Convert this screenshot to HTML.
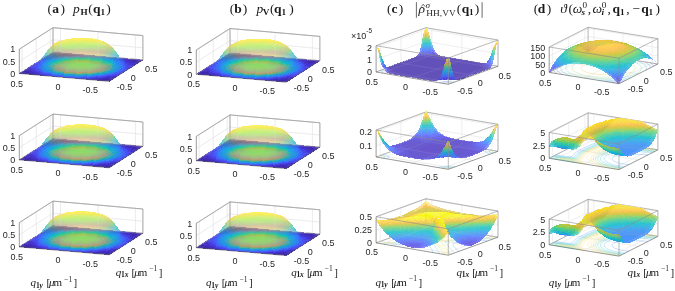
<!DOCTYPE html>
<html><head><meta charset="utf-8"><style>
html,body{margin:0;padding:0;background:#fff;width:675px;height:291px;overflow:hidden}
svg{display:block;position:absolute;left:0;top:0}
#tx{will-change:transform}
text{font-family:"Liberation Sans",sans-serif;font-size:9px;fill:#262626}
.t text{font-family:"Liberation Serif",serif;fill:#1a1a1a}
</style></head><body>
<svg width="675" height="291" viewBox="0 0 675 291">
<defs><filter id="bl" x="-5%" y="-5%" width="110%" height="110%"><feGaussianBlur stdDeviation=".6"/></filter><g id="abs"><g shape-rendering="crispEdges" filter="url(#bl)"><path fill="#ffffff" d="M125.2 59.8l1.8-1.4-2.7-.5-1.8 1.4zM127.2 60l1.8-1.5-2.6-.4-1.8 1.4zM129.3 60.2l1.8-1.5-2.7-.5-1.8 1.5z"/><path fill="#fcfcff" d="M40.1 60.9l1.6-1-2.9.3-1.5 1.2z"/><path fill="#ffffff" d="M91.2 38.3l1.6.9-2.9-.1-1.6-.9zM93.2 38.5l1.6 1-2.9-.2-1.5-.9z"/><path fill="#fcf9b1" d="M95.3 38.8l1.6 1.2-2.9-.4-1.6-.9z"/><path fill="#f9f363" d="M83.5 38.7l1.6-.7-2.8-.2-1.7.5z"/><path fill="#f9f366" d="M71.8 38.8l1.6-.5-3 .5-1.5.1z"/><path fill="#fcf6b4" d="M97.3 39.2l1.6 1.3-2.9-.5-1.5-1.1z"/><path fill="#f9f363" d="M85.5 38.8l1.7-.7-2.9-.3-1.6.6z"/><path fill="#f9f684" d="M73.8 39l1.6-.9-2.9.1-1.6.6z"/><path fill="#ffffff" d="M99.3 39.6l1.6 1.7-2.8-.7-1.6-1.3z"/><path fill="#fcf69c" d="M87.5 39l1.7-.7-2.8-.5-1.7.8z"/><path fill="#f9f684" d="M75.8 39.1l1.7-1-2.9-.2-1.6.9z"/><path fill="#fcf9fc" d="M38.6 61.8l1.5-1.3-2.8.5-1.6 1.4z"/><path fill="#ffffff" d="M64.1 39.6l1.6-.1-2.8 1.3-1.7-.2z"/><path fill="#f9f375" d="M89.6 39.2l1.7-.7-2.8-.5-1.7.7z"/><path fill="#f9f363" d="M77.8 39.2l1.7-1.1-2.8-.3-1.7 1z"/><path fill="#ffffff" d="M66.2 39.6l1.5-.6-2.9.8-1.5.2z"/><path fill="#f9f372" d="M91.6 39.4l1.7-.6-2.8-.6-1.7.7z"/><path fill="#f9f063" d="M79.8 39.4l1.7-1.2-2.7-.4-1.7 1.1z"/><path fill="#f9f066" d="M68.2 39.7l1.6-1-2.9.2-1.6.7z"/><path fill="#f9f063" d="M93.7 39.7l1.6-.6-2.7-.7-1.7.7z"/><path fill="#fcf063" d="M81.8 39.6l1.8-1.3-2.7-.4-1.8 1.2z"/><path fill="#f9f063" d="M70.1 39.8l1.7-1.2-2.8-.1-1.6 1z"/><path fill="#f9f066" d="M95.7 39.9l1.7-.4-2.8-.8-1.7.6z"/><path fill="#fcf063" d="M83.9 39.7l1.7-1.2-2.7-.5-1.7 1.2zM72.1 39.9l1.8-1.3-2.8-.3-1.7 1.2z"/><path fill="#f9f066" d="M97.8 40.2l1.6-.2-2.8-.9-1.6.5z"/><path fill="#ffffff" d="M60.5 40.7l1.6-.4-2.8 1.4-1.6.2z"/><path fill="#fcf063" d="M85.9 39.9l1.8-1.3-2.7-.5-1.8 1.3zM74.2 40l1.7-1.3-2.7-.4-1.7 1.3z"/><path fill="#fcf39f" d="M99.9 40.6l1.6 0-2.8-1-1.7.3z"/><path fill="#f9f9fc" d="M37 63l1.6-1.6-2.8.5-1.6 1.5z"/><path fill="#fcf39c" d="M62.6 40.6l1.6-.8-3 .7-1.5.6z"/><path fill="#fced63" d="M87.9 40.1l1.8-1.3-2.7-.5-1.7 1.3zM76.2 40.2l1.8-1.4-2.7-.4-1.8 1.3z"/><path fill="#fcf087" d="M101.9 41.1l1.6.4-2.8-1.2-1.7 0z"/><path fill="#f9f07b" d="M64.6 40.6l1.6-1.2-2.8.2-1.6 1z"/><path fill="#fced63" d="M90 40.3l1.8-1.3-2.7-.5-1.8 1.3zM78.2 40.3l1.8-1.4-2.7-.4-1.7 1.3z"/><path fill="#fff9e1" d="M104 41.7l1.5.8-2.8-1.4-1.6-.4z"/><path fill="#f9f066" d="M66.5 40.6l1.8-1.3-2.8-.1-1.7 1.2z"/><path fill="#fced63" d="M92 40.5l1.8-1.2-2.7-.6-1.8 1.2zM80.3 40.5l1.7-1.4-2.6-.5-1.8 1.4z"/><path fill="#ffffff" d="M106.1 42.5l1.4 1.3-2.8-1.7-1.5-.7z"/><path fill="#fced63" d="M68.6 40.7l1.7-1.4-2.7-.3-1.8 1.3zM94.1 40.7l1.7-1.1-2.7-.7-1.7 1.2z"/><path fill="#ffffff" d="M56.9 42.3l1.6-.7-2.8 1.7-1.6.6z"/><path fill="#fced63" d="M82.3 40.7l1.8-1.5-2.7-.4-1.8 1.4z"/><path fill="#ffffff" d="M108.1 43.6l1.4 1.7-2.7-2-1.6-1.1z"/><path fill="#fced63" d="M70.6 40.8l1.7-1.4-2.6-.4-1.8 1.4z"/><path fill="#fced66" d="M96.1 40.9l1.8-1-2.7-.7-1.8 1.1z"/><path fill="#ffffff" d="M119.1 56.3l.7 1.3-2-2.3-.7-1.5z"/><path fill="#fced9c" d="M59.1 41.9l1.5-1.1-2.9 1-1.5.9z"/><path fill="#f9ed60" d="M84.4 40.9l1.7-1.5-2.6-.5-1.8 1.5z"/><path fill="#fced63" d="M72.6 41l1.8-1.5-2.7-.4-1.8 1.4z"/><path fill="#ffffff" d="M120.4 58l.7 1.1-2-2.2-.6-1.3z"/><path fill="#f9ed66" d="M98.2 41.2l1.7-.8-2.7-.8-1.7 1z"/><path fill="#f9f9fc" d="M35.4 64.3l1.7-1.8-2.8.4-1.6 1.6z"/><path fill="#fced8a" d="M61 41.7l1.6-1.3-2.8.3-1.6 1.3z"/><path fill="#f9ed60" d="M86.4 41l1.8-1.4-2.7-.5-1.8 1.4z"/><path fill="#ffffff" d="M109.4 44.8l.7.7-2-1.6-.8-.5z"/><path fill="#f9ed60" d="M74.6 41.1l1.8-1.4-2.6-.5-1.8 1.4z"/><path fill="#f9ea69" d="M100.2 41.6l1.8-.7-2.7-.9-1.8.9zM63 41.6l1.7-1.4-2.8 0-1.7 1.3z"/><path fill="#ffffff" d="M110.8 45.9l.7.9-2.1-1.8-.7-.7z"/><path fill="#f6ed60" d="M88.4 41.2l1.8-1.4-2.6-.5-1.8 1.4zM76.7 41.3l1.8-1.5-2.7-.5-1.8 1.5z"/><path fill="#f9e769" d="M102.3 42.1l1.7-.5-2.7-1.1-1.8.7z"/><path fill="#fced66" d="M65 41.6l1.7-1.5-2.7-.2-1.7 1.4z"/><path fill="#f6ed60" d="M90.5 41.4l1.8-1.4-2.7-.5-1.8 1.4z"/><path fill="#ffffff" d="M119 56l.7 1.2-1.7-1.9-.6-1.3zM53.4 44.6l1.5-1.2-2.8 2.2-1.5 1.3z"/><path fill="#f3ed5d" d="M78.7 41.5l1.8-1.5-2.6-.5-1.8 1.5z"/><path fill="#ffffff" d="M119.9 57.5l.8 1-1.6-1.9-.7-1.2z"/><path fill="#f9e46c" d="M104.4 42.7l1.7-.1-2.8-1.4-1.7.4z"/><path fill="#f9ed66" d="M67 41.6l1.8-1.4-2.7-.4-1.8 1.5z"/><path fill="#f6ed60" d="M92.5 41.6l1.8-1.4-2.7-.5-1.7 1.4z"/><path fill="#fcd872" d="M55.5 43.7l1.5-1.4-2.9 1.4-1.5 1.5z"/><path fill="#f3ed5d" d="M80.8 41.7l1.8-1.5-2.7-.5-1.8 1.5z"/><path fill="#fcde6f" d="M106.4 43.6l1.7.2-2.7-1.7-1.7.1z"/><path fill="#fcfcff" d="M40.3 60.3l.7-1-2 2-.8.9z"/><path fill="#f6ed60" d="M69 41.8l1.8-1.5-2.7-.4-1.7 1.4zM94.6 41.8l1.8-1.3-2.7-.6-1.8 1.4z"/><path fill="#ffffff" d="M41.6 58.6l.7-1-1.9 2.3-.8 1z"/><path fill="#fce17b" d="M57.5 43.2l1.5-1.6-2.8.7-1.5 1.6z"/><path fill="#f0ed5d" d="M82.8 41.8l1.8-1.4-2.7-.5-1.8 1.4z"/><path fill="#fce196" d="M108.5 44.8l1.6.6-2.7-2.2-1.7-.2z"/><path fill="#ffffff" d="M133.9 66.1l1.8-1.4-2.7-.5-1.8 1.3zM118.1 55.1l.8 1-1.5-2.1-.8-1.1z"/><path fill="#f3ed5d" d="M71.1 41.9l1.8-1.5-2.7-.4-1.8 1.5z"/><path fill="#ffffff" d="M49.1 48.6l.8-1-2 2.3-.7 1z"/><path fill="#f6ea63" d="M96.6 42l1.8-1.2-2.7-.7-1.8 1.4z"/><path fill="#fcf9fc" d="M33.8 65.6l1.7-1.9-2.7.3-1.7 1.6z"/><path fill="#f9e46c" d="M59.4 42.8l1.7-1.6-2.7.3-1.7 1.6z"/><path fill="#f0ed5d" d="M84.9 42l1.7-1.5-2.6-.5-1.8 1.5z"/><path fill="#f6e7ae" d="M110.5 46.3l1.6 1-2.6-2.6-1.7-.5z"/><path fill="#ffffff" d="M50.5 47.2l.8-.9-2 2-.8.9z"/><path fill="#f0ed5d" d="M73.1 42.1l1.8-1.5-2.7-.5-1.8 1.5z"/><path fill="#f6ea63" d="M98.7 42.3l1.7-1.1-2.6-.8-1.8 1.3z"/><path fill="#f6e769" d="M61.4 42.6l1.7-1.5-2.7-.1-1.7 1.6z"/><path fill="#ffffff" d="M45.7 53.1l.7-1.2-1.6 2.1-.7 1.2z"/><path fill="#e1e49f" d="M111.2 47.5l2.2 1.3-1.4-2.2-2.1-.9z"/><path fill="#f0e4ab" d="M52.6 45.5l.7-.9-2.7 2.2-.7 1z"/><path fill="#eded60" d="M86.9 42.2l1.8-1.5-2.7-.5-1.8 1.5z"/><path fill="#eded5d" d="M75.2 42.3l1.7-1.5-2.6-.5-1.8 1.5z"/><path fill="#ffffff" d="M47 51.3l.7-1.1-1.9 2.4-.7 1.2z"/><path fill="#f6ea66" d="M100.7 42.7l1.8-1-2.7-.9-1.8 1.2z"/><path fill="#c9d2ff" d="M40.9 59.9l.6-1.3-2 2.2-.7 1.1z"/><path fill="#c9e7ae" d="M112.6 48.9l2.2 1.5-1.5-2.3-2-1.2z"/><path fill="#f6ea66" d="M63.4 42.6l1.8-1.6-2.7-.2-1.8 1.6z"/><path fill="#f6d572" d="M54.7 44.3l.7-.8-2.8 1.6-.7.9z"/><path fill="#eded5d" d="M88.9 42.4l1.8-1.5-2.6-.5-1.8 1.5z"/><path fill="#e1eaff" d="M42 58.7l.5-1.4-1.6 1.9-.7 1.3z"/><path fill="#ffffff" d="M48.4 49.7l.7-1.2-2 2.3-.7 1.2z"/><path fill="#c6edcf" d="M114 50.6l2.1 1.6-1.4-2.5-2.1-1.4z"/><path fill="#eaf060" d="M77.2 42.5l1.8-1.5-2.7-.5-1.8 1.5z"/><path fill="#f3e766" d="M102.8 43.2l1.7-.8-2.6-1.1-1.8 1z"/><path fill="#dbeaff" d="M43 57.4l.6-1.5-1.7 1.9-.6 1.4z"/><path fill="#dbedbd" d="M49.8 48.2l.7-1.1-2 2-.7 1.2z"/><path fill="#93e1c6" d="M114.9 51.5l2.2 2.1-.8-1.6-2.3-2z"/><path fill="#f3ed60" d="M65.5 42.6l1.7-1.5-2.6-.3-1.8 1.5z"/><path fill="#eded60" d="M91 42.6l1.8-1.5-2.7-.5-1.8 1.5z"/><path fill="#ffffff" d="M44 56l.6-1.5-1.7 1.9-.6 1.5z"/><path fill="#abe7ea" d="M115.9 53l2.3 2-.9-1.6-2.3-2.1z"/><path fill="#eaf060" d="M79.2 42.6l1.8-1.5-2.6-.4-1.8 1.4z"/><path fill="#f3e469" d="M104.8 43.9l1.8-.6-2.7-1.4-1.8.9z"/><path fill="#c9eaf6" d="M45 54.6l.6-1.5-1.7 1.9-.6 1.5z"/><path fill="#d2d572" d="M51.9 46.4l.7-1-2.8 2.3-.7 1.1z"/><path fill="#57cfd5" d="M116.9 54.5l2.3 2-.9-1.7-2.2-2z"/><path fill="#eded60" d="M67.5 42.8l1.8-1.5-2.7-.5-1.8 1.6z"/><path fill="#eaed60" d="M93 42.8l1.8-1.5-2.6-.5-1.8 1.4z"/><path fill="#f3de6c" d="M55.9 44.7l1.6-2-2.7.7-1.7 2.2z"/><path fill="#60c0ea" d="M117.9 56.1l2.3 1.8-.9-1.7-2.2-1.9z"/><path fill="#e7f063" d="M81.3 42.8l1.8-1.5-2.7-.5-1.8 1.5z"/><path fill="#f0e16c" d="M106.8 44.8l1.8-.3-2.6-1.7-1.8.6z"/><path fill="#ffffff" d="M132.3 67.1l1.9-1.4-2.7-.6-1.8 1.2z"/><path fill="#edd572" d="M53.9 45.2l.7-1-2.8 1.7-.7 1.1z"/><path fill="#69b4f3" d="M119 57.8l2.2 1.5-.8-1.7-2.3-1.8z"/><path fill="#7ea8fc" d="M41.2 60.4l.6-1.9-1.8 1.5-.5 1.7z"/><path fill="#eaed60" d="M69.5 42.9l1.8-1.5-2.6-.4-1.8 1.5z"/><path fill="#84dba8" d="M47.7 51l.6-1.4-2 2.3-.6 1.4z"/><path fill="#eded60" d="M95.1 43l1.8-1.4-2.7-.6-1.8 1.4z"/><path fill="#ffffff" d="M32.2 66.9l1.8-1.8-2.7 0-1.7 1.6z"/><path fill="#f0e469" d="M57.8 44.2l1.7-1.9-2.6.3-1.7 2z"/><path fill="#7baef9" d="M42.2 59.1l.6-2-1.7 1.7-.6 1.8z"/><path fill="#e4f063" d="M83.3 43l1.8-1.5-2.7-.5-1.7 1.5z"/><path fill="#eddb6f" d="M108.9 46.1l1.7 0-2.6-2.1-1.8.3z"/><path fill="#9cdb93" d="M49.1 49.5l.6-1.3-2.1 1.9-.6 1.5z"/><path fill="#6cb4f3" d="M43.2 57.8l.6-2-1.7 1.6-.6 1.9z"/><path fill="#e7f063" d="M71.6 43.1l1.8-1.5-2.7-.5-1.8 1.5z"/><path fill="#eded60" d="M97.1 43.2l1.8-1.3-2.7-.7-1.8 1.4z"/><path fill="#bdd87e" d="M50.5 48.3l.6-1.4-2.1 1.7-.6 1.5z"/><path fill="#ede766" d="M59.9 43.9l1.7-1.8-2.7 0-1.7 1.9z"/><path fill="#60c0ea" d="M44.2 56.4l.6-2-1.7 1.6-.5 2z"/><path fill="#e1d578" d="M109.9 47.3l2.1.1-1.7-1.9-2 0z"/><path fill="#e1f066" d="M85.4 43.2l1.8-1.5-2.7-.5-1.8 1.5z"/><path fill="#e4f066" d="M73.6 43.3l1.8-1.5-2.7-.5-1.7 1.5z"/><path fill="#d5d578" d="M51.8 47.3l.7-1.4-2.2 1.3-.6 1.5z"/><path fill="#57ccd8" d="M45.6 54.2l.6-1.6-2 2.4-.6 1.6z"/><path fill="#eaed63" d="M99.2 43.5l1.8-1.3-2.7-.7-1.8 1.4z"/><path fill="#c9d57b" d="M111.3 48.6l2 .3-1.6-2.1-2-.2z"/><path fill="#edea63" d="M61.9 43.7l1.7-1.7-2.6-.2-1.8 1.8z"/><path fill="#e1f066" d="M87.4 43.4l1.8-1.5-2.7-.5-1.8 1.5z"/><path fill="#e4d578" d="M53.2 46.4l.7-1.4-2.2 1-.6 1.6z"/><path fill="#66d2c6" d="M47 52.6l.6-1.7-2.1 2.2-.6 1.7z"/><path fill="#abd88a" d="M112.7 50.1l2 .5-1.7-2.4-2-.4z"/><path fill="#def069" d="M75.7 43.4l1.8-1.5-2.7-.4-1.8 1.4z"/><path fill="#eaed66" d="M101.2 43.9l1.8-1.1-2.7-.9-1.8 1.3z"/><path fill="#81d8ae" d="M48.3 51.1l.6-1.7-2 1.9-.6 1.8z"/><path fill="#90d89f" d="M113.5 51.2l2.2.8-1.1-2-2.2-.7z"/><path fill="#eaed63" d="M63.9 43.7l1.8-1.6-2.7-.3-1.7 1.7z"/><path fill="#7eb1f6" d="M42.1 59.5l.6-1.8-2 2.2-.6 1.7z"/><path fill="#eadb72" d="M55.2 45.2l.7-1.1-2.8 1.2-.7 1.3z"/><path fill="#e1f066" d="M89.5 43.5l1.7-1.4-2.6-.5-1.8 1.4z"/><path fill="#72d5b7" d="M114.5 52.6l2.2.8-1.1-2.1-2.2-.7z"/><path fill="#def069" d="M77.7 43.6l1.8-1.5-2.7-.5-1.8 1.5z"/><path fill="#a2d890" d="M49.7 49.7l.6-1.7-2.1 1.7-.6 1.8z"/><path fill="#e7ea69" d="M103.2 44.5l1.8-1-2.6-1.1-1.8 1.1z"/><path fill="#6cb7f0" d="M43.5 57.8l.6-1.9-2.1 2.3-.6 1.8z"/><path fill="#69cfcc" d="M115.5 54.1l2.2.8-1.1-2.2-2.1-.7z"/><path fill="#e4f066" d="M66 43.8l1.7-1.6-2.6-.4-1.8 1.6z"/><path fill="#e7e16c" d="M57.3 44.6l.7-1-2.9.7-.7 1.2z"/><path fill="#def069" d="M91.5 43.7l1.8-1.5-2.7-.5-1.8 1.5z"/><path fill="#c0d57e" d="M51.1 48.6l.6-1.7-2.1 1.4-.6 1.8z"/><path fill="#60c0e7" d="M44.9 56.1l.5-2-2 2.2-.6 2z"/><path fill="#5dc9db" d="M116.6 55.6l2.1.8-1.1-2.2-2.1-.8z"/><path fill="#d8f06c" d="M79.8 43.8l1.7-1.5-2.6-.5-1.8 1.5z"/><path fill="#e4e76c" d="M105.3 45.4l1.8-.9-2.6-1.4-1.9 1z"/><path fill="#d5d581" d="M52.4 47.6l.7-1.6-2.1 1.1-.7 1.8z"/><path fill="#60bdea" d="M117.6 57.2l2.1.8-1-2.2-2.2-.8z"/><path fill="#e1f066" d="M68 43.9l1.8-1.5-2.7-.5-1.8 1.6z"/><path fill="#63ccd5" d="M46.2 54.4l.6-2-2.1 2.1-.5 2z"/><path fill="#def069" d="M93.5 43.9l1.8-1.4-2.6-.6-1.8 1.5z"/><path fill="#6fbaf0" d="M118.7 58.8l2.1.7-1.1-2.2-2.2-.8z"/><path fill="#d8f06c" d="M81.8 44l1.8-1.5-2.7-.5-1.8 1.5z"/><path fill="#e1e175" d="M107.3 46.5l1.8-.7-2.6-1.8-1.8.9z"/><path fill="#72d2c0" d="M47.6 52.8l.5-2-2 1.9-.6 2.1z"/><path fill="#ded87b" d="M54.5 46.3l.7-1.3-2.9 1.3-.7 1.5z"/><path fill="#def069" d="M70 44.1l1.8-1.5-2.6-.5-1.8 1.5zM95.6 44.2l1.8-1.5-2.7-.6-1.8 1.5z"/><path fill="#8ad8a5" d="M48.9 51.4l.6-2-2 1.6-.6 2.2z"/><path fill="#7bb7f3" d="M42.7 59.7l.6-2.2-2.1 2.1-.5 2.1z"/><path fill="#e1e76f" d="M58.3 45.4l1.7-2.1-2.6.1-1.7 2.3z"/><path fill="#dbd87e" d="M108.5 47.5l2-.6-1.8-1.6-2 .7z"/><path fill="#d5f06f" d="M83.8 44.1l1.8-1.4-2.6-.5-1.8 1.5z"/><path fill="#e1e175" d="M56.5 45.6l.7-1.2-2.8.8-.7 1.4z"/><path fill="#d8f06c" d="M72.1 44.2l1.8-1.5-2.7-.4-1.8 1.5z"/><path fill="#a8d58d" d="M50.3 50.2l.6-2-2 1.3-.7 2.2z"/><path fill="#6cbaf0" d="M44.1 58.1l.5-2.4-2 2.2-.6 2.2z"/><path fill="#dbf06c" d="M97.6 44.5l1.8-1.5-2.6-.6-1.8 1.4z"/><path fill="#cfd587" d="M109.8 48.7l2-.4-1.7-1.9-2 .5z"/><path fill="#e1ea6c" d="M60.3 45.1l1.8-1.9-2.6-.1-1.8 2.1z"/><path fill="#d5f06f" d="M85.9 44.3l1.8-1.5-2.7-.5-1.8 1.5z"/><path fill="#bdd587" d="M51.6 49.1l.7-1.9-2 1.1-.7 2.1z"/><path fill="#60c0e4" d="M45.4 56.4l.6-2.4-2 2-.6 2.4z"/><path fill="#bad287" d="M111.2 50.1l2-.3-1.7-2.1-2 .4z"/><path fill="#d5f06f" d="M74.1 44.4l1.8-1.5-2.6-.5-1.8 1.5z"/><path fill="#dbf06f" d="M99.7 44.9l1.8-1.4-2.7-.8-1.8 1.4z"/><path fill="#6cccd2" d="M46.8 54.8l.6-2.4-2 1.8-.6 2.5z"/><path fill="#a5d593" d="M112.1 51.3l2.1-.2-1.3-1.9-2.1.3z"/><path fill="#deed6c" d="M62.4 45l1.8-1.8-2.7-.3-1.8 2z"/><path fill="#cfd587" d="M53.7 47.5l.7-1.5-2.9 1.5-.6 1.7z"/><path fill="#d2f072" d="M87.9 44.5l1.8-1.5-2.7-.5-1.7 1.5z"/><path fill="#8dd5a5" d="M113.1 52.6l2.1-.1-1.2-2-2.1.2z"/><path fill="#d2f072" d="M76.2 44.6l1.8-1.5-2.7-.5-1.8 1.5z"/><path fill="#7bd2ba" d="M48.1 53.3l.6-2.4-2 1.7-.6 2.4z"/><path fill="#dbed72" d="M101.7 45.4l1.8-1.3-2.6-1-1.9 1.4z"/><path fill="#7ed2ba" d="M114.1 54l2.1 0-1.2-2.2-2.1.2z"/><path fill="#dbf06f" d="M64.4 45l1.8-1.7-2.6-.4-1.8 1.8z"/><path fill="#d5db81" d="M55.8 46.6l.6-1.3-2.8.9-.7 1.6z"/><path fill="#d5f06f" d="M90 44.7l1.8-1.5-2.7-.5-1.8 1.5z"/><path fill="#8dd5a5" d="M49.5 52l.6-2.4-2 1.4-.6 2.5z"/><path fill="#6fcccf" d="M115.2 55.6l2-.1-1.2-2.2-2.1.1z"/><path fill="#cff075" d="M78.2 44.8l1.8-1.5-2.7-.5-1.7 1.5z"/><path fill="#6cbdea" d="M44.9 57.5l.3-1.6-2 2.3-.3 1.5z"/><path fill="#d8ea75" d="M103.7 46.2l1.9-1.3-2.7-1.2-1.8 1.3z"/><path fill="#a5d593" d="M50.8 50.8l.7-2.3-2 1.2-.7 2.4z"/><path fill="#66c3de" d="M116.2 57.2l2.1-.1-1.3-2.3-2.1.1z"/><path fill="#d8f06f" d="M66.5 45l1.8-1.6-2.7-.4-1.8 1.7z"/><path fill="#d5e47b" d="M57.8 46.1l.7-1.3-2.8.5-.8 1.5z"/><path fill="#d2f072" d="M92 44.9l1.8-1.5-2.7-.5-1.8 1.5z"/><path fill="#66c3db" d="M46.3 55.8l.3-1.5-2 2.1-.3 1.6z"/><path fill="#ffffff" d="M29.2 69.2l1.8-1.6-2.7-.4-1.8 1.5z"/><path fill="#6cc0e7" d="M117.2 58.8l2.1-.1-1.3-2.3-2 .1z"/><path fill="#cff075" d="M80.3 44.9l1.8-1.4-2.7-.5-1.8 1.5z"/><path fill="#d2e47e" d="M105.7 47.3l1.9-1.2-2.6-1.6-1.9 1.2z"/><path fill="#bdd28d" d="M52.9 49l.7-1.8-2.8 1.6-.7 2z"/><path fill="#72cccc" d="M47.7 54.3l.3-1.6-2.1 2-.3 1.7z"/><path fill="#d2f072" d="M68.5 45.1l1.8-1.6-2.7-.4-1.7 1.6z"/><path fill="#d5ea78" d="M59.8 45.7l.8-1.2-2.9.3-.8 1.3z"/><path fill="#d2f075" d="M94 45.2l1.8-1.5-2.6-.6-1.8 1.5z"/><path fill="#ccf078" d="M82.3 45.1l1.8-1.5-2.7-.5-1.8 1.5z"/><path fill="#84d2b7" d="M49 52.9l.3-1.5-2 1.8-.3 1.6z"/><path fill="#ccdb8a" d="M107.8 48.8l1.8-1.1-2.5-2.1-1.9 1.2z"/><path fill="#ccd58d" d="M55 47.9l.7-1.6-2.9 1.1-.6 1.9z"/><path fill="#cff075" d="M70.6 45.3l1.7-1.6-2.6-.5-1.8 1.6z"/><path fill="#66c0e1" d="M45.8 57.3l.3-1.7-2 2.1-.4 1.7z"/><path fill="#d2ed78" d="M61.8 45.5l.8-1.1-2.8.1-.8 1.2z"/><path fill="#cff075" d="M96.1 45.5l1.8-1.5-2.7-.7-1.8 1.5z"/><path fill="#99d2a2" d="M50.4 51.7l.3-1.6-2.1 1.6-.3 1.7z"/><path fill="#ccf078" d="M84.3 45.3l1.8-1.5-2.6-.5-1.8 1.5z"/><path fill="#c0d293" d="M109.8 50.8l1.9-1-2.6-2.6-1.9 1z"/><path fill="#6cc3d8" d="M47.2 55.8l.3-1.7-2.1 2-.3 1.7z"/><path fill="#ccde87" d="M57 47.2l.7-1.5-2.8.7-.7 1.7z"/><path fill="#ccf078" d="M72.6 45.4l1.8-1.5-2.7-.5-1.8 1.6z"/><path fill="#abd293" d="M52.4 50l.4-1.3-2.8 1.9-.4 1.5z"/><path fill="#d2ed78" d="M63.9 45.4l.8-1-2.9 0-.8 1z"/><path fill="#cff07b" d="M98.1 45.9l1.8-1.5-2.6-.8-1.8 1.5z"/><path fill="#78c9c9" d="M48.5 54.4l.3-1.8-2 1.9-.3 1.7z"/><path fill="#abd293" d="M110.6 52l2.1-1-1.3-1.8-2.1 1.1z"/><path fill="#c9f078" d="M86.4 45.5l1.8-1.5-2.7-.5-1.8 1.5z"/><path fill="#cce481" d="M59 46.7l.8-1.4-2.8.4-.8 1.6z"/><path fill="#9cd2a2" d="M111.6 53.3l2.1-1-1.3-1.9-2.1 1z"/><path fill="#ccf078" d="M74.6 45.6l1.8-1.5-2.6-.5-1.8 1.5z"/><path fill="#8acfb4" d="M49.9 53.1l.3-1.7-2.1 1.6-.3 1.8z"/><path fill="#c0d293" d="M54.5 48.8l.4-1.2-2.9 1.4-.3 1.4z"/><path fill="#cced7e" d="M100.1 46.5l1.9-1.6-2.6-.9-1.9 1.5z"/><path fill="#8dcfb4" d="M112.7 54.7l2-.9-1.3-2-2.1.9z"/><path fill="#ccf078" d="M88.4 45.7l1.8-1.5-2.6-.5-1.8 1.5z"/><path fill="#cce781" d="M61.1 46.4l.8-1.2-2.9.1-.8 1.4z"/><path fill="#a2cf9f" d="M51.9 51.2l.4-1.4-2.8 2-.4 1.6z"/><path fill="#7bc9c9" d="M113.7 56.2l2-.9-1.3-2.1-2.1.9z"/><path fill="#c9f07b" d="M76.7 45.8l1.8-1.5-2.7-.5-1.8 1.5z"/><path fill="#ccea81" d="M102.2 47.3l1.8-1.6-2.6-1.1-1.8 1.5z"/><path fill="#75c6cf" d="M48 55.9l.3-1.9-2 1.8-.3 2z"/><path fill="#7bc6d8" d="M114.7 57.8l2.1-.9-1.4-2.2-2 .9z"/><path fill="#cced7b" d="M64.9 46.4l1.8-1.9-2.6-.4-1.8 2.1z"/><path fill="#c6d590" d="M56.2 48.6l.7-1.8-2.8.9-.7 2z"/><path fill="#c9f07b" d="M90.5 46l1.8-1.6-2.7-.5-1.8 1.5z"/><path fill="#ffffff" d="M27.7 70.2l1.7-1.5-2.6-.5-1.8 1.5z"/><path fill="#cced7e" d="M63.1 46.2l.8-1.1-2.9 0-.8 1.3z"/><path fill="#7ec9c3" d="M49.4 54.6l.3-1.9-2.1 1.6-.3 2z"/><path fill="#b7cf96" d="M54 49.9l.4-1.4-2.9 1.6-.3 1.6z"/><path fill="#72c6e1" d="M115.7 59.4l2.1-.9-1.4-2.2-2 .9z"/><path fill="#c9ed7b" d="M78.7 46l1.8-1.6-2.6-.5-1.8 1.6z"/><path fill="#c9e187" d="M104.2 48.5l1.9-1.6-2.6-1.6-1.9 1.6z"/><path fill="#c9ed7e" d="M67 46.4l1.8-1.8-2.7-.4-1.8 1.9z"/><path fill="#c6de8d" d="M58.3 47.9l.7-1.6-2.8.5-.8 1.9z"/><path fill="#c9ed7e" d="M92.5 46.3l1.8-1.6-2.6-.6-1.8 1.5z"/><path fill="#96cfab" d="M51.4 52.6l.4-1.6-2.8 2.2-.4 1.7z"/><path fill="#c6ed7e" d="M80.8 46.2l1.8-1.6-2.7-.5-1.8 1.6z"/><path fill="#c3d893" d="M106.2 50l1.9-1.6-2.6-2-1.9 1.6z"/><path fill="#c9ed7e" d="M69 46.5l1.8-1.8-2.6-.4-1.8 1.8z"/><path fill="#c6e18a" d="M60.3 47.5l.8-1.5-2.9.3-.7 1.7z"/><path fill="#c6ed81" d="M94.5 46.6l1.9-1.6-2.7-.7-1.8 1.6z"/><path fill="#7bc6c9" d="M48.9 56.2l.3-2.1-2.1 1.7-.3 2.1z"/><path fill="#b1cc99" d="M53.5 51.2l.3-1.6-2.8 1.8-.3 1.6z"/><path fill="#c6ed7e" d="M82.8 46.4l1.8-1.6-2.7-.5-1.7 1.5z"/><path fill="#bdcc99" d="M108.2 52.1l1.9-1.7-2.5-2.5-1.9 1.6z"/><path fill="#bdcf99" d="M55.5 50.3l.6-2.2-2.7 1.1-.7 2.3z"/><path fill="#87c9ba" d="M50.2 54.9l.3-2-2 1.5-.3 2.1z"/><path fill="#c6ed7e" d="M71 46.6l1.9-1.7-2.7-.5-1.8 1.8z"/><path fill="#c6e787" d="M62.3 47.2l.8-1.3-2.8.1-.8 1.5z"/><path fill="#c6ed84" d="M96.6 47.1l1.8-1.7-2.6-.8-1.9 1.7z"/><path fill="#b1cc99" d="M109.1 53.3l2.1-1.8-1.4-1.6-2.1 1.7z"/><path fill="#c3ed81" d="M84.8 46.6l1.8-1.6-2.6-.5-1.8 1.5z"/><path fill="#99ccab" d="M51.6 53.8l.3-2-2 1.3-.4 2.1z"/><path fill="#c0d596" d="M57.5 49.4l.7-2-2.8.8-.7 2.2z"/><path fill="#a2c9a5" d="M110.1 54.6l2.1-1.8-1.4-1.7-2.1 1.7z"/><path fill="#c3ed81" d="M73.1 46.8l1.8-1.7-2.6-.5-1.8 1.7z"/><path fill="#c3ea87" d="M64.4 47.1l.8-1.3-2.9 0-.8 1.4zM98.6 47.8l1.8-1.8-2.6-.9-1.8 1.7z"/><path fill="#abcc9c" d="M52.9 52.8l.4-1.9-2 1.1-.4 2z"/><path fill="#93c9b7" d="M111.2 56l2-1.7-1.4-1.9-2 1.7z"/><path fill="#c3ed81" d="M86.9 46.8l1.8-1.6-2.7-.5-1.8 1.6z"/><path fill="#c0db90" d="M59.5 48.8l.8-1.8-2.8.5-.8 2z"/><path fill="#8accc9" d="M112.2 57.5l2-1.7-1.4-2-2 1.7z"/><path fill="#c3ed81" d="M75.1 46.9l1.8-1.6-2.6-.5-1.8 1.7z"/><path fill="#bac999" d="M55 51.4l.4-1.6-2.8 1.4-.4 1.7z"/><path fill="#c3ea87" d="M66.4 47.1l.8-1.2-2.8-.2-.8 1.3z"/><path fill="#c0e48d" d="M100.6 48.8l1.9-2-2.6-1.2-1.9 1.8z"/><path fill="#8acfd5" d="M113.2 59.1l2.1-1.7-1.4-2.1-2.1 1.8z"/><path fill="#c0ed84" d="M88.9 47.1l1.8-1.7-2.6-.5-1.8 1.6z"/><path fill="#c3d599" d="M104.8 50.2l1.1-1.1-2-1.5-1 1.1z"/><path fill="#c0e190" d="M61.6 48.4l.7-1.6-2.8.2-.7 1.8z"/><path fill="#c0ed84" d="M77.2 47.1l1.8-1.7-2.7-.5-1.8 1.7z"/><path fill="#c3cc9f" d="M57 50.4l.4-1.5-2.8 1.1-.4 1.6z"/><path fill="#c0ea87" d="M68.5 47.1l.8-1.1-2.9-.2-.8 1.1z"/><path fill="#c0db93" d="M102.6 50.1l1.9-2.1-2.5-1.5-1.9 1.9z"/><path fill="#c6cc9f" d="M106.2 51.5l1.1-1.2-2-1.7-1.1 1.1z"/><path fill="#c0ea87" d="M90.9 47.5l1.9-1.8-2.7-.6-1.8 1.7z"/><path fill="#bde48d" d="M63.6 48.2l.8-1.5-2.8 0-.8 1.7z"/><path fill="#b7c999" d="M54.5 52.8l.3-1.8-2.7 1.6-.4 1.9z"/><path fill="#bdc99c" d="M107.5 52.9l1.1-1.2-1.9-1.9-1.1 1.1z"/><path fill="#c0ed84" d="M79.2 47.3l1.8-1.7-2.6-.5-1.8 1.7z"/><path fill="#c6d29c" d="M59.1 49.7l.4-1.4-2.8.8-.5 1.5z"/><path fill="#c0ea87" d="M70.5 47.2l.8-1.1-2.8-.3-.9 1.2z"/><path fill="#b1c69f" d="M108.5 54.2l1.1-1.3-1.5-1.7-1.1 1.2z"/><path fill="#bdea8a" d="M93 48l1.8-1.9-2.6-.7-1.8 1.8z"/><path fill="#bde78d" d="M65.6 48.1l.9-1.4-2.9-.1-.8 1.5z"/><path fill="#bdc69c" d="M56.5 51.8l.4-1.7-2.8 1.1-.4 1.9z"/><path fill="#c0ea87" d="M81.3 47.6l1.8-1.8-2.7-.5-1.8 1.7z"/><path fill="#a2c6ab" d="M109.5 55.5l1.2-1.3-1.6-1.8-1.1 1.2z"/><path fill="#c3d896" d="M61.1 49.3l.5-1.3-2.9.4-.5 1.5z"/><path fill="#c6cf9c" d="M104 51.2l1.1-1.4-1.9-1.5-1.1 1.3z"/><path fill="#9cccba" d="M110.5 57l1.2-1.3-1.5-2-1.2 1.2z"/><path fill="#bde78d" d="M95 48.7l1.9-2.1-2.6-.8-1.9 1.9zM67.7 48.1l.8-1.4-2.8-.2-.9 1.5z"/><path fill="#c6c99f" d="M58.6 51l.4-1.6-2.8.8-.5 1.8zM105.4 52.5l1.1-1.4-1.9-1.7-1.1 1.3z"/><path fill="#bdea87" d="M83.3 47.9l1.8-1.9-2.6-.5-1.8 1.8z"/><path fill="#96d2c9" d="M111.5 58.5l1.2-1.3-1.5-2.1-1.2 1.3z"/><path fill="#c0de93" d="M100 49.6l1-1.2-2.8-1.4-.9 1.2z"/><path fill="#bdea8a" d="M71.5 48.4l1.8-2.2-2.5-.4-1.9 2.2z"/><path fill="#c3db96" d="M62.8 49.6l.8-1.9-2.7.2-.9 2z"/><path fill="#c0e193" d="M97 49.5l1.9-2.2-2.6-1-1.8 2z"/><path fill="#bac39c" d="M106.7 54l1.1-1.4-1.9-2-1.1 1.3z"/><path fill="#bde78d" d="M69.7 48.1l.9-1.3-2.9-.2-.8 1.3z"/><path fill="#c6cf9c" d="M60.6 50.4l.4-1.5-2.8.6-.5 1.6z"/><path fill="#c0ea8a" d="M85.3 48.2l1.9-1.9-2.7-.6-1.8 1.9z"/><path fill="#c6d599" d="M102 51l1-1.3-2.7-1.7-1 1.2z"/><path fill="#b1c6a5" d="M107.7 55.2l1.2-1.4-1.5-1.8-1.2 1.5z"/><path fill="#c0e78d" d="M73.6 48.5l1.8-2.1-2.6-.5-1.8 2.2z"/><path fill="#c0de93" d="M64.8 49.4l.9-1.8-2.8 0-.8 1.9z"/><path fill="#c0e790" d="M90.4 48.1l.9-1.1-2.9-.6-.9 1z"/><path fill="#c0c39f" d="M58 52.4l.5-1.9-2.8 1-.5 2z"/><path fill="#a8ccb1" d="M108.7 56.6l1.2-1.5-1.5-1.8-1.2 1.4z"/><path fill="#c0e78d" d="M87.4 48.6l1.8-2-2.6-.6-1.8 1.9z"/><path fill="#c9c9a2" d="M103.3 52.2l1.1-1.5-2-1.5-1.1 1.4z"/><path fill="#ffffff" d="M24.6 72.1l1.8-1.5-2.7-.4-1.8 1.4z"/><path fill="#a2d5c0" d="M109.8 58.1l1.1-1.5-1.5-2-1.2 1.5z"/><path fill="#c0e78d" d="M75.6 48.7l1.8-2.2-2.6-.4-1.8 2.2z"/><path fill="#c0de93" d="M66.9 49.3l.8-1.7-2.8-.1-.8 1.8z"/><path fill="#c0e490" d="M92.4 48.7l.9-1.2-2.8-.7-.9 1.1z"/><path fill="#c3c3a2" d="M104.6 53.6l1.1-1.5-1.9-1.8-1.1 1.5z"/><path fill="#c6c6a2" d="M60.1 51.7l.4-1.7-2.8.7-.4 1.8z"/><path fill="#9fdbc9" d="M110.8 59.6l1.1-1.5-1.5-2-1.1 1.4z"/><path fill="#c6d899" d="M99.2 50.7l1-1.5-2.7-1.4-1 1.3z"/><path fill="#c0e78d" d="M80.7 48.2l.8-1.1-2.8-.5-.9 1.1z"/><path fill="#c9cc9f" d="M62 51.3l.8-2.3-2.7.3-.8 2.5z"/><path fill="#bac39f" d="M106 55.2l1.1-1.6-1.9-2-1.1 1.5z"/><path fill="#c0e790" d="M77.6 49l1.9-2.2-2.6-.5-1.8 2.2z"/><path fill="#c0e193" d="M68.9 49.3l.9-1.6-2.8-.2-.9 1.6z"/><path fill="#c3e193" d="M94.4 49.5l.9-1.3-2.7-1-1 1.2z"/><path fill="#c9cc9f" d="M101.2 52.2l1-1.5-2.7-1.9-1 1.4z"/><path fill="#b4ccab" d="M106.9 56.5l1.2-1.7-1.5-1.7-1.2 1.6z"/><path fill="#c3e790" d="M82.7 48.5l.9-1.1-2.8-.5-.9 1.1z"/><path fill="#c9cf9c" d="M64 51l.9-2.2-2.7.2-.9 2.3z"/><path fill="#c3c0a2" d="M59.7 52.7l.3-1.5-2.8.9-.3 1.6z"/><path fill="#c3e493" d="M89.6 49l.9-1.2-2.8-.7-.9 1.1z"/><path fill="#aed5b7" d="M108 57.9l1.1-1.7-1.5-1.8-1.2 1.6z"/><path fill="#c3e193" d="M71 49.3l.8-1.5-2.8-.3-.8 1.6z"/><path fill="#c6db99" d="M96.4 50.6l1-1.5-2.8-1.3-.9 1.4z"/><path fill="#c9c3a5" d="M102.5 53.5l1.1-1.7-1.9-1.6-1.1 1.6z"/><path fill="#a8dbc0" d="M109 59.4l1.2-1.7-1.6-2-1.1 1.7z"/><path fill="#c3e493" d="M84.7 49l.9-1.3-2.8-.6-.9 1.2z"/><path fill="#c6d29c" d="M66.1 50.8l.8-2.1-2.7 0-.8 2.2z"/><path fill="#c3de96" d="M91.6 49.8l.9-1.4-2.7-.9-1 1.3z"/><path fill="#c3c39f" d="M103.8 55l1.2-1.8-1.9-1.8-1.2 1.6z"/><path fill="#c9c0a5" d="M61.6 52.6l.5-1.9-2.8.6-.5 2z"/><path fill="#c3e196" d="M73 49.5l.9-1.6-2.8-.3-.9 1.6z"/><path fill="#c9cf9f" d="M98.4 51.9l1-1.6-2.7-1.6-1 1.4z"/><path fill="#c3e493" d="M79.9 49.2l.9-1.4-2.8-.5-.9 1.3z"/><path fill="#c3e193" d="M86.8 49.5l.9-1.4-2.8-.6-.9 1.2z"/><path fill="#c0cca5" d="M105.2 56.6l1.1-1.8-1.9-2.1-1.1 1.8z"/><path fill="#c6d599" d="M68.1 50.7l.9-1.9-2.7-.2-.9 2.1z"/><path fill="#c6d899" d="M93.6 50.7l1-1.6-2.8-1.1-.9 1.4z"/><path fill="#ccc3a5" d="M63.6 52.2l.5-1.8-2.8.4-.5 1.8z"/><path fill="#c3de96" d="M75 49.7l.9-1.5-2.8-.4-.9 1.5z"/><path fill="#ccc3a5" d="M100.4 53.6l1.1-1.7-2.7-2-1 1.5z"/><path fill="#badbb1" d="M106.2 58l1.1-2-1.5-1.7-1.1 1.9z"/><path fill="#c3e193" d="M81.9 49.6l.9-1.4-2.8-.6-.9 1.4z"/><path fill="#c6de96" d="M88.8 50.1l.9-1.5-2.8-.8-.9 1.4z"/><path fill="#b4e1ba" d="M107.2 59.4l1.2-1.9-1.5-1.9-1.2 1.9z"/><path fill="#c6d599" d="M70.2 50.8l.8-2-2.7-.2-.9 2z"/><path fill="#c9cf9c" d="M95.6 51.9l1-1.8-2.7-1.3-1 1.5z"/><path fill="#ccc39f" d="M101.7 55l1.1-2-1.9-1.6-1.1 1.8z"/><path fill="#ccc6a2" d="M65.6 52l.6-1.7-2.8.1-.6 1.8z"/><path fill="#c6de96" d="M77.1 50l.9-1.6-2.8-.4-.9 1.5z"/><path fill="#ffffff" d="M23.1 73.1l1.7-1.5-2.6-.5-1.8 1.5z"/><path fill="#c6de96" d="M83.9 50.1l1-1.5-2.8-.7-.9 1.4z"/><path fill="#c6d899" d="M90.8 51l1-1.7-2.8-1-.9 1.5z"/><path fill="#c9cc9f" d="M103.1 56.5l1.1-2-1.9-1.9-1.1 2z"/><path fill="#c6d599" d="M72.2 50.9l.9-1.9-2.8-.3-.8 1.9z"/><path fill="#ccc0a5" d="M63.1 53.7l.5-2-2.8.4-.5 2.1z"/><path fill="#ccc6a5" d="M97.6 53.4l1.1-1.9-2.7-1.7-1 1.6z"/><path fill="#ccc9a2" d="M67.7 51.9l.5-1.7-2.8 0-.5 1.7z"/><path fill="#c6db99" d="M79.1 50.4l.9-1.7-2.8-.5-.9 1.6z"/><path fill="#c6d899" d="M86 50.7l.9-1.6-2.8-.8-.9 1.5z"/><path fill="#c3dbab" d="M104.4 58.3l1.2-2.1-1.9-2.1-1.2 2z"/><path fill="#c9cf9f" d="M92.8 52l1-1.8-2.7-1.2-1 1.6z"/><path fill="#c6d59c" d="M74.2 51.2l.9-2-2.7-.4-.9 2z"/><path fill="#cfc0a8" d="M65.1 53.4l.5-1.9-2.7.2-.6 2z"/><path fill="#d2c3a2" d="M99.6 55.2l1.1-2-2.7-2.1-1 1.8z"/><path fill="#bde1b4" d="M105.4 59.7l1.2-2.2-1.5-1.8-1.2 2.2z"/><path fill="#c9cc9f" d="M69.7 51.9l.6-1.6-2.8-.2-.6 1.7z"/><path fill="#c6d899" d="M81.1 50.9l.9-1.8-2.7-.6-.9 1.7z"/><path fill="#c9d29c" d="M88 51.5l.9-1.8-2.7-.9-.9 1.6z"/><path fill="#cfc6a2" d="M94.8 53.4l1.1-2-2.7-1.5-1.1 1.8z"/><path fill="#d2cf9f" d="M100.9 56.7l1.2-2.2-1.9-1.7-1.2 2.1z"/><path fill="#c9d29c" d="M76.3 51.5l.9-2-2.8-.5-.9 2z"/><path fill="#d5c3a8" d="M67.1 53.3l.6-1.9-2.8 0-.5 2z"/><path fill="#d5c3a5" d="M96.4 53.9l.8-1.5-2-1.4-.8 1.4z"/><path fill="#cccca2" d="M71.7 52l.6-1.6-2.8-.2-.6 1.6z"/><path fill="#c9d29c" d="M83.1 51.5l1-1.9-2.7-.7-1 1.7z"/><path fill="#cccc9f" d="M90 52.5l1-2-2.7-1.1-1 1.8z"/><path fill="#cfdba5" d="M102.3 58.3l1.1-2.2-1.9-2-1.1 2.2z"/><path fill="#d8c6a2" d="M97.8 55.1l.8-1.6-2-1.5-.8 1.5z"/><path fill="#c9cf9f" d="M78.3 51.9l.9-2-2.7-.6-.9 2z"/><path fill="#d5c3a5" d="M69.2 53.3l.6-1.9-2.8-.1-.6 1.9z"/><path fill="#ccc9a2" d="M73.8 52.3l.6-1.6-2.8-.4-.6 1.6z"/><path fill="#cccf9f" d="M85.2 52.2l.9-2-2.7-.9-.9 1.9z"/><path fill="#c9e7b1" d="M103.7 60.1l1.1-2.3-1.9-2.1-1.1 2.2z"/><path fill="#d8d29c" d="M99.1 56.5l.8-1.7-1.9-1.7-.8 1.5z"/><path fill="#d5c6a2" d="M92 53.7l1-2.1-2.6-1.4-1.1 1.9z"/><path fill="#cfcca2" d="M87.5 52.5l.7-1.4-2.8-1.1-.7 1.3z"/><path fill="#cfcc9f" d="M80.3 52.5l1-2.2-2.7-.6-1 2z"/><path fill="#dec6a2" d="M95.9 55.1l.8-1.6-2-1.5-.8 1.6z"/><path fill="#dbc6a5" d="M71.2 53.4l.6-1.9-2.8-.2-.6 1.9z"/><path fill="#d5dea2" d="M100.5 58l.8-1.7-1.9-1.9-.9 1.6z"/><path fill="#d2c9a2" d="M75.8 52.6l.6-1.6-2.8-.5-.6 1.6z"/><path fill="#dec6a5" d="M94 55.2l1.1-2.3-2.7-1.7-1 2.1z"/><path fill="#dbd29c" d="M97.3 56.4l.8-1.7-2-1.6-.8 1.6z"/><path fill="#d8c9a2" d="M89.5 53.6l.7-1.5-2.7-1.4-.7 1.5z"/><path fill="#dec6a5" d="M68.6 54.9l.6-2.2-2.7 0-.6 2.2z"/><path fill="#d5cca2" d="M82.3 53.2l1-2.3-2.7-.8-.9 2.2z"/><path fill="#dec6a5" d="M73.2 53.7l.7-1.9-2.8-.4-.6 1.9z"/><path fill="#d8c9a2" d="M77.8 53.1l.7-1.7-2.8-.6-.6 1.7z"/><path fill="#dee1a2" d="M98.6 57.8l.8-1.8-1.9-1.8-.8 1.7z"/><path fill="#dbc9a2" d="M87 53.7l.7-1.6-2.8-1.2-.7 1.5z"/><path fill="#e1c9a5" d="M91.5 55l.8-1.7-2.8-1.6-.7 1.5z"/><path fill="#e1d59c" d="M95.4 56.4l.8-1.8-2-1.5-.8 1.7z"/><path fill="#ffffff" d="M23.6 74.3l1.8-1.5-2.7-.5-1.8 1.5z"/><path fill="#e1c6a5" d="M70.7 55l.6-2.1-2.8-.2-.6 2.1z"/><path fill="#dec9a2" d="M84.4 54.1l1-2.4-2.7-1-1 2.2z"/><path fill="#e1c9a5" d="M75.3 54.1l.6-1.9-2.8-.6-.6 1.9z"/><path fill="#dec9a5" d="M79.9 53.8l.6-1.8-2.8-.8-.6 1.7z"/><path fill="#e1e19f" d="M96.7 57.8l.9-1.9-2-1.7-.8 1.8z"/><path fill="#e4c9a5" d="M89 54.9l.7-1.7-2.7-1.4-.7 1.6z"/><path fill="#e4d29f" d="M93.6 56.6l.7-1.8-2.7-1.9-.7 1.6z"/><path fill="#e4c9a5" d="M72.7 55.3l.6-2.2-2.7-.3-.6 2.1zM77.3 54.6l.7-2-2.8-.6-.7 1.9z"/><path fill="#e7cca5" d="M81.9 54.5l.7-1.8-2.8-.9-.7 1.7zM86.5 55.1l.7-1.8-2.8-1.3-.7 1.7z"/><path fill="#e7d29f" d="M91 56.4l.8-1.8-2.7-1.8-.8 1.7z"/><path fill="#e7e19f" d="M94.9 57.9l.8-1.9-2-1.6-.8 1.9z"/><path fill="#ffffff" d="M27.7 74.6l1.7-1.5-2.6-.5-1.8 1.5z"/><path fill="#e7c9a5" d="M74.7 55.7l.7-2.2-2.7-.5-.7 2.1z"/><path fill="#eacca5" d="M79.3 55.3l.7-2-2.7-.9-.7 2z"/><path fill="#eacfa5" d="M83.9 55.5l.7-1.9-2.7-1.2-.7 1.9z"/><path fill="#ead5a2" d="M88.5 56.4l.7-1.9-2.7-1.5-.7 1.8z"/><path fill="#eade9c" d="M93 58.2l.8-2-2.7-2-.7 1.8z"/><path fill="#edd5a2" d="M86.1 56.3l.6-1.6-2.8-1.4-.6 1.4z"/><path fill="#edcfa5" d="M81.3 56.1l.7-2-2.7-1.1-.7 2z"/><path fill="#ead89f" d="M90.5 58l.8-2-2.7-1.8-.8 1.8z"/><path fill="#ffffff" d="M31.7 75l1.8-1.5-2.6-.5-1.8 1.5z"/><path fill="#edd2a5" d="M83.4 57.2l.7-2.2-2.7-1.2-.7 2.1z"/><path fill="#ffffff" d="M35.8 75.3l1.8-1.5-2.6-.4-1.8 1.5zM39.9 75.7l1.8-1.6-2.7-.4-1.7 1.5zM84.8 79.6l1.8-1.8-2.6-.7-1.8 2.1zM110.9 80.8l1.8-1.5-2.7-.4-1.8 1.4zM103.3 81.3l1.7-1.5-2.6-.5-1.8 1.5zM107.3 81.6l1.8-1.5-2.6-.4-1.8 1.4zM109.4 81.8l1.8-1.5-2.7-.5-1.8 1.5z"/><path fill="#5745b4" d="M109.6 81.6l1.5-1.1-4.6-.5-1.5 1.1z"/><path fill="#4e39b1" d="M105.9 81.3l1.4-1.2-4.6-.5-1.4 1.2z"/><path fill="#513fb7" d="M102.1 81l1.5-1.2-4.6-.5-1.5 1.2z"/><path fill="#4e39b7" d="M98.4 80.6l1.4-1.1-4.6-.5-1.4 1.1z"/><path fill="#513cc0" d="M94.6 80.3l1.5-1.2-4.6-.5-1.5 1.2z"/><path fill="#5142c9" d="M90.9 80l1.4-1.2-4.6-.5-1.4 1.2z"/><path fill="#5145d2" d="M87.1 79.6l1.5-1.1-4.6-.5-1.5 1.1z"/><path fill="#5448de" d="M83.4 79.3l1.4-1.1-4.6-.5-1.4 1.1z"/><path fill="#5751e7" d="M79.6 79l1.5-1.2-4.6-.5-1.5 1.2z"/><path fill="#5151ea" d="M75.9 78.6l1.4-1.1-4.6-.5-1.4 1.2z"/><path fill="#545af0" d="M72.1 78.3l1.5-1.1-4.6-.5-1.5 1.1z"/><path fill="#5157f0" d="M68.4 78l1.4-1.2-4.5-.5-1.5 1.2zM64.6 77.7l1.5-1.2-4.6-.5-1.4 1.2zM60.9 77.3l1.5-1.1-4.6-.5-1.5 1.1z"/><path fill="#4b4bea" d="M57.2 77l1.4-1.2-4.6-.4-1.4 1.1z"/><path fill="#514be7" d="M53.4 76.7l1.5-1.2-4.6-.5-1.5 1.2z"/><path fill="#4e45de" d="M49.7 76.3l1.4-1.1-4.6-.5-1.4 1.2z"/><path fill="#483cd2" d="M45.9 76l1.5-1.1-4.6-.5-1.5 1.1z"/><path fill="#4836c6" d="M42.2 75.7l1.4-1.2-4.6-.5-1.4 1.2z"/><path fill="#4533bd" d="M38.4 75.4l1.5-1.2-4.6-.5-1.5 1.2z"/><path fill="#4530b4" d="M34.7 75l1.4-1.1-4.6-.5-1.4 1.1z"/><path fill="#452db1" d="M30.9 74.7l1.5-1.2-4.6-.4-1.5 1.1z"/><path fill="#422dae" d="M27.2 74.4l1.4-1.2-4.5-.5-1.5 1.2z"/><path fill="#4830ae" d="M23.4 74l1.5-1.1-4.6-.5-1.4 1.1z"/><path fill="#422dae" d="M111 80.7l1.5-1.1-4.6-.5-1.5 1.1z"/><path fill="#3f27ae" d="M107.3 80.4l1.4-1.2-4.6-.5-1.4 1.2z"/><path fill="#3f2ab4" d="M103.5 80.1l1.5-1.2-4.6-.5-1.5 1.2z"/><path fill="#422dbd" d="M99.8 79.7l1.4-1.1-4.6-.5-1.4 1.1z"/><path fill="#4533cc" d="M96 79.4l1.5-1.2-4.6-.4-1.5 1.1z"/><path fill="#453cdb" d="M92.3 79.1l1.4-1.2-4.6-.5-1.4 1.2z"/><path fill="#4845e7" d="M88.5 78.7l1.5-1.1-4.6-.5-1.5 1.1z"/><path fill="#4851f3" d="M84.8 78.4l1.4-1.1-4.6-.5-1.4 1.1z"/><path fill="#455df6" d="M81 78.1l1.5-1.2-4.6-.5-1.5 1.2z"/><path fill="#3f66f9" d="M77.3 77.8l1.4-1.2-4.5-.5-1.5 1.2z"/><path fill="#3c6cf9" d="M73.5 77.4l1.5-1.1-4.6-.5-1.4 1.1z"/><path fill="#396ff9" d="M69.8 77.1l1.5-1.2-4.6-.5-1.5 1.2zM66.1 76.8l1.4-1.2-4.6-.5-1.4 1.2z"/><path fill="#3f66f9" d="M62.3 76.4l1.5-1.1-4.6-.5-1.5 1.1z"/><path fill="#4260f9" d="M58.6 76.1l1.4-1.1-4.6-.5-1.4 1.1z"/><path fill="#455af6" d="M54.8 75.8l1.5-1.2-4.6-.5-1.5 1.2z"/><path fill="#484ef0" d="M51.1 75.4l1.4-1.1-4.6-.5-1.4 1.2z"/><path fill="#4845e7" d="M47.3 75.1l1.5-1.1-4.6-.5-1.5 1.1z"/><path fill="#4539db" d="M43.6 74.8l1.4-1.2-4.6-.5-1.4 1.2z"/><path fill="#4533cc" d="M39.8 74.5l1.5-1.2-4.6-.5-1.5 1.2z"/><path fill="#422dbd" d="M36.1 74.1l1.4-1.1-4.6-.5-1.4 1.1z"/><path fill="#3f2ab4" d="M32.3 73.8l1.5-1.2-4.6-.4-1.5 1.1z"/><path fill="#3f27ae" d="M28.6 73.5l1.4-1.2-4.5-.5-1.5 1.2z"/><path fill="#4530ae" d="M24.8 73.1l1.5-1.1-4.6-.5-1.4 1.2z"/><path fill="#4530b1" d="M112.4 79.8l1.5-1.1-4.6-.5-1.5 1.1z"/><path fill="#3f2ab4" d="M108.7 79.5l1.4-1.2-4.6-.5-1.4 1.2z"/><path fill="#422dbd" d="M104.9 79.2l1.5-1.2-4.6-.5-1.5 1.2z"/><path fill="#4533cf" d="M101.2 78.8l1.4-1.1-4.6-.5-1.4 1.1z"/><path fill="#453fe1" d="M97.4 78.5l1.5-1.2-4.6-.4-1.5 1.1z"/><path fill="#484ef0" d="M93.7 78.2l1.4-1.2-4.6-.5-1.4 1.2z"/><path fill="#455df6" d="M89.9 77.8l1.5-1.1-4.6-.5-1.5 1.2z"/><path fill="#3c6cf9" d="M86.2 77.5l1.4-1.1-4.6-.5-1.4 1.1z"/><path fill="#337bf6" d="M82.4 77.2l1.5-1.2-4.6-.5-1.5 1.2z"/><path fill="#2d87ed" d="M78.7 76.9l1.4-1.2-4.5-.5-1.5 1.2z"/><path fill="#2a8de7" d="M74.9 76.5l1.5-1.1-4.6-.5-1.4 1.1z"/><path fill="#2790e7" d="M71.2 76.2l1.5-1.2-4.6-.4-1.5 1.1zM67.5 75.9l1.4-1.2-4.6-.5-1.4 1.2z"/><path fill="#2d87ed" d="M63.7 75.5l1.5-1.1-4.6-.5-1.5 1.1z"/><path fill="#3081f0" d="M60 75.2l1.4-1.1-4.6-.5-1.4 1.1z"/><path fill="#3678f6" d="M56.2 74.9l1.5-1.2-4.6-.5-1.5 1.2z"/><path fill="#3c69f9" d="M52.5 74.6l1.4-1.2-4.6-.5-1.4 1.2z"/><path fill="#455af6" d="M48.7 74.2l1.5-1.1-4.6-.5-1.5 1.1z"/><path fill="#484bed" d="M45 73.9l1.4-1.2-4.6-.5-1.4 1.2z"/><path fill="#453fe1" d="M41.2 73.6l1.5-1.2-4.6-.5-1.5 1.2z"/><path fill="#4536cf" d="M37.5 73.2l1.4-1.1-4.5-.5-1.5 1.1z"/><path fill="#422dc0" d="M33.7 72.9l1.5-1.1-4.6-.5-1.4 1.1z"/><path fill="#3f2ab4" d="M30 72.6l1.5-1.2-4.6-.5-1.5 1.2z"/><path fill="#3f27ae" d="M26.3 72.2l1.4-1.1-4.6-.5-1.4 1.2z"/><path fill="#4e3cb7" d="M113.8 78.9l1.5-1.1-4.6-.5-1.5 1.1z"/><path fill="#422dbd" d="M110.1 78.6l1.4-1.2-4.6-.5-1.4 1.2z"/><path fill="#4533cc" d="M106.3 78.3l1.5-1.2-4.6-.5-1.5 1.2z"/><path fill="#453fe1" d="M102.6 77.9l1.4-1.1-4.6-.5-1.4 1.1z"/><path fill="#484ef0" d="M98.8 77.6l1.5-1.1-4.6-.5-1.5 1.1z"/><path fill="#4263f9" d="M95.1 77.3l1.4-1.2-4.6-.5-1.4 1.2z"/><path fill="#3678f6" d="M91.3 76.9l1.5-1.1-4.6-.5-1.5 1.2z"/><path fill="#2a8aea" d="M87.6 76.6l1.4-1.1-4.5-.5-1.5 1.1z"/><path fill="#2196e1" d="M83.8 76.3l1.5-1.2-4.6-.5-1.4 1.2z"/><path fill="#1b9fd5" d="M80.1 76l1.5-1.2-4.6-.5-1.5 1.2z"/><path fill="#1ba5cc" d="M76.4 75.6l1.4-1.1-4.6-.5-1.4 1.1z"/><path fill="#1ea5c6" d="M72.6 75.3l1.5-1.2-4.6-.4-1.5 1.1zM68.9 75l1.4-1.2-4.6-.5-1.4 1.2z"/><path fill="#1ea5cc" d="M65.1 74.6l1.5-1.1-4.6-.5-1.5 1.2z"/><path fill="#1b9fd5" d="M61.4 74.3l1.4-1.1-4.6-.5-1.4 1.1z"/><path fill="#2196de" d="M57.6 74l1.5-1.2-4.6-.5-1.5 1.2z"/><path fill="#2a8aea" d="M53.9 73.7l1.4-1.2-4.6-.5-1.4 1.2z"/><path fill="#3378f3" d="M50.1 73.3l1.5-1.1-4.6-.5-1.5 1.1z"/><path fill="#3f66f9" d="M46.4 73l1.4-1.2-4.6-.4-1.4 1.1z"/><path fill="#4851f0" d="M42.6 72.7l1.5-1.2-4.6-.5-1.5 1.2z"/><path fill="#4842e4" d="M38.9 72.3l1.4-1.1-4.5-.5-1.5 1.1z"/><path fill="#4536d2" d="M35.1 72l1.5-1.1-4.6-.5-1.4 1.1z"/><path fill="#422dc0" d="M31.4 71.7l1.5-1.2-4.6-.5-1.5 1.2z"/><path fill="#4833b7" d="M27.7 71.4l1.4-1.2-4.6-.5-1.4 1.2z"/><path fill="#4533bd" d="M115.2 78l1.5-1.1-4.6-.5-1.5 1.1z"/><path fill="#4533cc" d="M111.5 77.7l1.4-1.2-4.6-.4-1.4 1.1z"/><path fill="#453fe1" d="M107.7 77.4l1.5-1.2-4.6-.5-1.5 1.2z"/><path fill="#4851f3" d="M104 77l1.4-1.1-4.6-.5-1.4 1.1z"/><path fill="#3f69f9" d="M100.2 76.7l1.5-1.1-4.6-.5-1.5 1.1z"/><path fill="#3081f0" d="M96.5 76.4l1.4-1.2-4.6-.5-1.4 1.2z"/><path fill="#2196e1" d="M92.7 76.1l1.5-1.2-4.6-.5-1.5 1.2z"/><path fill="#1ba5cc" d="M89 75.7l1.4-1.1-4.5-.5-1.5 1.1z"/><path fill="#2aabb7" d="M85.2 75.4l1.5-1.2-4.6-.5-1.4 1.2z"/><path fill="#45aea2" d="M81.5 75.1l1.5-1.2-4.6-.5-1.5 1.2z"/><path fill="#57ae93" d="M77.8 74.7l1.4-1.1-4.6-.5-1.4 1.1z"/><path fill="#63ae8d" d="M74 74.4l1.5-1.1-4.6-.5-1.5 1.1zM70.3 74.1l1.4-1.2-4.6-.5-1.4 1.2z"/><path fill="#5aae96" d="M66.5 73.7l1.5-1.1-4.6-.5-1.5 1.2z"/><path fill="#45aba5" d="M62.8 73.4l1.4-1.1-4.6-.5-1.4 1.1z"/><path fill="#30a8ba" d="M59 73.1l1.5-1.2-4.6-.5-1.5 1.2z"/><path fill="#1ea2cf" d="M55.3 72.8l1.4-1.2-4.6-.5-1.4 1.2z"/><path fill="#2496e1" d="M51.5 72.4l1.5-1.1-4.6-.5-1.5 1.1z"/><path fill="#3081f0" d="M47.8 72.1l1.4-1.2-4.5-.4-1.5 1.1z"/><path fill="#3f66f9" d="M44 71.8l1.5-1.2-4.6-.5-1.4 1.2z"/><path fill="#4851f0" d="M40.3 71.4l1.5-1.1-4.6-.5-1.5 1.2z"/><path fill="#453fe1" d="M36.6 71.1l1.4-1.1-4.6-.5-1.4 1.1z"/><path fill="#4533cc" d="M32.8 70.8l1.5-1.2-4.6-.5-1.5 1.2z"/><path fill="#4e3cc0" d="M29.1 70.5l1.4-1.2-4.6-.5-1.4 1.2z"/><path fill="#4230c3" d="M116.6 77.1l1.5-1.1-4.6-.5-1.5 1.1z"/><path fill="#4539d8" d="M112.9 76.8l1.4-1.2-4.6-.4-1.4 1.1z"/><path fill="#484bed" d="M109.1 76.5l1.5-1.2-4.6-.5-1.5 1.2z"/><path fill="#4263f9" d="M105.4 76.1l1.4-1.1-4.6-.5-1.4 1.2z"/><path fill="#3081f0" d="M101.6 75.8l1.5-1.1-4.6-.5-1.5 1.1z"/><path fill="#2499e1" d="M97.9 75.5l1.4-1.2-4.5-.5-1.5 1.2z"/><path fill="#18a5c6" d="M94.1 75.2l1.5-1.2-4.6-.5-1.4 1.2z"/><path fill="#3caea8" d="M90.4 74.8l1.5-1.1-4.6-.5-1.5 1.1z"/><path fill="#66ae87" d="M86.7 74.5l1.4-1.2-4.6-.4-1.4 1.1z"/><path fill="#87ab72" d="M82.9 74.2l1.5-1.2-4.6-.5-1.5 1.2z"/><path fill="#9ca569" d="M79.2 73.8l1.4-1.1-4.6-.5-1.4 1.1z"/><path fill="#a5a269" d="M75.4 73.5l1.5-1.1-4.6-.5-1.5 1.1z"/><path fill="#a5a26c" d="M71.7 73.2l1.4-1.2-4.6-.5-1.4 1.2z"/><path fill="#99a56f" d="M67.9 72.9l1.5-1.2-4.6-.5-1.5 1.2z"/><path fill="#87a878" d="M64.2 72.5l1.4-1.1-4.6-.5-1.4 1.1z"/><path fill="#66ab90" d="M60.4 72.2l1.5-1.2-4.6-.5-1.5 1.2z"/><path fill="#42a8ab" d="M56.7 71.9l1.4-1.2-4.6-.5-1.4 1.2z"/><path fill="#24a2c9" d="M52.9 71.5l1.5-1.1-4.6-.5-1.5 1.1z"/><path fill="#2196e1" d="M49.2 71.2l1.4-1.1-4.5-.5-1.5 1.1z"/><path fill="#337ef3" d="M45.4 70.9l1.5-1.2-4.6-.5-1.4 1.2z"/><path fill="#3f63f9" d="M41.7 70.5l1.5-1.1-4.6-.5-1.5 1.2z"/><path fill="#484bed" d="M38 70.2l1.4-1.1-4.6-.5-1.4 1.1z"/><path fill="#453cdb" d="M34.2 69.9l1.5-1.2-4.6-.5-1.5 1.2z"/><path fill="#4230c3" d="M30.5 69.6l1.4-1.2-4.6-.5-1.4 1.2z"/><path fill="#5142d2" d="M118 76.2l1.5-1.1-4.6-.5-1.5 1.1z"/><path fill="#4842e4" d="M114.3 75.9l1.4-1.1-4.6-.5-1.4 1.1z"/><path fill="#455af6" d="M110.5 75.6l1.5-1.2-4.6-.5-1.5 1.2z"/><path fill="#3675f6" d="M106.8 75.2l1.4-1.1-4.6-.5-1.4 1.2z"/><path fill="#2793e4" d="M103 74.9l1.5-1.1-4.6-.5-1.5 1.1z"/><path fill="#1ba5c9" d="M99.3 74.6l1.4-1.2-4.5-.5-1.5 1.2z"/><path fill="#42aea5" d="M95.5 74.3l1.5-1.2-4.6-.5-1.4 1.2z"/><path fill="#75ab7e" d="M91.8 73.9l1.5-1.1-4.6-.5-1.5 1.1z"/><path fill="#9fa569" d="M88.1 73.6l1.4-1.2-4.6-.4-1.4 1.1z"/><path fill="#b49f6f" d="M84.3 73.3l1.5-1.2-4.6-.5-1.5 1.2z"/><path fill="#baa278" d="M80.6 72.9l1.4-1.1-4.6-.5-1.4 1.2z"/><path fill="#baa27b" d="M76.8 72.6l1.5-1.1-4.6-.5-1.5 1.1z"/><path fill="#b7a27e" d="M73.1 72.3l1.4-1.2-4.6-.5-1.4 1.2z"/><path fill="#b4a27e" d="M69.3 72l1.5-1.2-4.6-.5-1.5 1.2z"/><path fill="#ab9f7b" d="M65.6 71.6l1.4-1.1-4.6-.5-1.4 1.1z"/><path fill="#99a278" d="M61.8 71.3l1.5-1.2-4.6-.4-1.5 1.1z"/><path fill="#75a88a" d="M58.1 71l1.4-1.2-4.5-.5-1.5 1.2z"/><path fill="#48a8ab" d="M54.3 70.6l1.5-1.1-4.6-.5-1.4 1.1z"/><path fill="#249fcc" d="M50.6 70.3l1.5-1.1-4.6-.5-1.5 1.1z"/><path fill="#2790e4" d="M46.9 70l1.4-1.2-4.6-.5-1.4 1.2z"/><path fill="#3678f3" d="M43.1 69.7l1.5-1.2-4.6-.5-1.5 1.2z"/><path fill="#455df6" d="M39.4 69.3l1.4-1.1-4.6-.5-1.4 1.1z"/><path fill="#4845e7" d="M35.6 69l1.5-1.2-4.6-.5-1.5 1.2z"/><path fill="#4839d2" d="M31.9 68.7l1.4-1.2-4.6-.5-1.4 1.2z"/><path fill="#544bde" d="M119.4 75.3l1.5-1.1-4.6-.5-1.5 1.1z"/><path fill="#484ef0" d="M115.7 75l1.4-1.1-4.6-.5-1.4 1.1z"/><path fill="#3c6cf9" d="M111.9 74.7l1.5-1.2-4.6-.5-1.5 1.2z"/><path fill="#2d8aea" d="M108.2 74.4l1.4-1.2-4.5-.5-1.5 1.2z"/><path fill="#18a2cf" d="M104.4 74l1.5-1.1-4.6-.5-1.4 1.1z"/><path fill="#3faba8" d="M100.7 73.7l1.5-1.2-4.6-.5-1.5 1.2z"/><path fill="#7eab7b" d="M97 73.4l1.4-1.2-4.6-.5-1.4 1.2z"/><path fill="#aba26f" d="M93.2 73l1.5-1.1-4.6-.5-1.5 1.1z"/><path fill="#baa27b" d="M89.5 72.7l1.4-1.1-4.6-.5-1.4 1.1z"/><path fill="#b7ab7e" d="M85.7 72.4l1.5-1.2-4.6-.5-1.5 1.2z"/><path fill="#aeb17e" d="M82 72l1.4-1.1-4.6-.5-1.4 1.2z"/><path fill="#a8b481" d="M78.2 71.7l1.5-1.1-4.6-.5-1.5 1.1z"/><path fill="#a5b481" d="M74.5 71.4l1.4-1.2-4.6-.5-1.4 1.2z"/><path fill="#a5b184" d="M70.7 71.1l1.5-1.2-4.6-.5-1.5 1.2z"/><path fill="#a5ab87" d="M67 70.7l1.4-1.1-4.6-.5-1.4 1.1z"/><path fill="#a5a28a" d="M63.2 70.4l1.5-1.2-4.6-.4-1.5 1.1z"/><path fill="#969f84" d="M59.5 70.1l1.4-1.2-4.5-.5-1.5 1.2z"/><path fill="#72a590" d="M55.7 69.7l1.5-1.1-4.6-.5-1.4 1.2z"/><path fill="#42a5b7" d="M52 69.4l1.5-1.1-4.6-.5-1.5 1.1z"/><path fill="#219cd8" d="M48.3 69.1l1.4-1.2-4.6-.5-1.4 1.2z"/><path fill="#2d87ed" d="M44.5 68.8l1.5-1.2-4.6-.5-1.5 1.2z"/><path fill="#3c6cf9" d="M40.8 68.4l1.4-1.1-4.6-.5-1.4 1.1z"/><path fill="#484ef0" d="M37 68.1l1.5-1.2-4.6-.4-1.5 1.1z"/><path fill="#5448de" d="M33.3 67.8l1.4-1.2-4.6-.5-1.4 1.2z"/><path fill="#4e48e4" d="M120.8 74.4l1.5-1.1-4.6-.5-1.5 1.2z"/><path fill="#4557f6" d="M117.1 74.1l1.4-1.1-4.6-.5-1.4 1.1z"/><path fill="#3678f6" d="M113.3 73.8l1.5-1.2-4.6-.5-1.5 1.2z"/><path fill="#2496e1" d="M109.6 73.5l1.4-1.2-4.5-.5-1.5 1.2z"/><path fill="#27a8c0" d="M105.8 73.1l1.5-1.1-4.6-.5-1.4 1.1z"/><path fill="#63ab90" d="M102.1 72.8l1.5-1.2-4.6-.4-1.5 1.1z"/><path fill="#9fa26f" d="M98.4 72.5l1.4-1.2-4.6-.5-1.4 1.2z"/><path fill="#b79f7e" d="M94.6 72.1l1.5-1.1-4.6-.5-1.5 1.1z"/><path fill="#b1ab81" d="M90.9 71.8l1.4-1.1-4.6-.5-1.4 1.1z"/><path fill="#a5b481" d="M87.1 71.5l1.5-1.2-4.6-.5-1.5 1.2z"/><path fill="#9fba84" d="M83.4 71.2l1.4-1.2-4.6-.5-1.4 1.2z"/><path fill="#9cbd81" d="M79.6 70.8l1.5-1.1-4.6-.5-1.5 1.1z"/><path fill="#9cc081" d="M75.9 70.5l1.4-1.2-4.6-.5-1.4 1.2z"/><path fill="#9cbd84" d="M72.1 70.2l1.5-1.2-4.6-.5-1.5 1.2z"/><path fill="#9cba84" d="M68.4 69.8l1.4-1.1-4.5-.5-1.5 1.1z"/><path fill="#9fb18a" d="M64.6 69.5l1.5-1.1-4.6-.5-1.4 1.1z"/><path fill="#9fa58d" d="M60.9 69.2l1.5-1.2-4.6-.5-1.5 1.2z"/><path fill="#87a28a" d="M57.2 68.8l1.4-1.1-4.6-.5-1.4 1.2z"/><path fill="#5aa8a5" d="M53.4 68.5l1.5-1.1-4.6-.5-1.5 1.1z"/><path fill="#2da2cc" d="M49.7 68.2l1.4-1.2-4.6-.5-1.4 1.2z"/><path fill="#2793e7" d="M45.9 67.9l1.5-1.2-4.6-.5-1.5 1.2z"/><path fill="#3678f6" d="M42.2 67.5l1.4-1.1-4.6-.5-1.4 1.1z"/><path fill="#455af6" d="M38.4 67.2l1.5-1.2-4.6-.4-1.5 1.1z"/><path fill="#544ee4" d="M34.7 66.9l1.4-1.2-4.6-.5-1.4 1.2z"/><path fill="#5754ea" d="M122.2 73.5l1.5-1.1-4.6-.5-1.5 1.2z"/><path fill="#455df6" d="M118.5 73.2l1.4-1.1-4.5-.5-1.5 1.1z"/><path fill="#307ef0" d="M114.7 72.9l1.5-1.2-4.6-.5-1.4 1.2z"/><path fill="#1b9cd8" d="M111 72.6l1.5-1.2-4.6-.5-1.5 1.2z"/><path fill="#39a8b1" d="M107.3 72.2l1.4-1.1-4.6-.5-1.4 1.1z"/><path fill="#7ba881" d="M103.5 71.9l1.5-1.2-4.6-.4-1.5 1.1z"/><path fill="#ab9f7b" d="M99.8 71.6l1.4-1.2-4.6-.5-1.4 1.2z"/><path fill="#aea884" d="M96 71.2l1.5-1.1-4.6-.5-1.5 1.2z"/><path fill="#a2b484" d="M92.3 70.9l1.4-1.1-4.6-.5-1.4 1.1z"/><path fill="#9cbd81" d="M88.5 70.6l1.5-1.2-4.6-.5-1.5 1.2z"/><path fill="#9cc37e" d="M84.8 70.3l1.4-1.2-4.6-.5-1.4 1.2z"/><path fill="#9cc67b" d="M81 69.9l1.5-1.1-4.6-.5-1.5 1.1z"/><path fill="#9cc978" d="M77.3 69.6l1.4-1.2-4.6-.4-1.4 1.1z"/><path fill="#9cc97b" d="M73.5 69.3l1.5-1.2-4.6-.5-1.5 1.2z"/><path fill="#99c67e" d="M69.8 68.9l1.4-1.1-4.5-.5-1.5 1.1z"/><path fill="#9cbd81" d="M66 68.6l1.5-1.1-4.6-.5-1.4 1.1z"/><path fill="#9fb187" d="M62.3 68.3l1.5-1.2-4.6-.5-1.5 1.2z"/><path fill="#96a88a" d="M58.6 68l1.4-1.2-4.6-.5-1.4 1.2z"/><path fill="#6fab93" d="M54.8 67.6l1.5-1.1-4.6-.5-1.5 1.1z"/><path fill="#3ca8bd" d="M51.1 67.3l1.4-1.2-4.6-.5-1.4 1.2z"/><path fill="#2199e1" d="M47.3 67l1.5-1.2-4.6-.5-1.5 1.2z"/><path fill="#3381f3" d="M43.6 66.6l1.4-1.1-4.6-.5-1.4 1.1z"/><path fill="#4263f9" d="M39.8 66.3l1.5-1.1-4.6-.5-1.5 1.1z"/><path fill="#514eea" d="M36.1 66l1.4-1.2-4.6-.5-1.4 1.2z"/><path fill="#4b4eed" d="M123.6 72.7l1.5-1.2-4.6-.5-1.5 1.2z"/><path fill="#3f66f9" d="M119.9 72.3l1.4-1.1-4.5-.5-1.5 1.1z"/><path fill="#2d87ed" d="M116.1 72l1.5-1.2-4.6-.5-1.4 1.2z"/><path fill="#1e9fcf" d="M112.4 71.7l1.5-1.2-4.6-.5-1.5 1.2z"/><path fill="#51aba2" d="M108.7 71.3l1.4-1.1-4.6-.5-1.4 1.1z"/><path fill="#90a57b" d="M104.9 71l1.5-1.1-4.6-.5-1.5 1.1z"/><path fill="#aba287" d="M101.2 70.7l1.4-1.2-4.6-.5-1.4 1.2z"/><path fill="#a2b187" d="M97.4 70.3l1.5-1.1-4.6-.5-1.5 1.2z"/><path fill="#9cbd81" d="M93.7 70l1.4-1.1-4.6-.5-1.4 1.1z"/><path fill="#9cc67b" d="M89.9 69.7l1.5-1.2-4.6-.5-1.5 1.2z"/><path fill="#9ccc75" d="M86.2 69.4l1.4-1.2-4.6-.5-1.4 1.2z"/><path fill="#99cc72" d="M82.4 69l1.5-1.1-4.6-.5-1.5 1.1z"/><path fill="#99cf72" d="M78.7 68.7l1.4-1.2-4.5-.4-1.5 1.1zM74.9 68.4l1.5-1.2-4.6-.5-1.4 1.2z"/><path fill="#99cf75" d="M71.2 68l1.5-1.1-4.6-.5-1.5 1.2z"/><path fill="#96c97b" d="M67.5 67.7l1.4-1.1-4.6-.5-1.4 1.1z"/><path fill="#99bd81" d="M63.7 67.4l1.5-1.2-4.6-.5-1.5 1.2z"/><path fill="#99ae87" d="M60 67.1l1.4-1.2-4.6-.5-1.4 1.2z"/><path fill="#7bae87" d="M56.2 66.7l1.5-1.1-4.6-.5-1.5 1.1z"/><path fill="#45aeb1" d="M52.5 66.4l1.4-1.2-4.6-.4-1.4 1.1z"/><path fill="#21a2db" d="M48.7 66.1l1.5-1.2-4.6-.5-1.5 1.2z"/><path fill="#2d8af3" d="M45 65.7l1.4-1.1-4.6-.5-1.4 1.1z"/><path fill="#3f69fc" d="M41.2 65.4l1.5-1.1-4.6-.5-1.5 1.1z"/><path fill="#4b4eed" d="M37.5 65.1l1.4-1.2-4.6-.5-1.4 1.2z"/><path fill="#484ef0" d="M125 71.8l1.5-1.2-4.6-.5-1.4 1.2z"/><path fill="#3c6cf9" d="M121.3 71.4l1.5-1.1-4.6-.5-1.5 1.1z"/><path fill="#2a8aea" d="M117.6 71.1l1.4-1.2-4.6-.4-1.4 1.1z"/><path fill="#21a2cc" d="M113.8 70.8l1.5-1.2-4.6-.5-1.5 1.2z"/><path fill="#57a8a2" d="M110.1 70.4l1.4-1.1-4.6-.5-1.4 1.1z"/><path fill="#90a281" d="M106.3 70.1l1.5-1.1-4.6-.5-1.5 1.1z"/><path fill="#a2a28d" d="M102.6 69.8l1.4-1.2-4.6-.5-1.4 1.2z"/><path fill="#9cb787" d="M98.8 69.5l1.5-1.2-4.6-.5-1.5 1.2z"/><path fill="#9cc37e" d="M95.1 69.1l1.4-1.1-4.6-.5-1.4 1.1z"/><path fill="#99cc78" d="M91.3 68.8l1.5-1.2-4.6-.5-1.5 1.2z"/><path fill="#99cf72" d="M87.6 68.5l1.4-1.2-4.6-.5-1.4 1.2z"/><path fill="#99d26f" d="M83.8 68.1l1.5-1.1-4.6-.5-1.5 1.1zM80.1 67.8l1.4-1.1-4.5-.5-1.5 1.1z"/><path fill="#96d56f" d="M76.3 67.5l1.5-1.2-4.6-.5-1.4 1.2z"/><path fill="#96d272" d="M72.6 67.1l1.5-1.1-4.6-.5-1.5 1.2z"/><path fill="#93cf78" d="M68.9 66.8l1.4-1.1-4.6-.5-1.4 1.1z"/><path fill="#96c67b" d="M65.1 66.5l1.5-1.2-4.6-.5-1.5 1.2z"/><path fill="#99b784" d="M61.4 66.2l1.4-1.2-4.6-.5-1.4 1.2z"/><path fill="#81b181" d="M57.6 65.8l1.5-1.1-4.6-.5-1.5 1.1z"/><path fill="#4bb7a5" d="M53.9 65.5l1.4-1.2-4.6-.4-1.4 1.1z"/><path fill="#21abd2" d="M50.1 65.2l1.5-1.2-4.6-.5-1.5 1.2z"/><path fill="#2a93ed" d="M46.4 64.8l1.4-1.1-4.6-.5-1.4 1.2z"/><path fill="#3c72fc" d="M42.6 64.5l1.5-1.1-4.6-.5-1.5 1.1z"/><path fill="#4e54f0" d="M38.9 64.2l1.4-1.2-4.5-.5-1.5 1.2zM126.4 70.9l1.5-1.2-4.6-.5-1.4 1.2z"/><path fill="#3c69f9" d="M122.7 70.5l1.5-1.1-4.6-.5-1.5 1.1z"/><path fill="#2d8aea" d="M119 70.2l1.4-1.2-4.6-.4-1.4 1.1z"/><path fill="#219fcf" d="M115.2 69.9l1.5-1.2-4.6-.5-1.5 1.2z"/><path fill="#51a8a8" d="M111.5 69.5l1.4-1.1-4.6-.5-1.4 1.2z"/><path fill="#87a287" d="M107.7 69.2l1.5-1.1-4.6-.5-1.5 1.1z"/><path fill="#9fa88d" d="M104 68.9l1.4-1.2-4.6-.5-1.4 1.2z"/><path fill="#9cba84" d="M100.2 68.6l1.5-1.2-4.6-.5-1.5 1.2z"/><path fill="#99c67b" d="M96.5 68.2l1.4-1.1-4.6-.5-1.4 1.1z"/><path fill="#99cf75" d="M92.7 67.9l1.5-1.2-4.6-.4-1.5 1.1z"/><path fill="#96d26f" d="M89 67.6l1.4-1.2-4.5-.5-1.5 1.2z"/><path fill="#96d56c" d="M85.2 67.2l1.5-1.1-4.6-.5-1.4 1.1z"/><path fill="#96d86c" d="M81.5 66.9l1.5-1.1-4.6-.5-1.5 1.1z"/><path fill="#93d86c" d="M77.8 66.6l1.4-1.2-4.6-.5-1.4 1.2z"/><path fill="#90d86c" d="M74 66.3l1.5-1.2-4.6-.5-1.5 1.2z"/><path fill="#90d272" d="M70.3 65.9l1.4-1.1-4.6-.5-1.4 1.1z"/><path fill="#90c978" d="M66.5 65.6l1.5-1.2-4.6-.5-1.5 1.2z"/><path fill="#96ba81" d="M62.8 65.3l1.4-1.2-4.6-.5-1.4 1.2z"/><path fill="#7eb77e" d="M59 64.9l1.5-1.1-4.6-.5-1.5 1.1z"/><path fill="#48ba9f" d="M55.3 64.6l1.4-1.1-4.6-.5-1.4 1.1z"/><path fill="#1bb1cc" d="M51.5 64.3l1.5-1.2-4.6-.5-1.5 1.2z"/><path fill="#2499ea" d="M47.8 63.9l1.4-1.1-4.6-.5-1.4 1.2z"/><path fill="#367bf9" d="M44 63.6l1.5-1.1-4.6-.5-1.5 1.1z"/><path fill="#4b57f3" d="M40.3 63.3l1.4-1.2-4.5-.5-1.5 1.2z"/><path fill="#5154ed" d="M127.9 70l1.4-1.2-4.6-.5-1.4 1.2z"/><path fill="#3f66f9" d="M124.1 69.6l1.5-1.1-4.6-.5-1.5 1.1z"/><path fill="#3087ed" d="M120.4 69.3l1.4-1.1-4.6-.5-1.4 1.1z"/><path fill="#219cd5" d="M116.6 69l1.5-1.2-4.6-.5-1.5 1.2z"/><path fill="#48a8b1" d="M112.9 68.6l1.4-1.1-4.6-.5-1.4 1.2z"/><path fill="#7ba58d" d="M109.1 68.3l1.5-1.1-4.6-.5-1.5 1.1z"/><path fill="#9ca88a" d="M105.4 68l1.4-1.2-4.6-.5-1.4 1.2z"/><path fill="#9cba81" d="M101.6 67.7l1.5-1.2-4.6-.5-1.5 1.2z"/><path fill="#96c97b" d="M97.9 67.3l1.4-1.1-4.6-.5-1.4 1.1z"/><path fill="#96d275" d="M94.1 67l1.5-1.2-4.6-.4-1.5 1.1z"/><path fill="#93d56c" d="M90.4 66.7l1.4-1.2-4.5-.5-1.5 1.2z"/><path fill="#90d869" d="M86.6 66.3l1.5-1.1-4.6-.5-1.4 1.2z"/><path fill="#8ddb66" d="M82.9 66l1.5-1.1-4.6-.5-1.5 1.1z"/><path fill="#8adb66" d="M79.2 65.7l1.4-1.2-4.6-.5-1.4 1.2z"/><path fill="#8adb69" d="M75.4 65.4l1.5-1.2-4.6-.5-1.5 1.2z"/><path fill="#8ad56f" d="M71.7 65l1.4-1.1-4.6-.5-1.4 1.1z"/><path fill="#8ac972" d="M67.9 64.7l1.5-1.2-4.6-.4-1.5 1.1z"/><path fill="#8abd7b" d="M64.2 64.4l1.4-1.2-4.6-.5-1.4 1.2z"/><path fill="#6cbd78" d="M60.4 64l1.5-1.1-4.6-.5-1.5 1.1z"/><path fill="#36c0a2" d="M56.7 63.7l1.4-1.1-4.6-.5-1.4 1.1z"/><path fill="#15b4cf" d="M52.9 63.4l1.5-1.2-4.6-.5-1.5 1.2z"/><path fill="#249ce7" d="M49.2 63.1l1.4-1.2-4.5-.5-1.5 1.2z"/><path fill="#337ef6" d="M45.4 62.7l1.5-1.1-4.6-.5-1.4 1.1z"/><path fill="#4e66f3" d="M41.7 62.4l1.5-1.2-4.6-.5-1.5 1.2z"/><path fill="#4845e7" d="M129.3 69.1l1.4-1.2-4.6-.5-1.4 1.2z"/><path fill="#4260f9" d="M125.5 68.7l1.5-1.1-4.6-.5-1.5 1.1z"/><path fill="#337ef3" d="M121.8 68.4l1.4-1.1-4.6-.5-1.4 1.1z"/><path fill="#2499e1" d="M118 68.1l1.5-1.2-4.6-.5-1.5 1.2z"/><path fill="#39a5c0" d="M114.3 67.8l1.4-1.2-4.6-.5-1.4 1.2z"/><path fill="#69ab96" d="M110.5 67.4l1.5-1.1-4.6-.5-1.5 1.1z"/><path fill="#93ab87" d="M106.8 67.1l1.4-1.2-4.6-.5-1.4 1.2z"/><path fill="#99b784" d="M103 66.8l1.5-1.2-4.6-.5-1.5 1.2z"/><path fill="#96c97b" d="M99.3 66.4l1.4-1.1-4.5-.5-1.5 1.1z"/><path fill="#90d275" d="M95.5 66.1l1.5-1.1-4.6-.5-1.4 1.1z"/><path fill="#8dd86f" d="M91.8 65.8l1.5-1.2-4.6-.5-1.5 1.2z"/><path fill="#8adb69" d="M88.1 65.4l1.4-1.1-4.6-.5-1.4 1.2z"/><path fill="#8adb66" d="M84.3 65.1l1.5-1.1-4.6-.5-1.5 1.1zM80.6 64.8l1.4-1.2-4.6-.5-1.4 1.2z"/><path fill="#8ad866" d="M76.8 64.5l1.5-1.2-4.6-.5-1.5 1.2z"/><path fill="#8dd269" d="M73.1 64.1l1.4-1.1-4.6-.5-1.4 1.1z"/><path fill="#90c66f" d="M69.3 63.8l1.5-1.2-4.6-.4-1.5 1.1z"/><path fill="#8abd72" d="M65.6 63.5l1.4-1.2-4.6-.5-1.4 1.2z"/><path fill="#60c378" d="M61.8 63.1l1.5-1.1-4.6-.5-1.5 1.2z"/><path fill="#27c3a8" d="M58.1 62.8l1.4-1.1-4.6-.5-1.4 1.1z"/><path fill="#0cb4cf" d="M54.3 62.5l1.5-1.2-4.6-.5-1.5 1.2z"/><path fill="#219fe4" d="M50.6 62.2l1.4-1.2-4.5-.5-1.5 1.2z"/><path fill="#3384f0" d="M46.8 61.8l1.5-1.1-4.6-.5-1.4 1.1z"/><path fill="#4266f0" d="M43.1 61.5l1.5-1.2-4.6-.4-1.5 1.1z"/><path fill="#453fe1" d="M130.7 68.2l1.4-1.2-4.6-.5-1.4 1.2z"/><path fill="#4557f6" d="M126.9 67.8l1.5-1.1-4.6-.5-1.5 1.2z"/><path fill="#3975f6" d="M123.2 67.5l1.4-1.1-4.6-.5-1.4 1.1z"/><path fill="#2790ea" d="M119.4 67.2l1.5-1.2-4.6-.5-1.5 1.2z"/><path fill="#27a2cf" d="M115.7 66.9l1.4-1.2-4.6-.5-1.4 1.2z"/><path fill="#51b1a5" d="M111.9 66.5l1.5-1.1-4.6-.5-1.5 1.1z"/><path fill="#7eb184" d="M108.2 66.2l1.4-1.2-4.6-.4-1.4 1.1z"/><path fill="#96b484" d="M104.4 65.9l1.5-1.2-4.6-.5-1.5 1.2z"/><path fill="#93c37b" d="M100.7 65.5l1.4-1.1-4.5-.5-1.5 1.1z"/><path fill="#8dcf75" d="M96.9 65.2l1.5-1.1-4.6-.5-1.4 1.1z"/><path fill="#87d56f" d="M93.2 64.9l1.5-1.2-4.6-.5-1.5 1.2z"/><path fill="#8ad869" d="M89.5 64.6l1.4-1.2-4.6-.5-1.4 1.2z"/><path fill="#8ddb66" d="M85.7 64.2l1.5-1.1-4.6-.5-1.5 1.1z"/><path fill="#93d863" d="M82 63.9l1.4-1.2-4.6-.5-1.4 1.2z"/><path fill="#96d563" d="M78.2 63.6l1.5-1.2-4.6-.5-1.5 1.2z"/><path fill="#99cc66" d="M74.5 63.2l1.4-1.1-4.6-.5-1.4 1.1z"/><path fill="#9cc36c" d="M70.7 62.9l1.5-1.1-4.6-.5-1.5 1.1z"/><path fill="#84c066" d="M67 62.6l1.4-1.2-4.6-.5-1.4 1.2z"/><path fill="#54c681" d="M63.2 62.2l1.5-1.1-4.6-.5-1.5 1.2z"/><path fill="#21c3ab" d="M59.5 61.9l1.4-1.1-4.5-.5-1.5 1.1z"/><path fill="#12b4cc" d="M55.7 61.6l1.5-1.2-4.6-.5-1.4 1.2z"/><path fill="#1b9ce1" d="M52 61.3l1.5-1.2-4.6-.5-1.5 1.2z"/><path fill="#2d84ea" d="M48.3 60.9l1.4-1.1-4.6-.5-1.4 1.1z"/><path fill="#3969e7" d="M44.5 60.6l1.5-1.2-4.6-.4-1.5 1.1z"/><path fill="#5448de" d="M132.1 67.3l1.4-1.2-4.6-.5-1.4 1.2z"/><path fill="#484ef0" d="M128.3 66.9l1.5-1.1-4.6-.5-1.5 1.2z"/><path fill="#3f69f9" d="M124.6 66.6l1.4-1.1-4.6-.5-1.4 1.1z"/><path fill="#3084f3" d="M120.8 66.3l1.5-1.2-4.6-.5-1.5 1.2z"/><path fill="#219fe1" d="M117.1 66l1.4-1.2-4.6-.5-1.4 1.2z"/><path fill="#36b1bd" d="M113.3 65.6l1.5-1.1-4.6-.5-1.5 1.1z"/><path fill="#60b793" d="M109.6 65.3l1.4-1.2-4.5-.4-1.5 1.1z"/><path fill="#81b77e" d="M105.8 65l1.5-1.2-4.6-.5-1.4 1.2z"/><path fill="#8dba7e" d="M102.1 64.6l1.5-1.1-4.6-.5-1.5 1.2z"/><path fill="#8dc375" d="M98.4 64.3l1.4-1.1-4.6-.5-1.4 1.1z"/><path fill="#8dcc6c" d="M94.6 64l1.5-1.2-4.6-.5-1.5 1.2z"/><path fill="#96cf69" d="M90.9 63.7l1.4-1.2-4.6-.5-1.4 1.2z"/><path fill="#99d263" d="M87.1 63.3l1.5-1.1-4.6-.5-1.5 1.1z"/><path fill="#9ccf63" d="M83.4 63l1.4-1.2-4.6-.4-1.4 1.1z"/><path fill="#a2c963" d="M79.6 62.7l1.5-1.2-4.6-.5-1.5 1.2z"/><path fill="#9fc366" d="M75.9 62.3l1.4-1.1-4.6-.5-1.4 1.1z"/><path fill="#90c35d" d="M72.1 62l1.5-1.1-4.6-.5-1.5 1.1z"/><path fill="#69c96f" d="M68.4 61.7l1.4-1.2-4.6-.5-1.4 1.2z"/><path fill="#39c696" d="M64.6 61.4l1.5-1.2-4.6-.5-1.5 1.2z"/><path fill="#1ebdb7" d="M60.9 61l1.4-1.1-4.5-.5-1.5 1.1z"/><path fill="#27abcc" d="M57.1 60.7l1.5-1.2-4.6-.5-1.4 1.2z"/><path fill="#2d96db" d="M53.4 60.4l1.5-1.2-4.6-.5-1.5 1.2z"/><path fill="#2a81de" d="M49.7 60l1.4-1.1-4.6-.5-1.4 1.1z"/><path fill="#336fdb" d="M45.9 59.7l1.5-1.1-4.6-.5-1.5 1.1z"/><path fill="#4e3fd2" d="M133.5 66.4l1.4-1.2-4.6-.5-1.4 1.2z"/><path fill="#4842e7" d="M129.7 66.1l1.5-1.2-4.6-.5-1.5 1.2z"/><path fill="#455af6" d="M126 65.7l1.4-1.1-4.6-.5-1.4 1.1z"/><path fill="#3978f9" d="M122.2 65.4l1.5-1.2-4.6-.5-1.5 1.2z"/><path fill="#2793ed" d="M118.5 65.1l1.4-1.2-4.6-.5-1.4 1.2z"/><path fill="#1eabd2" d="M114.7 64.7l1.5-1.1-4.6-.5-1.5 1.1z"/><path fill="#33bab1" d="M111 64.4l1.4-1.1-4.5-.5-1.5 1.1z"/><path fill="#54bd8d" d="M107.2 64.1l1.5-1.2-4.6-.5-1.4 1.2z"/><path fill="#6cbd75" d="M103.5 63.7l1.5-1.1-4.6-.5-1.5 1.2z"/><path fill="#84bd6f" d="M99.8 63.4l1.4-1.1-4.6-.5-1.4 1.1z"/><path fill="#96c06c" d="M96 63.1l1.5-1.2-4.6-.5-1.5 1.2z"/><path fill="#9cc369" d="M92.3 62.8l1.4-1.2-4.6-.5-1.4 1.2z"/><path fill="#a2c363" d="M88.5 62.4l1.5-1.1-4.6-.5-1.5 1.1z"/><path fill="#a5c363" d="M84.8 62.1l1.4-1.2-4.6-.4-1.4 1.1z"/><path fill="#9fc360" d="M81 61.8l1.5-1.2-4.6-.5-1.5 1.2z"/><path fill="#93c357" d="M77.3 61.4l1.4-1.1-4.6-.5-1.4 1.2z"/><path fill="#75c963" d="M73.5 61.1l1.5-1.1-4.6-.5-1.5 1.1z"/><path fill="#4bcc84" d="M69.8 60.8l1.4-1.2-4.5-.5-1.5 1.2z"/><path fill="#2ac3a2" d="M66 60.5l1.5-1.2-4.6-.5-1.4 1.2z"/><path fill="#2db7ba" d="M62.3 60.1l1.5-1.1-4.6-.5-1.5 1.1z"/><path fill="#33a2cc" d="M58.6 59.8l1.4-1.2-4.6-.4-1.4 1.1z"/><path fill="#3c8dd2" d="M54.8 59.5l1.5-1.2-4.6-.5-1.5 1.2z"/><path fill="#367ecf" d="M51.1 59.1l1.4-1.1-4.6-.5-1.4 1.1z"/><path fill="#3078d2" d="M47.3 58.8l1.5-1.1-4.6-.5-1.5 1.1z"/><path fill="#4230c3" d="M134.9 65.5l1.4-1.2-4.6-.5-1.4 1.2z"/><path fill="#4539db" d="M131.1 65.2l1.5-1.2-4.6-.5-1.5 1.2z"/><path fill="#484bed" d="M127.4 64.8l1.4-1.1-4.6-.5-1.4 1.1z"/><path fill="#4269fc" d="M123.6 64.5l1.5-1.2-4.6-.4-1.5 1.1z"/><path fill="#2d87f6" d="M119.9 64.2l1.4-1.2-4.5-.5-1.5 1.2z"/><path fill="#21a2e4" d="M116.1 63.8l1.5-1.1-4.6-.5-1.4 1.1z"/><path fill="#18b4cc" d="M112.4 63.5l1.5-1.1-4.6-.5-1.5 1.1z"/><path fill="#27c0ae" d="M108.7 63.2l1.4-1.2-4.6-.5-1.4 1.2z"/><path fill="#3fc390" d="M104.9 62.9l1.5-1.2-4.6-.5-1.5 1.2z"/><path fill="#63c675" d="M101.2 62.5l1.4-1.1-4.6-.5-1.4 1.1z"/><path fill="#7bc366" d="M97.4 62.2l1.5-1.2-4.6-.5-1.5 1.2z"/><path fill="#87c35d" d="M93.7 61.9l1.4-1.2-4.6-.5-1.4 1.2z"/><path fill="#8dc657" d="M89.9 61.5l1.5-1.1-4.6-.5-1.5 1.1z"/><path fill="#90c657" d="M86.2 61.2l1.4-1.1-4.6-.5-1.4 1.1z"/><path fill="#87c957" d="M82.4 60.9l1.5-1.2-4.6-.5-1.5 1.2z"/><path fill="#72cc66" d="M78.7 60.5l1.4-1.1-4.6-.5-1.4 1.2z"/><path fill="#54cc7e" d="M74.9 60.2l1.5-1.1-4.6-.5-1.5 1.1z"/><path fill="#3cc696" d="M71.2 59.9l1.4-1.2-4.5-.5-1.5 1.2z"/><path fill="#36baab" d="M67.4 59.6l1.5-1.2-4.6-.5-1.4 1.2z"/><path fill="#3fabba" d="M63.7 59.2l1.5-1.1-4.6-.5-1.5 1.1z"/><path fill="#4599c3" d="M60 58.9l1.4-1.2-4.6-.4-1.4 1.1z"/><path fill="#4587c3" d="M56.2 58.6l1.5-1.2-4.6-.5-1.5 1.2z"/><path fill="#3f7bc0" d="M52.5 58.2l1.4-1.1-4.6-.5-1.4 1.2z"/><path fill="#3378c3" d="M48.7 57.9l1.5-1.1-4.6-.5-1.5 1.1z"/><path fill="#4b39bd" d="M136.3 64.6l1.4-1.2-4.6-.5-1.4 1.2z"/><path fill="#4233cc" d="M132.5 64.3l1.5-1.2-4.6-.5-1.5 1.2z"/><path fill="#453fe1" d="M128.8 63.9l1.4-1.1-4.6-.5-1.4 1.1z"/><path fill="#4554f3" d="M125 63.6l1.5-1.2-4.6-.4-1.5 1.1z"/><path fill="#3678f9" d="M121.3 63.3l1.4-1.2-4.5-.5-1.5 1.2z"/><path fill="#2a93ed" d="M117.5 62.9l1.5-1.1-4.6-.5-1.4 1.2z"/><path fill="#1ba8de" d="M113.8 62.6l1.5-1.1-4.6-.5-1.5 1.1z"/><path fill="#0cb7c9" d="M110.1 62.3l1.4-1.2-4.6-.5-1.4 1.2z"/><path fill="#1ec0b1" d="M106.3 62l1.5-1.2-4.6-.5-1.5 1.2z"/><path fill="#36c699" d="M102.6 61.6l1.4-1.1-4.6-.5-1.4 1.1z"/><path fill="#48c987" d="M98.8 61.3l1.5-1.2-4.6-.4-1.5 1.1z"/><path fill="#57c97b" d="M95.1 61l1.4-1.2-4.6-.5-1.4 1.2z"/><path fill="#5dcc75" d="M91.3 60.6l1.5-1.1-4.6-.5-1.5 1.1zM87.6 60.3l1.4-1.1-4.6-.5-1.4 1.1z"/><path fill="#57c97e" d="M83.8 60l1.5-1.2-4.6-.5-1.5 1.2z"/><path fill="#4bc687" d="M80.1 59.7l1.4-1.2-4.5-.5-1.5 1.2z"/><path fill="#42c096" d="M76.3 59.3l1.5-1.1-4.6-.5-1.4 1.1z"/><path fill="#4bb7a2" d="M72.6 59l1.5-1.2-4.6-.5-1.5 1.2z"/><path fill="#54a8ab" d="M68.9 58.7l1.4-1.2-4.6-.5-1.4 1.2z"/><path fill="#5a99b4" d="M65.1 58.3l1.5-1.1-4.6-.5-1.5 1.1z"/><path fill="#5a8ab4" d="M61.4 58l1.4-1.1-4.6-.5-1.4 1.1z"/><path fill="#547eae" d="M57.6 57.7l1.5-1.2-4.6-.5-1.5 1.2z"/><path fill="#4878ab" d="M53.9 57.3l1.4-1.1-4.6-.5-1.4 1.2z"/><path fill="#3f7eb7" d="M50.1 57l1.5-1.1-4.6-.5-1.5 1.1z"/><path fill="#4530b4" d="M137.7 63.7l1.4-1.2-4.6-.5-1.4 1.2z"/><path fill="#422dbd" d="M133.9 63.4l1.5-1.2-4.6-.5-1.5 1.2z"/><path fill="#4533cf" d="M130.2 63l1.4-1.1-4.5-.5-1.5 1.1z"/><path fill="#4542e4" d="M126.4 62.7l1.5-1.1-4.6-.5-1.4 1.1z"/><path fill="#3f63f6" d="M122.7 62.4l1.5-1.2-4.6-.5-1.5 1.2z"/><path fill="#3381f3" d="M119 62l1.4-1.1-4.6-.5-1.4 1.2z"/><path fill="#2496ea" d="M115.2 61.7l1.5-1.1-4.6-.5-1.5 1.1z"/><path fill="#18a5d8" d="M111.5 61.4l1.4-1.2-4.6-.5-1.4 1.2z"/><path fill="#1eb1c9" d="M107.7 61.1l1.5-1.2-4.6-.5-1.5 1.2z"/><path fill="#21baba" d="M104 60.7l1.4-1.1-4.6-.5-1.4 1.1z"/><path fill="#2ac0ab" d="M100.2 60.4l1.5-1.2-4.6-.4-1.5 1.1z"/><path fill="#33c39f" d="M96.5 60.1l1.4-1.2-4.6-.5-1.4 1.2z"/><path fill="#3cc399" d="M92.7 59.7l1.5-1.1-4.6-.5-1.5 1.2z"/><path fill="#45c096" d="M89 59.4l1.4-1.1-4.6-.5-1.4 1.1z"/><path fill="#4bbd96" d="M85.2 59.1l1.5-1.2-4.6-.5-1.5 1.2z"/><path fill="#54b79c" d="M81.5 58.8l1.4-1.2-4.5-.5-1.5 1.2z"/><path fill="#5dab9f" d="M77.7 58.4l1.5-1.1-4.6-.5-1.4 1.1z"/><path fill="#669fa5" d="M74 58.1l1.5-1.2-4.6-.4-1.5 1.1z"/><path fill="#6c96a8" d="M70.3 57.8l1.4-1.2-4.6-.5-1.4 1.2z"/><path fill="#6f8aa5" d="M66.5 57.4l1.5-1.1-4.6-.5-1.5 1.1z"/><path fill="#6c7e9f" d="M62.8 57.1l1.4-1.1-4.6-.5-1.4 1.1z"/><path fill="#637899" d="M59 56.8l1.5-1.2-4.6-.5-1.5 1.2z"/><path fill="#57789c" d="M55.3 56.5l1.4-1.2-4.6-.5-1.4 1.2z"/><path fill="#4b81ab" d="M51.5 56.1l1.5-1.1-4.6-.5-1.5 1.1z"/><path fill="#4b36b4" d="M139.1 62.8l1.4-1.2-4.6-.4-1.4 1.1z"/><path fill="#3f2ab4" d="M135.3 62.5l1.5-1.2-4.6-.5-1.5 1.2z"/><path fill="#422dc0" d="M131.6 62.1l1.4-1.1-4.5-.5-1.5 1.1z"/><path fill="#4533cf" d="M127.8 61.8l1.5-1.1-4.6-.5-1.4 1.1z"/><path fill="#424be4" d="M124.1 61.5l1.5-1.2-4.6-.5-1.5 1.2z"/><path fill="#396fed" d="M120.4 61.2l1.4-1.2-4.6-.5-1.4 1.2z"/><path fill="#2d84ea" d="M116.6 60.8l1.5-1.1-4.6-.5-1.5 1.1z"/><path fill="#2793e1" d="M112.9 60.5l1.4-1.2-4.6-.5-1.4 1.2z"/><path fill="#2d9fd5" d="M109.1 60.2l1.5-1.2-4.6-.5-1.5 1.2z"/><path fill="#33a8c6" d="M105.4 59.8l1.4-1.1-4.6-.5-1.4 1.1z"/><path fill="#3caeba" d="M101.6 59.5l1.5-1.1-4.6-.5-1.5 1.1z"/><path fill="#45b1ae" d="M97.9 59.2l1.4-1.2-4.6-.5-1.4 1.2z"/><path fill="#4eb1a5" d="M94.1 58.8l1.5-1.1-4.6-.5-1.5 1.2z"/><path fill="#5aaea2" d="M90.4 58.5l1.4-1.1-4.5-.5-1.5 1.1z"/><path fill="#60a89f" d="M86.6 58.2l1.5-1.2-4.6-.5-1.4 1.2z"/><path fill="#699fa2" d="M82.9 57.9l1.5-1.2-4.6-.5-1.5 1.2z"/><path fill="#7596a2" d="M79.2 57.5l1.4-1.1-4.6-.5-1.4 1.1z"/><path fill="#7b8d9f" d="M75.4 57.2l1.5-1.2-4.6-.4-1.5 1.1z"/><path fill="#7b849c" d="M71.7 56.9l1.4-1.2-4.6-.5-1.4 1.2z"/><path fill="#7b7e93" d="M67.9 56.5l1.5-1.1-4.6-.5-1.5 1.2z"/><path fill="#78788d" d="M64.2 56.2l1.4-1.1-4.6-.5-1.4 1.1z"/><path fill="#6f758a" d="M60.4 55.9l1.5-1.2-4.6-.5-1.5 1.2z"/><path fill="#667890" d="M56.7 55.6l1.4-1.2-4.6-.5-1.4 1.2z"/><path fill="#57819f" d="M52.9 55.2l1.5-1.1-4.6-.5-1.5 1.1z"/><path fill="#4e39b1" d="M140.5 61.9l1.4-1.2-4.5-.4-1.5 1.1z"/><path fill="#3f27ae" d="M136.7 61.6l1.5-1.2-4.6-.5-1.4 1.2z"/><path fill="#3f2ab4" d="M133 61.2l1.5-1.1-4.6-.5-1.5 1.2z"/><path fill="#422dbd" d="M129.3 60.9l1.4-1.1-4.6-.5-1.4 1.1z"/><path fill="#4233cc" d="M125.5 60.6l1.5-1.2-4.6-.5-1.5 1.2z"/><path fill="#3c5de1" d="M121.8 60.3l1.4-1.2-4.6-.5-1.4 1.2z"/><path fill="#3075e1" d="M118 59.9l1.5-1.1-4.6-.5-1.5 1.1z"/><path fill="#3084db" d="M114.3 59.6l1.4-1.2-4.6-.4-1.4 1.1z"/><path fill="#3c8dd2" d="M110.5 59.3l1.5-1.2-4.6-.5-1.5 1.2z"/><path fill="#4296c9" d="M106.8 58.9l1.4-1.1-4.6-.5-1.4 1.1z"/><path fill="#4e99bd" d="M103 58.6l1.5-1.1-4.6-.5-1.5 1.1z"/><path fill="#5a9cb1" d="M99.3 58.3l1.4-1.2-4.6-.5-1.4 1.2z"/><path fill="#6399ab" d="M95.5 58l1.5-1.2-4.6-.5-1.5 1.2z"/><path fill="#6f96a5" d="M91.8 57.6l1.4-1.1-4.5-.5-1.5 1.1z"/><path fill="#78939f" d="M88 57.3l1.5-1.2-4.6-.5-1.4 1.2z"/><path fill="#818a9c" d="M84.3 57l1.5-1.2-4.6-.5-1.5 1.2z"/><path fill="#848499" d="M80.6 56.6l1.4-1.1-4.6-.5-1.4 1.1z"/><path fill="#877e93" d="M76.8 56.3l1.5-1.1-4.6-.5-1.5 1.1z"/><path fill="#87758a" d="M73.1 56l1.4-1.2-4.6-.5-1.4 1.2z"/><path fill="#877284" d="M69.3 55.6l1.5-1.1-4.6-.5-1.5 1.2z"/><path fill="#84727e" d="M65.6 55.3l1.4-1.1-4.6-.5-1.4 1.1z"/><path fill="#7e7581" d="M61.8 55l1.5-1.2-4.6-.5-1.5 1.2z"/><path fill="#787b84" d="M58.1 54.7l1.4-1.2-4.6-.5-1.4 1.2z"/><path fill="#698790" d="M54.3 54.3l1.5-1.1-4.6-.5-1.5 1.1z"/><path fill="#5742b4" d="M141.9 61l1.4-1.1-4.5-.5-1.5 1.1z"/><path fill="#4e39b1" d="M138.1 60.7l1.5-1.2-4.6-.5-1.4 1.2z"/><path fill="#4e39b4" d="M134.4 60.3l1.5-1.1-4.6-.5-1.5 1.2z"/><path fill="#4e39ba" d="M130.7 60l1.4-1.1-4.6-.5-1.4 1.1z"/><path fill="#513cc0" d="M126.9 59.7l1.5-1.2-4.6-.5-1.5 1.2z"/><path fill="#4e4bcc" d="M123.2 59.4l1.4-1.2-4.6-.5-1.4 1.2z"/><path fill="#3978db" d="M119.4 59l1.5-1.1-4.6-.5-1.5 1.1z"/><path fill="#397ecc" d="M115.7 58.7l1.4-1.2-4.6-.4-1.4 1.1z"/><path fill="#4887c3" d="M111.9 58.4l1.5-1.2-4.6-.5-1.5 1.2z"/><path fill="#578dba" d="M108.2 58l1.4-1.1-4.6-.5-1.4 1.2z"/><path fill="#6690ae" d="M104.4 57.7l1.5-1.1-4.6-.5-1.5 1.1z"/><path fill="#7893a5" d="M100.7 57.4l1.4-1.2-4.5-.5-1.5 1.2z"/><path fill="#818d9c" d="M96.9 57.1l1.5-1.2-4.6-.5-1.4 1.2z"/><path fill="#8d8d99" d="M93.2 56.7l1.5-1.1-4.6-.5-1.5 1.1z"/><path fill="#938a96" d="M89.5 56.4l1.4-1.2-4.6-.4-1.4 1.1z"/><path fill="#968793" d="M85.7 56.1l1.5-1.2-4.6-.5-1.5 1.2z"/><path fill="#9c8190" d="M82 55.7l1.4-1.1-4.6-.5-1.4 1.1z"/><path fill="#9c7e8d" d="M78.2 55.4l1.5-1.1-4.6-.5-1.5 1.1z"/><path fill="#997b87" d="M74.5 55.1l1.4-1.2-4.6-.5-1.4 1.2z"/><path fill="#9c7e87" d="M70.7 54.8l1.5-1.2-4.6-.5-1.5 1.2z"/><path fill="#967b87" d="M67 54.4l1.4-1.1-4.6-.5-1.4 1.1z"/><path fill="#968187" d="M63.2 54.1l1.5-1.2-4.6-.5-1.5 1.2z"/><path fill="#8d8787" d="M59.5 53.8l1.4-1.2-4.6-.5-1.4 1.2z"/><path fill="#84938a" d="M55.7 53.4l1.5-1.1-4.6-.5-1.5 1.1z"/></g></g><g id="abw"><path d="M22.1 71.7L22.1 47.4M36.2 62.8L36.2 38.5M50.2 53.8L50.2 29.5M135.4 59.2L135.4 34.9M98 55.9L98 31.6M60.5 52.7L60.5 28.4M19.3 73.5L53 52M53 52L142.9 59.9M19.3 61.4L53 39.8M53 39.8L142.9 47.8M19.3 49.2L53 27.7M53 27.7L142.9 35.6" stroke="#e0e0e0" stroke-width=".5"/><path d="M19.3 49.2L53 27.7M53 27.7L142.9 35.6M142.9 35.6L142.9 59.9M53 27.7L53 52M53 52L19.3 73.5M53 52L142.9 59.9" stroke="#8c8c8c" stroke-width=".6"/></g><g id="uc0"><path d="M380.2 70.5L380.2 44.2M400.9 63L400.9 36.7M421.7 55.5L421.7 29.2M492 65.3L492 39M461.9 60.1L461.9 33.8M431.8 55L431.8 28.7M376.1 71.4L425.8 53.4M425.8 53.4L498 65.7M376.1 59.4L425.8 41.4M425.8 41.4L498 53.7M376.1 47.4L425.8 29.4M425.8 29.4L498 41.7M452.4 82.8L380.2 70.5M473.1 75.3L400.9 63M493.9 67.8L421.7 55.5M442.3 83.3L492 65.3M412.2 78.2L461.9 60.1M382.1 73L431.8 55" stroke="#e0e0e0" stroke-width=".5"/><path d="M376.1 45.7L425.8 27.7M425.8 27.7L498 40M498 40L498 66.3M425.8 27.7L425.8 54M425.8 54L376.1 72M425.8 54L498 66.3" stroke="#8c8c8c" stroke-width=".6"/><g fill="none" stroke-width="0.35" opacity="0.6"><path d="M439.5 82.8l3.3-.8 3.3-.3 4.1 0 4.2.4M382.2 69.8l3.1.8 1.4 1 0 .9-1.8 1M491.9 68.5l-3.1-.8-1.3-.8-.2-.4.1-.7 1.8-1M434.6 55.5l-3.3.8-3.3.3-4.1 0-4.2-.4" stroke="#4852f4"/><path d="M442.9 83.4l3.9-.7 5.2.2M379.8 70.6l1.7.4 1 .6.2.4-.2.4-1 .5M494.3 67.7l-1.7-.4-1-.6-.2-.4.2-.4 1-.5M431.2 54.9l-3.9.7-5.2-.2" stroke="#02bac3"/></g></g><g id="uc1"><path d="M380.2 155.5L380.2 128.5M400.9 148L400.9 121M421.7 140.5L421.7 113.5M492 150.3L492 123.3M461.9 145.2L461.9 118.2M431.8 140L431.8 113M376.1 145.9L425.8 127.9M425.8 127.9L498 140.2M376.1 131.4L425.8 113.4M425.8 113.4L498 125.7M452.4 167.8L380.2 155.5M473.1 160.3L400.9 148M493.9 152.8L421.7 140.5M442.3 168.3L492 150.3M412.2 163.2L461.9 145.2M382.1 158L431.8 140" stroke="#e0e0e0" stroke-width=".5"/><path d="M376.1 130L425.8 112M425.8 112L498 124.3M498 124.3L498 151.3M425.8 112L425.8 139M425.8 139L376.1 157M425.8 139L498 151.3" stroke="#8c8c8c" stroke-width=".6"/><g fill="none" stroke-width="0.35" opacity="0.6"><path d="M437.6 167.5l4.3-1 4.3-.3 5.3 0 4.1.4M383.4 154.3l3.8 1.1 1.6 1.1.1.7-.3.6-1.8 1M490.7 154l-3.2-.8-2.1-1.2-.2-.5.1-.7.6-.6 1.4-.7M436.5 140.8l-4.3 1-4.3.3-5.3 0-4.1-.4" stroke="#2d8df2"/><path d="M441.1 168.1l2.5-.6 3.9-.3 5.8.3M381.1 155.2l2.3.6 1.1.6.2.4-.1.6-1.3.8M493 153.1l-2.3-.6-1.1-.6-.2-.4.1-.6 1.3-.8M433 140.2l-2.5.6-3.9.3-5.8-.3" stroke="#07bcc0"/><path d="M443.6 168.5l3-.5 4.9.1M379.3 155.8l1.6.4.8.7-.1.4-.8.5M494.8 152.5l-1.6-.4-.8-.7.1-.4.8-.5M430.5 139.8l-1.7.4-2.7.2-3.5-.2" stroke="#81cc59"/><path d="M445.8 168.9l1.8-.3 2.4.1M377.8 156.4l1.3.5-.1.3-.4.2M496.3 151.9l-1.3-.5.1-.3.4-.2M428.3 139.4l-1.8.3-2.4-.1" stroke="#fec03a"/></g></g><g id="uc2"><path d="M380.2 241.4L380.2 215.2M400.9 233.9L400.9 207.7M421.7 226.4L421.7 200.2M492 236.2L492 210M461.9 231.1L461.9 204.9M431.8 225.9L431.8 199.7M376.1 242.9L425.8 224.9M425.8 224.9L498 237.2M376.1 230.1L425.8 212.1M425.8 212.1L498 224.4M376.1 217.2L425.8 199.2M425.8 199.2L498 211.5M452.4 253.7L380.2 241.4M473.1 246.2L400.9 233.9M493.9 238.7L421.7 226.4M442.3 254.2L492 236.2M412.2 249.1L461.9 231.1M382.1 243.9L431.8 225.9" stroke="#e0e0e0" stroke-width=".5"/><path d="M376.1 216.7L425.8 198.7M425.8 198.7L498 211M498 211L498 237.2M425.8 198.7L425.8 224.9M425.8 224.9L376.1 242.9M425.8 224.9L498 237.2" stroke="#8c8c8c" stroke-width=".6"/><g fill="none" stroke-width="0.35" opacity="0.6"><path d="M432.5 252.5l0-1.3-.3-1.1-.7-1.5-1.2-1.5-2.5-2-2.9-.9-7.2-.3-17.4.4-8.1.7-.8.2.5.4M487.1 241.1l-.1-.4-1.1-.1-8.4.1-16.9 1.2-6.3.9-1 .5-.4.6 0 1 .6 1.1 2.5 3 3.2 2.3" stroke="#2994ed"/><path d="M439.6 253.7l-1.7-3.3-5.3-7.5-.8-.7-.8-.2-40.5 1.3-5.3.5-.9.2.5.4M492 239.4l-.1-.5-1.1-.1-5.6.1-39.7 2.4-.5.3.2.7 5.9 7.5 3.2 3.2" stroke="#2dc4a5"/><path d="M444.8 254.6l-7.2-9.2-1.6-2.3-.6-1.3.2-.5 1.5-.7.7-.1 3 .9 1.6 1.4 1.9 2.3 6.4 9.2M399 234.6l5.4.4 2.4-.3-.2-.3-1.5-.6-.2-.4-.8-.1 1.9-.7-1.9.7-1.2-.1M414.1 230.6l15.1-1.1 15.7-.3-10.9-1.9-7.4-.3-2.2.3-1.2.5-1.6.1-7.5 2.7M495.6 238.1l-.4-.4-7.1.1-29.9 2-14 .6-5.1-.4-1.5-.4-1.7.1-.8.5-2.3.6-1.9.3-14 .6-30.7.9-6.8.5.2.4M459.1 230.6l-1 .1-2.8-.4 2.8.4-.6.3.3.3-.5.7.3.4 2.6 0 4.5-.9" stroke="#d0bf27"/><path d="M447.2 253.7l0 0M447 253.3l-.2 0 .2 0M446.8 252.9l-.4 0 .4 0M446.6 252.6l-.6-.1.6.1M446.4 252.2l-.7-.1.7.1M446.2 251.8l-.8.1-8.6-9.6-.4-.9 1.5-.4 1.8.3.4.3 6.1 10.2M407.1 241.5l-.7-.1 11.4-3.5 4.6.4 10.9 1.9-1.3.5-1.9.2-23 .6M442.9 240.2l-2.1-.3.5-.3 7.7-2.7 3-.5 15.5 2.1-5.4.6-19.2 1.1M436.5 239.1l-10.3-1.7-2.2-.4-1.1-.5 5.3-1.1 5-.5 5.4 0 6.5.5-.3.6-.8.4-7.5 2.7M427.3 225.2l-2.5.1" stroke="#f6f41d"/></g></g><g id="ud0"><path d="M552.4 70.8L552.4 45.4M568.7 62.5L568.7 37.1M584.9 54.3L584.9 28.9M652.1 63.1L652.1 37.7M623 58.4L623 33M593.9 53.6L593.9 28.2M549.2 72.4L588.1 52.7M588.1 52.7L657.9 64M549.2 64.3L588.1 44.6M588.1 44.6L657.9 55.9M549.2 56.2L588.1 36.5M588.1 36.5L657.9 47.8M549.2 48.1L588.1 28.4M588.1 28.4L657.9 39.7M622.2 82.1L552.4 70.8M638.5 73.8L568.7 62.5M654.7 65.6L584.9 54.3M613.2 82.8L652.1 63.1M584.1 78.1L623 58.4M555 73.3L593.9 53.6" stroke="#e0e0e0" stroke-width=".5"/><path d="M549.2 47L588.1 27.3M588.1 27.3L657.9 38.6M657.9 38.6L657.9 64M588.1 27.3L588.1 52.7M588.1 52.7L549.2 72.4M588.1 52.7L657.9 64" stroke="#8c8c8c" stroke-width=".6"/><g fill="none" stroke-width="0.4" opacity="0.6"><path d="M552.1 72.9l-1.3-1.3M620.6 82.9l-4.5.3M586.5 53.5l4.5-.3M655 63.5l1.3 1.3" stroke="#473fe2"/><path d="M556.7 73.6l-2-1.6-1.3-1.7M623.2 81.6l-11.7.9M583.9 54.8l11.7-.9M650.4 62.8l2 1.6 1.3 1.7" stroke="#4269fe"/><path d="M562.4 74.5l-2.3-1.3-2-1.7-1-1.3-.6-1.5M626.3 80l-9.3 1.1-11.2.5M580.8 56.4l10.4-1.2 10.1-.4M644.7 61.9l2.3 1.3 2 1.7 1 1.3.6 1.5" stroke="#2a93ed"/><path d="M570.6 75.9l-4.9-2.1-3.2-2.2-1-1.3-.6-1.3-.2-1.3.5-1.4M631 77.6l-7.9 1.5-8.4.9-8.3.4-8.8-.2M576.1 58.8l7.9-1.5 8.4-.9 8.3-.4 8.8.2M636.5 60.5l4.9 2.1 3.2 2.2 1 1.3.6 1.3.2 1.3-.5 1.4" stroke="#0ab4d1"/><path d="M592.8 78.5l-9-1.2-8.1-1.9-5.7-2.3-2-1.4-1.6-1.5-.6-1.5.1-1.5.8-1.5 1.5-1.4 2.1-1.3 2.7-1.2 7.2-2.1 8.6-1.4 9.6-.8 10.4.1 10 .8 8.6 1.5 3.8 1.1 3.5 1.2 2.9 1.4 1.9 1.4 1.2 1.2.6 1.5 0 1.2-.6 1.4-1.1 1.3-1.4 1.1-4.7 2.2-6.6 1.8-7.1 1.3-8.9.8-9.3.1-8.8-.4" stroke="#33c69e"/><path d="M594.4 76.8l-8.4-1.2-6.2-1.6-4.7-2-1.7-1.2-1-1.2-.4-1.1.1-1.3.7-1.2 1.3-1.1 2.1-1.3 2.3-.9 5.9-1.7 7.2-1.1 8.6-.6 8.5.1 8 .7 7.6 1.4 5.7 1.9 2 1 1.7 1.2 1 1.2.4 1.1-.1 1.2-.5 1-2.2 1.9-4.3 2-5.3 1.4-7 1.1-6.9.6-7.2 0-7.2-.3" stroke="#8acb52"/><path d="M598 74.4l-5.8-.7-4.9-1.1-3.8-1.6-2-1.6-.4-.8 0-.9.5-.9.8-.9 2.9-1.5 4.3-1.3 5-.8 5.7-.4 5.9 0 6 .4 5.3.9 4.3 1.3 2.9 1.6.8.7.5 1 0 .6-.3.9-1.4 1.4-3.1 1.5-3.7 1.1-5 .8-4.4.4-4.9.1-5.2-.2" stroke="#e7bb2d"/></g></g><g id="sd0"><g shape-rendering="crispEdges" filter="url(#bl)"><path fill="#ffffff" d="M613.4 40.5l1.8.6-4.1-.2-1.9-.7zM608.3 40l1.8.3-4.1 0-1.8-.3zM616.6 41l1.8.5-4.1-.5-1.8-.5zM595 40.3l1.8-.1-4.1.7-1.8 0z"/><path fill="#bac636" d="M624.9 42.9l1.8.9-4.2-1-1.7-.9z"/><path fill="#f3de99" d="M611.6 40.4l1.8.2-4.2-.3-1.8-.3z"/><path fill="#7ecc60" d="M633.1 46l1.1.7-4.1-1.5-1.1-.7z"/><path fill="#ffffff" d="M590 41.1l1.8-.3-4.1.9-1.8.2zM619.8 41.7l1.8.5-4.1-.8-1.8-.5zM628.1 44l1.8.8-4.1-1.2-1.8-.9zM606.5 40.2l1.8-.1-4.1-.1-1.8 0zM576.5 44.5l2-.4-2.6 1.4-2 .4zM585 42.1l1.8-.4-4.1 1.1-1.8.4z"/><path fill="#eac95d" d="M614.8 40.9l1.8.2-4.1-.6-1.8-.2z"/><path fill="#ffffff" d="M636.3 47.6l1.1.7-4.1-1.9-1-.7z"/><path fill="#f6f0cc" d="M593.2 40.7l1.8-.3-4.1.5-1.8.3z"/><path fill="#ffffff" d="M623.1 42.5l1.8.5-4.1-1-1.8-.5zM601.5 40.3l1.8-.3-4.1 0-1.8.2zM631.3 45.2l1.8.9-4.1-1.6-1.8-.8z"/><path fill="#b7de8a" d="M579.9 43.6l1.8-.6-4.1 1.4-1.8.6z"/><path fill="#edbd3c" d="M609.8 40.5l1.8-.1-4.1-.4-1.9.1z"/><path fill="#ffffff" d="M642.3 50.9l1 .9-2.4-1.3-1-1zM588.2 41.6l1.8-.5-4.1.7-1.8.5z"/><path fill="#f3e7b4" d="M618 41.5l1.8.2-4.1-.8-1.8-.2z"/><path fill="#ffffff" d="M572.9 46.2l1.8-.7-2.6 1.4-1.9.7z"/><path fill="#f0d88d" d="M596.5 40.6l1.8-.4-4.2.2-1.8.4z"/><path fill="#d8de8d" d="M626.3 43.5l1.8.5-4.1-1.3-1.8-.4z"/><path fill="#ffffff" d="M643.9 52l1 .9-2.4-1.5-1-.9z"/><path fill="#f0c04b" d="M604.7 40.5l1.8-.4-4.1-.2-1.8.3z"/><path fill="#e1f6e1" d="M634.5 46.7l1.8.9-4-1.9-1.8-.8z"/><path fill="#b4e7b7" d="M574.9 45.7l1.8-1-2.8 1-1.8 1z"/><path fill="#cfde8a" d="M583.2 42.8l1.8-.7-4.1 1.1-1.8.7z"/><path fill="#edbd3f" d="M613 41l1.8-.2-4.1-.6-1.8.2z"/><path fill="#ffffff" d="M645.5 53.1l1 .9-2.4-1.6-1-.9zM641.2 50.2l1 .8-2.4-1.4-1-.7z"/><path fill="#e1c64b" d="M591.4 41.3l1.8-.6-4.1.4-1.8.6z"/><path fill="#e1d26f" d="M621.2 42.3l1.9.2-4.1-1.1-1.9-.1z"/><path fill="#ffffff" d="M569.2 48.4l1.8-1.2-2.8 1.4-1.7 1.1z"/><path fill="#edbd39" d="M599.7 40.7l1.8-.5-4.1-.1-1.8.5z"/><path fill="#9fc948" d="M629.5 44.7l1.8.5-4.1-1.5-1.8-.5z"/><path fill="#ffffff" d="M642.8 51.3l1 .7-2.3-1.5-1.1-.7z"/><path fill="#b1de90" d="M578.1 44.5l1.8-.9-4.1 1.4-1.8.9z"/><path fill="#f0c042" d="M607.9 40.8l1.9-.4-4.1-.4-1.9.4z"/><path fill="#ffffff" d="M637.7 48.4l1.8.9-4-2.1-1.8-.9z"/><path fill="#d8d875" d="M586.4 42.3l1.8-.8-4.1.7-1.8.8z"/><path fill="#e7bd3c" d="M616.2 41.6l1.8-.1-4.1-.9-1.8.2z"/><path fill="#6cd5b4" d="M571.1 47.8l1.8-1.5-2.7.9-1.8 1.5z"/><path fill="#ffffff" d="M653.3 59.5l1.1 1-2.7-2.3-1-1z"/><path fill="#eabd3f" d="M594.7 41.3l1.8-.8-4.1.2-1.9.6z"/><path fill="#ccc333" d="M624.5 43.3l1.8.2-4.1-1.3-1.8-.1z"/><path fill="#f0c342" d="M602.9 41l1.8-.7-4.1-.3-1.8.6z"/><path fill="#c0e7ae" d="M632.7 46.2l1.8.5-4-1.8-1.8-.5z"/><path fill="#ffffff" d="M638.5 49.1l2.7 1.2-1.6-1.3-2.6-1zM653.6 59.7l1.7 1.7-1-.8-1.7-1.7zM650.3 56.9l1.1.9-2.4-1.9-1-.9zM646 53.6l1.1.7-2.4-1.7-1.1-.7z"/><path fill="#75d593" d="M572.9 47.1l2-1.6-2.6.6-2 1.6z"/><path fill="#b1c63c" d="M581.4 43.7l1.8-.9-4.2 1-1.7.9z"/><path fill="#edc042" d="M611.2 41.3l1.8-.4-4.1-.7-1.8.5z"/><path fill="#dbc039" d="M589.6 42.1l1.8-.9-4.1.4-1.8.8z"/><path fill="#e1bd3f" d="M619.4 42.4l1.9-.2-4.1-1-1.9.2z"/><path fill="#6fd8c9" d="M640.1 50.2l2.7 1.1-1.6-1.4-2.6-1z"/><path fill="#ffffff" d="M647.6 54.8l1.1.8-2.3-1.8-1.2-.8zM652.2 58.6l1.1.9-2.6-2.3-1.1-.9zM655.5 61.6l1.8 1.7-1-.9-1.7-1.7z"/><path fill="#66d5c3" d="M567.3 50l1.9-1.8-2.6.9-1.9 1.9z"/><path fill="#f0c042" d="M597.9 41.4l1.8-.8-4.1-.2-1.8.8z"/><path fill="#b4c63c" d="M627.7 44.5l1.8.2-4-1.6-1.9-.1z"/><path fill="#ffffff" d="M656.5 62.6l1.7 1.7-.9-1-1.8-1.7z"/><path fill="#81cc60" d="M576.3 45.5l1.8-1.1-4.1 1.3-1.7 1.2z"/><path fill="#edc642" d="M606.1 41.4l1.9-.7-4.1-.5-1.9.6z"/><path fill="#8adba5" d="M635.9 47.8l1.9.6-4-2.1-1.9-.5z"/><path fill="#15bac6" d="M641.8 51.3l2.6 1.1-1.6-1.5-2.6-1z"/><path fill="#ffffff" d="M649.2 56.1l1.1.8-2.3-1.9-1.1-.8z"/><path fill="#c9c036" d="M584.6 43.2l1.8-1-4.1.6-1.8 1z"/><path fill="#eac045" d="M614.4 42l1.8-.5-4-.9-1.9.5z"/><path fill="#57d2a5" d="M569.1 49.2l2-1.9-2.5.8-2 1.8z"/><path fill="#eac045" d="M592.8 42l1.9-.9-4.1 0-1.9.9z"/><path fill="#d5c03c" d="M622.6 43.4l1.9-.2-4.1-1.3-1.8.2z"/><path fill="#84dbe4" d="M643.4 52.5l2.6 1-1.6-1.6-2.6-1z"/><path fill="#ffffff" d="M651.1 57.8l1.1.8-2.6-2.3-1.1-.8z"/><path fill="#edc642" d="M601.1 41.6l1.8-.8-4-.4-1.9.8z"/><path fill="#9cc94b" d="M630.9 45.9l1.8.2-4-1.8-1.8-.2z"/><path fill="#57cfa2" d="M636.9 48.8l2.5.5-1.8-1.5-2.5-.4z"/><path fill="#60cf8d" d="M571 48.3l2.1-1.8-2.5.6-2.1 1.9z"/><path fill="#a8c645" d="M579.6 44.8l1.8-1.2-4.1.9-1.8 1.2z"/><path fill="#ffffff" d="M655.3 62l1.8 1.2-.8-1.3-1.9-1.2z"/><path fill="#eac642" d="M609.3 41.9l1.9-.8-4.1-.7-1.8.7z"/><path fill="#4ebae7" d="M645.1 53.8l2.5 1-1.7-1.8-2.5-1z"/><path fill="#dbbd42" d="M587.8 43l1.8-1.1-4.1.3-1.8 1z"/><path fill="#e7c048" d="M617.6 42.7l1.9-.4-4.1-1.1-1.9.5z"/><path fill="#36c6a2" d="M638.5 49.8l2.5.5-1.8-1.6-2.4-.4z"/><path fill="#ffffff" d="M653 59.6l1.1.8-2.5-2.5-1.2-.7z"/><path fill="#3cc9c0" d="M565.3 51.6l2.1-2.2-2.5.9-2 2.2z"/><path fill="#eac345" d="M596 42.1l1.9-1-4.1-.2-1.8 1z"/><path fill="#c9c03c" d="M625.8 44.5l1.9-.1-4-1.5-1.9.1z"/><path fill="#2da2e7" d="M646.7 55.1l2.5 1-1.7-1.9-2.4-1z"/><path fill="#81cf6c" d="M574.5 46.8l1.8-1.4-4.1 1.3-1.7 1.4z"/><path fill="#ffffff" d="M653.3 60.4l1.8.9-1-1.5-1.7-.9z"/><path fill="#e7c942" d="M604.3 42l1.9-.9-4.1-.5-1.9.8z"/><path fill="#7bcc63" d="M634.1 47.5l1.9.2-4-2.1-1.9-.1z"/><path fill="#2dc3b1" d="M640.2 50.8l2.4.6-1.8-1.7-2.4-.5z"/><path fill="#c6c03c" d="M582.8 44.3l1.8-1.3-4.1.6-1.8 1.3z"/><path fill="#e7c645" d="M612.5 42.5l1.9-.8-4-.8-1.9.7z"/><path fill="#d2d5fc" d="M654.3 61.4l1.8.9-1-1.6-1.7-.8z"/><path fill="#51cfae" d="M567.2 50.6l2.1-2.1-2.4.8-2.1 2.1z"/><path fill="#429ff0" d="M649.1 56.8l2 .9-2.4-2.3-2-.9z"/><path fill="#e4c04b" d="M591 42.9l1.9-1.1-4.1 0-1.8 1.1z"/><path fill="#e1bd48" d="M620.8 43.6l1.9-.4-4-1.3-1.9.5z"/><path fill="#1ebdc0" d="M641.8 51.9l2.4.6-1.8-1.7-2.4-.6z"/><path fill="#e7c945" d="M599.3 42.4l1.8-1-4-.5-1.9 1.1z"/><path fill="#b7c33f" d="M629.1 45.8l1.8-.1-4-1.7-1.9.1z"/><path fill="#63cc7b" d="M635.2 48.5l2.4.1-1.9-1.5-2.4-.1z"/><path fill="#63d299" d="M569.2 49.8l2-2.1-2.4.6-2.1 2.1z"/><path fill="#5d9ff9" d="M651 58.5l2.1 1-2.4-2.5-2.1-.9z"/><path fill="#9fc64b" d="M577.8 46l1.7-1.4-4 .9-1.8 1.4z"/><path fill="#e7c945" d="M607.5 42.5l1.9-.9-4-.7-1.9.9z"/><path fill="#21c0cf" d="M643.4 53.1l2.4.6-1.8-1.8-2.4-.6z"/><path fill="#d8bd48" d="M586 44l1.8-1.3-4 .3-1.9 1.2z"/><path fill="#e4c648" d="M615.8 43.2l1.9-.7-4.1-1.1-1.9.8z"/><path fill="#5dcf8a" d="M636.8 49.4l2.4.2-1.9-1.6-2.4-.1z"/><path fill="#5787fc" d="M651.5 58.8l2.5 1.6-.8-1.1-2.6-1.5z"/><path fill="#75d8db" d="M563.5 53.3l2-2.4-2.4.9-2 2.4z"/><path fill="#e4c648" d="M594.2 43l1.9-1.1-4.1-.3-1.8 1.2z"/><path fill="#d5bd45" d="M624 44.7l1.9-.4-4-1.5-1.9.5z"/><path fill="#30c0d8" d="M645.1 54.4l2.3.6-1.8-1.9-2.4-.6z"/><path fill="#a5b7ff" d="M652.4 59.8l2.6 1.6-.9-1.1-2.6-1.6z"/><path fill="#87d57b" d="M572.7 48.2l1.8-1.6-4.1 1.2-1.7 1.7z"/><path fill="#e4cc45" d="M602.5 42.8l1.9-1.1-4.1-.6-1.9 1.1z"/><path fill="#a5c951" d="M632.3 47.4l1.9-.1-4-2-1.9.1z"/><path fill="#5acf9c" d="M638.5 50.4l2.3.2-1.9-1.6-2.3-.2z"/><path fill="#bdc03f" d="M581 45.5l1.8-1.5-4.1.6-1.8 1.5z"/><path fill="#e4c945" d="M610.7 43.1l1.9-.9-4-.9-1.9 1z"/><path fill="#48ccb7" d="M565.4 52.3l2.1-2.4-2.4.8-2.1 2.4z"/><path fill="#3cb7e4" d="M647.3 56l2.1.6-2.4-2.3-2.1-.6z"/><path fill="#e1c04e" d="M589.2 43.9l1.9-1.3-4.1 0-1.8 1.3z"/><path fill="#e4c04e" d="M619 44.1l1.9-.7-4-1.2-1.9.7z"/><path fill="#54cfab" d="M640.1 51.5l2.3.2-1.9-1.7-2.3-.2z"/><path fill="#e4c948" d="M597.4 43.3l1.9-1.2-4-.5-1.9 1.2z"/><path fill="#d2c045" d="M627.2 46l2-.4-4-1.7-2 .4z"/><path fill="#9fd263" d="M633.4 48.3l2.4-.1-1.9-1.5-2.4.2z"/><path fill="#57d2a5" d="M567.3 51.4l2.1-2.3-2.4.6-2 2.4z"/><path fill="#45abea" d="M649.2 57.7l2.1.6-2.4-2.4-2.1-.6z"/><path fill="#abcc57" d="M576 47.4l1.7-1.7-4 .9-1.8 1.7z"/><path fill="#e1cc45" d="M605.7 43.3l1.9-1.1-4-.7-1.9 1.1z"/><path fill="#6fd8de" d="M562.9 53.7l.9-1.1-2.8 1.4-.8 1.1z"/><path fill="#45ccb7" d="M641.7 52.6l2.3.3-1.9-1.8-2.3-.2z"/><path fill="#d2bd48" d="M584.2 45.1l1.8-1.4-4 .2-1.9 1.5z"/><path fill="#e1c948" d="M613.9 43.8l2-.9-4-1-2 .9z"/><path fill="#96d26f" d="M635.1 49.2l2.3-.1-1.9-1.5-2.4.2z"/><path fill="#4ba2f3" d="M649.6 58.1l2.7 1.1-.9-1.1-2.7-1.1z"/><path fill="#e1c64b" d="M592.4 44l1.9-1.3-4-.3-1.9 1.3z"/><path fill="#f3c357" d="M622.2 45.1l1.9-.6-4-1.5-1.9.7z"/><path fill="#36c9c3" d="M643.3 53.8l2.3.3-1.9-1.8-2.3-.3z"/><path fill="#3cc9c0" d="M564.9 52.7l.8-1.1-2.8 1.2-.8 1.2z"/><path fill="#609ff9" d="M650.6 59l2.6 1.2-.9-1.2-2.6-1.1z"/><path fill="#7bd587" d="M570.9 49.9l1.8-2-4.1 1.3-1.7 2z"/><path fill="#e1cc48" d="M600.7 43.7l1.9-1.2-4.1-.6-1.9 1.2z"/><path fill="#d2c948" d="M630.4 47.5l2-.3-4-2-1.9.3z"/><path fill="#81d581" d="M636.7 50.2l2.3-.1-1.9-1.5-2.4.1z"/><path fill="#72d5e4" d="M562 54.7l.8-1.2-2.7 1.4-.8 1.2z"/><path fill="#b7c345" d="M579.2 46.8l1.8-1.7-4.1.6-1.8 1.7z"/><path fill="#e1cc48" d="M608.9 43.9l1.9-1.1-4-.9-1.9 1.2z"/><path fill="#2dc3d2" d="M645.4 55.4l2.2.3-2.4-2.2-2.2-.3z"/><path fill="#51cfae" d="M566.8 51.9l.8-1.2-2.7 1.1-.9 1.2z"/><path fill="#dbbd51" d="M587.4 45l1.9-1.4-4.1-.1-1.8 1.5z"/><path fill="#edc951" d="M617.2 44.7l1.9-.9-4-1.2-1.9.9z"/><path fill="#6cd293" d="M638.3 51.3l2.3-.1-1.9-1.6-2.3 0z"/><path fill="#dec94b" d="M595.6 44.3l1.9-1.3-4-.5-1.9 1.3z"/><path fill="#30c6c6" d="M564 53.7l.8-1.2-2.8 1.3-.8 1.2z"/><path fill="#f0c651" d="M625.4 46.3l2-.6-4-1.6-2 .6z"/><path fill="#3cb7e1" d="M647.4 57.1l2.1.3-2.4-2.3-2.1-.4z"/><path fill="#a5d266" d="M574.1 49l1.8-1.9-4 .9-1.8 2z"/><path fill="#decc48" d="M603.9 44.2l1.9-1.2-4-.8-1.9 1.3z"/><path fill="#57c6e4" d="M561.1 55.7l.8-1.2-2.7 1.4-.8 1.3z"/><path fill="#b7cf57" d="M633.7 49.2l1.9-.2-3.9-2.3-2 .3z"/><path fill="#5ad2a2" d="M639.9 52.4l2.3 0-1.9-1.8-2.3.1z"/><path fill="#ccbd48" d="M582.4 46.5l1.8-1.7-4 .2-1.9 1.8z"/><path fill="#e4cc4b" d="M612.1 44.6l2-1.1-4-1-2 1.1z"/><path fill="#66d296" d="M570 50.6l.9-1-4.1 1.4-.8 1.1z"/><path fill="#4bccb4" d="M565.9 52.9l.8-1.3-2.7 1.1-.9 1.3z"/><path fill="#42b1e7" d="M647.9 57.6l2.6.7-1-1.2-2.6-.7z"/><path fill="#dec351" d="M590.6 45.1l1.9-1.4-4-.3-1.9 1.5z"/><path fill="#ffc957" d="M620.4 45.7l1.9-.9-4-1.4-1.9.9z"/><path fill="#4bccb1" d="M641.5 53.6l2.4 0-2-1.8-2.3 0z"/><path fill="#2ac3cf" d="M563.1 54.8l.8-1.3-2.8 1.2-.8 1.3z"/><path fill="#7bc3f0" d="M648.8 58.5l2.7.7-1-1.3-2.6-.6z"/><path fill="#dec94b" d="M598.8 44.7l2-1.3-4-.7-2 1.3z"/><path fill="#e1c648" d="M628.6 47.8l2-.6-4-1.9-1.9.6z"/><path fill="#9cd26c" d="M634.9 50.3l2.3-.4-1.9-1.5-2.4.3z"/><path fill="#4ebde7" d="M560.2 56.9l.8-1.4-2.7 1.4-.8 1.4z"/><path fill="#c6cc4e" d="M577.3 48.4l1.9-1.9-4.1.5-1.8 2z"/><path fill="#decc4b" d="M607.1 44.8l1.9-1.2-4-.9-1.9 1.3z"/><path fill="#3cc9c0" d="M643.6 55.1l2.2.1-2.4-2.2-2.2-.1z"/><path fill="#60d29c" d="M569.1 51.5l.9-1.1-4.1 1.5-.8 1.1z"/><path fill="#3fc9bd" d="M565 53.9l.8-1.3-2.7 1.1-.8 1.3z"/><path fill="#dbba54" d="M585.6 46.3l1.9-1.6-4.1 0-1.8 1.7z"/><path fill="#fccf54" d="M615.4 45.4l1.9-1.1-4-1.1-1.9 1.1z"/><path fill="#87d57b" d="M636.5 51.3l2.3-.3-1.9-1.7-2.3.4z"/><path fill="#96d26f" d="M573.3 49.7l.8-1-4.1 1.1-.8 1z"/><path fill="#dec64e" d="M593.8 45.4l1.9-1.5-4-.5-1.9 1.5z"/><path fill="#2dc0d5" d="M562.2 55.9l.8-1.4-2.8 1.2-.8 1.5z"/><path fill="#f9c657" d="M623.6 46.9l2-.8-4-1.7-2 .9z"/><path fill="#2ac3d2" d="M645.6 56.7l2.1.1-2.4-2.3-2.1-.1z"/><path fill="#dec94b" d="M602.1 45.2l1.9-1.3-4-.8-1.9 1.3z"/><path fill="#54baea" d="M559.3 58.1l.8-1.5-2.7 1.4-.8 1.5z"/><path fill="#c6cc4e" d="M631.8 49.5l2-.5-3.9-2.2-2 .5z"/><path fill="#72d58d" d="M638.1 52.4l2.3-.3-1.9-1.7-2.3.3z"/><path fill="#d5c348" d="M580.5 48l1.9-1.9-4 .3-1.9 1.9z"/><path fill="#f6d24e" d="M610.3 45.5l2-1.3-4-.9-2 1.2z"/><path fill="#57cfa5" d="M568.2 52.5l.9-1.1-4.1 1.5-.8 1.2z"/><path fill="#33c6c6" d="M564.1 55l.8-1.4-2.7 1.1-.8 1.4z"/><path fill="#84d57e" d="M572.4 50.6l.8-1.1-4.1 1.2-.8 1.1z"/><path fill="#e1bd54" d="M588.8 46.4l1.9-1.7-4-.2-1.9 1.7z"/><path fill="#ffcc57" d="M618.6 46.4l1.9-1-3.9-1.4-2 1z"/><path fill="#5dd29c" d="M639.8 53.5l2.3-.2-2-1.8-2.3.3z"/><path fill="#5ac6e4" d="M647.5 58.5l2.1.1-2.3-2.4-2.2-.1z"/><path fill="#36bddb" d="M561.3 57.1l.8-1.5-2.8 1.2-.8 1.5z"/><path fill="#e1c64e" d="M597 45.7l2-1.4-4-.6-2 1.4z"/><path fill="#eac64e" d="M626.8 48.3l2-.8-4-1.9-1.9.8z"/><path fill="#b1cf5d" d="M633.1 50.5l2.3-.6-2-1.5-2.3.6z"/><path fill="#6cbaf0" d="M558.4 59.3l.8-1.5-2.7 1.4-.8 1.6z"/><path fill="#b4cf5a" d="M575.5 50.2l1.9-2.2-4 .6-1.9 2.2z"/><path fill="#e7cc4e" d="M605.3 45.8l1.9-1.4-4-.8-1.9 1.3z"/><path fill="#51cfae" d="M641.8 55l2.2-.2-2.4-2.1-2.2.2z"/><path fill="#4ecfb1" d="M567.3 53.6l.9-1.2-4.1 1.5-.8 1.3z"/><path fill="#2ac3cc" d="M563.2 56.2l.8-1.5-2.7 1.1-.8 1.5z"/><path fill="#d5b751" d="M583.8 47.8l1.8-1.9-3.9 0-1.9 2z"/><path fill="#ffd251" d="M613.5 46.3l2-1.2-4-1.2-1.9 1.2z"/><path fill="#9cd26c" d="M634.7 51.5l2.3-.6-1.9-1.5-2.4.6z"/><path fill="#7bd584" d="M571.5 51.6l.8-1.2-4.1 1.2-.8 1.2z"/><path fill="#e1c051" d="M592 46.6l1.9-1.6-4-.5-1.9 1.7z"/><path fill="#3fb7e4" d="M560.4 58.3l.8-1.6-2.8 1.3-.8 1.6z"/><path fill="#fcc65a" d="M621.8 47.6l2-1-4-1.6-2 1z"/><path fill="#39c9c0" d="M643.8 56.6l2.1-.1-2.4-2.3-2.1.2z"/><path fill="#e1c64e" d="M600.3 46.2l1.9-1.4-4-.7-1.9 1.4z"/><path fill="#4ba2f0" d="M557.5 60.7l.8-1.7-2.7 1.4-.8 1.7z"/><path fill="#d5c948" d="M630 50l2-.8-3.9-2.1-2 .7z"/><path fill="#84d57b" d="M636.4 52.6l2.3-.6-2-1.6-2.3.6z"/><path fill="#cfc94b" d="M578.7 49.7l1.9-2.1-4 .3-1.9 2.2z"/><path fill="#fcd251" d="M608.5 46.4l2-1.3-4-1-2 1.4z"/><path fill="#45ccb7" d="M566.4 54.7l.9-1.3-4.1 1.6-.8 1.3z"/><path fill="#2dc0d8" d="M562.3 57.4l.8-1.6-2.7 1.1-.8 1.6z"/><path fill="#6fd290" d="M570.6 52.6l.8-1.2-4.1 1.2-.8 1.2z"/><path fill="#deb757" d="M587 47.8l1.9-1.8-4-.3-1.9 1.9z"/><path fill="#ffcc54" d="M616.8 47.2l1.9-1.2-3.9-1.3-2 1.2z"/><path fill="#6fd58d" d="M638 53.7l2.3-.5-2-1.7-2.3.5z"/><path fill="#a2d266" d="M574.7 50.9l.9-1.2-4.1.9-.9 1.2z"/><path fill="#33c3d5" d="M645.7 58.4l2.2-.2-2.4-2.4-2.2.2z"/><path fill="#42b1e7" d="M559.5 59.6l.8-1.6-2.8 1.2-.8 1.7z"/><path fill="#e1c351" d="M595.2 46.9l2-1.5-4-.7-2 1.7z"/><path fill="#f0c654" d="M625 49l2-1-3.9-1.9-2 1z"/><path fill="#c0cf54" d="M631.3 50.9l2.3-.8-2-1.4-2.3.8z"/><path fill="#78b4f9" d="M556.6 62.1l.8-1.8-2.7 1.4-.8 1.8z"/><path fill="#f0cf51" d="M603.5 46.8l1.9-1.4-4-.9-1.9 1.4z"/><path fill="#5ad2a2" d="M640 55.2l2.2-.5-2.4-2.1-2.2.5z"/><path fill="#39c9c3" d="M565.5 55.9l.9-1.4-4.1 1.6-.8 1.4z"/><path fill="#39bade" d="M561.4 58.7l.8-1.7-2.7 1.1-.8 1.7z"/><path fill="#e1c64b" d="M581.9 49.5l1.9-2.1-3.9 0-1.9 2.2z"/><path fill="#ffd251" d="M611.7 47.2l2-1.3-4-1.1-1.9 1.3z"/><path fill="#abd260" d="M632.9 51.9l2.3-.8-2-1.5-2.3.8z"/><path fill="#60d29c" d="M569.7 53.7l.8-1.3-4.1 1.2-.8 1.4z"/><path fill="#93d272" d="M573.8 51.9l.9-1.2-4.1.8-.9 1.3z"/><path fill="#e4ba57" d="M590.2 48l1.9-1.8-3.9-.4-2 1.8z"/><path fill="#48a8ed" d="M558.6 61l.8-1.8-2.8 1.3-.8 1.8z"/><path fill="#fcc65a" d="M620 48.4l2-1.2-4-1.5-2 1.1z"/><path fill="#c0cf51" d="M577.9 50.4l.9-1.1-4.1.5-.9 1.2z"/><path fill="#48ccb7" d="M641.9 56.8l2.2-.4-2.4-2.3-2.1.5z"/><path fill="#e4c351" d="M598.4 47.4l2-1.6-4-.7-1.9 1.6z"/><path fill="#6999fc" d="M555.7 63.5l.8-1.8-2.7 1.4-.8 1.9z"/><path fill="#dec948" d="M628.2 50.6l2-.9-3.9-2.2-2 1z"/><path fill="#96d26f" d="M634.6 53l2.3-.8-2-1.6-2.3.8z"/><path fill="#ffd251" d="M606.7 47.5l2-1.4-4-1-2 1.4z"/><path fill="#2dc6cc" d="M564.6 57.2l.9-1.5-4.1 1.6-.8 1.5z"/><path fill="#3fb4e4" d="M560.5 60.1l.8-1.8-2.7 1.1-.8 1.8z"/><path fill="#54cfa8" d="M568.8 54.9l.8-1.4-4.1 1.2-.8 1.5z"/><path fill="#dbb751" d="M585.2 49.4l1.9-2-4-.2-1.9 2.1z"/><path fill="#ffcc54" d="M614.9 48.2l2-1.3-3.9-1.3-2 1.3z"/><path fill="#7ed581" d="M636.2 54.1l2.3-.7-2-1.7-2.3.8z"/><path fill="#81d57e" d="M572.9 53l.9-1.3-4.1.9-.9 1.3z"/><path fill="#3cc9cc" d="M643.9 58.5l2.2-.4-2.4-2.4-2.2.5z"/><path fill="#4b9cf3" d="M557.6 62.5l.9-1.9-2.7 1.3-.9 1.8z"/><path fill="#b1cf5a" d="M577 51.4l.9-1.2-4.1.5-.9 1.3z"/><path fill="#e4bd54" d="M593.4 48.3l2-1.8-4-.6-2 1.9z"/><path fill="#f3c354" d="M623.2 49.8l2-1.2-3.9-1.8-2 1.2z"/><path fill="#c9cc4e" d="M629.5 51.6l2.3-1.1-2-1.4-2.3 1.1z"/><path fill="#d5c948" d="M581.2 50.2l.9-1.2-4.1.3-.9 1.2z"/><path fill="#5d81ff" d="M554.8 65.1l.8-2-2.7 1.4-.8 2z"/><path fill="#f9cf51" d="M601.7 48l1.9-1.6-3.9-.8-2 1.5z"/><path fill="#66d296" d="M638.2 55.6l2.2-.7-2.4-2.1-2.2.8z"/><path fill="#30c0d5" d="M563.7 58.5l.9-1.6-4.1 1.7-.8 1.6z"/><path fill="#45abea" d="M559.6 61.5l.8-1.9-2.7 1.1-.8 1.9z"/><path fill="#ffcf54" d="M609.9 48.3l2-1.4-4-1.2-1.9 1.5z"/><path fill="#b7cf57" d="M631.2 52.6l2.3-1.1-2.1-1.4-2.3 1z"/><path fill="#4bccb4" d="M567.9 56.1l.8-1.5-4.1 1.3-.8 1.5z"/><path fill="#72d58d" d="M572 54.1l.9-1.4-4.1.9-.9 1.5z"/><path fill="#e1b457" d="M588.4 49.6l1.9-2.1-3.9-.3-2 2z"/><path fill="#5193fc" d="M556.7 64l.9-2-2.7 1.3-.8 2z"/><path fill="#fcc65a" d="M618.2 49.4l2-1.3-4-1.6-2 1.3z"/><path fill="#a5d263" d="M576.1 52.5l.9-1.3-4.1.5-.9 1.4z"/><path fill="#7284fc" d="M554.3 65.8l.4-1.1-2.7 1.6-.4 1.2z"/><path fill="#cccc4b" d="M580.3 51.2l.8-1.3-4 .3-.9 1.3z"/><path fill="#51cfab" d="M640.1 57.2l2.2-.7-2.4-2.2-2.2.7z"/><path fill="#eac054" d="M596.6 48.8l2-1.8-4-.7-1.9 1.8z"/><path fill="#e1c64b" d="M626.4 51.4l2-1.1-3.9-2.1-2 1.1z"/><path fill="#a2d266" d="M632.8 53.6l2.3-1-2-1.6-2.3 1.1z"/><path fill="#e4c64b" d="M584.4 50.1l.9-1.1-4.1 0-.9 1.2z"/><path fill="#ffcf54" d="M604.9 48.7l2-1.6-4-1-2 1.6z"/><path fill="#39bade" d="M562.8 59.9l.9-1.6-4.1 1.6-.8 1.7z"/><path fill="#4ba2f3" d="M558.7 63l.8-2-2.7 1.1-.8 2z"/><path fill="#818df9" d="M553.7 66.8l.5-1.2-2.7 1.7-.5 1.2z"/><path fill="#3cc9c0" d="M567 57.4l.8-1.5-4.1 1.2-.8 1.6z"/><path fill="#578aff" d="M556.2 64.7l.5-1.2-2.8 1.5-.4 1.2z"/><path fill="#ffcc57" d="M613.1 49.3l2-1.5-3.9-1.3-2 1.5z"/><path fill="#8ad578" d="M634.4 54.7l2.3-.9-2-1.7-2.3 1z"/><path fill="#60d29c" d="M571.1 55.3l.9-1.5-4.1 1-.9 1.5z"/><path fill="#54cfc6" d="M642.1 58.8l2.2-.6-2.4-2.3-2.2.7z"/><path fill="#90d575" d="M575.2 53.6l.9-1.4-4.1.6-.9 1.4z"/><path fill="#e4b45a" d="M591.6 49.9l2-2-4-.6-2 2z"/><path fill="#f3c354" d="M621.4 50.8l2-1.3-3.9-1.8-2 1.3z"/><path fill="#cfcc4b" d="M627.7 52.4l2.3-1.3-2-1.3-2.3 1.2z"/><path fill="#bdcf54" d="M579.3 52.2l.9-1.3-4 .3-.9 1.3z"/><path fill="#7275f3" d="M553.2 67.8l.4-1.2-2.7 1.6-.4 1.3z"/><path fill="#dbc948" d="M583.5 51.1l.9-1.2-4.1 0-.9 1.2z"/><path fill="#5d81ff" d="M555.7 65.7l.4-1.2-2.7 1.5-.4 1.2z"/><path fill="#ffcc54" d="M599.8 49.4l2-1.8-3.9-.9-2 1.8z"/><path fill="#4e99f9" d="M558.2 63.7l.4-1.2-2.7 1.4-.5 1.2z"/><path fill="#dbb151" d="M587.6 50.3l.9-1.1-4.1-.3-.9 1.2z"/><path fill="#6fd58d" d="M636.4 56.2l2.2-1-2.4-2-2.2 1z"/><path fill="#42b1e7" d="M561.9 61.4l.9-1.8-4.1 1.7-.8 1.8z"/><path fill="#ffcc54" d="M608.1 49.6l2-1.7-3.9-1.1-2 1.6z"/><path fill="#bdcf54" d="M629.4 53.4l2.3-1.3-2.1-1.4-2.3 1.2z"/><path fill="#2dc6cc" d="M566.1 58.8l.8-1.7-4.1 1.4-.8 1.6z"/><path fill="#54cfa8" d="M570.2 56.6l.9-1.6-4.1 1-.9 1.6z"/><path fill="#8181f0" d="M552.7 68.9l.4-1.3-2.7 1.7-.4 1.2z"/><path fill="#6078fc" d="M555.1 66.7l.5-1.3-2.7 1.5-.5 1.3z"/><path fill="#fcc65a" d="M616.3 50.5l2.1-1.5-4-1.5-2 1.5z"/><path fill="#7ed581" d="M574.3 54.8l.9-1.5-4.1.6-.9 1.5z"/><path fill="#5190fc" d="M557.6 64.7l.5-1.2-2.8 1.3-.4 1.2z"/><path fill="#aed260" d="M578.4 53.3l.9-1.4-4 .3-.9 1.4z"/><path fill="#57cfa5" d="M638.3 57.8l2.2-1-2.4-2.1-2.2.9z"/><path fill="#edba5a" d="M594.8 50.3l2-2-3.9-.7-2 2z"/><path fill="#e1c64b" d="M624.6 52.4l2-1.3-3.9-2.1-2 1.4z"/><path fill="#a8d263" d="M631 54.4l2.3-1.2-2.1-1.5-2.2 1.2z"/><path fill="#cfcc4b" d="M582.6 52.1l.9-1.3-4.1.1-.9 1.3z"/><path fill="#48a8ed" d="M561.4 62.2l.5-1.1-4.1 1.8-.5 1.1z"/><path fill="#e1c04b" d="M586.7 51.2l.9-1.2-4.1-.2-.9 1.2z"/><path fill="#847ee7" d="M552.1 69.9l.4-1.3-2.7 1.7-.4 1.3z"/><path fill="#ffcc57" d="M603.1 50.1l2-1.8-4-1-2 1.8z"/><path fill="#6372f9" d="M554.6 67.7l.4-1.3-2.7 1.5-.4 1.3z"/><path fill="#5787ff" d="M557.1 65.7l.4-1.3-2.7 1.4-.4 1.2z"/><path fill="#30c0d8" d="M565.2 60.2l.8-1.7-4.1 1.3-.8 1.8z"/><path fill="#ffc957" d="M611.3 50.6l2-1.6-3.9-1.4-2 1.6z"/><path fill="#90d575" d="M632.6 55.6l2.3-1.3-2-1.6-2.3 1.2z"/><path fill="#48ccb7" d="M569.3 57.9l.9-1.6-4.1 1-.9 1.6z"/><path fill="#54cfbd" d="M640.3 59.4l2.2-.9-2.4-2.2-2.2.9z"/><path fill="#48a5f0" d="M560.8 63.1l.5-1.1-4 1.8-.5 1.1z"/><path fill="#6cd290" d="M573.4 56l.9-1.5-4.1.6-.9 1.6z"/><path fill="#8478de" d="M551.6 71l.4-1.3-2.7 1.7-.4 1.3z"/><path fill="#dbae51" d="M589.8 51.7l1.9-2.3-3.9-.5-1.9 2.3z"/><path fill="#f0c654" d="M619.6 52l2-1.6-3.9-1.8-2 1.5z"/><path fill="#cfcc4b" d="M625.9 53.4l2.3-1.5-2-1.3-2.3 1.5z"/><path fill="#9cd26c" d="M577.5 54.4l.9-1.4-4 .3-.9 1.5z"/><path fill="#6369f3" d="M554.1 68.8l.4-1.3-2.7 1.5-.5 1.3z"/><path fill="#5d81ff" d="M556.5 66.7l.5-1.3-2.8 1.3-.4 1.3z"/><path fill="#c3cc51" d="M581.7 53.2l.9-1.4-4.1.1-.9 1.4z"/><path fill="#fcc95a" d="M598 51l2-2.1-3.9-.8-2 2z"/><path fill="#dbc948" d="M585.8 52.2l.9-1.3-4.1-.2-.9 1.3z"/><path fill="#75d58a" d="M634.6 57l2.2-1.2-2.4-2-2.2 1.2z"/><path fill="#39bade" d="M564.6 61l.5-1.1-4.1 1.5-.4 1.1z"/><path fill="#4b9cf6" d="M560.3 64.1l.5-1.2-4.1 1.9-.4 1.1z"/><path fill="#ffc957" d="M606.3 51l2-1.8-3.9-1.2-2 1.8z"/><path fill="#bdcf54" d="M627.6 54.4l2.3-1.5-2.1-1.4-2.3 1.5z"/><path fill="#817ef0" d="M553.5 69.9l.4-1.4-2.7 1.5-.4 1.4z"/><path fill="#6078fc" d="M556 67.7l.4-1.3-2.7 1.4-.4 1.3z"/><path fill="#36c9c3" d="M568.4 59.3l.8-1.7-4 1-.9 1.8z"/><path fill="#f9c65a" d="M614.5 51.9l2.1-1.7-4-1.6-2 1.7z"/><path fill="#5ad2a2" d="M572.5 57.3l.9-1.6-4.1.7-.9 1.6z"/><path fill="#3fb4e4" d="M564.1 61.9l.5-1.1-4.1 1.5-.5 1.1z"/><path fill="#87d57b" d="M576.6 55.7l.9-1.6-4 .4-.9 1.6z"/><path fill="#5193f9" d="M559.8 65.1l.4-1.2-4 1.9-.5 1.1z"/><path fill="#5dd29f" d="M636.5 58.6l2.3-1.2-2.5-2.1-2.2 1.2z"/><path fill="#edbd54" d="M593 52.1l2-2.2-3.9-.7-2 2.2z"/><path fill="#dec948" d="M622.8 53.6l2-1.5-3.9-2.1-2 1.5z"/><path fill="#abd260" d="M629.2 55.4l2.3-1.4-2.1-1.5-2.2 1.4z"/><path fill="#b4cf5a" d="M580.8 54.3l.9-1.4-4.1.1-.9 1.4z"/><path fill="#8790f9" d="M555.5 68.8l.4-1.4-2.7 1.4-.5 1.4z"/><path fill="#cfcc4b" d="M584.9 53.3l.9-1.4-4.1-.2-.9 1.4z"/><path fill="#fcc65a" d="M601.2 51.7l2.1-2-4-1.1-2 2.1z"/><path fill="#d5b748" d="M589 52.5l1-1.3-4.1-.4-1 1.3z"/><path fill="#2ac3cc" d="M567.9 60.1l.5-1-4.1 1.1-.5 1.1z"/><path fill="#42aee7" d="M563.5 62.9l.5-1.1-4 1.4-.5 1.2z"/><path fill="#548dfc" d="M559.2 66.1l.5-1.2-4 1.9-.5 1.2z"/><path fill="#fcc65a" d="M609.5 52.1l2-1.9-3.9-1.4-2 1.9z"/><path fill="#93d272" d="M630.8 56.6l2.3-1.5-2-1.6-2.3 1.5z"/><path fill="#51cfb7" d="M638.5 60.2l2.2-1.1-2.4-2.2-2.2 1.1z"/><path fill="#4ecfb1" d="M571.6 58.7l.9-1.7-4.1.7-.9 1.7z"/><path fill="#eac64e" d="M617.7 53.3l2.1-1.7-3.9-1.8-2 1.7z"/><path fill="#c9cc4b" d="M624.1 54.6l2.3-1.7-2-1.3-2.3 1.7z"/><path fill="#72d58d" d="M575.7 57l.9-1.7-4 .4-.9 1.7z"/><path fill="#2dc0d5" d="M567.3 61l.5-1.1-4.1 1.2-.5 1.1z"/><path fill="#9fd269" d="M579.9 55.5l.9-1.5-4.1.1-.9 1.5z"/><path fill="#48a8ed" d="M563 63.9l.5-1.2-4.1 1.5-.5 1.2z"/><path fill="#819fff" d="M558.7 67.1l.5-1.2-4.1 1.9-.5 1.3z"/><path fill="#f3c654" d="M596.2 52.7l2-2.2-3.9-.9-2 2.3z"/><path fill="#c0cc51" d="M584 54.4l.9-1.4-4.1-.2-.9 1.5z"/><path fill="#78d587" d="M632.8 58l2.2-1.4-2.4-1.9-2.2 1.4z"/><path fill="#d8c648" d="M588.1 53.6l1-1.4-4.1-.4-1 1.4z"/><path fill="#f9c65a" d="M604.5 52.6l2-2-3.9-1.2-2 2z"/><path fill="#bacf57" d="M625.8 55.6l2.3-1.7-2.1-1.4-2.3 1.7z"/><path fill="#e4c34b" d="M592.2 53l1-1.3-4.1-.6-.9 1.2z"/><path fill="#36bdde" d="M566.8 62l.5-1.2-4.1 1.2-.5 1.1z"/><path fill="#4ba2f3" d="M562.5 64.9l.4-1.2-4 1.5-.5 1.2z"/><path fill="#f3c654" d="M612.7 53.4l2.1-2-3.9-1.5-2.1 1.8z"/><path fill="#3cc9c0" d="M570.5 60.5l1.1-2.1-4 .6-1.1 2.3z"/><path fill="#5dd29f" d="M574.8 58.3l.9-1.7-4 .4-.9 1.8zM634.7 59.6l2.3-1.4-2.5-2.1-2.2 1.4z"/><path fill="#d8c948" d="M621 55l2-1.7-3.9-2.1-2 1.7z"/><path fill="#a5d263" d="M627.4 56.6l2.3-1.6-2.1-1.5-2.2 1.7z"/><path fill="#87d57b" d="M579 56.8l.9-1.6-4.1.1-.9 1.6z"/><path fill="#aecf5d" d="M583.1 55.6l.9-1.5-4-.2-1 1.6z"/><path fill="#3cb7e1" d="M566.2 62.9l.5-1.1-4 1.1-.5 1.2z"/><path fill="#549ff6" d="M561.9 65.9l.5-1.2-4.1 1.5-.4 1.3z"/><path fill="#f0c654" d="M599.4 53.5l2-2.3-3.8-1-2.1 2.2z"/><path fill="#c9cc4b" d="M587.2 54.7l1-1.5-4.1-.4-1 1.5z"/><path fill="#dbc648" d="M591.3 54l1-1.3-4.1-.7-.9 1.4z"/><path fill="#f0c654" d="M607.7 53.7l2-2.1-3.9-1.4-2 2.1z"/><path fill="#8dd578" d="M629 57.8l2.3-1.7-2-1.6-2.3 1.7z"/><path fill="#5dd2bd" d="M636.7 61.3l2.2-1.4-2.4-2.2-2.2 1.4z"/><path fill="#e7c64b" d="M595.4 53.6l1-1.3-4-.8-1 1.3z"/><path fill="#2ac6cc" d="M570 61.3l.5-1.1-4.1.8-.5 1.1z"/><path fill="#42b1e7" d="M565.7 63.9l.5-1.2-4.1 1.2-.5 1.2z"/><path fill="#e1c64b" d="M615.9 54.8l2.1-1.9-3.9-1.8-2 1.9z"/><path fill="#c3cc51" d="M622.3 56l2.3-1.9-2-1.3-2.3 1.8z"/><path fill="#f0c351" d="M603.7 53.4l1-1.1-4-1.2-1 1.1z"/><path fill="#4ecfae" d="M573.7 60.1l1.1-2.2-4 .4-1.1 2.2z"/><path fill="#6fd58d" d="M578.1 58.1l.9-1.6-4.1.1-.9 1.7z"/><path fill="#99d26c" d="M582.2 56.9l.9-1.6-4-.2-1 1.6z"/><path fill="#72d58d" d="M631 59.2l2.2-1.6-2.4-1.9-2.2 1.6z"/><path fill="#bacf57" d="M586.3 55.9l1-1.6-4.1-.3-1 1.5z"/><path fill="#2ac0d5" d="M569.5 62.2l.5-1.1-4.1.8-.5 1.2z"/><path fill="#60b7ed" d="M565.2 64.9l.4-1.2-4 1.2-.5 1.3z"/><path fill="#aed25d" d="M624 57l2.2-1.9-2-1.4-2.3 1.9z"/><path fill="#cfcc4b" d="M590.4 55.1l1-1.4-4.1-.6-.9 1.4z"/><path fill="#dbc948" d="M594.5 54.6l1-1.3-4-.8-1 1.3z"/><path fill="#e4c64b" d="M610.9 55.1l2.1-2.2-3.9-1.6-2.1 2.1zM598.7 54.4l1-1.3-4.1-1-1 1.3z"/><path fill="#42c9bd" d="M573.2 60.9l.6-1.2-4.1.6-.6 1.1z"/><path fill="#57d2a5" d="M632.9 60.8l2.3-1.6-2.5-2.1-2.2 1.7z"/><path fill="#e7c64b" d="M602.8 54.4l1-1.3-4-1.2-1 1.2z"/><path fill="#33bddb" d="M568.9 63.2l.5-1.2-4.1.9-.5 1.2z"/><path fill="#cccc4b" d="M619.1 56.6l2.1-2-3.8-2.1-2.1 1.9z"/><path fill="#99d26c" d="M625.6 58.1l2.3-1.9-2.1-1.5-2.2 1.9z"/><path fill="#e7c64b" d="M606.9 54.5l1-1.1-4-1.4-1 1.1z"/><path fill="#5ad2a2" d="M576.9 59.9l1.2-2.1-4.1.1-1.1 2.2z"/><path fill="#84d57e" d="M581.3 58.2l.9-1.7-4-.1-1 1.7z"/><path fill="#a5d263" d="M585.4 57.1l.9-1.6-4-.4-1 1.6z"/><path fill="#bdcf54" d="M589.5 56.3l1-1.5-4.1-.6-.9 1.5z"/><path fill="#30c6c6" d="M572.7 61.8l.5-1.2-4.1.6-.5 1.2z"/><path fill="#54c0e7" d="M568.4 64.2l.5-1.2-4.1.9-.5 1.2z"/><path fill="#81d581" d="M627.2 59.2l2.3-1.9-2.1-1.5-2.2 1.8z"/><path fill="#54cfbd" d="M634.9 62.5l2.2-1.6-2.4-2.2-2.2 1.6z"/><path fill="#cfcc4b" d="M593.6 55.8l1-1.5-4-.8-1 1.4z"/><path fill="#d8c948" d="M597.8 55.4l1-1.3-4.1-1-1 1.3z"/><path fill="#d5c94b" d="M614.1 56.6l2.1-2.2-3.9-1.9-2 2.2z"/><path fill="#b4cf5a" d="M620.5 57.6l2.3-2.2-2-1.3-2.3 2.1z"/><path fill="#dec948" d="M601.9 55.4l1-1.3-4-1.3-1 1.3z"/><path fill="#4ecfb1" d="M576.5 60.7l.5-1.2-4.1.3-.5 1.1z"/><path fill="#dec948" d="M606 55.5l1-1.2-4-1.5-1 1.3z"/><path fill="#27c3cf" d="M572.2 62.8l.5-1.2-4.1.5-.5 1.2z"/><path fill="#d8c948" d="M610.1 55.9l1.1-1.2-4.1-1.7-1 1.2z"/><path fill="#66d296" d="M629.2 60.7l2.2-1.9-2.4-1.9-2.2 1.9z"/><path fill="#69d293" d="M580.2 59.9l1.1-2.1-4-.1-1.2 2.1z"/><path fill="#8dd575" d="M584.5 58.4l.9-1.6-4-.4-1 1.7z"/><path fill="#9fd269" d="M622.2 58.6l2.2-2.1-2-1.4-2.3 2.1z"/><path fill="#abd260" d="M588.6 57.6l1-1.6-4.1-.6-.9 1.6z"/><path fill="#bdcf54" d="M592.7 56.9l1-1.5-4-.8-1 1.5z"/><path fill="#45ccba" d="M575.9 61.6l.6-1.2-4.1.3-.6 1.2z"/><path fill="#5acce1" d="M571.6 63.8l.5-1.3-4.1.6-.5 1.2z"/><path fill="#c9cc4b" d="M596.9 56.6l1-1.5-4.1-1-1 1.4z"/><path fill="#54cfab" d="M631.1 62.3l2.3-1.9-2.5-2.1-2.2 1.9z"/><path fill="#cfc94b" d="M601 56.4l1-1.3-4-1.3-1 1.4z"/><path fill="#b7cf57" d="M617.3 58.3l2.1-2.1-3.8-2.2-2.1 2.2z"/><path fill="#8ad578" d="M623.8 59.7l2.3-2.2-2.1-1.4-2.2 2.1z"/><path fill="#d2c948" d="M605.1 56.5l1-1.3-4-1.4-1 1.3z"/><path fill="#57d2a2" d="M579.7 60.7l.5-1.1-4.1-.1-.5 1.2z"/><path fill="#cfcc4b" d="M609.2 56.9l1.1-1.3-4-1.7-1.1 1.3z"/><path fill="#36c9c3" d="M575.4 62.5l.5-1.2-4.1.3-.5 1.2z"/><path fill="#c6cc4e" d="M613.3 57.4l1.1-1.2-4-1.9-1 1.2z"/><path fill="#a5d263" d="M619.8 58.4l1.2-1.3-2.2-1.4-1.2 1.3z"/><path fill="#72d58d" d="M583.4 60.2l1.1-2.2-4-.3-1.1 2.1z"/><path fill="#93d272" d="M587.7 58.9l1-1.7-4-.6-1 1.7z"/><path fill="#72d58d" d="M625.4 60.8l2.3-2.1-2.1-1.5-2.2 2.1z"/><path fill="#51cfc3" d="M633.1 64l2.2-1.9-2.4-2.2-2.2 1.9z"/><path fill="#abd260" d="M591.8 58.2l1-1.6-4-.8-1 1.6z"/><path fill="#bacf57" d="M595.9 57.8l1.1-1.6-4.1-1-1 1.5z"/><path fill="#51cfae" d="M579.1 61.6l.6-1.2-4.1 0-.6 1.2z"/><path fill="#6fd8db" d="M574.8 63.5l.6-1.2-4.1.3-.6 1.2z"/><path fill="#c3cc51" d="M600.1 57.6l1-1.5-4-1.2-1 1.4z"/><path fill="#90d575" d="M621.5 59.4l1.1-1.2-2.2-1.5-1.2 1.3z"/><path fill="#c3cc4e" d="M604.2 57.6l1-1.4-4-1.4-1 1.3z"/><path fill="#c0cc51" d="M608.3 57.9l1.1-1.3-4-1.7-1.1 1.3z"/><path fill="#5dd29f" d="M627.4 62.3l2.2-2.1-2.4-1.9-2.2 2.1z"/><path fill="#b1cf5d" d="M614.8 58.4l1.2-1.4-2.2-1.2-1.2 1.3z"/><path fill="#5dd29f" d="M582.9 60.9l.6-1.1-4.1-.3-.6 1.1z"/><path fill="#b7cf57" d="M612.4 58.5l1.1-1.3-4-2-1 1.3z"/><path fill="#99d26f" d="M618.9 59.3l1.2-1.3-2.2-1.4-1.2 1.3z"/><path fill="#45ccba" d="M578.6 62.6l.6-1.3-4.1 0-.6 1.2z"/><path fill="#78d587" d="M623.1 60.5l1.2-1.2-2.3-1.6-1.2 1.3zM586.6 60.6l1.2-2.1-4-.6-1.2 2.1z"/><path fill="#93d272" d="M590.9 59.5l1-1.7-4-.8-1 1.7z"/><path fill="#a5d266" d="M595 59l1.1-1.6-4.1-1-1 1.6z"/><path fill="#9cd269" d="M616.4 59.3l1.2-1.4-2.2-1.3-1.2 1.4z"/><path fill="#4bccb4" d="M629.3 63.9l2.3-2.1-2.4-2-2.3 2.1z"/><path fill="#b1cf5d" d="M599.2 58.8l1-1.5-4-1.3-1 1.5z"/><path fill="#54cfa8" d="M582.4 61.8l.5-1.1-4.1-.3-.5 1.1z"/><path fill="#84d57e" d="M620.6 60.4l1.1-1.4-2.2-1.4-1.2 1.3z"/><path fill="#72d8d5" d="M578.1 63.5l.5-1.2-4.1 0-.5 1.2z"/><path fill="#b4cf5a" d="M603.3 58.8l1-1.5-4-1.5-1 1.5z"/><path fill="#66d296" d="M624.7 61.7l1.2-1.3-2.2-1.6-1.2 1.3z"/><path fill="#b1cf5d" d="M607.4 59l1.1-1.4-4-1.7-1.1 1.4z"/><path fill="#9fd269" d="M613.9 59.4l1.2-1.4-2.2-1.3-1.2 1.5z"/><path fill="#a8d263" d="M611.5 59.5l1.1-1.3-4-2-1 1.3z"/><path fill="#8dd578" d="M618 60.3l1.2-1.4-2.2-1.4-1.2 1.4z"/><path fill="#6fd590" d="M622.2 61.5l1.2-1.4-2.3-1.5-1.2 1.3z"/><path fill="#4eccb1" d="M581.8 62.8l.6-1.2-4.1-.3-.6 1.2z"/><path fill="#42ccc9" d="M631.3 65.7l2.2-2.2-2.4-2.1-2.2 2.1z"/><path fill="#54cfab" d="M626.6 63.2l1.2-1.2-2.5-2-1.2 1.2z"/><path fill="#78d587" d="M589.8 61.2l1.2-2.1-4-.8-1.2 2.1z"/><path fill="#8dd578" d="M594.1 60.4l1.1-1.7-4.1-1.1-1 1.7z"/><path fill="#5dd29f" d="M585.5 62.4l1.2-2.2-4-.7-1.2 2.3z"/><path fill="#90d575" d="M615.5 60.4l1.2-1.5-2.2-1.3-1.2 1.4z"/><path fill="#99d26f" d="M598.3 60.1l1-1.6-4-1.3-1 1.6z"/><path fill="#78d587" d="M619.6 61.4l1.2-1.4-2.2-1.5-1.2 1.4z"/><path fill="#9fd269" d="M602.4 60l1-1.5-4-1.5-1 1.5z"/><path fill="#5dd29f" d="M623.8 62.7l1.2-1.4-2.2-1.6-1.2 1.3z"/><path fill="#72d8cc" d="M581.3 63.8l.5-1.3-4-.3-.6 1.3z"/><path fill="#9fd269" d="M606.5 60.2l1.1-1.5-4-1.7-1.1 1.4z"/><path fill="#90d575" d="M613 60.5l1.2-1.5-2.2-1.3-1.2 1.5z"/><path fill="#96d26f" d="M610.6 60.7l1.1-1.5-4-1.9-1 1.4z"/><path fill="#7ed584" d="M617.1 61.4l1.2-1.5-2.2-1.4-1.2 1.4z"/><path fill="#42c9bd" d="M628.6 64.8l1.1-1.2-2.5-2.1-1.2 1.2z"/><path fill="#63d299" d="M621.3 62.5l1.2-1.4-2.2-1.6-1.3 1.4z"/><path fill="#4ecfb1" d="M585 63.2l.6-1.2-4.1-.5-.5 1.2zM625.7 64.2l1.2-1.3-2.5-2-1.2 1.3z"/><path fill="#7bd584" d="M614.6 61.5l1.2-1.6-2.2-1.3-1.2 1.5z"/><path fill="#72d58d" d="M593 62.1l1.2-2.1-3.9-1.1-1.2 2.1z"/><path fill="#81d581" d="M597.4 61.4l1-1.7-4-1.3-1 1.7z"/><path fill="#5dd29f" d="M588.7 63l1.2-2.2-3.9-.8-1.3 2.2z"/><path fill="#69d293" d="M618.7 62.4l1.2-1.4-2.2-1.5-1.2 1.4z"/><path fill="#8ad57b" d="M601.5 61.3l1-1.6-4-1.6-1 1.7z"/><path fill="#54cfa8" d="M622.9 63.7l1.2-1.4-2.2-1.7-1.2 1.4z"/><path fill="#30c6cf" d="M630.5 66.6l1.2-1.3-2.6-2.2-1.1 1.2z"/><path fill="#87d57b" d="M605.6 61.5l1.1-1.6-4-1.8-1.1 1.6z"/><path fill="#7ed581" d="M612.1 61.6l1.2-1.6-2.2-1.2-1.2 1.6z"/><path fill="#54cfbd" d="M584.5 64.2l.6-1.2-4.1-.6-.6 1.2z"/><path fill="#84d57e" d="M609.7 61.9l1.1-1.5-4-2-1 1.4z"/><path fill="#6cd290" d="M616.2 62.5l1.2-1.6-2.2-1.4-1.2 1.5z"/><path fill="#36c9c3" d="M627.7 65.8l1.1-1.3-2.5-2.1-1.2 1.3z"/><path fill="#57d2a5" d="M620.4 63.6l1.2-1.5-2.2-1.6-1.3 1.5z"/><path fill="#45ccb7" d="M624.8 65.2l1.2-1.3-2.5-2.1-1.2 1.4z"/><path fill="#5dd29c" d="M592.6 62.9l.6-1.2-4.1-1-.6 1.1z"/><path fill="#6cd590" d="M613.7 62.6l1.2-1.6-2.2-1.3-1.2 1.6z"/><path fill="#4ecfb1" d="M588.3 63.9l.6-1.2-4.1-.8-.6 1.2z"/><path fill="#5ad29f" d="M617.8 63.6l1.2-1.6-2.2-1.5-1.2 1.5z"/><path fill="#69d296" d="M596.2 63.2l1.3-2.2-4-1.3-1.2 2.1z"/><path fill="#72d58d" d="M600.6 62.7l1-1.7-4-1.6-1 1.7z"/><path fill="#4bccb4" d="M622 64.8l1.2-1.5-2.2-1.7-1.2 1.5z"/><path fill="#48c9db" d="M629.6 67.6l1.2-1.3-2.6-2.3-1.1 1.3z"/><path fill="#72d58a" d="M604.7 62.8l1-1.7-3.9-1.8-1.1 1.7z"/><path fill="#6cd590" d="M611.2 62.9l1.2-1.7-2.2-1.3-1.2 1.7z"/><path fill="#6fd590" d="M608.8 63.1l1.1-1.5-4-2.1-1 1.6z"/><path fill="#5dd29f" d="M615.3 63.6l1.2-1.6-2.2-1.4-1.2 1.6z"/><path fill="#54cfa8" d="M592 63.8l.6-1.2-4-1-.6 1.1z"/><path fill="#2dc6cc" d="M626.8 66.9l1.1-1.4-2.5-2.1-1.2 1.3z"/><path fill="#54cfbd" d="M587.7 64.8l.6-1.2-4-.8-.6 1.2z"/><path fill="#51cfae" d="M619.4 64.7l1.3-1.6-2.2-1.5-1.3 1.5z"/><path fill="#39c9c0" d="M623.9 66.3l1.2-1.4-2.5-2-1.2 1.4z"/><path fill="#5dd29f" d="M612.8 63.8l1.2-1.7-2.2-1.3-1.2 1.7z"/><path fill="#57cfa5" d="M595.8 64l.6-1.2-4-1.3-.7 1.1z"/><path fill="#51cfab" d="M616.9 64.7l1.2-1.6-2.2-1.5-1.2 1.6z"/><path fill="#4eccb4" d="M591.5 64.7l.6-1.2-4.1-1-.6 1.2z"/><path fill="#42c9ba" d="M621.1 65.9l1.2-1.5-2.2-1.7-1.2 1.6z"/><path fill="#45c3de" d="M628.7 68.6l1.2-1.3-2.6-2.3-1.1 1.3z"/><path fill="#5ad2a2" d="M599.5 64.4l1.2-2.1-3.9-1.6-1.3 2.1z"/><path fill="#60d29c" d="M603.8 64.2l1-1.8-3.9-1.8-1.1 1.7z"/><path fill="#5ad29f" d="M610.3 64.1l1.2-1.7-2.2-1.3-1.2 1.7z"/><path fill="#5dd29f" d="M607.9 64.5l1.1-1.7-4-2-1 1.6z"/><path fill="#54cfab" d="M614.4 64.9l1.2-1.7-2.2-1.4-1.2 1.6z"/><path fill="#2ac3d2" d="M625.9 68l1.1-1.5-2.5-2.1-1.2 1.4z"/><path fill="#48ccb7" d="M618.5 65.9l1.3-1.6-2.2-1.6-1.3 1.6z"/><path fill="#51cfae" d="M595.2 64.9l.7-1.2-4.1-1.3-.6 1.1z"/><path fill="#60d2c6" d="M590.9 65.7l.7-1.2-4.1-1.1-.6 1.2z"/><path fill="#2dc6cc" d="M623 67.5l1.2-1.5-2.5-2.1-1.2 1.5z"/><path fill="#51cfae" d="M611.9 65.1l1.2-1.7-2.2-1.4-1.2 1.8z"/><path fill="#48ccb7" d="M616 66l1.2-1.7-2.2-1.5-1.2 1.7z"/><path fill="#4ecfae" d="M599 65.3l.6-1.2-4-1.6-.6 1.1z"/><path fill="#33c6c6" d="M620.2 67.1l1.2-1.6-2.2-1.7-1.2 1.7z"/><path fill="#42bae1" d="M627.8 69.8l1.2-1.5-2.5-2.3-1.2 1.5z"/><path fill="#48ccb7" d="M594.7 65.8l.6-1.2-4-1.3-.6 1.2z"/><path fill="#4ecfae" d="M609.4 65.5l1.2-1.9-2.2-1.2-1.2 1.8z"/><path fill="#51cfae" d="M602.7 65.9l1.2-2.1-3.9-1.8-1.3 2.1zM607 65.9l1.1-1.7-4-2.1-1 1.7z"/><path fill="#48ccb7" d="M613.5 66.2l1.2-1.8-2.2-1.4-1.2 1.7z"/><path fill="#33bddb" d="M625 69.2l1.1-1.6-2.5-2.1-1.2 1.5z"/><path fill="#36c9c3" d="M617.6 67.2l1.3-1.7-2.2-1.6-1.3 1.7z"/><path fill="#48ccb7" d="M598.5 66.2l.6-1.2-4-1.6-.7 1.2z"/><path fill="#5dd2cc" d="M594.2 66.8l.6-1.2-4.1-1.4-.6 1.3z"/><path fill="#2ac0d2" d="M622.1 68.7l1.2-1.6-2.5-2-1.2 1.6z"/><path fill="#45ccba" d="M611 66.5l1.2-1.9-2.2-1.3-1.2 1.8z"/><path fill="#3fb7e4" d="M625.8 70.1l1.3-1.7-1.4-1.3-1.3 1.7z"/><path fill="#39c9c3" d="M615.1 67.3l1.2-1.8-2.1-1.5-1.3 1.8z"/><path fill="#2ac3cf" d="M619.2 68.4l1.3-1.7-2.2-1.7-1.2 1.7z"/><path fill="#42c9ba" d="M602.2 66.8l.7-1.2-4-1.8-.7 1.1z"/><path fill="#42c9bd" d="M608.5 66.9l1.2-1.9-2.2-1.3-1.2 1.9z"/><path fill="#39c9c0" d="M597.9 67.2l.7-1.3-4.1-1.6-.6 1.2z"/><path fill="#4eb4ea" d="M626.8 71l1.3-1.7-1.4-1.3-1.4 1.7z"/><path fill="#36c9c3" d="M612.6 67.6l1.2-1.9-2.2-1.4-1.2 1.8z"/><path fill="#3cbae1" d="M624.1 70.4l1.1-1.6-2.5-2.2-1.2 1.6z"/><path fill="#3fc9bd" d="M605.9 67.7l1.3-2.2-3.9-2.1-1.3 2.2z"/><path fill="#2ac3cf" d="M616.7 68.5l1.3-1.8-2.2-1.6-1.3 1.8z"/><path fill="#33bddb" d="M621.2 70l1.2-1.7-2.5-2-1.2 1.6z"/><path fill="#33c6c6" d="M610.1 67.9l1.2-1.9-2.2-1.4-1.2 1.9z"/><path fill="#36c9c3" d="M601.7 67.7l.6-1.2-4-1.8-.6 1.1z"/><path fill="#42cccf" d="M597.4 68.1l.6-1.2-4-1.6-.7 1.2z"/><path fill="#42b1e7" d="M624.9 71.3l1.3-1.8-1.4-1.2-1.3 1.8z"/><path fill="#2ac3cf" d="M614.2 68.7l1.2-1.9-2.1-1.5-1.3 1.9z"/><path fill="#30c6c6" d="M608 67.7l.8-1.2-2.3-1.4-.8 1.3z"/><path fill="#30c0d8" d="M618.3 69.8l1.3-1.8-2.2-1.7-1.2 1.8z"/><path fill="#57b1ed" d="M625.9 72.2l1.3-1.8-1.4-1.2-1.4 1.7z"/><path fill="#30c6c9" d="M605.4 68.6l.7-1.2-4-2.2-.7 1.2z"/><path fill="#2ac3cf" d="M611.7 69l1.2-1.9-2.2-1.5-1.2 2z"/><path fill="#42b1e7" d="M623.2 71.7l1.2-1.7-2.6-2.1-1.2 1.6z"/><path fill="#2ac3cc" d="M601.1 68.7l.7-1.2-4-1.9-.7 1.2z"/><path fill="#30c0d8" d="M615.8 69.9l1.3-1.9-2.2-1.6-1.3 1.9z"/><path fill="#2ac3cf" d="M609.6 68.8l.8-1.3-2.3-1.4-.7 1.2zM607.5 68.7l.8-1.3-2.3-1.4-.8 1.3z"/><path fill="#3cb7e4" d="M620.3 71.4l1.2-1.8-2.5-2-1.2 1.7z"/><path fill="#48a8ed" d="M624 72.6l1.3-1.8-1.4-1.3-1.3 1.9z"/><path fill="#30bdd8" d="M613.3 70.2l1.2-2-2.1-1.5-1.3 1.9z"/><path fill="#2ac3d2" d="M604.9 69.5l.6-1.2-3.9-2.1-.7 1.1z"/><path fill="#5acfde" d="M600.6 69.7l.6-1.2-4-1.9-.6 1.2z"/><path fill="#3cb7e1" d="M617.4 71.2l1.3-1.9-2.2-1.7-1.2 1.9z"/><path fill="#30c0d8" d="M611.3 69.9l.7-1.3-2.3-1.5-.7 1.2z"/><path fill="#2dc0d8" d="M609.1 69.7l.8-1.3-2.3-1.4-.8 1.2z"/><path fill="#2ac0d5" d="M606.9 69.6l.8-1.3-2.3-1.4-.7 1.3z"/><path fill="#5aa8f3" d="M625 73.6l1.3-1.9-1.4-1.3-1.4 1.9z"/><path fill="#45abed" d="M622.2 73.1l1.3-1.8-2.6-2.1-1.2 1.7z"/><path fill="#3cb7e1" d="M614.9 71.4l1.3-2-2.2-1.6-1.3 2z"/><path fill="#33bddb" d="M604.3 70.5l.7-1.2-4-2.2-.6 1.2z"/><path fill="#45aeea" d="M619.4 72.8l1.2-1.8-2.5-2.1-1.2 1.8z"/><path fill="#3cbae1" d="M612.9 71l.7-1.2-2.2-1.6-.8 1.2z"/><path fill="#39bae1" d="M610.7 70.8l.8-1.3-2.3-1.5-.8 1.3z"/><path fill="#36bdde" d="M608.6 70.6l.7-1.3-2.2-1.4-.8 1.3zM606.4 70.6l.8-1.4-2.3-1.4-.8 1.4z"/><path fill="#4b9ff3" d="M623.1 74l1.3-1.9-1.4-1.3-1.3 2z"/><path fill="#42aee7" d="M616.5 72.7l1.3-2-2.2-1.7-1.2 2z"/><path fill="#66c9e7" d="M603.8 71.5l.7-1.2-4-2.2-.7 1.2z"/><path fill="#72aef9" d="M624.1 75l1.3-2-1.4-1.3-1.4 2z"/><path fill="#42b1e7" d="M614.5 72.3l.8-1.3-2.3-1.7-.8 1.3z"/><path fill="#3fb4e7" d="M612.3 72l.8-1.3-2.3-1.6-.8 1.3z"/><path fill="#3fb4e4" d="M610.2 71.8l.7-1.4-2.2-1.5-.8 1.3z"/><path fill="#3fb7e4" d="M608 71.6l.8-1.3-2.3-1.5-.8 1.4z"/><path fill="#4ba2f3" d="M621.3 74.5l1.3-1.8-2.6-2.2-1.2 1.8z"/><path fill="#3cb7e4" d="M605.9 71.6l.7-1.4-2.2-1.4-.8 1.4z"/><path fill="#48a5f0" d="M618.5 74.3l1.2-1.9-2.5-2.1-1.2 1.9z"/><path fill="#48a8ed" d="M616.1 73.6l.8-1.3-2.3-1.8-.8 1.3z"/><path fill="#45abea" d="M613.9 73.2l.8-1.3-2.2-1.7-.8 1.3z"/><path fill="#4e96f9" d="M622.2 75.5l1.3-2.1-1.4-1.2-1.3 2z"/><path fill="#45aeea" d="M611.8 72.9l.8-1.3-2.3-1.6-.8 1.3z"/><path fill="#42aee7" d="M609.6 72.7l.8-1.3-2.3-1.6-.7 1.4z"/><path fill="#42b1e7" d="M607.5 72.6l.8-1.4-2.3-1.4-.8 1.4z"/><path fill="#54b7ea" d="M605.3 72.6l.8-1.4-2.3-1.4-.8 1.4z"/><path fill="#6699fc" d="M623.2 76.4l1.3-2-1.4-1.3-1.4 2.1z"/><path fill="#4e96f9" d="M620.4 76.1l1.3-1.9-2.6-2.3-1.2 1.9z"/><path fill="#4ba2f3" d="M615.5 74.5l.8-1.3-2.2-1.7-.8 1.2z"/><path fill="#48a5f0" d="M613.4 74.2l.8-1.3-2.3-1.7-.8 1.3z"/><path fill="#4b9cf6" d="M618 75.2l.8-1.2-2.6-2.2-.7 1.2z"/><path fill="#48a5ed" d="M611.2 73.9l.8-1.3-2.2-1.6-.8 1.3z"/><path fill="#48a8ed" d="M609.1 73.8l.8-1.4-2.3-1.6-.8 1.4z"/><path fill="#57b1ed" d="M606.9 73.7l.8-1.5-2.3-1.4-.7 1.4z"/><path fill="#578aff" d="M621.3 77l1.3-2.1-1.4-1.2-1.3 2.1z"/><path fill="#4e99f6" d="M615 75.5l.8-1.3-2.3-1.8-.8 1.3z"/><path fill="#4b9cf6" d="M612.8 75.2l.8-1.4-2.2-1.7-.8 1.4z"/><path fill="#4e93f9" d="M617.5 76.2l.8-1.3-2.6-2.1-.8 1.2z"/><path fill="#4b9ff3" d="M610.7 75l.8-1.4-2.3-1.7-.8 1.4z"/><path fill="#63aef3" d="M608.5 74.8l.8-1.4-2.2-1.6-.8 1.4z"/><path fill="#548dfc" d="M620 77l.7-1.2-2.5-2.3-.8 1.2z"/><path fill="#7896ff" d="M622.3 78l1.3-2.2-1.4-1.2-1.4 2.1z"/><path fill="#5193fc" d="M614.5 76.5l.7-1.3-2.2-1.8-.8 1.3z"/><path fill="#4e96f9" d="M612.3 76.2l.8-1.4-2.3-1.7-.8 1.4z"/><path fill="#548dfc" d="M617 77.2l.7-1.3-2.6-2.2-.7 1.3z"/><path fill="#5d81ff" d="M620.8 78l.9-1.4-1.5-1.4-.9 1.4z"/><path fill="#6fabf9" d="M610.1 76l.8-1.4-2.2-1.7-.8 1.5z"/><path fill="#5a84ff" d="M619.4 78l.8-1.3-2.6-2.3-.7 1.2z"/><path fill="#758afc" d="M621.8 78.9l.9-1.4-1.5-1.4-.9 1.4z"/><path fill="#5d81ff" d="M617.8 78.1l.9-1.5-1.5-1.3-.9 1.5z"/><path fill="#578aff" d="M613.9 77.6l.8-1.4-2.2-1.8-.8 1.3z"/><path fill="#7ba8fc" d="M611.8 77.3l.8-1.4-2.3-1.8-.8 1.4z"/><path fill="#5a84ff" d="M616.4 78.2l.8-1.3-2.6-2.2-.8 1.3z"/><path fill="#6078fc" d="M620.3 78.9l.9-1.4-1.5-1.3-.9 1.4z"/><path fill="#607bfc" d="M618.8 79l.9-1.5-1.5-1.3-.9 1.5z"/><path fill="#8790f9" d="M621.3 79.9l.9-1.4-1.6-1.4-.9 1.4z"/><path fill="#6078fc" d="M617.3 79.1l.9-1.5-1.6-1.3-.8 1.5z"/><path fill="#698aff" d="M613.4 78.6l.8-1.4-2.3-1.8-.8 1.4z"/><path fill="#607bfc" d="M615.9 79.3l.7-1.4-2.5-2.2-.8 1.3z"/><path fill="#636ff9" d="M619.7 80l.9-1.5-1.5-1.4-.9 1.5zM618.2 80l.9-1.5-1.5-1.3-.9 1.5z"/><path fill="#7578f3" d="M620.7 80.9l.9-1.5-1.5-1.3-.9 1.4z"/><path fill="#636ff9" d="M616.7 80.2l.9-1.6-1.5-1.2-.9 1.5z"/><path fill="#7e8dfc" d="M615.3 80.3l.8-1.3-2.6-2.3-.8 1.4z"/><path fill="#6369f3" d="M619.2 81l.9-1.5-1.5-1.4-.9 1.5z"/><path fill="#6366f0" d="M617.7 81.1l.9-1.5-1.5-1.3-.9 1.5z"/><path fill="#7875ed" d="M620.2 82l.9-1.5-1.5-1.4-.9 1.5z"/><path fill="#8187f6" d="M616.2 81.3l.9-1.6-1.5-1.3-.9 1.6z"/><path fill="#6360ea" d="M618.7 82.1l.9-1.6-1.6-1.3-.8 1.5z"/><path fill="#817ef0" d="M617.2 82.2l.8-1.6-1.5-1.3-.9 1.6z"/><path fill="#7b72e4" d="M619.6 83l.9-1.5-1.5-1.4-.9 1.5z"/><path fill="#756ce1" d="M618.1 83.2l.9-1.6-1.5-1.4-.9 1.6z"/><path fill="#9387de" d="M619.1 84.1l.9-1.5-1.5-1.4-.9 1.5z"/></g></g><g id="ud1"><path d="M552.4 156.7L552.4 130.9M568.7 148.4L568.7 122.6M584.9 140.2L584.9 114.4M652.1 149L652.1 123.2M623 144.2L623 118.5M593.9 139.5L593.9 113.7M549.2 157.9L588.1 138.2M588.1 138.2L657.9 149.5M549.2 145.5L588.1 125.8M588.1 125.8L657.9 137.1M549.2 133.2L588.1 113.5M588.1 113.5L657.9 124.8M622.2 168L552.4 156.7M638.5 159.8L568.7 148.4M654.7 151.5L584.9 140.2M613.2 168.7L652.1 149M584.1 164L623 144.2M555 159.2L593.9 139.5" stroke="#e0e0e0" stroke-width=".5"/><path d="M549.2 132.5L588.1 112.8M588.1 112.8L657.9 124.1M657.9 124.1L657.9 149.9M588.1 112.8L588.1 138.6M588.1 138.6L549.2 158.3M588.1 138.6L657.9 149.9" stroke="#8c8c8c" stroke-width=".6"/><g fill="none" stroke-width="0.4" opacity="0.6"><path d="M555.6 155l10 1.5 3 .3 2.6-.2 1-.5 2.9-3.1 4.1-2.7 10.7-5.2 11.6-4.3M648.1 154.8l-10-.5-13.6.1-6.2.6-4.1 1.3-1.6 1.2-.5.8 0 .6.7 1.4 1.4 1.1 3.2 1.3 3.1.8 3.5.6 5 .5" stroke="#2e87f7"/><path d="M554.4 155.7l15 1.8 2.1.1 2.2-.3.8-.5 1.3-1.8 1.7-1.7 4.1-2.6 11.8-5.6 5-1.9 6.3-1.9M652.4 152.7l-12.1-1-8.5-.1-8.9.2-5.4.5-4 .6-3.1.8-2.9 1.2-2.3 1.6-.7.9-.4.9.1 1 .3.7 1.8 1.8 3.1 1.6 4.1 1.4 5.8 1.1 5.6.7" stroke="#21a3e3"/><path d="M574.6 162.4l-18.2-3-6.3-1.5M553.4 156.2l17.2 1.9 3.8 0 1.6-.7 1.6-2.4 1.7-1.7 2.4-1.6 2.3-1.3 6.2-2.9 5.7-2.4 5.2-1.8 6-1.6M654.3 151.7l-7.8-.7-6.5-.4-17.6.1-5.5.5-5 .8-4 1-3.5 1.4-2.7 1.9-.7.8-.4 1.2 0 1.1.3.7 1.9 1.9 3.5 1.9 4.6 1.5 5.7 1.3 6.6.8" stroke="#01b8c8"/><path d="M578.2 163l-4.4-1.2-17.6-2.9-3.7-1-.7-.5 0-.3 2.1-.3 2.7.1 15.3 1.7 3.6 0 1.6-.7 1.8-2.7 1.7-1.7 2.3-1.6 2.9-1.5 5.8-2.7 5.9-2.3 5.4-1.8 6.2-1.6M655.7 151l-8.9-.8-7.4-.4-10.6 0-8.5.3-5.2.4-5.1.9-4.5 1.2-3.5 1.4-2.7 1.9-.9 1.1-.4 1-.1 1 .3 1.1.7 1 1.4 1.2 3.6 2 4.9 1.6 5.7 1.3 7.3 1" stroke="#31c6a0"/><path d="M580.4 163.3l-5.1-1.7-15.2-2.3-3.2-.8-1.4-.5-.2-.4.8-.2 3.8.2 13.2 1.6 2.3 0 1.8-.3 1.2-.8 1.4-2.4 1.6-1.7 2.2-1.7 3.3-1.7 5.3-2.4 6.1-2.3 6.3-2 6.5-1.6M657 150.3l-9-.7-7.4-.4-11.5 0-8.8.2-6.6.6-5 .8-4.7 1.2-4 1.7-3.1 2.1-.9 1.2-.4.9-.1 1.1.5 1.3.9 1.1 1.2 1.1 3.9 2.1 4.9 1.7 6.4 1.4 7.4 1.1" stroke="#6bcd69"/><path d="M582.3 163.7l-3.5-1.5-4.4-1.3-10.1-1.4-2.7-.5-1.5-.6 1.1-.1 2.8.2 10.1 1.4 2.2-.2 1.8-.3 1-.5.6-.6 1.3-2.5 1.5-1.7 2.1-1.6 3.3-1.7 5.6-2.4 6.4-2.3 6.5-1.9 6.7-1.5M655.1 149.4l-9.1-.6-7.7-.2-12.7 0-8.1.3-6.2.7-5.7 1.1-4.3 1.2-3.8 1.7-2.9 2.2-.9 1.1-.4 1.3.1 1.3.4 1 2.5 2.3 3.9 2.2 4.8 1.7 6.4 1.5 8.1 1.1" stroke="#bac430"/><path d="M584.3 164l-6.1-2.6-.7-.5-.1-.3 2.7-1.2.7-.6 1.7-3.2 1.2-1.3 1.7-1.3 4.8-2.5 6.6-2.6 8.5-2.6 10-2.3M648 148.3l-19.1-.3-13.6.5-9.4 1.2-4.1 1-3.9 1.3-3.5 1.8-2.3 1.9-1.2 1.8-.1.9.1 1.1 1.4 1.8 3.6 2.9 2.3 1.2 4 1.5" stroke="#f6ba3b"/><path d="M587 164.4l-6.2-2.6-1-.8 2.2-1.3 1.2-1.2 0-.3.5-.6-.2-.2.4-.4 0-.3.5-.6 0-.3.9-1 2-1.6 4.7-2.5 5-1.8 10.9-3.2 10-2.3M643 147.5l-17.5-.1-12.5.4-9.5 1.2-4.2 1-3.5 1-3.2 1.5-2.6 1.5-2.3 2.3-.6 1.6.1 1 .6.7 3.4 2.9 2.2 2.4 1.2.7" stroke="#f9d82c"/></g></g><g id="sd1"><g shape-rendering="crispEdges" filter="url(#bl)"><path fill="#f9db30" d="M615.3 117.8l1.9.7-1.6 1.6-1.9-.8z"/><path fill="#fce769" d="M616.4 118.7l2-1.2-1.6 1.6-1.9-.9z"/><path fill="#f9e14b" d="M619.4 119.1l1.6-1.1-3.3-.6-1.5 1z"/><path fill="#edba3c" d="M579.7 139l1.6-1.2-3.2-1.1-1.6 1.2z"/><path fill="#f9db30" d="M615.7 119.2l1.4-1-3.4 1.2-1.4-.5z"/><path fill="#f9e14b" d="M621.9 119.5l1.5-1.1-3.2-.7-1.5 1.1z"/><path fill="#f9db30" d="M611.1 119l2.1-.3-1.6 1.6-1.9-.5z"/><path fill="#f9de42" d="M618 119.8l1.6-1.1-3.3-.7-1.5 1.1z"/><path fill="#edd275" d="M578.4 139.8l1.5-1.2-3.2-1.1-1.6 1.2z"/><path fill="#f9e45d" d="M624.4 119.9l1.5-1.1-3.2-.7-1.5 1.1z"/><path fill="#f9db30" d="M614.2 120.1l1.5-1.1-3.3-.3-1.5.7z"/><path fill="#f9e14b" d="M620.5 120.2l1.6-1.1-3.3-.7-1.5 1.1z"/><path fill="#f9e45d" d="M626.9 120.3l1.5-1.1-3.2-.7-1.5 1.1z"/><path fill="#f9db30" d="M610.4 120l1.4-.8-3.3 1.9-1.5-.4z"/><path fill="#f9de3f" d="M616.7 120.5l1.5-1.1-3.3-.7-1.5 1.1z"/><path fill="#eae196" d="M577 140.5l1.5-1.1-3.2-1.1-1.5 1.1z"/><path fill="#f9e14b" d="M623 120.6l1.6-1.1-3.3-.7-1.5 1.1z"/><path fill="#f9e466" d="M629.4 120.7l1.5-1.1-3.2-.7-1.6 1.1z"/><path fill="#f9d830" d="M612.8 120.8l1.5-1.1-3.3-.7-1.5 1.1z"/><path fill="#f9e14b" d="M619.1 120.9l1.6-1.1-3.3-.7-1.5 1.1zM625.5 121l1.5-1.1-3.2-.7-1.5 1.1z"/><path fill="#f9db30" d="M609 121l1.4-1-3.4.6-1.4 0z"/><path fill="#f9e45a" d="M631.9 121.1l1.5-1.1-3.2-.7-1.6 1.1z"/><path fill="#f9db39" d="M615.3 121.2l1.5-1.1-3.3-.7-1.5 1.1z"/><path fill="#f9e14b" d="M621.6 121.3l1.6-1.1-3.3-.7-1.5 1.1zM628 121.4l1.5-1.1-3.2-.7-1.5 1.1z"/><path fill="#f9db30" d="M604.5 120.7l2-.3-1.6 1.6-1.9-.4z"/><path fill="#f9d830" d="M611.4 121.5l1.5-1.1-3.3-.7-1.5 1.1z"/><path fill="#f9e14b" d="M634.4 121.5l1.5-1.1-3.2-.7-1.6 1.1zM617.8 121.6l1.5-1.1-3.3-.7-1.5 1.1zM624.1 121.7l1.6-1.1-3.3-.7-1.5 1.1z"/><path fill="#f9db30" d="M607.5 121.8l1.5-1.1-3.3-.4-1.5.8z"/><path fill="#f9e14b" d="M630.5 121.8l1.5-1.1-3.2-.7-1.5 1.1z"/><path fill="#f6d833" d="M613.9 121.9l1.5-1.1-3.3-.7-1.5 1.1z"/><path fill="#f9e45d" d="M636.9 121.9l1.5-1.1-3.3-.7-1.5 1.1z"/><path fill="#f9e14b" d="M620.3 122l1.5-1.1-3.3-.7-1.5 1.1zM633.8 121.7l.7-.5-3.3-.6-.8.5z"/><path fill="#f9e769" d="M638.8 121.7l.9-.7-2.1-.4-.8.7z"/><path fill="#f9db30" d="M603.7 121.6l1.4-.7-3.2 2.1-1.5-.3z"/><path fill="#f9e14b" d="M626.5 122.7l1.6-1.7-3.2-.7-1.5 1.1zM622.2 121.8l.8-.7-2-.5-.8.8z"/><path fill="#f9d830" d="M610 122.2l1.5-1.1-3.2-.7-1.6 1.1z"/><path fill="#f9e14b" d="M628.6 121.9l.8-.7-2-.5-.8.8z"/><path fill="#fcea7e" d="M640 122l.9-.8-2-.5-.8.8z"/><path fill="#f9e14b" d="M635.3 121.8l.5-.4-2.1-.4-.5.4zM616.3 122.8l1.6-1.6-3.2-.7-1.6 1.1zM623.4 122.4l.9-1.1-2-.5-.9.7z"/><path fill="#f9e460" d="M641.5 122.4l.6-1-2-.4-.6.5z"/><path fill="#f9e14b" d="M633 123.3l.8-1.8-3.3-.6-.7.5zM638 122.9l.9-1.6-1.9-.5-.9.7zM618.2 122.4l.9-1-1.9-.5-.9.7zM629.6 123.1l1-1.8-1.9-.4-.9.7zM624.8 122.8l.7-1.3-2-.4-.6.4zM636.3 123.1l.7-1.6-2-.5-.6.5zM621.3 123l1-1.6-1.9-.5-.9.7z"/><path fill="#f9d830" d="M606.1 122.5l1.5-1.1-3.2-.7-1.5 1.1z"/><path fill="#f9e14b" d="M634.6 123.2l.7-1.7-2-.4-.6.6z"/><path fill="#f9de4b" d="M631.1 123.6l.8-1.8-1.9-.7-.7.9z"/><path fill="#fce15a" d="M642.7 123.4l.7-1.7-1.9-.6-.7 1z"/><path fill="#f9de4b" d="M627.7 123.9l.9-2.5-1.7-.4-1 1.4z"/><path fill="#fcde4b" d="M639.2 123.9l.9-2.4-1.7-.5-1 1.6z"/><path fill="#f3d830" d="M612.4 123.3l1.6-1.8-3.2-.7-1.6 1.1z"/><path fill="#f9de4b" d="M640.9 123.7l.8-1.7-1.9-.9-.7 1.2zM619.4 123.5l1-2-1.9-.4-1 .9z"/><path fill="#fcde4b" d="M626 124l.8-1.7-1.9-1.1-.7 1.2z"/><path fill="#fcdb4e" d="M637.5 124.1l.8-1.7-1.9-1.2-.7 1.5zM622.5 124.1l1-2.3-1.8-.7-1 1.5zM624.3 124.1l.7-1.7-1.8-1.2-.8 1.3zM635.8 124.3l.8-1.7-1.9-1.4-.8 1.7z"/><path fill="#f9de48" d="M614.3 123.1l.9-1.4-1.9-.5-.9.7z"/><path fill="#fcd84e" d="M634.1 124.5l.7-1.7-1.8-1.5-.8 1.7zM632.4 124.7l.7-1.8-1.8-1.4-.8 1.7z"/><path fill="#fcde4b" d="M617.4 124l1-2.1-1.8-.7-1 1.2z"/><path fill="#fcde6f" d="M643.9 124.3l.7-1.6-1.8-1.3-.8 1.7z"/><path fill="#fcd84e" d="M628.9 125l1-2.5-1.7-1.3-1.1 2.4z"/><path fill="#f9db30" d="M602.4 122.5l1.3-.9-3.3 1.1-1.4 0z"/><path fill="#fcd551" d="M630.7 124.8l.7-1.7-1.8-1.5-.8 1.7zM642.2 124.6l.7-1.7-1.8-1.3-.8 1.7z"/><path fill="#fcd84e" d="M620.6 124.7l1-2.3-1.8-1.2-1 2z"/><path fill="#fcd551" d="M640.5 124.9l.7-1.7-1.8-1.4-.8 1.7z"/><path fill="#ffcf54" d="M627.2 125.1l.8-1.7-1.8-1.5-.8 1.7z"/><path fill="#fccf54" d="M638.7 125.2l.8-1.8-1.8-1.4-.8 1.8z"/><path fill="#f6d830" d="M608.5 123.3l1.6-1.5-3.2-.7-1.6 1.1z"/><path fill="#ffd254" d="M625.5 125.2l.8-1.7-1.8-1.5-.8 1.7z"/><path fill="#fccf54" d="M637 125.4l.8-1.8-1.8-1.4-.8 1.7z"/><path fill="#fcdb4e" d="M615.5 124.2l1-1.9-1.8-1-1 1.4z"/><path fill="#ffd254" d="M623.8 125.3l.8-1.7-1.9-1.5-.7 1.6z"/><path fill="#ffcc54" d="M635.3 125.6l.8-1.8-1.8-1.4-.8 1.7z"/><path fill="#fccc57" d="M633.6 125.8l.8-1.8-1.9-1.4-.7 1.7z"/><path fill="#fcd551" d="M618.6 125.1l1.1-2.1-1.8-1.4-1 2z"/><path fill="#ffde8a" d="M645.1 125.2l.8-1.7-1.9-1.2-.7 1.7z"/><path fill="#fcc957" d="M631.9 126l.8-1.8-1.9-1.5-.7 1.8z"/><path fill="#ffcc54" d="M643.4 125.5l.8-1.7-1.9-1.2-.7 1.7z"/><path fill="#f3d830" d="M610.4 123.4l1-1.4-2-.5-.9.7z"/><path fill="#fccf54" d="M621.8 125.9l1.1-2.4-1.8-1.4-1 2.3z"/><path fill="#fcc957" d="M630.2 126.1l.8-1.7-1.9-1.5-.7 1.7z"/><path fill="#ffc957" d="M641.7 125.9l.8-1.8-1.9-1.3-.7 1.8z"/><path fill="#fcc95a" d="M628.5 126.3l.8-1.8-1.9-1.5-.8 1.7z"/><path fill="#f9db48" d="M613.5 124.4l1.1-1.8-1.9-1.1-1 1.4z"/><path fill="#fcc95a" d="M640 126.2l.8-1.8-1.9-1.3-.7 1.7z"/><path fill="#fcc957" d="M626.8 126.4l.7-1.7-1.8-1.6-.8 1.7z"/><path fill="#f9c65a" d="M638.3 126.5l.7-1.8-1.8-1.4-.8 1.7z"/><path fill="#fcd251" d="M616.7 125.5l1-2.1-1.7-1.4-1.1 1.9z"/><path fill="#fcc957" d="M625.1 126.4l.7-1.6-1.8-1.6-.8 1.6z"/><path fill="#f9c657" d="M636.6 126.7l.7-1.8-1.8-1.4-.8 1.7zM623.4 126.5l.7-1.7-1.8-1.5-.8 1.5z"/><path fill="#f6c657" d="M634.9 126.9l.7-1.8-1.8-1.4-.8 1.7z"/><path fill="#fccc57" d="M619.9 126.3l1-2.2-1.7-1.4-1.1 2.1z"/><path fill="#f9d830" d="M604.7 123.2l1.5-1.1-3.2-.7-1.5 1.1z"/><path fill="#f3c654" d="M633.1 127.1l.8-1.8-1.8-1.5-.8 1.8z"/><path fill="#fcc65a" d="M644.7 126.4l.7-1.7-1.8-1.2-.8 1.7z"/><path fill="#f0d539" d="M611.6 124.5l1-1.7-1.8-1.2-1 1.3z"/><path fill="#f3c654" d="M631.4 127.3l.8-1.8-1.8-1.5-.8 1.7z"/><path fill="#f6c657" d="M643 126.8l.7-1.8-1.8-1.2-.8 1.7z"/><path fill="#f3c654" d="M629.7 127.4l.8-1.7-1.8-1.6-.8 1.8z"/><path fill="#ffd254" d="M614.8 125.6l1-1.8-1.8-1.5-1 1.7z"/><path fill="#f3c654" d="M641.2 127.2l.8-1.8-1.8-1.3-.8 1.7z"/><path fill="#f9d278" d="M647.7 126.7l.7-1.5-3.2-2-.7 1.5z"/><path fill="#f0c651" d="M628 127.5l.8-1.7-1.8-1.5-.8 1.7zM639.5 127.5l.8-1.8-1.8-1.4-.8 1.8z"/><path fill="#f6d830" d="M606.6 123.3l.9-1-2-.5-.8.7z"/><path fill="#fcc957" d="M617.9 126.7l1.1-2.1-1.8-1.5-1 2z"/><path fill="#f0c654" d="M626.3 127.6l.8-1.7-1.9-1.6-.7 1.7z"/><path fill="#edc651" d="M637.8 127.8l.8-1.8-1.9-1.5-.7 1.8zM624.6 127.7l.8-1.7-1.9-1.6-.7 1.6z"/><path fill="#f3d533" d="M609.7 124.4l1-1.5-1.9-1.1-1 1.1z"/><path fill="#eac64e" d="M636.1 128l.8-1.8-1.9-1.4-.7 1.7z"/><path fill="#f6c657" d="M621.1 127.6l1.1-2.3-1.8-1.5-1 2.2z"/><path fill="#f0c651" d="M622.9 127.6l.8-1.6-1.9-1.6-.7 1.6z"/><path fill="#e4c64b" d="M634.4 128.2l.8-1.8-1.9-1.5-.7 1.8z"/><path fill="#fcd251" d="M612.8 125.7l1.1-1.7-1.8-1.6-1.1 1.6z"/><path fill="#e4c64b" d="M632.7 128.4l.8-1.8-1.9-1.5-.8 1.8z"/><path fill="#edc651" d="M644.2 127.7l.7-1.8-1.8-1.2-.7 1.8z"/><path fill="#e1c64b" d="M631 128.6l.7-1.8-1.8-1.5-.8 1.7z"/><path fill="#fcc957" d="M616 126.9l1.1-1.9-1.8-1.6-1.1 1.8z"/><path fill="#e4c64b" d="M642.5 128.1l.7-1.8-1.8-1.3-.8 1.8z"/><path fill="#f9db30" d="M600.9 123.4l1.5-1-3.4.1-1.4.4z"/><path fill="#e1c64b" d="M629.3 128.7l.7-1.7-1.8-1.6-.8 1.7z"/><path fill="#dec94b" d="M640.8 128.5l.7-1.8-1.8-1.4-.8 1.8z"/><path fill="#edc651" d="M647.3 127.9l.6-1.5-3.2-2-.6 1.5z"/><path fill="#f3d530" d="M607.7 124.3l1-1.4-1.8-.9-1 .8z"/><path fill="#f0c651" d="M619.2 128l1-2.2-1.7-1.6-1.1 2.1z"/><path fill="#dec94b" d="M627.6 128.8l.7-1.7-1.8-1.6-.8 1.7z"/><path fill="#d8c94b" d="M639.1 128.8l.7-1.8-1.8-1.4-.8 1.8z"/><path fill="#d8c948" d="M625.8 128.8l.8-1.6-1.8-1.6-.8 1.6z"/><path fill="#f0cf3f" d="M610.9 125.6l1-1.6-1.8-1.5-1 1.5z"/><path fill="#dbc948" d="M637.4 129l.7-1.7-1.8-1.5-.8 1.8zM624.1 128.9l.8-1.7-1.8-1.6-.8 1.6z"/><path fill="#d5c948" d="M635.6 129.3l.8-1.8-1.8-1.4-.8 1.7z"/><path fill="#fcc957" d="M614.1 127l1-1.8-1.8-1.7-1 1.8z"/><path fill="#dec94b" d="M622.4 128.8l.8-1.6-1.8-1.6-.8 1.5z"/><path fill="#cfc94b" d="M633.9 129.5l.8-1.8-1.8-1.5-.8 1.8z"/><path fill="#f6d830" d="M605.8 124.1l1-1.3-1.9-.7-.9.7z"/><path fill="#cfcc4b" d="M632.2 129.7l.8-1.8-1.8-1.5-.8 1.8z"/><path fill="#edc651" d="M617.2 128.3l1.1-2.1-1.8-1.6-1 1.9z"/><path fill="#d5c94b" d="M643.7 129l.8-1.8-1.9-1.2-.7 1.8z"/><path fill="#edcf69" d="M650.2 128.1l.7-1.6-3.2-1.7-.7 1.5z"/><path fill="#cccc4e" d="M630.5 129.8l.8-1.7-1.9-1.5-.7 1.7z"/><path fill="#cfcc4b" d="M642 129.4l.8-1.8-1.9-1.3-.7 1.8z"/><path fill="#f0cf39" d="M609 125.5l1-1.5-1.8-1.5-1.1 1.3z"/><path fill="#dbc948" d="M620.4 129.3l1.1-2.2-1.8-1.6-1 2.1z"/><path fill="#c3cc51" d="M628.8 129.9l.8-1.7-1.9-1.5-.7 1.7z"/><path fill="#c6cc4e" d="M640.3 129.7l.8-1.7-1.9-1.4-.7 1.8z"/><path fill="#dbc94b" d="M646.8 129.2l.6-1.6-3.2-2-.6 1.6z"/><path fill="#c3cc51" d="M627.1 130l.8-1.7-1.9-1.5-.7 1.6z"/><path fill="#fcc957" d="M612.1 127l1.1-1.7-1.8-1.7-1.1 1.6z"/><path fill="#c3cc51" d="M638.6 130.1l.8-1.8-1.9-1.4-.7 1.8z"/><path fill="#c6cc4e" d="M625.4 130.1l.8-1.7-1.9-1.6-.8 1.6z"/><path fill="#bdcf54" d="M636.9 130.3l.8-1.7-1.9-1.5-.7 1.8z"/><path fill="#edc651" d="M615.3 128.4l1.1-1.9-1.8-1.7-1.1 1.8z"/><path fill="#c9cc4e" d="M623.7 130l.7-1.6-1.8-1.6-.8 1.6z"/><path fill="#b7cf5a" d="M635.2 130.5l.7-1.7-1.8-1.4-.8 1.7z"/><path fill="#f3d236" d="M607 125.2l1-1.3-1.8-1.4-1 1.1z"/><path fill="#b4cf5a" d="M633.5 130.7l.7-1.7-1.8-1.5-.8 1.8z"/><path fill="#d8c948" d="M618.5 129.6l1-2.1-1.7-1.7-1.1 2.1z"/><path fill="#f6d830" d="M603.2 124.6l1.7-1.8-3.3-.7-1.5 1.1z"/><path fill="#aed260" d="M631.8 130.9l.7-1.7-1.8-1.5-.8 1.7z"/><path fill="#bdcf54" d="M643.3 130.2l.7-1.8-1.8-1.2-.8 1.9z"/><path fill="#d8c948" d="M649.8 129.3l.6-1.6-3.2-1.7-.6 1.6z"/><path fill="#f0c64b" d="M610.2 126.8l1-1.6-1.8-1.6-1 1.4z"/><path fill="#c3cc51" d="M621.7 130.6l1-2.3-1.7-1.6-1.1 2.2z"/><path fill="#abd260" d="M630 131l.8-1.6-1.8-1.6-.8 1.7z"/><path fill="#b7cf57" d="M641.6 130.7l.7-1.8-1.8-1.3-.8 1.8z"/><path fill="#f0c651" d="M613.4 128.4l1-1.8-1.8-1.8-1 1.7z"/><path fill="#aecf5d" d="M639.9 131l.7-1.8-1.8-1.3-.8 1.8z"/><path fill="#c0cc51" d="M646.3 130.5l.7-1.6-3.2-2-.7 1.6z"/><path fill="#abd260" d="M626.6 131.2l.8-1.6-1.8-1.6-.8 1.6z"/><path fill="#a8d263" d="M638.1 131.3l.8-1.7-1.8-1.4-.8 1.8z"/><path fill="#f3d530" d="M605.1 124.9l1-1.2-1.8-1.3-1 1z"/><path fill="#d5c94b" d="M616.5 129.8l1.1-2-1.8-1.7-1 1.9z"/><path fill="#a5d263" d="M628 131.8l1.1-2.4-1.8-1.5-1 2.4z"/><path fill="#abd260" d="M624.9 131.2l.8-1.6-1.8-1.6-.8 1.6z"/><path fill="#9fd269" d="M636.4 131.6l.8-1.8-1.8-1.4-.8 1.8z"/><path fill="#eac942" d="M608.3 126.5l1-1.4-1.8-1.7-1 1.3z"/><path fill="#99d26f" d="M634.7 131.8l.8-1.7-1.9-1.5-.7 1.8z"/><path fill="#bdcf54" d="M619.7 130.9l1.1-2.1-1.8-1.7-1 2.1z"/><path fill="#ded56c" d="M652.7 129.3l.7-1.5-3.3-1.6-.6 1.5z"/><path fill="#96d26f" d="M633 132l.8-1.7-1.9-1.5-.7 1.7z"/><path fill="#f3c654" d="M611.4 128.2l1.1-1.6-1.8-1.8-1.1 1.5z"/><path fill="#a8d263" d="M622.9 131.8l1.1-2.3-1.8-1.5-1 2.2z"/><path fill="#93d272" d="M631.3 132.1l.8-1.7-1.9-1.4-.7 1.7z"/><path fill="#a2d266" d="M642.8 131.5l.8-1.8-1.9-1.2-.7 1.8z"/><path fill="#c0cf51" d="M649.3 130.6l.6-1.6-3.2-1.8-.6 1.6z"/><path fill="#d8c94b" d="M614.6 129.8l1.1-1.8-1.8-1.8-1.1 1.7z"/><path fill="#f9db30" d="M599.5 124.2l1.5-1.1-3.3-.5-1.5.9z"/><path fill="#93d272" d="M639.4 132.2l.7-1.7-1.8-1.3-.8 1.8z"/><path fill="#a5d266" d="M645.9 131.7l.6-1.5-3.2-2-.6 1.6z"/><path fill="#f0cc3c" d="M606.3 126.1l1-1.3-1.8-1.5-1 1.1z"/><path fill="#b7cf57" d="M617.8 131.2l1.1-2.1-1.8-1.7-1.1 2z"/><path fill="#8dd575" d="M629.3 132.8l1-2.3-1.7-1.4-1.1 2.4z"/><path fill="#90d272" d="M626.2 132.4l.7-1.6-1.8-1.6-.8 1.6z"/><path fill="#8dd578" d="M637.7 132.5l.7-1.7-1.8-1.3-.8 1.7z"/><path fill="#edc351" d="M609.5 127.9l1-1.5-1.8-1.8-1 1.4z"/><path fill="#84d57b" d="M636 132.8l.7-1.7-1.8-1.4-.8 1.7z"/><path fill="#9fd269" d="M621 132.2l1-2.2-1.7-1.6-1.1 2.2z"/><path fill="#93d272" d="M642.4 132.7l.7-1.5-3.2-2.3-.6 1.6z"/><path fill="#84d57e" d="M634.3 133l.7-1.7-1.8-1.4-.8 1.7z"/><path fill="#c0cc51" d="M652.3 130.5l.6-1.5-3.2-1.6-.7 1.6z"/><path fill="#dbc94b" d="M612.7 129.7l1-1.7-1.8-1.9-1 1.6z"/><path fill="#8dd575" d="M624.2 132.9l1-2.2-1.8-1.5-1 2.2z"/><path fill="#7bd584" d="M632.6 133.1l.7-1.6-1.8-1.4-.8 1.6z"/><path fill="#f3d233" d="M604.4 125.7l1-1.1-1.8-1.5-1 1z"/><path fill="#bacf57" d="M615.9 131.2l1-1.9-1.8-1.8-1 1.9z"/><path fill="#7ed584" d="M627.4 133.5l1-2.3-1.8-1.5-1 2.4z"/><path fill="#a2d266" d="M648.8 131.8l.7-1.6-3.2-1.7-.7 1.6z"/><path fill="#e4c048" d="M607.6 127.5l1-1.3-1.8-1.8-1 1.2z"/><path fill="#99d26c" d="M619 132.5l1.1-2.1-1.8-1.7-1 2.1z"/><path fill="#75d58a" d="M630.5 133.8l1.1-2.3-1.8-1.3-1 2.3zM638.9 133.4l.8-1.7-1.9-1.2-.7 1.7z"/><path fill="#87d57b" d="M645.4 133l.7-1.6-3.2-1.9-.7 1.5z"/><path fill="#e4c64b" d="M610.7 129.4l1.1-1.5-1.8-2-1.1 1.5z"/><path fill="#81d57e" d="M622.2 133.4l1.1-2.2-1.8-1.5-1 2.1z"/><path fill="#d2db81" d="M655.2 130.4l.7-1.5-3.3-1.5-.6 1.6z"/><path fill="#69d293" d="M635.5 133.9l.8-1.6-1.9-1.4-.7 1.7z"/><path fill="#75d58a" d="M642 133.9l.6-1.5-3.2-2.2-.6 1.5z"/><path fill="#bdcf54" d="M613.9 131.2l1.1-1.8-1.8-1.9-1.1 1.7z"/><path fill="#72d58a" d="M625.4 134l1.1-2.2-1.8-1.4-1 2.2z"/><path fill="#69d293" d="M636.9 134.3l1-2.4-1.7-1.2-1 2.4z"/><path fill="#66d296" d="M633.8 134.1l.8-1.6-1.9-1.4-.7 1.7z"/><path fill="#a8d263" d="M651.8 131.7l.6-1.5-3.2-1.6-.6 1.6z"/><path fill="#edc642" d="M605.6 127l1-1.2-1.8-1.7-1 1.1z"/><path fill="#96d26f" d="M617.1 132.6l1.1-1.9-1.8-1.8-1.1 1.9z"/><path fill="#66d296" d="M628.6 134.5l1-2.3-1.7-1.3-1.1 2.3z"/><path fill="#f9db30" d="M595 124.6l2.1-1.3-1.4 1.1-2.1.1z"/><path fill="#f6d533" d="M601.8 126l1.7-1.8-3.2-1.4-1.6 1z"/><path fill="#84d57e" d="M648.4 133l.6-1.5-3.2-1.7-.6 1.6z"/><path fill="#e1c34b" d="M608.8 129l1-1.4-1.8-2-1 1.4z"/><path fill="#7bd584" d="M620.3 133.7l1-2-1.7-1.7-1.1 2.1z"/><path fill="#5dd29c" d="M631.8 134.8l1-2.2-1.7-1.4-1.1 2.4z"/><path fill="#c6cc4e" d="M612 131l1-1.7-1.8-1.9-1 1.5z"/><path fill="#6cd293" d="M623.5 134.5l1-2.1-1.8-1.5-1 2.1z"/><path fill="#aed25d" d="M654.8 131.6l.6-1.5-3.2-1.5-.7 1.6z"/><path fill="#9cd26c" d="M615.2 132.6l1-1.8-1.8-1.9-1 1.8z"/><path fill="#60d29c" d="M626.7 135.1l1-2.2-1.8-1.4-1 2.2z"/><path fill="#5ad2a2" d="M638.2 135.1l1-2.3-1.8-1.1-1 2.3z"/><path fill="#69d296" d="M644.7 134.8l.9-2.2-3.2-1.9-.9 2.3z"/><path fill="#5ad2a2" d="M635.1 135l.7-1.6-1.8-1.3-.8 1.6z"/><path fill="#60d29c" d="M641.5 135l.7-1.4-3.2-2.2-.7 1.5z"/><path fill="#dbbd48" d="M606.9 128.5l1-1.3-1.8-1.9-1 1.2z"/><path fill="#78d587" d="M618.3 133.9l1.1-1.9-1.8-1.7-1 1.9z"/><path fill="#57cfa5" d="M629.9 135.4l1-2.1-1.8-1.4-1 2.3z"/><path fill="#8dd578" d="M651.4 132.9l.6-1.5-3.3-1.5-.6 1.6z"/><path fill="#d2c94b" d="M610 130.6l1.1-1.5-1.8-2-1 1.4z"/><path fill="#63d299" d="M621.5 134.9l1.1-2-1.8-1.6-1 2.1z"/><path fill="#54cfab" d="M633 135.7l1.1-2.2-1.8-1.2-1 2.2z"/><path fill="#6cd290" d="M647.9 134.2l.7-1.5-3.3-1.7-.6 1.6z"/><path fill="#a5d263" d="M613.2 132.5l1.1-1.7-1.8-2-1.1 1.7z"/><path fill="#57d2a5" d="M624.7 135.6l1.1-2.1-1.8-1.5-1 2.2z"/><path fill="#54cfab" d="M636.2 135.9l1.1-2.2-1.8-1.2-1 2.3z"/><path fill="#f9d830" d="M598 125.1l1.6-1.3-3.3-.7-1.5 1.1z"/><path fill="#f0cc3c" d="M602.9 127.3l1.8-2.1-1.7-1.5-1.8 1.9z"/><path fill="#7bd584" d="M616.4 134l1.1-1.8-1.8-1.8-1.1 1.8z"/><path fill="#51cfae" d="M627.9 136l1.1-2.1-1.8-1.3-1.1 2.2z"/><path fill="#bad87e" d="M657.5 132.1l.8-2.1-3.1-1.4-.9 2.2z"/><path fill="#93d272" d="M654.3 132.8l.6-1.6-3.2-1.4-.6 1.6z"/><path fill="#d5c348" d="M608.1 130.1l1-1.4-1.7-2-1.1 1.3z"/><path fill="#60d29c" d="M619.6 135.1l1-1.9-1.7-1.6-1.1 1.9z"/><path fill="#4bccb4" d="M631.1 136.3l1-2.1-1.7-1.2-1.1 2.2z"/><path fill="#6fd58d" d="M650.9 134.1l.6-1.5-3.2-1.5-.6 1.6z"/><path fill="#b1cf5d" d="M611.3 132.1l1-1.5-1.8-2-1 1.5z"/><path fill="#54cfa8" d="M622.8 136l1-2-1.8-1.5-1 2z"/><path fill="#4bccb4" d="M634.3 136.6l1-2.2-1.8-1.2-1 2.2z"/><path fill="#4ecfb1" d="M640.8 136.6l.9-2-3.1-2-1 2.1z"/><path fill="#81d581" d="M614.5 133.9l1-1.7-1.8-1.9-1 1.7z"/><path fill="#4eccb1" d="M626 136.5l1-2-1.8-1.4-1 2.1z"/><path fill="#48ccb7" d="M637.5 136.7l1-2.2-1.8-1.1-1 2.2z"/><path fill="#51cfae" d="M644 136.4l.9-2.1-3.2-1.8-.9 2.2z"/><path fill="#e4c048" d="M604.1 128.8l1.9-2.2-1.7-1.8-1.9 2.1z"/><path fill="#cfbd45" d="M606.2 129.4l1-1.2-1.8-2-1 1.1z"/><path fill="#60d29c" d="M617.7 135.3l1-1.8-1.8-1.8-1 1.9z"/><path fill="#45ccba" d="M629.2 136.9l1-2-1.8-1.3-1 2.1z"/><path fill="#57cfa5" d="M647.2 136l.9-2.2-3.2-1.6-.9 2.2z"/><path fill="#c3cc51" d="M609.3 131.7l1.1-1.4-1.8-2.1-1 1.3z"/><path fill="#51cfab" d="M620.8 136.3l1.1-1.9-1.8-1.6-1 2z"/><path fill="#42c9ba" d="M632.4 137.2l1-2.1-1.8-1.2-1 2.2z"/><path fill="#f6d530" d="M599 126.1l1.8-1.7-1.6-1-1.9 1.3z"/><path fill="#8dd578" d="M612.5 133.7l1.1-1.6-1.8-2-1.1 1.5z"/><path fill="#48ccb7" d="M624 137l1.1-2-1.8-1.4-1 2z"/><path fill="#72d58d" d="M653.6 134.6l.9-2.3-3.2-1.3-.9 2.3z"/><path fill="#5dd29f" d="M650.4 135.3l.6-1.5-3.2-1.5-.6 1.6z"/><path fill="#66d299" d="M615.7 135.3l1.1-1.7-1.8-1.9-1.1 1.7z"/><path fill="#3fc9bd" d="M627.2 137.4l1.1-1.9-1.8-1.3-1.1 2z"/><path fill="#90d88a" d="M656.8 133.8l.8-2.2-3.1-1.3-.9 2.2z"/><path fill="#ccc94b" d="M607.4 131.1l1-1.3-1.7-2.2-1.1 1.3z"/><path fill="#51cfae" d="M618.9 136.5l1.1-1.8-1.8-1.7-1.1 1.9z"/><path fill="#39c9c3" d="M630.4 137.7l1-1.9-1.7-1.2-1.1 2z"/><path fill="#39c9c0" d="M636.9 138l.9-1.7-3.1-2.1-1 1.9z"/><path fill="#9cd26c" d="M610.6 133.2l1-1.4-1.7-2.1-1.1 1.4z"/><path fill="#42ccba" d="M622.1 137.3l1-1.8-1.8-1.5-1 1.9z"/><path fill="#36c9c3" d="M633.6 138l1-2-1.8-1.2-1 2.1zM640.1 138.1l.9-1.9-3.1-1.9-1 2z"/><path fill="#f3cf36" d="M600.2 127.3l1.9-1.8-1.7-1.5-1.9 1.6z"/><path fill="#6cd293" d="M613.8 135.1l1-1.6-1.8-1.9-1 1.6z"/><path fill="#36c9c3" d="M625.3 137.9l1-1.9-1.8-1.3-1 1.9z"/><path fill="#3cc9c0" d="M643.3 137.9l.9-1.9-3.2-1.8-.9 2.1z"/><path fill="#c3bd42" d="M605.5 130.3l1-1.1-1.8-2.2-1 1.1z"/><path fill="#51cfab" d="M617 136.5l1-1.7-1.8-1.7-1 1.7z"/><path fill="#30c6c6" d="M628.5 138.3l1-1.9-1.8-1.3-1 2z"/><path fill="#42c9ba" d="M646.5 137.5l.9-2-3.2-1.5-.9 2.1z"/><path fill="#b1cf5d" d="M608.6 132.7l1.1-1.3-1.8-2.2-1 1.3z"/><path fill="#3fc9bd" d="M620.2 137.5l1-1.7-1.8-1.5-1 1.8z"/><path fill="#4eccb1" d="M649.7 137l.9-2.1-3.2-1.4-.9 2.2z"/><path fill="#78d587" d="M611.8 134.8l1.1-1.5-1.8-2-1 1.4z"/><path fill="#33c6c6" d="M623.4 138.2l1-1.7-1.8-1.4-1 1.9z"/><path fill="#f9d830" d="M596.6 126l1.6-1.3-3.2-.9-1.6 1.1z"/><path fill="#57cfa5" d="M652.9 136.2l.9-2.1-3.2-1.3-.9 2.3z"/><path fill="#eac345" d="M601.5 128.7l1.8-1.9-1.6-1.7-1.9 1.7z"/><path fill="#54cfa8" d="M615 136.4l1.1-1.5-1.8-1.9-1.1 1.6z"/><path fill="#2ac6cc" d="M626.5 138.7l1.1-1.8-1.8-1.2-1 1.8z"/><path fill="#2ac3cf" d="M633.1 139.2l.9-1.6-3.2-2.1-.9 1.8z"/><path fill="#6fd5a2" d="M656.1 135.4l.8-2.1-3.1-1.2-.9 2.2z"/><path fill="#c0cc51" d="M606.7 132l1-1.2-1.7-2.2-1.1 1.1z"/><path fill="#42c9ba" d="M618.2 137.7l1.1-1.7-1.8-1.6-1.1 1.7z"/><path fill="#2ac3cf" d="M629.7 139l1.1-1.8-1.8-1.2-1.1 1.9zM636.2 139.3l.9-1.6-3.1-2-.9 1.8z"/><path fill="#8ad57b" d="M609.9 134.3l1-1.4-1.7-2.1-1.1 1.3z"/><path fill="#30c6c9" d="M621.4 138.5l1-1.7-1.8-1.4-1 1.8z"/><path fill="#2ac3cf" d="M639.4 139.3l.9-1.6-3.2-1.8-.9 1.8z"/><path fill="#5ad2a2" d="M613.1 136.2l1-1.5-1.8-1.9-1 1.4z"/><path fill="#2ac3cf" d="M624.6 139.1l1-1.7-1.8-1.3-1 1.8zM642.6 139.2l.9-1.7-3.2-1.7-.9 1.9z"/><path fill="#d5bd48" d="M602.7 130.3l1.9-2-1.7-1.9-1.9 1.8z"/><path fill="#45ccb7" d="M616.3 137.7l1-1.6-1.8-1.7-1 1.6z"/><path fill="#2ac6cc" d="M645.8 139l.9-1.9-3.2-1.5-.9 2z"/><path fill="#9fd269" d="M608 133.6l1-1.2-1.8-2.2-1 1.2z"/><path fill="#30c6c9" d="M619.5 138.7l1-1.6-1.8-1.5-1 1.7z"/><path fill="#f9db30" d="M592.9 125.4l1.4-.7-3.3 1.7-1.4.4z"/><path fill="#36c9c3" d="M649 138.5l.9-2-3.2-1.3-.9 2z"/><path fill="#f6d233" d="M597.6 127.1l1.8-1.5-1.6-1.3-1.9 1.3z"/><path fill="#66d299" d="M611.1 135.8l1.1-1.4-1.8-2-1 1.3z"/><path fill="#2ac3d2" d="M622.7 139.4l1-1.6-1.8-1.4-1 1.8z"/><path fill="#2dc0d8" d="M629.2 140.1l.9-1.5-3.2-2-.9 1.6z"/><path fill="#45ccba" d="M652.2 137.8l.9-2-3.2-1.2-.9 2.1z"/><path fill="#4bccb4" d="M614.3 137.5l1.1-1.4-1.8-1.9-1.1 1.5z"/><path fill="#2dc0d8" d="M625.9 139.9l1-1.7-1.8-1.2-1 1.8z"/><path fill="#30c0d8" d="M632.4 140.3l.9-1.5-3.2-1.9-.9 1.7z"/><path fill="#63d5ba" d="M655.4 137l.9-2-3.2-1.2-.9 2.2z"/><path fill="#b7c045" d="M604 131.9l1.8-2-1.7-2-1.8 1.9z"/><path fill="#30c6c6" d="M617.5 138.8l1.1-1.6-1.8-1.6-1.1 1.6z"/><path fill="#33bddb" d="M635.6 140.4l.8-1.4-3.2-1.8-.8 1.6z"/><path fill="#f0d830" d="M586.7 129.8l1.9-.6-.9 2.5-1.9.6z"/><path fill="#78d587" d="M609.2 135.2l1-1.2-1.7-2.2-1.1 1.2z"/><path fill="#2ac3d2" d="M620.7 139.6l1.1-1.5-1.9-1.4-1 1.6z"/><path fill="#33bddb" d="M638.8 140.5l.8-1.5-3.2-1.7-.9 1.6z"/><path fill="#f0c93c" d="M598.8 128.4l1.9-1.6-1.7-1.6-1.8 1.5z"/><path fill="#51cfae" d="M612.4 137.2l1-1.4-1.8-1.9-1 1.4z"/><path fill="#33bddb" d="M641.9 140.4l.9-1.5-3.2-1.6-.9 1.7z"/><path fill="#39c9c3" d="M615.6 138.7l1-1.4-1.8-1.7-1 1.4z"/><path fill="#30c0d8" d="M645.1 140.2l.9-1.7-3.2-1.3-.9 1.7z"/><path fill="#b1cf5d" d="M605.2 133.6l1.9-2.1-1.7-2.1-1.9 2.1z"/><path fill="#2ac3d2" d="M618.8 139.8l1-1.5-1.8-1.5-1 1.6z"/><path fill="#36bddb" d="M625.3 140.8l.9-1.3-3.2-2.1-.9 1.5z"/><path fill="#2ac3d2" d="M648.3 139.8l.9-1.8-3.2-1.2-.9 1.9z"/><path fill="#5ad2a2" d="M610.5 136.7l1-1.2-1.8-2.1-1 1.3z"/><path fill="#33bddb" d="M622 140.5l1-1.6-1.8-1.2-1 1.6z"/><path fill="#39bae1" d="M628.5 141.1l.9-1.3-3.2-1.9-.9 1.5z"/><path fill="#f9d830" d="M595.2 126.9l1.6-1.2-3.2-1.2-1.6 1.1z"/><path fill="#2ac6cc" d="M651.5 139.3l.9-1.9-3.2-1.2-.9 2z"/><path fill="#e1c048" d="M600.1 129.9l1.8-1.6-1.6-1.9-1.9 1.5z"/><path fill="#3cc9c0" d="M613.6 138.5l1.1-1.4-1.8-1.8-1.1 1.4z"/><path fill="#3cbae1" d="M631.7 141.3l.9-1.3-3.2-1.8-.9 1.5z"/><path fill="#45ccc6" d="M654.7 138.6l.9-2-3.2-1.1-.9 2.1z"/><path fill="#2ac3cf" d="M616.8 139.8l1.1-1.4-1.8-1.6-1.1 1.5z"/><path fill="#3cb7e4" d="M634.9 141.4l.9-1.3-3.3-1.7-.8 1.5z"/><path fill="#8ad57b" d="M606.5 135.3l1.8-2.1-1.7-2.1-1.8 2.1z"/><path fill="#3cb7e4" d="M638.1 141.5l.8-1.3-3.2-1.6-.8 1.5z"/><path fill="#48ccb7" d="M611.7 138.1l1-1.2-1.8-2-1 1.3z"/><path fill="#3cb7e4" d="M641.3 141.5l.8-1.4-3.2-1.5-.9 1.6z"/><path fill="#c3bd42" d="M601.3 131.6l1.9-1.7-1.7-2.1-1.8 1.6z"/><path fill="#2ac3cc" d="M614.9 139.7l1-1.4-1.8-1.7-1 1.4z"/><path fill="#36bade" d="M621.4 141.3l.9-1.2-3.2-2.2-.9 1.3z"/><path fill="#3cb7e1" d="M644.5 141.3l.8-1.5-3.2-1.3-.9 1.6z"/><path fill="#33bddb" d="M618.1 140.7l1-1.4-1.8-1.4-1 1.4z"/><path fill="#3cb7e4" d="M624.6 141.8l.9-1.3-3.2-1.9-.9 1.4z"/><path fill="#f9db30" d="M591.5 126.1l1.4-.7-3.3 1.4-1.4.7z"/><path fill="#39bade" d="M647.7 141l.8-1.6-3.2-1.2-.9 1.7z"/><path fill="#f3cf33" d="M596.2 128.1l1.9-1.4-1.7-1.5-1.9 1.3z"/><path fill="#63d299" d="M607.7 136.9l1.9-2.1-1.7-2.1-1.9 2.2z"/><path fill="#3fb4e7" d="M627.8 142l.9-1.2-3.2-1.7-.9 1.3z"/><path fill="#30c0d8" d="M650.8 140.6l.9-1.8-3.2-1-.9 1.8z"/><path fill="#30c6c6" d="M613 139.4l1-1.3-1.8-1.8-1 1.3z"/><path fill="#42b1e7" d="M631 142.2l.9-1.2-3.3-1.6-.8 1.3z"/><path fill="#39c9d5" d="M654 139.9l.9-1.8-3.3-1-.8 1.9z"/><path fill="#abc34e" d="M602.6 133.3l1.8-1.8-1.6-2.1-1.9 1.7z"/><path fill="#2dc0d8" d="M616.2 140.7l1-1.3-1.8-1.6-1.1 1.4z"/><path fill="#42b1e7" d="M634.2 142.3l.9-1.2-3.3-1.5-.8 1.3zM637.4 142.4l.8-1.2-3.2-1.5-.8 1.4z"/><path fill="#edc642" d="M597.4 129.4l1.9-1.4-1.7-1.8-1.8 1.3z"/><path fill="#4ecfb1" d="M608.9 138.4l1.9-2.1-1.7-2-1.8 2.2z"/><path fill="#42b1e7" d="M640.6 142.4l.8-1.2-3.2-1.4-.9 1.4z"/><path fill="#2ac0d5" d="M614.2 140.5l1-1.2-1.8-1.7-1 1.3z"/><path fill="#3cb7e4" d="M620.7 142.2l.9-1.1-3.2-2.1-.9 1.2z"/><path fill="#42b1e7" d="M643.8 142.3l.8-1.3-3.2-1.2-.9 1.4z"/><path fill="#99d26c" d="M603.8 135l1.9-1.8-1.7-2.2-1.9 1.8z"/><path fill="#39bae1" d="M617.4 141.6l1-1.3-1.8-1.4-1 1.3z"/><path fill="#3fb4e7" d="M647 142.1l.8-1.4-3.2-1.2-.9 1.6z"/><path fill="#45aeea" d="M627.1 142.8l.9-1.1-3.2-1.6-.9 1.3z"/><path fill="#f9d830" d="M593.8 127.7l1.6-1.2-3.2-1.3-1.6 1.1z"/><path fill="#3cb7e1" d="M650.2 141.7l.8-1.5-3.3-1.1-.8 1.7z"/><path fill="#d8bd48" d="M598.7 131l1.8-1.4-1.6-2.1-1.9 1.4z"/><path fill="#39c9c0" d="M610.2 139.7l1.8-2.1-1.6-1.8-1.9 2.2z"/><path fill="#45c3de" d="M653.3 141.2l.9-1.7-3.3-.9-.8 1.7z"/><path fill="#36bade" d="M615.5 141.5l1-1.2-1.8-1.5-1.1 1.2z"/><path fill="#45abea" d="M633.5 143.1l.9-1.1-3.3-1.4-.8 1.3z"/><path fill="#72d58d" d="M605.1 136.7l1.8-1.8-1.7-2.2-1.8 1.8z"/><path fill="#42aeea" d="M623.1 143.4l1.7-2-3.1-1.8-1.7 2.3z"/><path fill="#45abea" d="M639.9 143.2l.8-1.1-3.2-1.2-.8 1.2z"/><path fill="#b7c045" d="M599.9 132.6l1.9-1.4-1.7-2.2-1.8 1.4z"/><path fill="#2ac3d2" d="M611.4 140.9l1.9-2-1.7-1.7-1.8 2.1z"/><path fill="#45abea" d="M629.5 143.8l1.7-2-3.1-1.5-1.7 2.3z"/><path fill="#3fb7e4" d="M616.7 142.3l1-1.1-1.8-1.4-1 1.2z"/><path fill="#f9d830" d="M590.1 126.8l1.4-.7-3.3 1.3-1.4.9z"/><path fill="#45aeea" d="M646.3 143l.8-1.2-3.3-1.1-.8 1.3z"/><path fill="#f3cf36" d="M594.8 128.8l1.9-1.1-1.7-1.6-1.9 1.1z"/><path fill="#54cfa8" d="M606.3 138.3l1.9-1.8-1.7-2.1-1.9 1.8z"/><path fill="#48a8ed" d="M635.9 144l1.6-2-3.1-1.3-1.6 2.2z"/><path fill="#42b1e7" d="M649.5 142.8l.8-1.4-3.3-1-.8 1.4z"/><path fill="#54bde7" d="M652.7 142.3l.8-1.5-3.3-.9-.8 1.6z"/><path fill="#a5c957" d="M601.2 134.4l1.8-1.5-1.6-2.2-1.9 1.4z"/><path fill="#33bddb" d="M612.7 142l1.8-2-1.6-1.5-1.9 2.1z"/><path fill="#42b1e7" d="M619.2 143.7l1.7-1.9-3.1-1.9-1.7 2z"/><path fill="#45a8ed" d="M642.3 144.1l1.6-2.2-3.1-1.2-1.6 2.3z"/><path fill="#eac345" d="M596 130.2l1.9-1.1-1.7-1.9-1.8 1.1z"/><path fill="#42c9bd" d="M607.6 139.7l1.8-1.7-1.7-2-1.8 1.8z"/><path fill="#48a8ed" d="M625.6 144.3l1.7-1.8-3.1-1.5-1.7 2.1z"/><path fill="#8ad578" d="M602.4 136.1l1.9-1.4-1.7-2.3-1.8 1.4z"/><path fill="#3fb7e4" d="M613.9 142.9l1.9-1.9-1.7-1.4-1.8 2z"/><path fill="#48a5f0" d="M632 144.6l1.7-1.9-3.2-1.2-1.6 2z"/><path fill="#f6d830" d="M592.4 128.3l1.6-1-3.2-1.4-1.6 1.1z"/><path fill="#45abea" d="M648.8 143.7l.8-1.3-3.3-.9-.8 1.3z"/><path fill="#d2bd48" d="M597.3 131.8l1.8-1.2-1.6-2.1-1.9 1.2z"/><path fill="#2dc6cc" d="M608.8 141l1.9-1.7-1.7-1.8-1.9 1.8z"/><path fill="#48a5f0" d="M638.4 144.7l1.6-1.8-3.1-1.2-1.6 2z"/><path fill="#57b7ea" d="M652 143.3l.8-1.3-3.3-.9-.8 1.4z"/><path fill="#63d299" d="M603.7 137.8l1.8-1.5-1.6-2.2-1.9 1.5z"/><path fill="#42b1e7" d="M615.2 143.7l1.8-1.9-1.6-1.2-1.9 2z"/><path fill="#48a8ed" d="M621.8 144.7l1.6-1.7-3.1-1.6-1.7 1.9z"/><path fill="#48a5ed" d="M644.8 144.7l1.6-2.1-3.1-1-1.7 2.2z"/><path fill="#b4c045" d="M598.5 133.5l1.9-1.2-1.7-2.2-1.8 1.1z"/><path fill="#30bdd8" d="M610 142.2l1.9-1.7-1.7-1.7-1.8 1.8z"/><path fill="#4ba2f0" d="M628.2 145.1l1.6-1.7-3.2-1.3-1.6 1.9z"/><path fill="#f9d830" d="M588.7 127.5l1.4-.7-3.3 1.4-1.4 1.2z"/><path fill="#f0cf39" d="M593.4 129.5l1.9-1-1.7-1.7-1.9 1.1z"/><path fill="#4ecfb1" d="M604.9 139.4l1.9-1.5-1.7-2.1-1.9 1.5z"/><path fill="#4ba2f0" d="M634.5 145.3l1.7-1.7-3.2-1.2-1.6 1.9z"/><path fill="#48a8ed" d="M651.3 144.2l.8-1.2-3.3-.8-.8 1.2z"/><path fill="#a2cc5d" d="M599.8 135.2l1.8-1.1-1.6-2.4-1.9 1.2z"/><path fill="#3cb7e4" d="M611.3 143.2l1.9-1.7-1.7-1.5-1.9 1.8z"/><path fill="#45a8ed" d="M617.9 144.9l1.6-1.6-3.1-1.8-1.7 1.8z"/><path fill="#4ba2f0" d="M640.9 145.4l1.6-1.8-3.1-1.1-1.6 1.9z"/><path fill="#e7c348" d="M594.6 130.8l1.9-.9-1.6-2-1.9 1z"/><path fill="#36c9c3" d="M606.2 140.8l1.8-1.5-1.6-1.9-1.9 1.5z"/><path fill="#4ba2f3" d="M624.3 145.5l1.6-1.6-3.1-1.3-1.7 1.8z"/><path fill="#48a5f0" d="M647.3 145.3l1.6-2-3.1-1-1.7 2.1z"/><path fill="#81d581" d="M601 137l1.9-1.2-1.7-2.3-1.8 1.1z"/><path fill="#4b9ff3" d="M630.7 145.7l1.6-1.6-3.2-1.1-1.6 1.7z"/><path fill="#f6d830" d="M591.1 128.9l1.5-.9-3.2-1.4-1.5 1.1z"/><path fill="#cfbd48" d="M595.9 132.4l1.8-.9-1.6-2.2-1.8.9z"/><path fill="#2ac3d2" d="M607.4 142.1l1.9-1.5-1.7-1.8-1.9 1.5z"/><path fill="#45aeea" d="M614 144.8l1.6-1.5-3.1-2.2-1.6 1.6z"/><path fill="#4b9ff3" d="M637 145.9l1.7-1.6-3.2-1.1-1.6 1.7z"/><path fill="#5ad29f" d="M602.3 138.6l1.8-1.1-1.6-2.3-1.9 1.2z"/><path fill="#4ba2f0" d="M620.4 145.8l1.6-1.5-3.1-1.4-1.7 1.6z"/><path fill="#4b9ff3" d="M643.4 145.9l1.6-1.7-3.1-.9-1.6 1.7z"/><path fill="#b1c048" d="M597.1 134.1l1.9-.9-1.7-2.3-1.8.9z"/><path fill="#39bade" d="M608.6 143.2l1.9-1.4-1.6-1.7-1.9 1.5z"/><path fill="#4b9cf6" d="M626.8 146.1l1.6-1.5-3.2-1.1-1.6 1.6z"/><path fill="#54a8f3" d="M649.8 145.8l1.6-2-3.2-.8-1.6 2z"/><path fill="#f0cf39" d="M592 130l1.9-.9-1.7-1.6-1.8.9z"/><path fill="#48ccb7" d="M603.5 140.2l1.9-1.2-1.7-2.1-1.8 1.2z"/><path fill="#4e9cf6" d="M633.2 146.3l1.6-1.5-3.2-1-1.6 1.6z"/><path fill="#f9db30" d="M586.8 128.8l1.9-1.3-1.6-.2-1.8 1.7z"/><path fill="#a2cf63" d="M598.4 135.8l1.8-.8-1.6-2.4-1.8.9z"/><path fill="#3fb4e7" d="M609.9 144.2l1.9-1.4-1.7-1.5-1.9 1.5z"/><path fill="#48a5f0" d="M616.5 145.9l1.6-1.4-3.1-1.7-1.6 1.6z"/><path fill="#4e9cf6" d="M639.6 146.4l1.5-1.5-3.1-.9-1.6 1.5z"/><path fill="#e7c348" d="M593.3 131.3l1.8-.8-1.6-1.9-1.9.8z"/><path fill="#30c6c6" d="M604.8 141.7l1.8-1.2-1.6-2-1.9 1.2z"/><path fill="#4b9cf6" d="M622.9 146.5l1.6-1.4-3.2-1.2-1.6 1.5zM645.9 146.4l1.6-1.6-3.2-.9-1.6 1.7z"/><path fill="#7ed584" d="M599.6 137.6l1.9-.9-1.7-2.4-1.8.9z"/><path fill="#4e9cf6" d="M629.3 146.7l1.6-1.4-3.2-1-1.6 1.5z"/><path fill="#f6d830" d="M589.7 129.3l1.5-.8-3.2-1.2-1.5 1.1z"/><path fill="#d5bd48" d="M594.5 132.8l1.8-.7-1.6-2.1-1.8.7z"/><path fill="#2dc0d8" d="M606 142.9l1.9-1.2-1.7-1.8-1.8 1.2z"/><path fill="#45abea" d="M612.6 145.7l1.7-1.3-3.2-2-1.6 1.3z"/><path fill="#4e99f6" d="M635.7 146.8l1.6-1.4-3.2-.9-1.6 1.5z"/><path fill="#5dd29f" d="M600.9 139.3l1.8-.9-1.6-2.3-1.8.9z"/><path fill="#4b9cf6" d="M619 146.7l1.6-1.3-3.1-1.3-1.6 1.4z"/><path fill="#4e99f6" d="M642.1 146.9l1.5-1.4-3.2-.9-1.5 1.5z"/><path fill="#b7bd45" d="M595.8 134.5l1.8-.7-1.6-2.3-1.9.7z"/><path fill="#3cbae1" d="M607.3 144.1l1.8-1.3-1.6-1.6-1.9 1.2z"/><path fill="#4e99f6" d="M625.4 147l1.6-1.3-3.2-1-1.6 1.4z"/><path fill="#57a2f6" d="M648.4 146.9l1.6-1.6-3.2-.8-1.6 1.6z"/><path fill="#f0d236" d="M590.6 130.4l1.9-.8-1.7-1.5-1.8.8z"/><path fill="#48ccb7" d="M602.1 140.8l1.9-.9-1.7-2.1-1.8.8z"/><path fill="#4e99f9" d="M631.8 147.2l1.6-1.3-3.2-.9-1.6 1.3z"/><path fill="#fce775" d="M585.1 129l2.2-.8-1.5.2-1.9 2z"/><path fill="#a5cc5d" d="M597 136.2l1.8-.6-1.6-2.4-1.8.6z"/><path fill="#42b1e7" d="M608.5 145l1.9-1.2-1.7-1.5-1.9 1.3z"/><path fill="#4ba2f3" d="M615.1 146.8l1.6-1.3-3.1-1.5-1.6 1.3z"/><path fill="#4e99f9" d="M638.2 147.3l1.6-1.3-3.3-.9-1.5 1.4z"/><path fill="#eac942" d="M591.9 131.6l1.8-.6-1.6-1.9-1.9.7z"/><path fill="#2dc6c9" d="M603.4 142.3l1.8-1-1.6-2-1.9.9z"/><path fill="#4e99f9" d="M621.5 147.3l1.6-1.2-3.2-1.1-1.6 1.4zM644.6 147.4l1.5-1.4-3.2-.8-1.5 1.4z"/><path fill="#9fbaff" d="M559.1 147.9l1.4.3-3.4-1.1-1.4-.1z"/><path fill="#81d581" d="M598.2 137.9l1.9-.6-1.6-2.4-1.9.6z"/><path fill="#4e99f9" d="M627.9 147.5l1.6-1.2-3.2-.9-1.6 1.3z"/><path fill="#f6d830" d="M588.4 129.8l1.5-.8-3.3-.9-1.5 1z"/><path fill="#dbbd4b" d="M593.1 133l1.8-.4-1.6-2.2-1.8.6z"/><path fill="#2dc0d8" d="M604.6 143.6l1.9-1-1.7-1.8-1.8.9z"/><path fill="#48a8ed" d="M611.2 146.5l1.7-1.1-3.2-2-1.6 1.1z"/><path fill="#4e99f9" d="M634.3 147.6l1.6-1.2-3.2-.9-1.6 1.4z"/><path fill="#60d29c" d="M599.5 139.6l1.8-.6-1.6-2.3-1.8.6z"/><path fill="#4e9cf6" d="M617.7 147.5l1.5-1.2-3.1-1.2-1.6 1.3z"/><path fill="#4e96f9" d="M640.7 147.8l1.5-1.3-3.2-.8-1.5 1.3z"/><path fill="#bdba45" d="M594.4 134.6l1.8-.4-1.6-2.3-1.8.5z"/><path fill="#3cbae1" d="M605.9 144.7l1.8-1-1.6-1.7-1.9 1z"/><path fill="#4e96f9" d="M624.1 147.9l1.5-1.3-3.2-.9-1.6 1.3z"/><path fill="#60a2f9" d="M647.1 147.8l1.5-1.3-3.2-.8-1.6 1.4z"/><path fill="#6393ff" d="M561.6 148.3l1.4.6-3.4-.9-1.4-.4z"/><path fill="#f0d533" d="M589.2 130.7l1.9-.7-1.6-1.4-1.9.8z"/><path fill="#4bccb4" d="M600.7 141.2l1.9-.6-1.7-2.2-1.8.6z"/><path fill="#4e96f9" d="M630.4 148l1.6-1.2-3.2-.9-1.6 1.3z"/><path fill="#aec954" d="M595.6 136.3l1.8-.3-1.6-2.4-1.8.4z"/><path fill="#42b1e7" d="M607.1 145.7l1.9-1.1-1.7-1.4-1.8 1z"/><path fill="#579cf9" d="M558.4 146.9l.7 1-3.4-.7-.7-.8z"/><path fill="#4b9ff3" d="M613.8 147.6l1.6-1.2-3.2-1.5-1.6 1.2z"/><path fill="#4e96f9" d="M636.8 148.1l1.6-1.2-3.3-.8-1.5 1.2z"/><path fill="#eacc3f" d="M590.5 131.8l1.8-.5-1.6-1.8-1.9.6z"/><path fill="#30c6c6" d="M602 142.7l1.8-.7-1.6-2.1-1.8.7z"/><path fill="#4e99f9" d="M620.2 148.1l1.5-1.1-3.2-1-1.5 1.2z"/><path fill="#4e96f9" d="M643.2 148.2l1.5-1.2-3.2-.8-1.5 1.3z"/><path fill="#93d272" d="M596.9 138l1.8-.3-1.6-2.4-1.8.3z"/><path fill="#ffffff" d="M584.4 130l.7-.7-1.5 1.2-.6 1.1z"/><path fill="#4e96f9" d="M626.6 148.3l1.5-1.2-3.2-.8-1.6 1.2z"/><path fill="#4e81ff" d="M564.1 148.6l1.4.6-3.4-.4-1.4-.6z"/><path fill="#f6d830" d="M587 130.5l1.5-1.1-3.3-.7-1.5 1.8z"/><path fill="#dec04e" d="M591.7 133.1l1.9-.3-1.7-2.1-1.8.5z"/><path fill="#2dc0d5" d="M603.2 144l1.9-.7-1.7-1.9-1.8.7z"/><path fill="#48a8ed" d="M609.8 147.2l1.7-1-3.2-2-1.6.9z"/><path fill="#4e96f9" d="M632.9 148.4l1.6-1.1-3.2-.8-1.6 1.2z"/><path fill="#ffffff" d="M570.4 148.8l1.4-1.1-3.3.7-1.4.8z"/><path fill="#6cd290" d="M598.1 139.7l1.8-.3-1.6-2.4-1.8.4z"/><path fill="#3f8af9" d="M560.9 147.2l.6 1.3-3.3-.7-.7-1z"/><path fill="#4e99f6" d="M616.3 148.3l1.6-1.1-3.2-1.2-1.6 1.2z"/><path fill="#4e96f9" d="M639.3 148.5l1.6-1.1-3.3-.8-1.5 1.2z"/><path fill="#c6ba48" d="M593 134.6l1.8-.2-1.6-2.3-1.8.4z"/><path fill="#39bae1" d="M604.5 145.2l1.8-.8-1.6-1.7-1.9.7z"/><path fill="#4e96f9" d="M622.7 148.6l1.5-1.1-3.2-.9-1.6 1.2z"/><path fill="#5d9ff9" d="M645.7 148.6l1.5-1.2-3.2-.7-1.5 1.2z"/><path fill="#ffffff" d="M583.7 130.8l.7-.8-1.5 1.5-.6 1.1z"/><path fill="#f0d830" d="M587.8 131l1.9-.7-1.6-1.2-1.9 1.1z"/><path fill="#51cfab" d="M599.3 141.3l1.9-.3-1.6-2.3-1.9.3z"/><path fill="#4e96f9" d="M629.1 148.8l1.5-1.2-3.2-.8-1.6 1.2z"/><path fill="#81a8ff" d="M566.5 148.5l1.5.6-3.4.2-1.4-.7z"/><path fill="#b7c04b" d="M594.2 136.2l1.8-.1-1.6-2.4-1.8.2z"/><path fill="#42b1e7" d="M605.7 146.2l1.9-.9-1.7-1.5-1.8.8z"/><path fill="#4b9ff3" d="M612.4 148.2l1.6-1-3.2-1.5-1.6 1z"/><path fill="#4e96f9" d="M635.4 148.9l1.6-1.2-3.3-.7-1.5 1.1z"/><path fill="#4b9cf6" d="M560.1 145.5l.7 2-3.2-.3-.8-1.8z"/><path fill="#edd239" d="M589.1 131.9l1.8-.4-1.6-1.7-1.9.7z"/><path fill="#39c9c3" d="M600.6 142.8l1.8-.4-1.6-2.1-1.8.4z"/><path fill="#3684f9" d="M563.3 147.4l.7 1.4-3.3-.4-.7-1.2z"/><path fill="#4e96f9" d="M618.8 148.9l1.5-1.1-3.2-1-1.5 1.2zM641.8 149l1.6-1.2-3.3-.7-1.5 1.1z"/><path fill="#a5d263" d="M595.5 137.9l1.8-.1-1.6-2.4-1.8.1z"/><path fill="#fff0cf" d="M583 131.7l.7-.9-1.5 1.7-.5 1.2z"/><path fill="#4e96f9" d="M625.2 149.1l1.5-1.2-3.2-.7-1.6 1.1z"/><path fill="#f6d830" d="M585.7 130.9l1.4-.8-3.3-.1-1.4 2.3z"/><path fill="#e4c348" d="M590.3 133.1l1.9-.2-1.6-2-1.9.4z"/><path fill="#2ac3d2" d="M601.8 144.2l1.9-.5-1.6-1.9-1.9.4z"/><path fill="#45abea" d="M608.5 147.7l1.6-.8-3.2-2.1-1.6.8z"/><path fill="#4e96f9" d="M631.6 149.2l1.5-1.1-3.2-.8-1.6 1.2z"/><path fill="#518dfc" d="M569 148.2l1.4.5-3.3.6-1.4-.7z"/><path fill="#7bd584" d="M596.7 139.6l1.8-.1-1.6-2.4-1.8.1z"/><path fill="#4e99f6" d="M614.9 149l1.6-1.1-3.2-1.1-1.6 1.1z"/><path fill="#4e96f9" d="M637.9 149.3l1.6-1.1-3.3-.8-1.5 1.2z"/><path fill="#338af3" d="M562.6 145.5l.7 2.3-3.2-.2-.8-2.1z"/><path fill="#d2ba4e" d="M591.6 134.5l1.8-.1-1.6-2.2-1.8.2z"/><path fill="#36bddb" d="M603.1 145.4l1.8-.5-1.6-1.8-1.8.5z"/><path fill="#3681f9" d="M565.8 147.3l.7 1.5-3.3 0-.7-1.4z"/><path fill="#4e96f9" d="M621.3 149.4l1.5-1.1-3.2-.9-1.5 1.2z"/><path fill="#5a9cfc" d="M644.3 149.4l1.5-1.2-3.2-.7-1.5 1.2z"/><path fill="#ffffff" d="M582.3 132.8l.7-1.1-1.4 1.9-.6 1.4z"/><path fill="#5ad2a2" d="M598 141.2l1.8-.1-1.6-2.3-1.8.1z"/><path fill="#4e96f9" d="M627.7 149.5l1.5-1.1-3.2-.8-1.6 1.2z"/><path fill="#f0d833" d="M588 132l1.6-.4-3.2-1.8-1.6 1.1z"/><path fill="#c0ba48" d="M592.8 136l1.8 0-1.5-2.3-1.9.1z"/><path fill="#4e96f9" d="M634.1 149.6l1.5-1.1-3.3-.7-1.5 1.1z"/><path fill="#48ccb7" d="M599.2 142.8l1.8-.2-1.6-2.2-1.8.1z"/><path fill="#4e96f9" d="M640.4 149.7l1.6-1.1-3.3-.7-1.5 1.1z"/><path fill="#bacf57" d="M594.1 137.6l1.8.1-1.6-2.4-1.8 0z"/><path fill="#3681fc" d="M568.3 147.1l.7 1.4-3.2.4-.8-1.5z"/><path fill="#4e96f9" d="M623.8 149.8l1.5-1.1-3.2-.8-1.5 1.2z"/><path fill="#f9d533" d="M585 131.4l.7-.6-2-.3-.8 1.4z"/><path fill="#e4cc3f" d="M588.9 133l1.9-.2-1.6-1.8-1.9.5z"/><path fill="#30c6c9" d="M600.4 144.2l1.9-.2-1.6-2.1-1.9.2z"/><path fill="#4e93fc" d="M630.2 149.9l1.5-1.1-3.2-.7-1.6 1.1z"/><path fill="#90d575" d="M595.3 139.2l1.8.2-1.6-2.4-1.7-.1z"/><path fill="#4e93fc" d="M636.6 150l1.5-1.1-3.3-.7-1.5 1.1z"/><path fill="#dec04e" d="M590.2 134.2l1.8 0-1.6-2-1.8.2z"/><path fill="#4e96f9" d="M619.9 150.1l1.5-1.1-3.2-.8-1.5 1.1z"/><path fill="#609ffc" d="M642.9 150.1l1.6-1.1-3.3-.7-1.5 1.1z"/><path fill="#f9cc36" d="M584.2 131.4l.7-.4-2 .5-.6 1.4z"/><path fill="#69d293" d="M596.6 140.8l1.8.2-1.6-2.3-1.8-.2z"/><path fill="#4e93fc" d="M626.3 150.2l1.5-1.1-3.2-.7-1.6 1.1z"/><path fill="#f0d833" d="M586.7 132.3l1.5-.6-3.3-1.1-1.5 1z"/><path fill="#ccb74b" d="M591.4 135.6l1.8.2-1.5-2.2-1.9-.1z"/><path fill="#b7ead8" d="M554.2 140.3l.7-.6-3.3 1.8-.7.6z"/><path fill="#4e93fc" d="M632.7 150.3l1.5-1.1-3.3-.7-1.5 1.1z"/><path fill="#54cfa8" d="M597.8 142.4l1.8.2-1.6-2.3-1.8-.2z"/><path fill="#4e93fc" d="M639 150.4l1.6-1.1-3.3-.7-1.5 1.1z"/><path fill="#c9c34b" d="M592.7 137.1l1.8.3-1.6-2.3-1.8-.2z"/><path fill="#4e93fc" d="M622.4 150.5l1.5-1.1-3.2-.7-1.5 1.1z"/><path fill="#f9cc36" d="M583.6 132.5l.6-1.2-1.4.5-.8 1.7z"/><path fill="#e4d239" d="M587.5 133.1l1.9-.4-1.6-1.5-1.9.7z"/><path fill="#4e93fc" d="M628.8 150.6l1.5-1.1-3.2-.7-1.6 1.1z"/><path fill="#57cfae" d="M553.5 142.2l.6-2-3.3 1.6-.6 1.7z"/><path fill="#aecf5d" d="M593.9 138.6l1.8.5-1.5-2.4-1.8-.4z"/><path fill="#9fe1ae" d="M556.7 139.2l.7-.7-3.4 1.6-.6.6z"/><path fill="#4e93fc" d="M635.2 150.7l1.5-1-3.3-.7-1.5 1z"/><path fill="#e1cc45" d="M588.8 134l1.8 0-1.6-1.8-1.8.2z"/><path fill="#609ffc" d="M641.5 150.8l1.6-1-3.3-.7-1.5 1z"/><path fill="#8ad57b" d="M595.2 140.2l1.7.5-1.5-2.4-1.8-.4z"/><path fill="#fce19f" d="M582.9 133.2l.5-1.2-1.3.8-.7 1.9z"/><path fill="#4e93fc" d="M624.9 150.9l1.5-1-3.2-.8-1.5 1.1z"/><path fill="#57cfc3" d="M553.1 143.7l.3-1.9-3.3 1.4-.3 1.6z"/><path fill="#f0d833" d="M585.3 132.9l1.5-1-3.2-.7-1.5 2.3z"/><path fill="#d8ba51" d="M590 135.1l1.9.3-1.6-2.1-1.9 0z"/><path fill="#4e93fc" d="M631.3 151l1.5-1-3.2-.7-1.6 1z"/><path fill="#54cc84" d="M556 141.3l.6-2.3-3.3 1.3-.6 2.1z"/><path fill="#6fd590" d="M596.4 141.8l1.8.4-1.5-2.3-1.8-.4z"/><path fill="#9cc948" d="M559.2 138.5l.7-.8-3.4 1.1-.6.7z"/><path fill="#4e93fc" d="M637.7 151.1l1.5-1-3.3-.7-1.5 1z"/><path fill="#42c9cf" d="M552.6 145.4l.4-2.1-3.3 1.1-.4 1.7z"/><path fill="#cfb74e" d="M591.3 136.5l1.8.4-1.6-2.2-1.8-.3z"/><path fill="#4e93fc" d="M621 151.2l1.6-1-3.3-.8-1.5 1.1zM627.4 151.3l1.5-1-3.2-.7-1.6 1z"/><path fill="#3cc99f" d="M555.7 142.5l.2-1.6-3.3 1.1-.2 1.4z"/><path fill="#e1d539" d="M587.8 133.7l1.5 0-3.2-2.1-1.6 1.1z"/><path fill="#d2c94b" d="M592.5 137.9l1.8.6-1.5-2.3-1.8-.5z"/><path fill="#69cfe4" d="M552.1 147l.4-2.1-3.3.8-.4 1.7z"/><path fill="#4e93fc" d="M633.8 151.4l1.5-1-3.3-.7-1.5 1.1z"/><path fill="#f3d233" d="M583.3 132.7l.8-.5-2.1 1.1-.5 1.3z"/><path fill="#78cc66" d="M558.4 140.8l.7-2.6-3.2.9-.7 2.3z"/><path fill="#39c6b4" d="M555.3 143.9l.3-1.8-3.3 1-.3 1.5z"/><path fill="#b7c636" d="M561.7 138.1l.7-.9-3.4.6-.7.9z"/><path fill="#609ffc" d="M640.2 151.5l1.5-1-3.3-.7-1.5 1.1z"/><path fill="#b1cf5d" d="M593.7 139.4l1.8.7-1.5-2.3-1.8-.6z"/><path fill="#4e93fc" d="M623.5 151.6l1.5-1-3.2-.7-1.5 1z"/><path fill="#eddb33" d="M584.6 133.4l.8-.7-2-.5-.8.8z"/><path fill="#30c6c6" d="M554.9 145.4l.4-1.9-3.3.7-.3 1.6z"/><path fill="#dec948" d="M588.6 134.7l1.9.2-1.6-1.8-1.9.1z"/><path fill="#4e93fc" d="M629.9 151.7l1.5-1-3.2-.7-1.6 1.1z"/><path fill="#51cc87" d="M558.1 142.1l.3-1.8-3.3.7-.3 1.6z"/><path fill="#90d575" d="M595 140.9l1.8.8-1.5-2.4-1.8-.6z"/><path fill="#4e93fc" d="M636.3 151.8l1.5-1-3.3-.7-1.5 1.1z"/><path fill="#57cfdb" d="M554.6 146.8l.3-1.8-3.3.4-.3 1.6z"/><path fill="#96c94e" d="M560.9 140.7l.7-2.9-3.2.4-.7 2.6z"/><path fill="#36c69f" d="M557.8 143.7l.3-2-3.3.5-.3 1.8z"/><path fill="#dbba54" d="M589.8 135.8l1.9.5-1.5-2-1.9-.3z"/><path fill="#ccc32d" d="M564.2 138.2l.7-1.1-3.4.1-.7 1z"/><path fill="#edd833" d="M584 133.6l.7-.6-2-.4-.8 1.2z"/><path fill="#4e93fc" d="M626 152l1.5-1-3.2-.7-1.5 1z"/><path fill="#27c0b7" d="M557.4 145.3l.4-2.1-3.3.4-.4 1.8z"/><path fill="#e4d839" d="M586.4 134.1l1.5-.7-3.2-1-1.6 1z"/><path fill="#e1bd51" d="M591.1 137.1l1.8.7-1.5-2.2-1.8-.5z"/><path fill="#4e93fc" d="M632.4 152.2l1.5-1.1-3.2-.7-1.6 1.1z"/><path fill="#69cc72" d="M560.6 142.1l.3-2-3.2.2-.4 1.9z"/><path fill="#609ffc" d="M638.8 152.3l1.5-1.1-3.3-.7-1.5 1.1z"/><path fill="#36bdd2" d="M557.1 146.8l.3-2-3.3.2-.3 1.8z"/><path fill="#a8c942" d="M563.3 140.8l.8-3-3.1-.1-.8 2.9z"/><path fill="#45c990" d="M560.2 143.8l.4-2.2-3.3.1-.3 2z"/><path fill="#cfcc4b" d="M592.3 138.4l1.9.9-1.5-2.3-1.9-.7z"/><path fill="#d5c336" d="M566.6 138.7l.8-1.3-3.3-.4-.8 1.1z"/><path fill="#4e93fc" d="M622.1 152.3l1.6-1-3.3-.7-1.5 1z"/><path fill="#dbd53f" d="M587.1 134.4l2 0-1.6-1.5-1.9.9z"/><path fill="#4e93fc" d="M628.5 152.4l1.5-1-3.2-.7-1.5 1.1z"/><path fill="#30c3ab" d="M559.9 145.5l.4-2.2-3.3-.1-.4 2.1z"/><path fill="#f3d533" d="M582 134.5l2-1.3-1.6 0-1.9 1.8z"/><path fill="#abd260" d="M593.5 139.9l1.9.9-1.5-2.3-1.8-.8z"/><path fill="#4e93fc" d="M634.9 152.6l1.5-1.1-3.3-.7-1.5 1.1z"/><path fill="#72cc69" d="M563.1 142.3l.4-2.1-3.3-.2-.4 2z"/><path fill="#dbcc45" d="M588.2 134.9l2.1.7-1.5-1.8-1.9.1z"/><path fill="#24b4cc" d="M559.5 147.1l.4-2.1-3.2-.2-.4 2z"/><path fill="#abc63f" d="M565.8 141.3l.8-3.1-3.1-.5-.8 3z"/><path fill="#48cc8d" d="M562.7 144.1l.4-2.3-3.2-.3-.4 2.2z"/><path fill="#cfc02d" d="M569.1 139.5l.8-1.4-3.3-.9-.8 1.3z"/><path fill="#4e93fc" d="M624.6 152.7l1.5-1-3.2-.7-1.5 1z"/><path fill="#e4d839" d="M585 134.8l1.5-1-3.2-.7-1.6 1.1z"/><path fill="#dbbd54" d="M589.5 136.1l2 .8-1.4-1.9-1.9-.6z"/><path fill="#4e93fc" d="M631 152.9l1.5-1.1-3.2-.7-1.6 1.1z"/><path fill="#30c3ab" d="M562.3 145.9l.5-2.3-3.3-.4-.4 2.2z"/><path fill="#5d9cfc" d="M637.4 153l1.5-1.1-3.3-.7-1.5 1.1z"/><path fill="#78cc66" d="M565.5 142.8l.5-2.1-3.3-.6-.4 2.1z"/><path fill="#eac054" d="M590.8 137.2l2 1.1-1.4-2.1-1.9-.8z"/><path fill="#21b4c9" d="M562 147.6l.4-2.2-3.2-.5-.4 2.1z"/><path fill="#a8c942" d="M568.3 142l.8-3-3.1-1-.9 3.1z"/><path fill="#4bcc8a" d="M565.2 144.6l.4-2.3-3.2-.6-.5 2.3z"/><path fill="#c6c330" d="M571.5 140.4l.9-1.5-3.3-1-.8 1.3z"/><path fill="#4e93fc" d="M627.1 153.1l1.5-1-3.2-.7-1.5 1.1z"/><path fill="#f9db2d" d="M580.4 135l2.2-1.1-1.3.6-2.2 1.2z"/><path fill="#dbd53f" d="M587.5 135.2l1.5-.5-3.2-1.2-1.6 1z"/><path fill="#4e93fc" d="M633.5 153.3l1.5-1.1-3.2-.7-1.6 1.1z"/><path fill="#30c3ab" d="M564.8 146.4l.5-2.3-3.3-.7-.4 2.3z"/><path fill="#75cc69" d="M568 143.5l.5-2-3.3-1-.4 2.1z"/><path fill="#4e93fc" d="M623.2 153.4l1.6-1-3.3-.7-1.5 1z"/><path fill="#1bb1c9" d="M564.5 148.1l.4-2.2-3.2-.7-.4 2.2z"/><path fill="#c3c330" d="M574.3 140.3l.6-1.2-3.4-.4-.5.9z"/><path fill="#9fc948" d="M570.7 142.9l.9-3-3.1-1.1-.9 3z"/><path fill="#dbbd30" d="M576.8 138.8l1.8-2.3-1.1 1.7-2.2 1z"/><path fill="#e7d836" d="M583.6 135.6l1.5-1.1-3.2-.7-1.6 1.1z"/><path fill="#dbd53f" d="M588 135.3l2.2.6-1.6-1.7-1.9.7z"/><path fill="#48c98d" d="M567.6 145.2l.5-2.2-3.2-.8-.5 2.2z"/><path fill="#4e93fc" d="M629.6 153.6l1.5-1.1-3.2-.7-1.5 1.1z"/><path fill="#69a2fc" d="M636 153.7l1.5-1.1-3.3-.7-1.5 1.1z"/><path fill="#2dc0ab" d="M567.3 147l.5-2.3-3.2-.8-.5 2.3z"/><path fill="#abc63f" d="M573.8 141.7l.6-1.8-3.3-.7-.5 1.7z"/><path fill="#f9c03f" d="M578.1 138l1.7-2.9-1.4 1.3-1.8 2.3z"/><path fill="#d5d545" d="M589.5 135.1l1.9 2.1-1.4-1.9-2-.4z"/><path fill="#66c972" d="M570.5 144.4l.5-2-3.3-1.1-.4 2z"/><path fill="#ffffff" d="M595.6 142.2l2.1 1.9-1.1-1.7-2.1-1.8z"/><path fill="#4e93fc" d="M625.7 153.8l1.6-1-3.3-.7-1.5 1z"/><path fill="#1eabcf" d="M567 148.7l.4-2.2-3.2-.8-.5 2.3z"/><path fill="#ccc030" d="M576.9 139.7l.4-1.5-3.3.9-.5 1.1z"/><path fill="#fccf36" d="M579.3 137l1.8-2.5-1.5.5-1.7 2.9z"/><path fill="#dbd53f" d="M586.1 136l1.5-1.1-3.2-.7-1.6 1.1z"/><path fill="#3fc693" d="M570.1 146l.5-2.1-3.2-1-.5 2.2z"/><path fill="#4e93fc" d="M632.1 154l1.5-1.1-3.2-.7-1.6 1.1z"/><path fill="#81c95d" d="M573.3 143.5l.6-2.3-3.2-.8-.6 2.3z"/><path fill="#2ac0ae" d="M569.8 147.6l.5-2.1-3.3-.9-.4 2.2z"/><path fill="#aec33c" d="M576.4 141.4l.4-2-3.2.4-.5 1.8z"/><path fill="#4e93fc" d="M621.9 154.1l1.5-1-3.3-.7-1.5.9z"/><path fill="#57c97e" d="M573 145l.5-2-3.3-.8-.4 2z"/><path fill="#edd833" d="M582.3 136.1l1.4-1-3.2-.6-1.5 2.3z"/><path fill="#4e93fc" d="M628.2 154.2l1.5-1-3.2-.7-1.5 1z"/><path fill="#1babcf" d="M569.5 149.2l.4-2-3.2-.9-.5 2.2z"/><path fill="#eabd39" d="M579.4 138l.3-1.7-3.2 2.2-.4 1.4z"/><path fill="#d8d545" d="M588.6 136.3l1.5-.7-3.2-1-1.6 1.1z"/><path fill="#39c69c" d="M572.6 146.5l.5-2-3.2-.8-.5 2.1z"/><path fill="#639ffc" d="M634.6 154.3l1.5-1-3.2-.7-1.6 1.1z"/><path fill="#84c95a" d="M575.9 143.4l.5-2.5-3.3.2-.5 2.3z"/><path fill="#27bdb4" d="M572.3 148.1l.5-2-3.3-.8-.4 2.2z"/><path fill="#cfbd36" d="M578.9 140l.3-2.3-3.2 1.9-.3 1.9z"/><path fill="#4e93fc" d="M624.3 154.5l1.6-1-3.3-.7-1.5 1z"/><path fill="#5dc978" d="M575.5 144.9l.4-2-3.2 0-.4 2z"/><path fill="#f6c636" d="M580.6 137.2l.3-1.8-1.9.9-.3 2.1z"/><path fill="#dbd53f" d="M584.7 136.7l1.5-1.1-3.2-.7-1.6 1.1z"/><path fill="#d8d248" d="M589.2 136.6l2.1.3-1.6-1.8-1.9.9z"/><path fill="#6fd8cc" d="M600.6 147.1l2.1 1.7-1.3-1-2-1.9z"/><path fill="#4e93fc" d="M630.7 154.6l1.5-1-3.2-.7-1.5 1.1z"/><path fill="#21bacc" d="M572 149.6l.4-2-3.2-.6-.5 2.1z"/><path fill="#3cc699" d="M575.2 146.5l.4-2.1-3.3 0-.4 2z"/><path fill="#a2c345" d="M578.4 142.1l.4-2.6-3.2 1.6-.4 2.3z"/><path fill="#e7d536" d="M581.9 136.1l.4-.3-1.9-.4-.5 2z"/><path fill="#e4bd42" d="M580 139.2l.4-2.5-1.8 1.1-.4 2.5z"/><path fill="#dbd248" d="M590.7 136l1.8 2.3-1.4-2-2-.2z"/><path fill="#33c3b4" d="M574.8 148l.4-2-3.2 0-.4 2z"/><path fill="#6ccf6f" d="M597 142.8l1.8 2.5-1.4-1.2-1.8-2.5z"/><path fill="#4e93fc" d="M626.8 154.9l1.6-1-3.3-.7-1.5 1z"/><path fill="#78c969" d="M578.1 143.6l.2-2-3.2 1.4-.3 1.9z"/><path fill="#ded83c" d="M583.1 136.6l.5-.5-2.1-.4-.5.5z"/><path fill="#e1c945" d="M581.3 138l.4-2.2-1.8.9-.4 2.6z"/><path fill="#d8d545" d="M587.2 137.1l1.5-1.1-3.2-.7-1.6 1.1z"/><path fill="#ffffff" d="M603.1 149.1l2.2 1.4-1.4-.7-2-1.7z"/><path fill="#5d9cfc" d="M633.2 155l1.5-1-3.2-.7-1.5 1z"/><path fill="#bdbd42" d="M579.5 141.3l.4-2.8-1.7 1-.4 2.8z"/><path fill="#42cccf" d="M574.5 149.5l.4-2-3.3.1-.4 1.9z"/><path fill="#51cc87" d="M598.2 144.1l1.9 2.4-1.4-1.1-1.9-2.5z"/><path fill="#66d28d" d="M577.7 145.3l.3-2.1-3.3 1.3-.2 2z"/><path fill="#d8d542" d="M584.3 136.8l.5-.5-2.1-.4-.5.5z"/><path fill="#ded23f" d="M582.7 136.6l.4-.4-1.9-.4-.5 2.3z"/><path fill="#4e93f9" d="M623 155.1l1.5-1-3.3-.7-1.5.9z"/><path fill="#d2ba4e" d="M580.8 140.2l.4-2.8-1.8 1.1-.4 2.8z"/><path fill="#a2c354" d="M579.3 142.9l.2-2.3-1.9 1.1-.2 2.2z"/><path fill="#54cfab" d="M577.4 146.9l.2-2-3.2 1.2-.3 2z"/><path fill="#30c6a8" d="M599.5 145.3l1.8 2.3-1.4-1-1.8-2.4z"/><path fill="#ffffff" d="M606.4 151.2l1.4.7-3.3-1.8-1.4-1z"/><path fill="#4e93fc" d="M629.3 155.3l1.5-1-3.2-.7-1.5 1z"/><path fill="#d8d53f" d="M583.9 137l.5-.4-2.1-.5-.5.6z"/><path fill="#dbd248" d="M589.7 137.5l1.5-1.1-3.2-.7-1.6 1.1z"/><path fill="#90d272" d="M578.9 144.6l.2-2.4-1.8 1.1-.2 2.3z"/><path fill="#a2c945" d="M596.8 142.5l.6 1.1-1.9-1.9-.6-1z"/><path fill="#dbc34b" d="M582.1 138.9l.3-2.6-1.7 1.1-.4 2.8z"/><path fill="#b7ba48" d="M580.5 141.7l.2-2.3-1.8 1.3-.2 2.3z"/><path fill="#66d5cc" d="M577.1 148.5l.2-2-3.3 1.2-.2 1.8z"/><path fill="#ccc330" d="M594.9 140.4l.6 1-1.9-1.9-.6-1z"/><path fill="#6cd293" d="M578.6 146.2l.2-2.3-1.8 1-.3 2.3z"/><path fill="#b4cf5a" d="M580.2 143.4l.2-2.3-1.9 1.3-.2 2.3z"/><path fill="#4e96f9" d="M625.5 155.5l1.5-.9-3.3-.7-1.5.9z"/><path fill="#84cc5d" d="M598.1 143.8l.6 1-2-1.8-.6-1z"/><path fill="#d8d242" d="M583.4 137.6l.4-1.1-1.8-.2-.5 2.7z"/><path fill="#cfb74e" d="M581.8 140.4l.2-2.2-1.9 1.4-.2 2.2z"/><path fill="#d8d545" d="M585.8 137.7l1.5-1-3.2-.7-1.5 1.6z"/><path fill="#f3d848" d="M590.5 137.8l1.9 0-1.6-1.8-1.9 1.1z"/><path fill="#6fd8d5" d="M602 147.4l1.8 2.2-1.4-.8-1.8-2.3z"/><path fill="#a5def0" d="M608.9 152.5l1.4.5-3.3-1.5-1.4-.8z"/><path fill="#63a2fc" d="M631.8 155.6l1.5-.9-3.2-.7-1.5 1z"/><path fill="#63d2b4" d="M578.2 147.8l.3-2.3-1.9 1-.2 2.2z"/><path fill="#bac636" d="M596.1 141.6l.6 1-1.9-1.8-.6-1z"/><path fill="#8dd578" d="M579.8 145l.2-2.3-1.8 1.3-.2 2.3z"/><path fill="#c6c34b" d="M581.5 142l.1-2.2-1.9 1.5-.1 2.2z"/><path fill="#6fcc6f" d="M599.3 144.9l.6 1.1-1.9-1.7-.6-1.1z"/><path fill="#dbc04e" d="M583.1 139.1l.1-2-1.9 1.3-.1 2.2z"/><path fill="#dbc948" d="M591.7 137.2l1.9 1.9-1.5-1.9-1.9 0z"/><path fill="#12bdc3" d="M603.2 148.4l1.9 2.1-1.5-.8-1.8-2.2z"/><path fill="#7bd8a8" d="M579.5 146.7l.2-2.3-1.9 1.3-.2 2.2z"/><path fill="#aecf60" d="M581.1 143.7l.2-2.2-1.9 1.5-.2 2.2z"/><path fill="#d8ba51" d="M582.7 140.7l.2-2.1-1.9 1.4-.2 2.2z"/><path fill="#4e96f9" d="M628 155.8l1.5-.9-3.3-.6-1.5.9z"/><path fill="#3fc996" d="M600.6 146l.6 1.1-2-1.6-.6-1.1z"/><path fill="#d8cc48" d="M584.3 137.9l.3-.9-1.9.2-.3 2.1z"/><path fill="#dbd248" d="M588.3 138.2l1.5-1.1-3.2-.7-1.6 1.1z"/><path fill="#15b1d8" d="M604.5 149.3l1.9 1.9-1.5-.6-1.9-2.1z"/><path fill="#6fc0f0" d="M611.4 153.5l1.4.3-3.3-1.2-1.4-.5z"/><path fill="#b4e4a8" d="M580.8 145.3l.1-2.2-1.9 1.5-.1 2.2z"/><path fill="#d2c94b" d="M582.4 142.3l.1-2.2-1.9 1.6-.1 2.2z"/><path fill="#dec051" d="M584 139.4l.1-1.9-1.9 1.3-.1 2.1z"/><path fill="#36c69f" d="M601.9 147.1l.5 1.1-2-1.5-.5-1.1z"/><path fill="#d8d545" d="M585.6 137.7l.3-.3-2-.4-.4 1.1z"/><path fill="#d8c036" d="M594.2 139.3l1.9 2.4-1.4-1.2-1.9-2.2z"/><path fill="#4e96f9" d="M624.1 155.9l1.5-.7-3.3-.7-1.5.7z"/><path fill="#c0c336" d="M596.7 141.8l.6 1.1-1.9-1.8-.7-.9z"/><path fill="#c6de8d" d="M582 143.9l.2-2.2-1.9 1.7-.1 2.2z"/><path fill="#63cc78" d="M599.9 145l.6 1.2-2-1.6-.6-1.2z"/><path fill="#e7c051" d="M583.6 140.9l.2-2-1.9 1.5-.2 2.1z"/><path fill="#15b1d8" d="M607.5 151.3l1.4 1.2-3.3-1.6-1.4-1.5z"/><path fill="#dbcf48" d="M585.2 138.3l.3-1-2 .3-.2 2.1z"/><path fill="#609ffc" d="M630.5 156.2l1.5-.9-3.3-.6-1.5.9z"/><path fill="#30c3ab" d="M603.1 148l.6 1.1-2-1.3-.6-1.2z"/><path fill="#f9e14b" d="M590.8 138.6l1.5-1-3.2-.8-1.6 1.1z"/><path fill="#ffffff" d="M613.9 154.4l1.4.1-3.3-1-1.4-.3z"/><path fill="#d8d248" d="M586.4 138.2l.8-.6-2-.5-.8 1.4z"/><path fill="#a5c645" d="M598 143l.5 1.1-1.9-1.7-.6-1.1z"/><path fill="#e1d881" d="M583.3 142.4l.1-2-1.9 1.6-.1 2.2z"/><path fill="#51cc84" d="M601.2 146.1l.5 1.2-2-1.5-.5-1.2z"/><path fill="#e7c354" d="M584.9 139.7l.1-1.8-1.9 1.2-.1 2.1z"/><path fill="#1ebdba" d="M604.4 148.9l.6 1.1-2.1-1.2-.6-1.2z"/><path fill="#4e96f9" d="M626.6 156.3l1.5-.8-3.3-.6-1.5.8z"/><path fill="#dbcf48" d="M587.6 138.5l.8-.7-2-.5-.8.7z"/><path fill="#8dc957" d="M599.2 144l.6 1.2-2-1.5-.6-1.2z"/><path fill="#f6d887" d="M584.5 141.1l.2-1.9-1.9 1.5-.2 2z"/><path fill="#3fc996" d="M602.4 147l.6 1.3-2-1.4-.6-1.2z"/><path fill="#f6db42" d="M591.6 138.9l1.9-.1-1.6-1.6-1.9 1.1z"/><path fill="#4bbde4" d="M610 152.5l1.4 1-3.4-1.3-1.3-1.2z"/><path fill="#f0d878" d="M585.5 140.3l.8-2.7-1.6.3-.8 3.5z"/><path fill="#c6c039" d="M597.3 142l.6 1.1-2-1.6-.6-1z"/><path fill="#7bc966" d="M600.5 145l.5 1.3-2-1.4-.5-1.3z"/><path fill="#36c6a5" d="M603.7 147.9l.5 1.3-2-1.2-.5-1.3z"/><path fill="#e1d54b" d="M592.7 138.5l2 1.5-1.5-1.8-1.9.1z"/><path fill="#f0db63" d="M586.9 139.3l.8-1.3-1.8-.4-.9 2.6z"/><path fill="#b4c33f" d="M598.5 143l.6 1.2-2-1.5-.6-1.1z"/><path fill="#1ebdbd" d="M606.2 149.6l1.3 1.9-3.3-1.8-1.3-2.1z"/><path fill="#4e96f9" d="M629.1 156.6l1.5-.7-3.3-.6-1.5.7z"/><path fill="#60cc7b" d="M601.7 146l.6 1.3-2-1.3-.6-1.4z"/><path fill="#f9e77b" d="M589.4 139.2l1.5-1-3.2-.7-1.5 1.6z"/><path fill="#f9d230" d="M594 139.3l2 1.8-1.2-1.5-2.2-1z"/><path fill="#51b4ea" d="M612.5 153.5l1.4.8-3.4-1-1.3-1.1z"/><path fill="#a2c648" d="M599.8 144l.5 1.3-2-1.4-.5-1.3z"/><path fill="#4bc98d" d="M603 146.9l.5 1.3-2-1.1-.5-1.4z"/><path fill="#bac954" d="M595.3 140l1.9 2.2-1.4-1-1.9-1.8z"/><path fill="#87c95a" d="M601 144.9l.6 1.4-2-1.3-.6-1.4z"/><path fill="#15b7cc" d="M608.7 150.9l1.3 1.8-3.3-1.4-1.3-2z"/><path fill="#f9e151" d="M591.9 139.7l1.5-.9-3.2-.9-1.6 1.1z"/><path fill="#d5bd42" d="M596.6 140.9l1.8 2.4-1.4-1-1.9-2.1z"/><path fill="#66baed" d="M615 154.2l1.4.8-3.4-.8-1.3-1z"/><path fill="#3cc69f" d="M605.4 148.8l.7 1.1-3.3-2.1-.6-1.2z"/><path fill="#6fc96f" d="M602.3 145.8l.5 1.4-2-1.1-.5-1.5z"/><path fill="#cfc03f" d="M597.9 141.7l1.8 2.6-1.5-.9-1.8-2.4z"/><path fill="#4e99f9" d="M627.8 156.7l1.4-.4-3.4-.5-1.4.4z"/><path fill="#abc345" d="M600.3 143.9l.6 1.4-2-1.3-.6-1.3z"/><path fill="#18b1d8" d="M611.1 151.9l1.4 1.7-3.3-1-1.4-1.9z"/><path fill="#57c987" d="M604.8 147.7l.6 1.2-3.3-2.1-.6-1.2z"/><path fill="#f9e475" d="M594.5 140l1.4.7-3.2-2.2-1.6.8z"/><path fill="#72bdf0" d="M617.5 154.8l1.4.7-3.4-.6-1.3-.9z"/><path fill="#93c654" d="M601.6 144.7l.6 1.5-2.1-1.2-.5-1.4z"/><path fill="#2dc0b4" d="M608 150.1l.6 1.1-3.3-1.7-.6-1.2z"/><path fill="#c3c03f" d="M599.6 143l.6 1.2-2-1.2-.6-1.1z"/><path fill="#1baedb" d="M613.6 152.7l1.4 1.7-3.3-.8-1.4-1.8z"/><path fill="#78c96c" d="M604.1 146.6l.6 1.2-3.3-2.1-.6-1.2z"/><path fill="#b7c042" d="M600.9 143.7l.6 1.4-2.1-1.1-.5-1.3z"/><path fill="#3fc39f" d="M607.3 149.1l.6 1.2-3.3-1.8-.6-1.2z"/><path fill="#dec64b" d="M597 141l1.3 1.4-3.2-2.2-1.4-.6z"/><path fill="#66b7f0" d="M620 155.1l1.4.8-3.4-.5-1.4-.7z"/><path fill="#1bbac3" d="M610.5 151.2l.6 1.1-3.3-1.4-.7-1.1z"/><path fill="#ffffff" d="M626.4 156.3l1.4.2-3.4-.3-1.4-.1z"/><path fill="#9cc651" d="M603.4 145.5l.6 1.2-3.3-2-.6-1.2z"/><path fill="#1eabde" d="M616.1 153.3l1.4 1.7-3.3-.6-1.4-1.7z"/><path fill="#5dc984" d="M606.6 147.9l.6 1.3-3.3-1.7-.6-1.3z"/><path fill="#33c0ae" d="M609.8 150.2l.6 1.2-3.3-1.4-.6-1.3z"/><path fill="#c3c35a" d="M599.5 142.1l1.3 2-3.3-2-1.3-1.4z"/><path fill="#4babed" d="M622.5 155.3l1.4.9-3.4-.3-1.4-.8z"/><path fill="#0fb7c9" d="M613 152.1l.6 1-3.3-1-.7-1.2z"/><path fill="#bdc045" d="M602.7 144.4l.6 1.2-3.3-1.9-.6-1z"/><path fill="#81c666" d="M605.9 146.8l.6 1.3-3.3-1.7-.6-1.3z"/><path fill="#1eabde" d="M618.6 153.7l1.4 1.7-3.3-.4-1.4-1.6z"/><path fill="#48c696" d="M609.1 149l.6 1.4-3.3-1.4-.6-1.4z"/><path fill="#27bdba" d="M612.3 151l.6 1.3-3.3-1.1-.7-1.3z"/><path fill="#3ca2ed" d="M625 155.4l1.4 1-3.4-.1-1.4-.9z"/><path fill="#0cb4cf" d="M615.4 152.7l.7 1.1-3.4-.8-.6-1.1z"/><path fill="#b7c069" d="M602 143.5l.6 1.1-3.3-1.8-.6-.9z"/><path fill="#a8c34b" d="M605.2 145.7l.6 1.3-3.3-1.7-.6-1.2z"/><path fill="#69c67b" d="M608.4 147.9l.6 1.4-3.3-1.5-.6-1.3z"/><path fill="#1eabde" d="M621 153.9l1.5 1.7-3.3-.1-1.4-1.7z"/><path fill="#3cc0a5" d="M611.6 149.9l.6 1.4-3.3-1.1-.7-1.4z"/><path fill="#1ebac0" d="M614.7 151.7l.7 1.2-3.3-.8-.7-1.3z"/><path fill="#0fb4cf" d="M617.9 153.1l.7 1.1-3.3-.5-.7-1.1z"/><path fill="#aebd63" d="M604.5 144.6l.6 1.3-3.3-1.6-.6-1.1z"/><path fill="#96c35a" d="M607.7 146.7l.6 1.4-3.3-1.4-.6-1.4z"/><path fill="#5dc687" d="M610.9 148.7l.6 1.5-3.3-1.1-.7-1.5z"/><path fill="#24a8e1" d="M623.5 153.9l1.5 1.8-3.2.1-1.6-1.7z"/><path fill="#39c0a8" d="M614 150.5l.7 1.5-3.3-.8-.7-1.5z"/><path fill="#1eb7c3" d="M617.2 152.1l.7 1.2-3.3-.5-.7-1.2z"/><path fill="#0fb4cf" d="M620.4 153.2l.7 1.2-3.3-.3-.7-1.1z"/><path fill="#9cba6c" d="M607 145.6l.6 1.4-3.3-1.4-.6-1.3z"/><path fill="#87c366" d="M610.2 147.5l.6 1.5-3.3-1.1-.6-1.4z"/><path fill="#54c38d" d="M613.3 149.3l.7 1.6-3.3-.8-.7-1.5z"/><path fill="#36bdae" d="M616.5 150.9l.7 1.5-3.3-.5-.7-1.5z"/><path fill="#1ebac0" d="M619.7 152.2l.7 1.3-3.3-.2-.7-1.3z"/><path fill="#15aed5" d="M622.9 153.2l.7 1.2-3.3 0-.8-1.1z"/><path fill="#96ba6c" d="M609.5 146.4l.6 1.4-3.3-1-.6-1.4z"/><path fill="#7ec36c" d="M612.6 148.1l.7 1.6-3.3-.8-.7-1.5z"/><path fill="#51c393" d="M615.8 149.7l.7 1.6-3.3-.5-.7-1.5z"/><path fill="#36bdae" d="M619 151.1l.7 1.5-3.3-.2-.7-1.5z"/><path fill="#1eb7c3" d="M622.2 152.1l.7 1.4-3.3.1-.7-1.3z"/><path fill="#96ba6c" d="M612 147l.6 1.5-3.3-.8-.7-1.5z"/><path fill="#78c372" d="M615.1 148.5l.7 1.6-3.3-.5-.7-1.5z"/><path fill="#4ec393" d="M618.3 149.9l.7 1.6-3.3-.2-.7-1.6z"/><path fill="#39bab1" d="M621.5 151l.7 1.5-3.3.1-.7-1.5z"/><path fill="#96ba66" d="M614.4 147.4l.7 1.5-3.3-.5-.7-1.5z"/><path fill="#78c372" d="M617.6 148.7l.7 1.6-3.3-.2-.7-1.6z"/><path fill="#54bd99" d="M620.8 149.8l.7 1.6-3.3.1-.7-1.5z"/><path fill="#96ba69" d="M616.9 147.6l.7 1.5-3.3-.2-.7-1.5z"/><path fill="#78c07b" d="M620.1 148.7l.7 1.5-3.3.2-.7-1.6z"/><path fill="#84b18d" d="M619.4 147.6l.7 1.5-3.3.1-.7-1.6z"/></g></g></defs>
<use href="#abw" x="0" y="0"/><use href="#abs" x="0" y="0"/><use href="#abw" x="0" y="0" opacity="0.55"/><path d="M19.3 49.2L19.3 73.5L109.2 81.4L142.9 59.9" stroke="#555555" stroke-width=".6" fill="none"/><use href="#abw" x="177" y="0.8"/><use href="#abs" x="177" y="0.8"/><use href="#abw" x="177" y="0.8" opacity="0.55"/><path d="M196.3 50L196.3 74.3L286.2 82.2L319.9 60.7" stroke="#555555" stroke-width=".6" fill="none"/><use href="#abw" x="0" y="86.4"/><use href="#abs" x="0" y="86.4"/><use href="#abw" x="0" y="86.4" opacity="0.55"/><path d="M19.3 135.6L19.3 159.9L109.2 167.8L142.9 146.3" stroke="#555555" stroke-width=".6" fill="none"/><use href="#abw" x="177" y="87.2"/><use href="#abs" x="177" y="87.2"/><use href="#abw" x="177" y="87.2" opacity="0.55"/><path d="M196.3 136.4L196.3 160.7L286.2 168.6L319.9 147.1" stroke="#555555" stroke-width=".6" fill="none"/><use href="#abw" x="0" y="173.4"/><use href="#abs" x="0" y="173.4"/><use href="#abw" x="0" y="173.4" opacity="0.55"/><path d="M19.3 222.6L19.3 246.9L109.2 254.8L142.9 233.3" stroke="#555555" stroke-width=".6" fill="none"/><use href="#abw" x="177" y="174.2"/><use href="#abs" x="177" y="174.2"/><use href="#abw" x="177" y="174.2" opacity="0.55"/><path d="M196.3 223.4L196.3 247.7L286.2 255.6L319.9 234.1" stroke="#555555" stroke-width=".6" fill="none"/><use href="#uc0"/><g shape-rendering="crispEdges" filter="url(#bl)"><path fill="#f9f35d" d="M426.3 31.8l1.4-2.1-2-2-1.4 2.2z"/><path fill="#f9e766" d="M426.7 32.8l1.5-2.1-.8-1.4-1.6 2.3z"/><path fill="#fce772" d="M426.1 32.9l.6-1.4-2.1-2-.6 1.4z"/><path fill="#fcde78" d="M427.2 34.1l1.5-2.1-.9-1.6-1.5 2.1z"/><path fill="#f9cc69" d="M427.6 35.5l1.6-1.9-.9-1.9-1.5 2z"/><path fill="#fcdb69" d="M425.8 34.1l.6-1.6-2.1-1.9-.6 1.7z"/><path fill="#fcd85a" d="M426.4 33.9l.8-1.5-1-1.5-.7 1.6z"/><path fill="#e7d578" d="M428.1 37l1.6-1.7-.9-2.1-1.5 1.8z"/><path fill="#fcd57b" d="M425.4 35.6l.6-1.9-2.1-1.8-.6 2z"/><path fill="#fccc63" d="M426.9 35.1l.8-1.3-1-1.8-.7 1.3z"/><path fill="#ccde8a" d="M428.6 38.6l1.6-1.6-.9-2.2-1.5 1.7z"/><path fill="#fccc63" d="M426.1 35.1l.7-1.8-.9-1.3-.7 1.9z"/><path fill="#edc95a" d="M427.4 36.4l.7-1.1-.9-2.1-.7 1.2z"/><path fill="#a8e1a2" d="M429.1 40.3l1.5-1.5-.8-2.3-1.5 1.6z"/><path fill="#e7d26c" d="M425.1 37.1l.6-2-2.1-1.7-.6 2.2z"/><path fill="#f3c95d" d="M426.6 36.2l.8-1.6-1-1.6-.8 1.7z"/><path fill="#edc95a" d="M425.8 36.5l.7-2.1-.9-1.1-.7 2.1z"/><path fill="#7bdbb1" d="M429.6 42l1.5-1.4-.8-2.4-1.5 1.5z"/><path fill="#c9cf5a" d="M427.7 38.4l1-1.8-1-2-.9 1.9z"/><path fill="#dbcc54" d="M427.1 37.5l.7-1.4-.9-1.9-.8 1.5z"/><path fill="#c6d56c" d="M424.7 38.8l.6-2.2-2-1.5-.6 2.3z"/><path fill="#decc57" d="M426.3 37.5l.7-1.9-1-1.4-.7 2z"/><path fill="#7edbd2" d="M430.1 43.6l1.5-1.3-.8-2.3-1.5 1.4z"/><path fill="#a5d572" d="M428.2 39.9l.9-1.6-.9-2.2-.9 1.7z"/><path fill="#cccf5a" d="M425.7 38.5l.7-2-1.2-1.8-.7 2.1z"/><path fill="#c9cf5a" d="M426.7 38.7l.8-1.7-1-1.7-.7 1.8z"/><path fill="#60cfde" d="M430.6 45.2l1.5-1.2-.8-2.3-1.5 1.3z"/><path fill="#9fdb96" d="M424.4 40.5l.6-2.3-2.1-1.4-.6 2.4z"/><path fill="#7ed590" d="M428.7 41.4l.9-1.4-.9-2.3-.9 1.6z"/><path fill="#a8d56f" d="M427.2 40.1l.9-2.3-.9-1.8-.9 2.5z"/><path fill="#7ecced" d="M431.1 46.7l1.5-1.1-.8-2.2-1.5 1.2z"/><path fill="#a8d56f" d="M425.4 40l.7-2.1-1.3-1.6-.6 2.2z"/><path fill="#abd56f" d="M426.4 40.1l.7-1.7-1.2-2.3-.7 1.8z"/><path fill="#5dd2b1" d="M429.2 43l.9-1.3-.9-2.3-.9 1.4z"/><path fill="#84d58d" d="M427.7 41.4l1-2-1-1.9-.9 2.2z"/><path fill="#6fd5a8" d="M424.1 42.2l.6-2.3-2.1-1.3-.6 2.4z"/><path fill="#6cb7f0" d="M431.5 48l1.6-1-.8-2.1-1.6 1.2z"/><path fill="#42ccc6" d="M429.7 44.5l.9-1.1-.9-2.3-.9 1.2z"/><path fill="#87d587" d="M426.9 41.3l.8-1.7-1-1.8-.8 1.9z"/><path fill="#66d5a5" d="M428.2 42.9l.9-1.9-.9-2-1 2z"/><path fill="#7bd593" d="M425 41.6l.7-2.2-1.2-1.5-.7 2.4z"/><path fill="#84d58a" d="M426.1 41.5l.7-1.8-1.2-2.1-.7 2z"/><path fill="#63a5f9" d="M432 49.3l1.6-1-.8-1.9-1.6 1.1z"/><path fill="#63d5c6" d="M423.7 43.9l.6-2.3-2-1.2-.6 2.4z"/><path fill="#3fc3db" d="M430.2 46l.8-1-.8-2.3-.9 1.2z"/><path fill="#66d5a5" d="M427.4 42.6l.7-1.5-.9-1.9-.8 1.6z"/><path fill="#4bccc0" d="M428.7 44.3l.9-1.6-.9-2.2-1 1.9z"/><path fill="#66d5a5" d="M426.6 42.6l.7-1.8-.9-1.6-.8 2z"/><path fill="#5dd2ae" d="M424.7 43.2l.7-2.2-1.2-1.4-.7 2.4z"/><path fill="#66d2a8" d="M425.8 43l.7-1.9-1.3-2-.7 2.1z"/><path fill="#84a5ff" d="M432.8 51l1.5-.9-1.1-2.4-1.5.9z"/><path fill="#4bb7e7" d="M430.7 47.4l.8-.9-.8-2.2-.9 1z"/><path fill="#51cfba" d="M427.9 43.9l.7-1.3-.9-2.1-.8 1.5z"/><path fill="#39c6d2" d="M429.2 45.7l.9-1.5-.9-2.1-1 1.7z"/><path fill="#51cfd8" d="M423.4 45.5l.6-2.2-2.1-1.1-.6 2.3z"/><path fill="#54cfba" d="M427.1 43.8l.7-1.6-1-1.8-.7 1.8z"/><path fill="#51cfba" d="M426.2 44l.8-2-1-1.4-.7 2.1z"/><path fill="#54abf0" d="M431.1 48.7l.9-.9-.8-2-.9.9z"/><path fill="#45ccc6" d="M424.4 44.8l.6-2.3-1.2-1.2-.6 2.4z"/><path fill="#4ecfc0" d="M425.4 44.4l.7-1.9-1.2-1.8-.7 2.2z"/><path fill="#45bde4" d="M429.7 47.1l.9-1.4-.9-2.1-1 1.5z"/><path fill="#39c6d2" d="M428.2 45.8l.9-2-.9-1.8-1 2.1z"/><path fill="#7587fc" d="M433.5 52.3l1.5-.8-1-2.1-1.5.9z"/><path fill="#3fc9c9" d="M427.5 45l.8-1.4-1-1.9-.7 1.7z"/><path fill="#57c3e7" d="M423.1 47l.5-2.1-2-1-.6 2.2z"/><path fill="#3fc9c9" d="M426.7 45.1l.8-1.8-1-1.6-.7 2z"/><path fill="#579ff9" d="M431.6 49.9l.9-.8-.8-2-.9.9z"/><path fill="#4eb1ea" d="M430.1 48.3l1-1.2-.9-2-1 1.4z"/><path fill="#42c0e1" d="M428.7 47l.9-1.7-.9-1.9-1 2z"/><path fill="#3cc3db" d="M424 46.3l.7-2.2-1.2-1.1-.6 2.3z"/><path fill="#39c6d2" d="M425.1 45.9l.7-2-1.2-1.6-.7 2.2z"/><path fill="#3cc6d2" d="M426.2 45.9l.7-1.7-1.3-2.1-.7 1.9z"/><path fill="#39c3d8" d="M427.2 46.2l.8-1.6-1-1.7-.8 1.8z"/><path fill="#9396f6" d="M434.3 53.4l1.5-.8-1.1-1.7-1.5.8z"/><path fill="#54a5f3" d="M430.6 49.5l1-1.1-.9-1.9-1 1.2z"/><path fill="#69b7f0" d="M422.8 48.4l.5-2-2.1-.9-.5 2z"/><path fill="#4eb4ea" d="M429.1 48.2l1-1.5-.9-1.9-1 1.8z"/><path fill="#42c0e1" d="M427.7 47.3l.9-2.1-.9-1.6-.9 2.4z"/><path fill="#48bde4" d="M424.8 47.3l.7-2-1.3-1.4-.7 2.1z"/><path fill="#45bde1" d="M425.8 47.1l.8-1.7-1.3-1.8-.7 1.9zM426.9 47.3l.7-1.4-1.2-2.3-.7 1.7z"/><path fill="#5a99fc" d="M431.1 50.6l.9-1-.9-1.8-.9 1.1z"/><path fill="#668aff" d="M431.8 52l1.5-1.4-1.1-2.2-1.5 1.7z"/><path fill="#8781ea" d="M435 54.3l1.5-.8-1.1-1.5-1.5.9z"/><path fill="#4eb4ea" d="M428.2 48.4l.9-1.9-.9-1.6-1 2.1z"/><path fill="#54a5f3" d="M429.9 49.9l.9-1.2-1.2-2.5-.9 1.4z"/><path fill="#63a5f9" d="M422.4 49.7l.6-1.8-2.1-.9-.6 1.9z"/><path fill="#4eb4ea" d="M424.5 48.6l.6-1.7-2-2.2-.7 1.9z"/><path fill="#54abf0" d="M428.6 49.4l1-1.7-.9-1.6-1 2z"/><path fill="#4eb4ea" d="M425.5 48.4l.7-1.7-1.2-1.7-.7 1.9z"/><path fill="#4eb1ea" d="M426.6 48.5l.7-1.5-1.3-2-.7 1.6z"/><path fill="#6c7bf9" d="M432.5 53.2l1.6-1.2-1.2-1.9-1.5 1.4z"/><path fill="#51aeed" d="M427.4 49.3l1-1.9-1.3-2.1-.9 2.2z"/><path fill="#5d93fc" d="M430.7 51.4l.8-1-1.1-2.4-.9 1.2z"/><path fill="#54a5f3" d="M424.2 49.8l.6-1.6-2.1-2-.6 1.8z"/><path fill="#729cff" d="M421.9 51.4l.7-2.3-2-.8-.7 2.5z"/><path fill="#847bde" d="M436.7 55.5l1.3-.7-2-1.9-1.3.8z"/><path fill="#5a9cf9" d="M429.4 50.9l.9-1.3-1.2-2.3-.9 1.6z"/><path fill="#54abf0" d="M425.2 49.6l.7-1.7-1.3-1.5-.7 1.9z"/><path fill="#54a8f0" d="M426.2 49.6l.7-1.5-1.2-1.8-.7 1.6z"/><path fill="#6c6ff0" d="M433.3 54.1l1.5-1-1.1-1.7-1.5 1.3z"/><path fill="#579ff6" d="M428.2 50.7l.9-1.6-1.2-2.1-.9 1.9z"/><path fill="#5a99fc" d="M423.9 50.9l.6-1.5-2.1-1.8-.6 1.7z"/><path fill="#579ff6" d="M426.9 50.7l1-1.9-1.3-1.8-.9 2.2z"/><path fill="#6687ff" d="M430.2 52.2l.8-1.1-1.2-2.1-.8 1.3z"/><path fill="#5a9cf9" d="M424.8 50.7l.7-1.7-1.2-1.3-.7 1.8z"/><path fill="#579ff9" d="M425.9 50.6l.7-1.5-1.3-1.6-.7 1.7z"/><path fill="#697efc" d="M430.8 53.3l1.5-1.7-1.1-1.9-1.5 2.1z"/><path fill="#7e8dfc" d="M421.4 52.9l.7-2.1-2.1-.7-.7 2.1z"/><path fill="#6c63e7" d="M434 54.9l1.5-1-1.1-1.4-1.5 1.2z"/><path fill="#6090ff" d="M428.9 51.9l.9-1.3-1.2-2.1-.9 1.7z"/><path fill="#668aff" d="M423.3 52.4l.8-2-2-1.5-.8 2.3z"/><path fill="#8475d2" d="M438.2 56.1l1.3-.7-2.1-1.2-1.3.8z"/><path fill="#6093fc" d="M427.7 51.9l.9-1.6-1.2-1.9-.9 1.9z"/><path fill="#6093ff" d="M424.5 51.7l.7-1.6-1.3-1.2-.6 1.7zM425.6 51.5l.7-1.4-1.3-1.4-.7 1.6z"/><path fill="#6c72f3" d="M431.5 54.2l1.5-1.4-1.1-1.7-1.5 1.8z"/><path fill="#6390ff" d="M426.4 52l.9-1.8-1.2-1.5-.9 2.1z"/><path fill="#6981fc" d="M429.7 53l.8-1.1-1.2-1.9-.9 1.4z"/><path fill="#8a8df6" d="M420.9 54l.7-1.7-2.1-.7-.7 1.8z"/><path fill="#695dd5" d="M435.7 55.9l1.3-.8-2-1.7-1.4 1z"/><path fill="#6984fc" d="M428.4 52.9l.9-1.4-1.2-1.7-.9 1.6z"/><path fill="#668aff" d="M425.3 52.4l.6-1.3-1.2-1.3-.7 1.5z"/><path fill="#6c7bf9" d="M422.9 53.6l.7-1.7-2.1-1.3-.7 2z"/><path fill="#6687ff" d="M427.2 53l.9-1.6-1.2-1.6-.9 1.9z"/><path fill="#6c63e4" d="M433.1 55.6l1.4-1-2-2.3-1.4 1.4z"/><path fill="#6981fc" d="M424.8 53.6l.8-1.6-2.1-1.9-.8 1.9z"/><path fill="#6984fc" d="M425.9 53.2l.9-1.7-1.2-1.3-.9 2z"/><path fill="#6c78f9" d="M429.2 53.8l.9-1.1-1.3-1.7-.9 1.4z"/><path fill="#6c72f3" d="M429.8 54.6l1.5-1.8-1.1-1.5-1.5 2.2z"/><path fill="#7e7bed" d="M420.5 54.9l.6-1.4-2.1-.6-.7 1.4z"/><path fill="#6c78f9" d="M427.9 53.8l.9-1.3-1.2-1.5-.9 1.6z"/><path fill="#6c6ff0" d="M422.4 54.6l.7-1.5-2.1-1-.7 1.6z"/><path fill="#6654c6" d="M437.2 56.6l1.3-.8-2.1-1.2-1.3.9z"/><path fill="#6c7bf9" d="M426.7 53.9l.9-1.4-1.3-1.4-.8 1.8z"/><path fill="#6f60c3" d="M441.3 56.7l1-.6-3.6-1-1.1.6z"/><path fill="#6c69ed" d="M430.5 55.3l1.5-1.6-1.1-1.3-1.5 1.9z"/><path fill="#6c72f6" d="M424.3 54.6l.8-1.4-2.1-1.6-.8 1.7z"/><path fill="#6c6ff3" d="M428.7 54.6l.9-1.2-1.3-1.4-.9 1.4z"/><path fill="#695acf" d="M434.7 56.5l1.3-.9-2-1.6-1.4 1.1z"/><path fill="#6c72f3" d="M426.3 54.8l.8-1.2-2.1-2-.8 1.5z"/><path fill="#6c6ff3" d="M427.4 54.6l.9-1.2-1.2-1.3-.9 1.5z"/><path fill="#6c66e7" d="M421.9 55.4l.7-1.2-2.2-1-.7 1.4z"/><path fill="#7266db" d="M419.3 56.3l1.3-1.9-2-.6-1.3 1.9z"/><path fill="#6960db" d="M432.2 56.3l1.3-1-2-1.9-1.4 1.4z"/><path fill="#6c69ed" d="M423.9 55.4l.7-1.2-2.1-1.4-.8 1.5z"/><path fill="#6c69ea" d="M428.2 55.3l.8-1.2-1.2-1.2-.9 1.3zM425.8 55.5l.8-1.1-2.1-1.6-.8 1.3z"/><path fill="#6c63e4" d="M429.7 56.3l1.3-1.4-2-2-1.4 1.9z"/><path fill="#6654c3" d="M436.2 57l1.3-.8-2.1-1.1-1.3.9z"/><path fill="#6654bd" d="M440.3 57.1l1-.6-3.7-1-1 .6z"/><path fill="#6c60e1" d="M423.4 56l.7-1-2.2-1.1-.7 1.2z"/><path fill="#695dd5" d="M420.8 56.6l1.3-1.7-2-.8-1.4 1.9z"/><path fill="#6c63e4" d="M427.2 56.4l1.3-1.6-2-1.7-1.3 2.1z"/><path fill="#6657cc" d="M433.7 57l1.3-.9-2.1-1.4-1.3 1.2z"/><path fill="#8a7ecc" d="M444.1 57.2l1.1-.6-3.7-.7-1.1.6z"/><path fill="#8475d2" d="M418.3 57.1l1.3-1.4-2.1-.6-1.3 1.4z"/><path fill="#6960de" d="M424.7 56.7l1.4-1.7-2.1-1.3-1.3 2.1z"/><path fill="#695ad2" d="M431.2 57l1.3-1.1-2-1.5-1.4 1.4zM422.2 57l1.4-1.5-2.1-.9-1.3 1.7z"/><path fill="#695ad5" d="M428.7 57l1.3-1.2-2-1.4-1.4 1.6z"/><path fill="#6654c3" d="M435.2 57.4l1.2-.8-2.1-1-1.2.9z"/><path fill="#6654bd" d="M439.2 57.4l1.1-.5-3.7-1-1 .6z"/><path fill="#6657c6" d="M419.8 57.4l1.3-1.3-2.1-.7-1.3 1.3z"/><path fill="#695ad2" d="M426.2 57.2l1.3-1.3-2-1.2-1.3 1.6z"/><path fill="#6654c6" d="M432.7 57.4l1.3-.8-2.1-1.1-1.3 1z"/><path fill="#6351ba" d="M443.1 57.6l1.1-.6-3.7-.7-1.1.5z"/><path fill="#6957cc" d="M423.7 57.4l1.3-1.2-2-1-1.3 1.5z"/><path fill="#6657c9" d="M430.2 57.5l1.3-1-2.1-1.1-1.3 1.2z"/><path fill="#8778c9" d="M447 57.7l1.1-.6-3.8-.7-1 .6z"/><path fill="#6654c6" d="M421.3 57.7l1.3-1.2-2.1-.7-1.3 1.2z"/><path fill="#6657c9" d="M427.7 57.6l1.3-1-2.1-1.1-1.3 1.3z"/><path fill="#6654c0" d="M434.2 57.8l1.2-.8-2.1-.9-1.2.9zM416 58l2.6-1.4-1.7-.6-2.6 1.5z"/><path fill="#6651bd" d="M438.2 57.8l1.1-.6-3.7-.9-1.1.7z"/><path fill="#6654c6" d="M425.2 57.8l1.3-1.1-2.1-.9-1.3 1.3z"/><path fill="#6654c0" d="M431.7 57.9l1.3-.9-2.2-.9-1.2 1z"/><path fill="#6351ba" d="M442.1 57.9l1.1-.5-3.7-.8-1.1.6z"/><path fill="#6654c3" d="M422.8 58l1.2-1-2.1-.8-1.2 1.1zM429.2 58l1.3-.9-2.1-.9-1.3 1.1z"/><path fill="#6351ba" d="M446 58l1-.5-3.7-.7-1 .5z"/><path fill="#6654bd" d="M417.5 58.3l2.6-1.4-1.8-.7-2.5 1.5z"/><path fill="#6654c0" d="M426.7 58.1l1.3-.9-2.1-.8-1.3 1z"/><path fill="#7e6fc6" d="M449.9 58.2l1-.6-3.7-.7-1.1.6z"/><path fill="#6651bd" d="M433.2 58.2l1.2-.8-2.1-.8-1.3.9z"/><path fill="#6651ba" d="M437.2 58.2l1.1-.6-3.7-.8-1.1.6z"/><path fill="#6654bd" d="M424.3 58.3l1.2-.9-2.1-.8-1.3 1zM430.7 58.3l1.2-.8-2.1-.8-1.2.9z"/><path fill="#6351ba" d="M441.1 58.3l1.1-.6-3.7-.7-1.1.6z"/><path fill="#6654bd" d="M419 58.6l2.5-1.4-1.7-.7-2.6 1.5zM428.2 58.4l1.3-.8-2.2-.8-1.2 1z"/><path fill="#6351ba" d="M445 58.4l1-.5-3.7-.7-1 .5zM414 58.8l2.6-1.2-1.7-.6-2.6 1.2z"/><path fill="#6651bd" d="M425.7 58.5l1.3-.8-2.2-.7-1.2.9z"/><path fill="#6351ba" d="M448.9 58.5l1-.5-3.7-.7-1.1.5z"/><path fill="#6651bd" d="M432.2 58.6l1.2-.8-2.1-.7-1.3.8z"/><path fill="#6651ba" d="M436.2 58.5l1.1-.5-3.7-.8-1.1.6z"/><path fill="#6651bd" d="M420.4 58.8l2.6-1.3-1.7-.7-2.6 1.4zM429.7 58.7l1.2-.8-2.1-.7-1.3.9z"/><path fill="#7b69c3" d="M452.7 58.6l1.1-.5-3.7-.7-1.1.6z"/><path fill="#6351ba" d="M440.1 58.7l1.1-.6-3.8-.7-1 .6zM415.5 59l2.6-1.2-1.7-.6-2.6 1.2z"/><path fill="#6651ba" d="M427.2 58.8l1.2-.8-2.1-.7-1.2.9z"/><path fill="#6351ba" d="M444 58.8l1-.6-3.7-.7-1 .6z"/><path fill="#6651ba" d="M421.9 59.1l2.6-1.3-1.7-.6-2.6 1.3z"/><path fill="#6351ba" d="M447.8 58.9l1.1-.6-3.7-.6-1.1.5z"/><path fill="#6651ba" d="M431.2 58.9l1.2-.7-2.2-.7-1.2.8z"/><path fill="#6351ba" d="M435.2 58.9l1.1-.5-3.7-.8-1.1.6zM417 59.3l2.6-1.2-1.7-.6-2.7 1.2z"/><path fill="#6651ba" d="M428.7 59.1l1.2-.8-2.2-.6-1.2.8z"/><path fill="#6351ba" d="M451.7 59l1.1-.5-3.8-.7-1 .5zM439.1 59l1-.5-3.7-.7-1 .5z"/><path fill="#6651ba" d="M423.3 59.3l2.7-1.2-1.8-.6-2.6 1.2z"/><path fill="#7260c0" d="M455.6 59.1l1-.5-3.7-.7-1 .5z"/><path fill="#6351ba" d="M443 59.1l1-.5-3.7-.7-1.1.5zM412.1 59.5l2.6-1.2-1.7-.6-2.7 1.2zM446.8 59.3l1.1-.6-3.7-.7-1.1.6zM418.4 59.5l2.6-1.2-1.7-.6-2.6 1.2zM430.2 59.3l1.2-.7-2.2-.7-1.2.8zM434.2 59.3l1.1-.6-3.8-.7-1 .6zM424.8 59.6l2.6-1.2-1.7-.6-2.6 1.2z"/><path fill="#817299" d="M450.7 59.4l1.1-.6-3.8-.7-1 .6z"/><path fill="#6351ba" d="M438.1 59.4l1-.6-3.7-.7-1 .6zM413.5 59.7l2.6-1.1-1.7-.6-2.6 1.1zM454.6 59.5l1-.5-3.7-.7-1 .5zM441.9 59.5l1.1-.5-3.7-.7-1.1.5zM419.9 59.8l2.6-1.2-1.7-.6-2.6 1.2zM426.3 59.8l2.6-1.2-1.7-.6-2.6 1.2z"/><path fill="#6f5dbd" d="M458.4 59.6l1.1-.5-3.7-.7-1.1.5z"/><path fill="#6351ba" d="M445.8 59.6l1.1-.5-3.7-.7-1.1.5zM433.2 59.6l1-.5-3.7-.7-1 .5zM415 60l2.6-1.2-1.7-.6-2.6 1.2z"/><path fill="#7b6ca2" d="M449.7 59.7l1-.5-3.7-.7-1 .6z"/><path fill="#6351ba" d="M437.1 59.8l1-.6-3.7-.7-1.1.6zM421.4 60l2.6-1.2-1.7-.5-2.6 1.1zM427.8 60.1l2.6-1.2-1.7-.6-2.7 1.2zM453.6 59.9l1-.6-3.7-.7-1.1.6zM440.9 59.9l1.1-.6-3.7-.7-1.1.6z"/><path fill="#7b69c3" d="M410.1 60.2l2.6-1.2-1.7-.6-2.6 1.2z"/><path fill="#6351ba" d="M416.5 60.2l2.6-1.1-1.7-.6-2.6 1.1zM457.4 60l1.1-.6-3.7-.6-1.1.5zM444.8 60l1.1-.6-3.8-.6-1 .5zM422.8 60.3l2.7-1.2-1.7-.6-2.7 1.2z"/><path fill="#7260c0" d="M461.3 60.1l1-.5-3.7-.7-1 .5z"/><path fill="#6351ba" d="M448.7 60.1l1-.5-3.7-.7-1 .5zM436 60.1l1.1-.5-3.7-.7-1.1.5zM431.1 60.5l2.1-1.1-3.5-.8-2.2 1.1zM411.6 60.5l2.6-1.2-1.7-.6-2.7 1.2zM417.9 60.5l2.7-1.2-1.8-.6-2.6 1.2zM452.5 60.2l1.1-.5-3.7-.7-1.1.5zM439.9 60.2l1.1-.5-3.7-.7-1.1.5zM424.3 60.5l2.6-1.1-1.7-.6-2.6 1.1zM456.4 60.4l1.1-.6-3.7-.7-1.1.6zM443.8 60.4l1-.6-3.7-.7-1 .6zM413 60.7l2.6-1.2-1.7-.6-2.6 1.2zM460.3 60.5l1-.6-3.7-.7-1 .6zM419.4 60.7l2.6-1.1-1.7-.6-2.6 1.1zM447.7 60.5l1-.6-3.7-.7-1.1.6zM425.8 60.8l2.6-1.2-1.7-.6-2.6 1.2z"/><path fill="#6f5dbd" d="M464.2 60.6l1-.5-3.7-.7-1.1.5z"/><path fill="#6351ba" d="M451.5 60.6l1.1-.5-3.7-.7-1.1.5zM438.9 60.6l1.1-.5-3.8-.7-1 .5z"/><path fill="#8778c9" d="M408.1 60.9l2.6-1.2-1.7-.6-2.6 1.2z"/><path fill="#6351ba" d="M433.9 61l2.2-1.1-3.6-.8-2.1 1.1zM414.5 61l2.6-1.2-1.7-.6-2.6 1.2zM455.4 60.7l1.1-.5-3.8-.7-1 .5zM442.8 60.7l1-.5-3.7-.7-1 .5zM420.9 61l2.6-1.2-1.7-.6-2.6 1.2zM459.3 60.8l1-.5-3.7-.7-1 .5zM446.6 60.8l1.1-.5-3.7-.7-1.1.6zM429.1 61.2l2.2-1.1-3.6-.8-2.2 1.1zM409.6 61.2l2.6-1.2-1.7-.6-2.6 1.2zM416 61.2l2.6-1.2-1.7-.6-2.6 1.2zM463.1 61l1.1-.6-3.7-.7-1.1.6zM450.5 61l1.1-.6-3.7-.7-1.1.6zM422.3 61.2l2.7-1.1-1.7-.6-2.7 1.2zM467 61.1l1.1-.6-3.8-.7-1 .6zM454.4 61.1l1-.6-3.7-.6-1 .5zM441.8 61.1l1-.6-3.7-.6-1.1.5zM436.8 61.5l2.1-1.1-3.5-.8-2.2 1.1zM411.1 61.4l2.6-1.2-1.7-.5-2.7 1.1zM417.4 61.5l2.7-1.2-1.8-.6-2.6 1.2zM458.3 61.2l1-.5-3.7-.7-1.1.5zM445.6 61.2l1.1-.5-3.7-.7-1.1.5zM423.8 61.5l2.6-1.2-1.7-.6-2.6 1.2zM462.1 61.3l1.1-.5-3.7-.7-1.1.5z"/><path fill="#8d81cc" d="M406.1 61.6l2.7-1.1-1.7-.6-2.7 1.1z"/><path fill="#6351ba" d="M432 61.7l2.1-1.1-3.6-.8-2.1 1.1zM412.5 61.7l2.6-1.2-1.7-.6-2.6 1.2zM418.9 61.7l2.6-1.2-1.7-.6-2.6 1.2zM466 61.4l1.1-.5-3.8-.7-1 .6zM453.4 61.5l1-.6-3.7-.7-1 .6z"/><path fill="#6f5dbd" d="M469.9 61.6l1-.6-3.7-.7-1 .6z"/><path fill="#6351ba" d="M457.2 61.6l1.1-.6-3.7-.7-1.1.6zM444.6 61.6l1.1-.6-3.7-.7-1.1.6zM427.1 61.9l2.2-1.1-3.6-.8-2.1 1.1zM407.6 61.9l2.6-1.2-1.7-.6-2.6 1.2zM439.7 62l2.1-1.1-3.6-.8-2.1 1zM414 61.9l2.6-1.2-1.7-.5-2.6 1.1zM420.4 62l2.6-1.2-1.7-.6-2.6 1.2zM461.1 61.7l1.1-.5-3.7-.7-1.1.5zM448.5 61.7l1-.5-3.7-.7-1 .5zM465 61.8l1-.5-3.7-.7-1 .5zM452.4 61.8l1-.5-3.7-.7-1.1.5zM434.8 62.2l2.2-1.1-3.6-.8-2.1 1.1zM409.1 62.1l2.6-1.1-1.7-.6-2.6 1.1zM415.5 62.2l2.6-1.2-1.7-.6-2.6 1.2zM468.9 61.9l1-.5-3.7-.7-1.1.5zM456.2 61.9l1.1-.5-3.7-.7-1.1.5zM421.8 62.2l2.7-1.2-1.7-.6-2.7 1.2zM472.7 62.1l1.1-.6-3.7-.7-1.1.6zM460.1 62.1l1.1-.6-3.8-.7-1 .6zM447.5 62.1l1-.6-3.7-.7-1 .6z"/><path fill="#8778c9" d="M404.2 62.3l2.6-1.1-1.7-.6-2.6 1.1z"/><path fill="#6351ba" d="M430 62.4l2.2-1.1-3.6-.8-2.2 1.1zM410.6 62.4l2.6-1.2-1.7-.6-2.6 1.2zM442.5 62.5l2.2-1.1-3.6-.9-2.2 1.1zM416.9 62.4l2.7-1.2-1.8-.5-2.6 1.1zM464 62.2l1-.6-3.7-.7-1 .6zM451.4 62.2l1-.6-3.7-.6-1.1.5zM467.8 62.3l1.1-.5-3.7-.7-1.1.5zM455.2 62.3l1.1-.5-3.7-.7-1.1.5zM425.2 62.7l2.1-1.1-3.5-.9-2.2 1.1zM405.7 62.6l2.6-1.2-1.7-.6-2.7 1.2zM437.7 62.7l2.1-1.1-3.5-.8-2.2 1.1zM412 62.6l2.7-1.1-1.8-.6-2.6 1.1zM418.4 62.7l2.6-1.2-1.7-.6-2.6 1.2zM471.7 62.4l1.1-.5-3.7-.7-1.1.5zM459.1 62.4l1-.5-3.7-.7-1 .5z"/><path fill="#8778c9" d="M475.6 62.5l1-.5-3.7-.7-1 .5z"/><path fill="#6351ba" d="M463 62.5l1-.5-3.7-.7-1.1.6zM450.3 62.6l1.1-.6-3.7-.7-1.1.6zM432.9 62.9l2.1-1.1-3.6-.8-2.1 1.1zM407.1 62.8l2.6-1.1-1.7-.6-2.6 1.1zM445.4 62.9l2.1-1-3.6-.9-2.1 1.1zM413.5 62.9l2.6-1.2-1.7-.6-2.6 1.2zM419.9 62.9l2.6-1.2-1.7-.5-2.6 1.1zM466.8 62.7l1.1-.6-3.7-.7-1.1.6zM454.2 62.7l1.1-.6-3.8-.7-1 .6zM402.2 63.1l2.6-1.2-1.7-.6-2.6 1.2zM470.7 62.8l1.1-.6-3.8-.6-1 .5zM458.1 62.8l1-.5-3.7-.7-1 .5zM428 63.1l2.2-1.1-3.6-.8-2.1 1.1zM408.6 63.1l2.6-1.2-1.7-.6-2.6 1.2zM440.5 63.2l2.2-1.1-3.6-.8-2.1 1zM415 63.1l2.6-1.1-1.7-.6-2.6 1.1zM474.6 62.9l1-.5-3.7-.7-1 .5zM461.9 62.9l1.1-.5-3.7-.7-1.1.5zM423.2 63.4l2.2-1.1-3.6-.9-2.2 1.1z"/><path fill="#7e6fc6" d="M478.4 63l1.1-.5-3.7-.7-1.1.5z"/><path fill="#6351ba" d="M465.8 63l1.1-.5-3.7-.7-1.1.5zM403.7 63.3l2.6-1.2-1.7-.6-2.6 1.2zM453.2 63l1.1-.5-3.8-.7-1 .5zM435.7 63.4l2.2-1.1-3.6-.8-2.2 1.1zM410.1 63.3l2.6-1.1-1.7-.6-2.6 1.1zM416.4 63.4l2.7-1.2-1.7-.6-2.7 1.2zM469.7 63.2l1-.6-3.7-.7-1 .6zM457.1 63.2l1-.6-3.7-.7-1 .6zM473.6 63.3l1-.6-3.7-.7-1.1.6zM460.9 63.3l1.1-.6-3.7-.7-1.1.6zM430.9 63.6l2.1-1.1-3.5-.8-2.2 1.1zM405.2 63.6l2.6-1.2-1.7-.6-2.7 1.2zM443.4 63.7l2.2-1.1-3.6-.9-2.2 1.1zM411.5 63.6l2.7-1.2-1.8-.6-2.6 1.2zM417.9 63.6l2.6-1.1-1.7-.6-2.6 1.1zM477.4 63.4l1.1-.6-3.7-.6-1.1.5zM464.8 63.4l1.1-.5-3.8-.7-1 .5z"/><path fill="#6f5dbd" d="M400.2 63.8l2.7-1.2-1.7-.6-2.7 1.2z"/><path fill="#6351ba" d="M426.1 63.9l2.1-1.1-3.6-.9-2.1 1.1z"/><path fill="#9081cc" d="M481.3 63.5l1.1-.6-3.8-.6-1 .5z"/><path fill="#6351ba" d="M468.7 63.5l1-.5-3.7-.7-1 .5zM456.1 63.5l1-.5-3.7-.7-1.1.5zM406.6 63.8l2.6-1.2-1.7-.6-2.6 1.2zM438.6 63.9l2.1-1.1-3.5-.8-2.2 1.1zM413 63.8l2.6-1.1-1.7-.6-2.6 1.2zM451.1 63.9l2.1-1.1-3.5-.8-2.2 1.1zM472.5 63.6l1.1-.5-3.7-.7-1.1.5zM459.9 63.6l1.1-.5-3.7-.7-1.1.6zM421.2 64.1l2.2-1.1-3.6-.8-2.1 1.1zM401.7 64l2.6-1.2-1.7-.5-2.6 1.1zM476.4 63.8l1.1-.6-3.7-.7-1.1.6zM463.8 63.8l1-.6-3.7-.7-1 .6zM433.8 64.1l2.1-1.1-3.6-.8-2.1 1.1zM408.1 64.1l2.6-1.2-1.7-.6-2.6 1.2zM446.3 64.1l2.1-1-3.6-.9-2.1 1.1zM414.5 64.1l2.6-1.2-1.7-.6-2.6 1.2zM480.3 63.8l1-.5-3.7-.6-1 .5zM467.7 63.9l1-.6-3.7-.6-1.1.5zM428.9 64.3l2.2-1.1-3.6-.8-2.1 1.1zM403.2 64.3l2.6-1.2-1.7-.6-2.6 1.2z"/><path fill="#7e6fc6" d="M484.2 63.7l1-.6-3.7-.3-1.1.5z"/><path fill="#6351ba" d="M471.5 64l1.1-.5-3.7-.7-1.1.5zM458.9 64l1.1-.5-3.7-.7-1.1.5zM441.4 64.4l2.2-1.1-3.6-.8-2.1 1zM409.6 64.3l2.6-1.2-1.7-.6-2.6 1.2zM453.9 64.4l2.2-1.1-3.6-.8-2.1 1.1zM415.9 64.3l2.7-1.1-1.7-.6-2.7 1.2zM475.4 64.1l1.1-.5-3.8-.7-1 .5zM462.8 64.1l1-.5-3.7-.7-1 .5z"/><path fill="#6f5dc0" d="M398.3 64.5l2.6-1.2-1.7-.6-2.6 1.2z"/><path fill="#6351ba" d="M424.1 64.6l2.2-1.1-3.6-.9-2.2 1.1zM479.3 64.2l1-.5-3.7-.7-1 .6zM404.7 64.5l2.6-1.2-1.7-.5-2.7 1.1zM466.7 64.3l1-.6-3.7-.7-1.1.6zM436.6 64.6l2.2-1.1-3.6-.8-2.2 1.1zM411 64.6l2.7-1.2-1.8-.6-2.6 1.2z"/><path fill="#6651bd" d="M483.2 64.1l1-.6-3.7-.4-1.1.6z"/><path fill="#ccc6ea" d="M485.6 63.5l1.1-.7-2.4.2-1 .6z"/><path fill="#6351ba" d="M470.5 64.4l1.1-.6-3.7-.7-1.1.6zM419.3 64.8l2.1-1.1-3.5-.8-2.2 1.1zM399.8 64.7l2.6-1.1-1.7-.6-2.7 1.1zM431.8 64.8l2.1-1.1-3.5-.8-2.2 1.1zM474.4 64.5l1-.6-3.7-.6-1 .5zM406.1 64.8l2.6-1.2-1.7-.6-2.6 1.2zM461.8 64.5l1-.5-3.7-.7-1 .5zM444.3 64.9l2.1-1.1-3.5-.9-2.2 1.1zM412.5 64.8l2.6-1.2-1.7-.6-2.6 1.2zM456.8 64.9l2.2-1.1-3.6-.8-2.2 1.1zM478.3 64.6l1-.6-3.7-.6-1.1.5zM465.6 64.6l1.1-.5-3.7-.7-1.1.5zM427 65.1l2.1-1.1-3.6-.9-2.1 1.1zM401.2 65l2.6-1.2-1.7-.6-2.6 1.2z"/><path fill="#6651bd" d="M482.1 64.5l1.1-.6-3.7-.4-1.1.5z"/><path fill="#6654c3" d="M484.6 64.1l1.1-.9-2.3.1-1.1.7z"/><path fill="#6351ba" d="M469.5 64.7l1.1-.5-3.8-.7-1 .5zM439.5 65.1l2.1-1.1-3.6-.8-2.1 1.1zM407.6 65l2.6-1.2-1.7-.5-2.6 1.1zM452 65.1l2.1-1.1-3.5-.8-2.2 1.1zM414 65.1l2.6-1.2-1.7-.6-2.6 1.2zM473.4 64.9l1-.6-3.7-.7-1 .6zM396.3 65.2l2.6-1.2-1.7-.6-2.6 1.2zM422.1 65.3l2.2-1.1-3.6-.8-2.1 1zM402.7 65.2l2.6-1.1-1.7-.6-2.6 1.1zM434.6 65.3l2.2-1.1-3.6-.8-2.1 1.1zM477.3 65l1-.6-3.7-.7-1.1.6zM464.6 65l1.1-.6-3.7-.6-1.1.5z"/><path fill="#6657c9" d="M486.1 63.3l1-.9-2.3 1-1 .6z"/><path fill="#6351ba" d="M409.1 65.3l2.6-1.2-1.7-.6-2.6 1.2zM447.2 65.3l2.1-1-3.6-.9-2.1 1.1zM459.7 65.4l2.1-1.1-3.6-.8-2.1 1.1z"/><path fill="#6651ba" d="M481.1 65l1.1-.7-3.8-.4-1 .5z"/><path fill="#6654c0" d="M483.5 64.6l1.1-.9-2.2 0-1.1.7z"/><path fill="#6351ba" d="M468.5 65.1l1.1-.5-3.8-.7-1 .5zM417.3 65.5l2.2-1.1-3.6-.8-2.2 1.1zM397.8 65.4l2.6-1.1-1.7-.6-2.6 1.1zM429.8 65.5l2.2-1.1-3.6-.8-2.2 1.1zM404.2 65.5l2.6-1.2-1.7-.6-2.6 1.2zM472.4 65.2l1-.5-3.7-.7-1 .5zM442.3 65.6l2.2-1.1-3.6-.8-2.1 1zM410.5 65.5l2.7-1.2-1.7-.5-2.7 1.1zM454.8 65.6l2.2-1.1-3.6-.8-2.1 1.1zM476.2 65.3l1.1-.5-3.7-.7-1.1.6z"/><path fill="#6957cc" d="M485.1 64.2l1-1.1-2.3.6-1 .8z"/><path fill="#6351ba" d="M425 65.8l2.1-1.1-3.5-.9-2.2 1.1zM399.3 65.7l2.6-1.2-1.7-.6-2.7 1.2zM437.5 65.8l2.2-1.1-3.6-.8-2.2 1.1zM405.6 65.7l2.7-1.1-1.8-.6-2.6 1.1z"/><path fill="#6651ba" d="M480.1 65.4l1.1-.6-3.8-.6-1 .6z"/><path fill="#6654c0" d="M482.5 65.2l1.1-1-2.2-.2-1.1.9z"/><path fill="#6351ba" d="M467.5 65.5l1-.6-3.7-.7-1 .6zM450 65.8l2.2-1.1-3.6-.8-2.2 1.1zM412 65.8l2.6-1.2-1.7-.6-2.6 1.2zM462.5 65.9l2.2-1.1-3.6-.9-2.2 1.1zM471.4 65.6l1-.5-3.7-.7-1.1.5z"/><path fill="#b4aeed" d="M486.6 63.1l.9-1.3-2.2 1.7-1 .7z"/><path fill="#7b69c3" d="M394.3 65.9l2.7-1.2-1.7-.6-2.7 1.2z"/><path fill="#6351ba" d="M420.2 66l2.1-1.1-3.6-.8-2.1 1.1zM400.7 65.9l2.6-1.1-1.7-.6-2.6 1.1zM432.7 66l2.1-1.1-3.5-.8-2.2 1.1zM407.1 66l2.6-1.2-1.7-.6-2.6 1.2zM475.2 65.7l1.1-.5-3.7-.7-1.1.5zM445.2 66.1l2.1-1.1-3.5-.9-2.2 1.1z"/><path fill="#6657c6" d="M484 65l1.1-1.2-2.3.3-1 .9z"/><path fill="#6351ba" d="M457.7 66.1l2.1-1.1-3.5-.8-2.2 1.1z"/><path fill="#6651ba" d="M479.1 65.8l1.1-.6-3.8-.6-1 .5z"/><path fill="#6654c0" d="M481.4 65.7l1.2-.9-2.2-.4-1.1.9z"/><path fill="#6351ba" d="M415.3 66.2l2.2-1.1-3.6-.8-2.1 1.1zM395.8 66.2l2.6-1.2-1.7-.6-2.6 1.2zM427.9 66.3l2.1-1.1-3.6-.9-2.1 1.1z"/><path fill="#ffffff" d="M487.4 62l1.5-2.4-.7 1.2-1.6 2z"/><path fill="#6351ba" d="M402.2 66.2l2.6-1.2-1.7-.6-2.6 1.2zM440.4 66.3l2.1-1.1-3.6-.8-2.1 1.1z"/><path fill="#ffffff" d="M489.1 59.1l.5-1-1.2 2.3-.5.7z"/><path fill="#6351ba" d="M470.3 66l1.1-.6-3.7-.7-1.1.6zM408.6 66.2l2.6-1.1-1.7-.6-2.6 1.1z"/><path fill="#695ad5" d="M485.5 64.4l1-1.6-2.3 1.1-.9 1z"/><path fill="#6351ba" d="M452.9 66.3l2.1-1.1-3.6-.8-2.1 1.1zM465.4 66.4l2.1-1.1-3.5-.9-2.2 1.1zM474.2 66.1l1.1-.6-3.7-.7-1.1.6z"/><path fill="#6654c3" d="M482.9 65.7l1.2-1.2-2.3 0-1.1.9z"/><path fill="#6351ba" d="M423 66.5l2.2-1.1-3.6-.8-2.1 1zM397.3 66.4l2.6-1.2-1.7-.6-2.6 1.2zM435.5 66.5l2.2-1.1-3.6-.8-2.1 1.1zM403.7 66.4l2.6-1.1-1.7-.6-2.6 1.1z"/><path fill="#ffffff" d="M490 57.5l.8-2.2-.6 1.2-.8 2z"/><path fill="#6351ba" d="M478.1 66.2l1-.6-3.7-.6-1 .5z"/><path fill="#6651bd" d="M480.4 66.1l1.2-.8-2.2-.5-1.2.8z"/><path fill="#6351ba" d="M410 66.5l2.7-1.2-1.7-.6-2.7 1.2z"/><path fill="#9996f0" d="M486.9 63.5l1-2.3-2.2 2.1-.9 1.2z"/><path fill="#ffffff" d="M493.5 48.2l.7-2.3-.4 1.4-.9 2.2z"/><path fill="#6351ba" d="M460.6 66.6l2.1-1.1-3.6-.8-2.1 1.1z"/><path fill="#a5b7ff" d="M489.5 59.1l.3-1.4-1.2 2.2-.5 1z"/><path fill="#ffffff" d="M494.7 45.1l.2-1-1 2.6-.4 1z"/><path fill="#8a90f9" d="M488.3 61.6l.3-1.5-1.4 1.7-.4 1z"/><path fill="#695acf" d="M484.4 65.5l1.1-1.6-2.2.5-1.1 1.1z"/><path fill="#8778c9" d="M392.4 66.6l2.6-1.2-1.7-.6-2.6 1.2z"/><path fill="#6351ba" d="M418.2 66.7l2.2-1.1-3.6-.8-2.2 1.1z"/><path fill="#badbf9" d="M489.6 58.9l.7-2.3-.7 1-.7 2.1z"/><path fill="#fcf693" d="M497.2 42.5l1.1-2.4-2 1.1-1.1 2.3z"/><path fill="#6351ba" d="M398.8 66.7l2.6-1.2-1.7-.6-2.7 1.2zM430.7 66.7l2.2-1.1-3.6-.8-2.2 1.1z"/><path fill="#b7eae7" d="M492.1 53l.1-1.5-1 2-.1 1.2z"/><path fill="#a5d887" d="M493 50l.7-2.7-.6 1.3-.7 2.6z"/><path fill="#6351ba" d="M405.1 66.7l2.7-1.2-1.8-.6-2.6 1.2z"/><path fill="#ded878" d="M494.4 46.4l.2-1.3-1.2 2.5-.2 1.2z"/><path fill="#6351ba" d="M443.2 66.8l2.2-1.1-3.6-.8-2.2 1z"/><path fill="#ffe1a2" d="M495.6 44l.1-1.2-1.3 2-.1 1.1z"/><path fill="#6351ba" d="M473.2 66.4l1.1-.5-3.8-.7-1 .6z"/><path fill="#6654c0" d="M481.9 66.3l1.2-1.1-2.2-.2-1.2.9z"/><path fill="#6351ba" d="M455.7 66.8l2.2-1.1-3.6-.8-2.1 1.1zM468.2 66.8l2.2-1.1-3.6-.8-2.1 1.1z"/><path fill="#4bccd5" d="M491.7 54.6l.2-1.9-1.1 1.5-.1 1.6z"/><path fill="#6fc6ed" d="M490.5 57l.7-2.6-.6 1.1-.7 2.4z"/><path fill="#9fcc4e" d="M494.2 47.9l.1-1.6-1.3 2.3-.1 1.4z"/><path fill="#eac039" d="M495.3 45.5l.1-1.7-1.4 1.8-.1 1.5z"/><path fill="#6351ba" d="M477.1 66.6l1-.6-3.7-.7-1 .6z"/><path fill="#4ecc90" d="M492.9 51.3l.3-2.1-1 1.2-.1 2z"/><path fill="#6651ba" d="M479.4 66.6l1.2-.9-2.2-.5-1.2.8z"/><path fill="#6351ba" d="M413.4 66.9l2.1-1.1-3.5-.8-2.2 1.1z"/><path fill="#6960de" d="M485.8 65l1.1-2.1-2.2 1.1-1 1.4z"/><path fill="#6351ba" d="M393.8 66.9l2.7-1.2-1.7-.6-2.7 1.2z"/><path fill="#fce469" d="M497.1 43.3l.2-1.5-2.2 1.4-.2 1.4z"/><path fill="#6351ba" d="M425.9 67l2.1-1.1-3.5-.9-2.2 1.1z"/><path fill="#4e5df6" d="M488.3 62.1l.5-2-1.4 1.3-.3 1.5z"/><path fill="#6351ba" d="M400.2 66.9l2.6-1.2-1.7-.6-2.6 1.2z"/><path fill="#21aedb" d="M491.3 56l.2-2.1-.9 1.2-.2 1.9z"/><path fill="#6351ba" d="M438.4 67l2.1-1.1-3.5-.8-2.2 1.1z"/><path fill="#75cf6c" d="M493.9 49.6l0-1.9-1.3 2-.1 1.7z"/><path fill="#cfc63f" d="M494.9 47.2l.1-2.1-1.3 1.4-.1 2z"/><path fill="#6351ba" d="M406.6 66.9l2.6-1.1-1.7-.6-2.6 1.2z"/><path fill="#36c6a5" d="M492.5 52.8l.3-2.3-.8 1.1-.3 2.1z"/><path fill="#6351ba" d="M450.9 67l2.2-1.1-3.6-.8-2.2 1.1z"/><path fill="#3690f3" d="M490.3 58.7l.4-2.6-1.2 1.6-.4 2.1z"/><path fill="#6657c6" d="M483.4 66.3l1.1-1.3-2.2 0-1.1 1z"/><path fill="#6351ba" d="M463.4 67.1l2.2-1.1-3.6-.9-2.2 1.1z"/><path fill="#fcd257" d="M496.7 44.8l.2-1.9-2.2 1.2-.1 1.8z"/><path fill="#6c6ff3" d="M488 62.7l.4-1.3-2.2 2-.4.8z"/><path fill="#486ffc" d="M489 61.2l.5-2.2-1.3 1.2-.4 1.9z"/><path fill="#2aa5e7" d="M491.4 56.4l.1-1.7-1.4 2-.1 1.4z"/><path fill="#4bcc90" d="M493.5 51.4l.1-2.3-1.3 1.7-.1 2z"/><path fill="#b1cc57" d="M494.5 48.9l.2-2.4-1.3 1.3-.1 2.2z"/><path fill="#1ec0bd" d="M492.1 54.3l.4-2.4-.8 1-.3 2.2z"/><path fill="#6654bd" d="M480.9 66.8l1.2-1-2.2-.4-1.2.9z"/><path fill="#6351ba" d="M421.1 67.2l2.1-1.1-3.6-.8-2.1 1.1zM395.3 67.1l2.6-1.2-1.7-.5-2.6 1.1z"/><path fill="#f6cc66" d="M496.4 46.4l.2-2.1-2.2 1-.2 2z"/><path fill="#3f7bfc" d="M489.7 60.3l.5-2.4-1.1 1.1-.5 2.2z"/><path fill="#6351ba" d="M433.6 67.2l2.1-1.1-3.6-.8-2.1 1.1zM401.7 67.2l2.6-1.2-1.7-.6-2.6 1.2z"/><path fill="#3396ed" d="M491 57.9l.1-1.9-1.3 1.7-.1 1.5z"/><path fill="#18b4d5" d="M492.1 55.5l.1-2.1-1.4 1.6 0 1.9z"/><path fill="#6351ba" d="M446.1 67.3l2.1-1.1-3.5-.9-2.2 1.1z"/><path fill="#45ccb1" d="M493.1 53l.2-2.3-1.3 1.4-.1 2.1z"/><path fill="#90d57b" d="M494.1 50.6l.2-2.5-1.1 1.1-.3 2.3z"/><path fill="#6351ba" d="M408.1 67.2l2.6-1.2-1.7-.6-2.6 1.2z"/><path fill="#6c69ea" d="M487.5 63.8l.4-1.3-2.2 1.6-.5.8z"/><path fill="#6351ba" d="M476.1 66.9l1-.5-3.7-.7-1.1.5z"/><path fill="#6075fc" d="M488.5 62.6l.5-2.2-1.2.9-.5 1.9z"/><path fill="#6651ba" d="M478.4 67l1.2-.8-2.2-.6-1.2.8z"/><path fill="#6351ba" d="M458.6 67.3l2.1-1.1-3.5-.8-2.2 1.1z"/><path fill="#695ad2" d="M484.8 66.1l1.2-1.7-2.2.4-1.1 1.3z"/><path fill="#decf5d" d="M496 48.1l.2-2.3-2.1.9-.2 2.2z"/><path fill="#6351ba" d="M471.1 67.3l2.1-1.1-3.5-.8-2.2 1.1z"/><path fill="#368af6" d="M490.7 59.2l.1-1.9-1.4 1.4-.1 1.6z"/><path fill="#33aee4" d="M491.7 57.1l.2-2.2-1.3 1.3-.2 2z"/><path fill="#3fc9c3" d="M492.7 54.7l.2-2.4-1.2 1.2-.2 2.2z"/><path fill="#6fd59f" d="M493.7 52.3l.3-2.5-1.1.9-.3 2.4z"/><path fill="#7e6fc6" d="M390.4 67.3l2.6-1.1-1.7-.6-2.6 1.1z"/><path fill="#5a7efc" d="M489.2 61.9l.5-2.4-1.1.9-.5 2.1z"/><path fill="#6351ba" d="M416.2 67.4l2.2-1.1-3.6-.8-2.1 1.1z"/><path fill="#6654c0" d="M482.3 66.9l1.2-1.1-2.2-.3-1.1 1z"/><path fill="#6351ba" d="M396.8 67.4l2.6-1.2-1.7-.6-2.6 1.2zM428.7 67.5l2.2-1.1-3.6-.9-2.1 1.1z"/><path fill="#c0d572" d="M495.6 49.8l.3-2.4-2.1.8-.2 2.3z"/><path fill="#6c72f6" d="M488 63.7l.6-1.9-1.3.6-.5 1.8z"/><path fill="#6351ba" d="M403.2 67.4l2.6-1.2-1.7-.6-2.6 1.2zM441.3 67.5l2.1-1.1-3.6-.8-2.1 1.1z"/><path fill="#48a8ed" d="M491.3 58.5l.2-2.2-1.2 1.2-.2 1.9z"/><path fill="#3cc3d8" d="M492.3 56.3l.3-2.4-1.2 1-.2 2.3z"/><path fill="#57cfb7" d="M493.3 54l.4-2.5-1.1.8-.4 2.4z"/><path fill="#6351ba" d="M453.8 67.5l2.1-1.1-3.6-.8-2.1 1.1z"/><path fill="#6651ba" d="M479.9 67.2l1.2-.9-2.2-.5-1.2.8z"/><path fill="#6960de" d="M486.2 65.8l1.2-2.3-2.1.8-1.1 1.7z"/><path fill="#6351ba" d="M466.3 67.6l2.1-1.1-3.6-.9-2.1 1.1z"/><path fill="#579cf9" d="M491.1 59.3l.1-1.5-2.1 2.3-.2 1.2z"/><path fill="#96db90" d="M495.3 51.6l.3-2.4-2.1.7-.3 2.3z"/><path fill="#6c7bf9" d="M488.7 63.2l.6-2.1-1.2.6-.6 2z"/><path fill="#48bae4" d="M492 57.8l.3-2.3-1.2.9-.3 2.1z"/><path fill="#3cc9cc" d="M493 55.7l.3-2.5-1.1.7-.3 2.4z"/><path fill="#6351ba" d="M411.4 67.6l2.2-1.1-3.6-.8-2.2 1.1zM477.4 67.3l1.2-.7-2.2-.6-1.2.8zM391.9 67.6l2.6-1.2-1.7-.6-2.6 1.2z"/><path fill="#6657c9" d="M483.8 66.9l1.2-1.3-2.2-.1-1.1 1.1z"/><path fill="#6351ba" d="M423.9 67.7l2.2-1.1-3.6-.8-2.2 1z"/><path fill="#6093fc" d="M490.8 60.6l.1-1.5-2.1 2-.2 1.2z"/><path fill="#6351ba" d="M398.3 67.6l2.6-1.2-1.7-.5-2.6 1.1z"/><path fill="#6cd5a8" d="M494.9 53.4l.3-2.4-2 .6-.3 2.3z"/><path fill="#6c6ff0" d="M488.4 64.1l.4-1.6-2.2 1.3-.4 1.2z"/><path fill="#6351ba" d="M436.4 67.7l2.2-1.1-3.6-.8-2.1 1.1zM404.6 67.7l2.7-1.2-1.8-.6-2.6 1.2z"/><path fill="#3fc0de" d="M492.6 57.3l.4-2.4-1.1.6-.4 2.3z"/><path fill="#6654bd" d="M481.3 67.4l1.2-1-2.2-.4-1.1.9z"/><path fill="#6351ba" d="M461.4 67.8l2.2-1.1-3.6-.8-2.1 1.1z"/><path fill="#6987fc" d="M490.4 61.8l.2-1.5-2.2 1.7-.2 1.1z"/><path fill="#4eb1ea" d="M492.6 58.5l.1-2-2.1 1.6-.2 1.7z"/><path fill="#6351ba" d="M474 67.8l2.1-1.1-3.6-.8-2.1 1.1z"/><path fill="#60d2c9" d="M494.6 55.2l.3-2.4-2 .5-.4 2.3z"/><path fill="#6c66e7" d="M487.9 65.1l.5-1.4-2.3.9-.4 1z"/><path fill="#6651ba" d="M478.9 67.6l1.2-.8-2.2-.6-1.2.8z"/><path fill="#6351ba" d="M419.1 67.9l2.1-1.1-3.5-.8-2.2 1.1zM393.4 67.8l2.6-1.1-1.7-.6-2.7 1.1z"/><path fill="#695acf" d="M485.2 66.9l1.2-1.7-2.1.2-1.2 1.3z"/><path fill="#57a5f3" d="M492.2 60l.2-2-2.2 1.3-.2 1.7z"/><path fill="#6351ba" d="M431.6 67.9l2.2-1.1-3.6-.8-2.2 1.1z"/><path fill="#42c9d5" d="M494.2 56.9l.4-2.4-2.1.4-.3 2.3z"/><path fill="#6351ba" d="M399.7 67.9l2.7-1.2-1.8-.6-2.6 1.2z"/><path fill="#6c7bf9" d="M489.9 63.5l.4-2-2.2 1.1-.4 1.7z"/><path fill="#6351ba" d="M444.1 68l2.2-1.1-3.6-.8-2.2 1zM406.1 67.9l2.6-1.2-1.7-.6-2.6 1.2zM456.6 68l2.2-1.1-3.6-.8-2.2 1.1z"/><path fill="#6654c0" d="M482.8 67.6l1.2-1.1-2.2-.3-1.2.9z"/><path fill="#6351ba" d="M469.1 68l2.2-1.1-3.6-.8-2.1 1.1z"/><path fill="#5d96fc" d="M491.9 61.3l.2-1.8-2.2 1-.2 1.6z"/><path fill="#57c0e7" d="M493.9 58.5l.4-2.3-2.1.3-.4 2.2z"/><path fill="#6351ba" d="M388.4 68l2.7-1.1-1.7-.6-2.7 1.1zM414.3 68.1l2.1-1.1-3.6-.8-2.1 1.1z"/><path fill="#6c6ff3" d="M489.4 64.8l.4-1.8-2.2.8-.4 1.4z"/><path fill="#6651ba" d="M480.3 67.8l1.2-.8-2.2-.5-1.2.8z"/><path fill="#6351ba" d="M394.8 68.1l2.6-1.2-1.7-.6-2.6 1.2zM426.8 68.2l2.1-1.1-3.5-.9-2.2 1.1z"/><path fill="#695ddb" d="M486.7 66.8l1.2-2.1-2.1.3-1.2 1.7z"/><path fill="#66b7f0" d="M493.6 60l.3-2.1-2.1.2-.3 2z"/><path fill="#6351ba" d="M474.9 68.1l2.7-1.2-1.7-.6-2.7 1.2zM401.2 68.1l2.6-1.2-1.7-.5-2.6 1.1zM439.3 68.2l2.1-1.1-3.5-.8-2.2 1.1z"/><path fill="#6687ff" d="M491.3 63.2l.5-2.4-2.1.7-.5 2.1z"/><path fill="#6351ba" d="M451.8 68.2l2.1-1.1-3.5-.8-2.2 1.1zM464.3 68.3l2.2-1.1-3.6-.9-2.2 1.1z"/><path fill="#6657c6" d="M484.2 67.7l1.3-1.3-2.2-.2-1.2 1.1z"/><path fill="#69abf9" d="M493.2 61.4l.4-2-2.1.1-.4 1.9z"/><path fill="#6c66e7" d="M488.8 65.8l.6-1.5-2.3.4-.5 1.3z"/><path fill="#6351ba" d="M409.4 68.4l2.2-1.1-3.6-.9-2.1 1.1zM389.9 68.3l2.6-1.2-1.7-.6-2.6 1.2zM422 68.4l2.1-1.1-3.6-.8-2.1 1.1z"/><path fill="#6c78f9" d="M490.8 64.6l.5-2.1-2.1.5-.6 1.8z"/><path fill="#6654bd" d="M481.8 68l1.2-.9-2.2-.4-1.2.8z"/><path fill="#6351ba" d="M396.3 68.3l2.6-1.1-1.7-.6-2.6 1.1zM434.5 68.4l2.1-1.1-3.6-.8-2.1 1.1zM476.4 68.4l2.6-1.2-1.7-.6-2.6 1.2zM402.7 68.4l2.6-1.2-1.7-.6-2.6 1.2z"/><path fill="#729cff" d="M492.6 63.2l.7-2.5-2.1 0-.6 2.4z"/><path fill="#6351ba" d="M459.5 68.5l2.1-1.1-3.6-.8-2.1 1.1z"/><path fill="#6960de" d="M488.3 66.6l.6-1.3-2.3.3-.5 1z"/><path fill="#6351ba" d="M472 68.5l2.1-1.1-3.5-.8-2.2 1.1z"/><path fill="#6657cc" d="M485.7 67.8l1.2-1.5-2.1-.2-1.2 1.3z"/><path fill="#6c6cf0" d="M490.3 65.7l.5-1.7-2.2.2-.5 1.6z"/><path fill="#6351ba" d="M417.1 68.6l2.2-1.1-3.6-.8-2.1 1.1zM391.4 68.5l2.6-1.1-1.7-.6-2.6 1.1z"/><path fill="#788afc" d="M492.2 64.7l.6-2.1-2.1-.1-.6 2z"/><path fill="#6351ba" d="M429.6 68.6l2.2-1-3.6-.9-2.1 1.1z"/><path fill="#6654c0" d="M483.2 68.2l1.3-1-2.2-.4-1.2.9z"/><path fill="#6351ba" d="M397.8 68.6l2.6-1.2-1.7-.6-2.6 1.2zM442.1 68.7l2.2-1.1-3.6-.8-2.1 1.1zM477.9 68.6l2.6-1.2-1.7-.6-2.6 1.2zM404.1 68.6l2.7-1.2-1.7-.5-2.7 1.1zM454.7 68.7l2.1-1.1-3.6-.8-2.1 1.1zM467.2 68.8l2.1-1.1-3.6-.9-2.1 1.1z"/><path fill="#6c63e4" d="M489.8 66.6l.6-1.4-2.3 0-.5 1.3z"/><path fill="#695acf" d="M487.1 67.9l1.3-1.8-2.1-.1-1.2 1.6z"/><path fill="#7b81f6" d="M491.7 65.9l.6-1.8-2.1-.2-.6 1.7z"/><path fill="#6651ba" d="M386.4 68.4l2.7-.8-1.7-.6-2.6.8z"/><path fill="#6351ba" d="M412.3 68.8l2.2-1.1-3.6-.8-2.2 1.1zM392.9 68.8l2.6-1.2-1.7-.6-2.7 1.2zM424.8 68.9l2.2-1.1-3.6-.8-2.2 1zM473 68.8l2.6-1.2-1.7-.5-2.6 1.1z"/><path fill="#6654c0" d="M484.7 68.4l1.2-1.1-2.1-.4-1.2 1z"/><path fill="#6351ba" d="M399.2 68.8l2.7-1.1-1.8-.6-2.6 1.1zM437.3 68.9l2.2-1.1-3.6-.8-2.2 1.1z"/><path fill="#6651ba" d="M479.4 68.9l2.6-1.3-1.7-.5-2.6 1.2z"/><path fill="#6351ba" d="M462.3 69l2.2-1.1-3.6-.8-2.1 1.1z"/><path fill="#7e78ed" d="M491.2 66.8l.6-1.4-2.2-.3-.6 1.4z"/><path fill="#695dd5" d="M488.6 68.1l1.2-2-2-.2-1.3 1.8z"/><path fill="#6351ba" d="M407.5 69.1l2.1-1.1-3.6-.9-2.1 1.1z"/><path fill="#6651bd" d="M387.9 68.7l2.7-.9-1.7-.6-2.7.9z"/><path fill="#6351ba" d="M420 69.1l2.1-1.1-3.5-.8-2.2 1.1zM394.3 69l2.6-1.1-1.7-.6-2.6 1.1zM432.5 69.1l2.1-1.1-3.5-.8-2.2 1.1zM474.5 69.1l2.6-1.2-1.7-.6-2.7 1.2z"/><path fill="#6654c6" d="M486.2 68.6l1.2-1.2-2.1-.4-1.3 1.1z"/><path fill="#6351ba" d="M400.7 69.1l2.6-1.2-1.7-.6-2.6 1.2zM445 69.2l2.1-1.1-3.5-.8-2.2 1z"/><path fill="#6651ba" d="M480.8 69.1l2.6-1.3-1.7-.5-2.6 1.2z"/><path fill="#6351ba" d="M457.5 69.2l2.2-1.1-3.6-.8-2.2 1.1zM470 69.2l2.2-1.1-3.6-.8-2.2 1.1z"/><path fill="#7266db" d="M490 68.3l1.3-2-2-.4-1.3 1.9z"/><path fill="#6351ba" d="M415.2 69.3l2.1-1.1-3.6-.8-2.1 1.1z"/><path fill="#6651ba" d="M389.4 69l2.6-.9-1.6-.6-2.7.9z"/><path fill="#6351ba" d="M427.7 69.4l2.1-1.1-3.6-.9-2.1 1.1zM395.8 69.3l2.6-1.2-1.7-.6-2.6 1.2zM440.2 69.4l2.1-1.1-3.6-.8-2.1 1.1zM475.9 69.3l2.6-1.2-1.7-.5-2.6 1.1z"/><path fill="#6657c6" d="M487.6 68.9l1.3-1.4-2.1-.4-1.3 1.2z"/><path fill="#6351ba" d="M402.2 69.3l2.6-1.1-1.7-.6-2.6 1.1zM452.7 69.4l2.1-1.1-3.5-.8-2.2 1.1z"/><path fill="#6651bd" d="M482.3 69.3l2.6-1.3-1.7-.5-2.6 1.3z"/><path fill="#6351ba" d="M465.2 69.5l2.1-1.1-3.5-.9-2.2 1.1zM410.3 69.6l2.2-1.1-3.6-.9-2.1 1.1z"/><path fill="#6651ba" d="M390.9 69.4l2.6-1.1-1.7-.6-2.6 1z"/><path fill="#6351ba" d="M422.8 69.6l2.2-1.1-3.6-.8-2.1 1.1zM471 69.5l2.6-1.1-1.7-.6-2.6 1.1zM397.3 69.5l2.6-1.1-1.7-.6-2.6 1.1zM435.4 69.6l2.1-1.1-3.6-.8-2.1 1.1zM477.4 69.6l2.6-1.2-1.7-.6-2.6 1.2z"/><path fill="#7869cf" d="M489.1 69.1l1.2-1.4-2.1-.5-1.2 1.4z"/><path fill="#6654bd" d="M483.8 69.6l2.6-1.4-1.7-.6-2.6 1.4z"/><path fill="#6351ba" d="M460.4 69.7l2.1-1.1-3.6-.8-2.1 1.1z"/><path fill="#695ad2" d="M385.1 67.2l1 .9-2.3-.2-1-1z"/><path fill="#6351ba" d="M405.5 69.8l2.2-1.1-3.6-.8-2.2 1.1zM418 69.8l2.2-1.1-3.6-.8-2.2 1.1z"/><path fill="#6651ba" d="M392.4 69.7l2.6-1.1-1.7-.6-2.7 1z"/><path fill="#6351ba" d="M430.5 69.8l2.2-1-3.6-.9-2.1 1.1zM472.5 69.8l2.6-1.2-1.7-.6-2.6 1.2z"/><path fill="#6654c0" d="M388.9 69l1.2-.3-2.3-.6-1.1.2z"/><path fill="#6351ba" d="M398.7 69.8l2.7-1.2-1.8-.6-2.6 1.2zM443 69.9l2.2-1.1-3.6-.8-2.1 1.1zM478.9 69.8l2.6-1.2-1.7-.6-2.6 1.2zM455.5 69.9l2.2-1.1-3.6-.8-2.1 1.1z"/><path fill="#6654bd" d="M485.3 69.8l2.6-1.4-1.8-.6-2.6 1.5z"/><path fill="#6351ba" d="M468.1 70l2.1-1.1-3.6-.9-2.1 1.1zM413.2 70l2.1-1.1-3.5-.8-2.2 1.1zM425.7 70.1l2.1-1.1-3.5-.8-2.2 1zM393.8 70l2.7-1.2-1.8-.6-2.6 1.1z"/><path fill="#9390f0" d="M383.8 65.6l1.2 2.1-2-.2-1.2-2.2z"/><path fill="#6351ba" d="M438.2 70.1l2.2-1.1-3.6-.8-2.2 1.1zM474 70l2.6-1.1-1.7-.6-2.7 1.1z"/><path fill="#6654c0" d="M390.4 69.5l1.1-.5-2.2-.6-1.1.3z"/><path fill="#6351ba" d="M400.2 70l2.6-1.1-1.7-.6-2.6 1.2zM450.7 70.1l2.2-1-3.6-.9-2.2 1.1zM480.3 70.1l2.7-1.2-1.8-.6-2.6 1.2zM463.2 70.2l2.2-1.1-3.6-.8-2.2 1.1z"/><path fill="#7b6cc6" d="M486.8 70.1l2.5-1.5-1.7-.6-2.6 1.5z"/><path fill="#6351ba" d="M408.4 70.3l2.1-1.1-3.6-.9-2.1 1.1zM420.9 70.3l2.1-1.1-3.6-.8-2.1 1.1zM469 70.2l2.7-1.1-1.7-.6-2.7 1.2zM395.3 70.2l2.6-1.1-1.7-.6-2.6 1.1zM433.4 70.3l2.1-1.1-3.5-.8-2.2 1.1zM475.4 70.3l2.6-1.2-1.7-.6-2.6 1.2z"/><path fill="#6654bd" d="M391.8 69.9l1.2-.6-2.2-.7-1.2.5z"/><path fill="#6351ba" d="M445.9 70.4l2.1-1.1-3.5-.9-2.2 1.1z"/><path fill="#8790f9" d="M383.5 64.8l.5 1.5-2.2-.4-.5-1.7z"/><path fill="#6351ba" d="M481.8 70.3l2.6-1.2-1.7-.6-2.6 1.2zM458.4 70.4l2.1-1.1-3.5-.8-2.2 1.1z"/><path fill="#6654c3" d="M389.4 69.4l1.1-.2-2.3-.7-1-.1z"/><path fill="#6351ba" d="M403.5 70.5l2.2-1.1-3.6-.8-2.1 1.1zM416.1 70.5l2.1-1.1-3.6-.8-2.1 1.1z"/><path fill="#7593ff" d="M383 63.4l.5 1.9-2.2-.5-.5-2.1z"/><path fill="#6351ba" d="M428.6 70.6l2.1-1.1-3.6-.9-2.1 1.1zM470.5 70.5l2.6-1.2-1.7-.6-2.6 1.2zM396.8 70.5l2.6-1.2-1.7-.6-2.6 1.2zM441.1 70.6l2.1-1.1-3.6-.8-2.1 1.1zM476.9 70.5l2.6-1.1-1.7-.6-2.6 1.1z"/><path fill="#6651bd" d="M393.3 70.2l1.2-.6-2.2-.7-1.2.6z"/><path fill="#6351ba" d="M453.6 70.6l2.1-1.1-3.6-.8-2.1 1.1zM483.3 70.6l2.6-1.2-1.7-.6-2.6 1.2zM466.1 70.7l2.1-1.1-3.5-.9-2.2 1.1z"/><path fill="#84b4fc" d="M382.7 62.4l.3 1.6-2.3-.8-.2-1.6z"/><path fill="#6654c3" d="M390.8 70l1.2-.4-2.3-.8-1.1.2z"/><path fill="#6351ba" d="M411.2 70.8l2.2-1.1-3.6-.9-2.2 1.1zM423.7 70.8l2.2-1.1-3.6-.8-2.1 1.1zM436.2 70.8l2.2-1.1-3.6-.8-2.1 1.1zM472 70.7l2.6-1.1-1.7-.6-2.6 1.2zM398.2 70.8l2.7-1.2-1.7-.6-2.7 1.2z"/><path fill="#7bbaf6" d="M382.4 61.3l.2 1.6-2.2-.8-.2-1.7z"/><path fill="#6351ba" d="M478.4 70.8l2.6-1.2-1.7-.6-2.6 1.2z"/><path fill="#6651ba" d="M394.8 70.5l1.2-.7-2.2-.6-1.2.7z"/><path fill="#6351ba" d="M461.3 70.9l2.1-1.1-3.6-.8-2.1 1.1z"/><path fill="#8a7ecc" d="M484.8 70.8l2.6-1.2-1.7-.6-2.7 1.2z"/><path fill="#87c9f0" d="M382 60l.3 1.8-2.2-.9-.2-1.9z"/><path fill="#6351ba" d="M406.4 71l2.1-1.1-3.5-.8-2.2 1z"/><path fill="#6654c0" d="M392.3 70.4l1.2-.5-2.2-.7-1.2.4z"/><path fill="#6351ba" d="M418.9 71l2.2-1.1-3.6-.8-2.2 1.1zM467.1 71l2.6-1.2-1.7-.6-2.6 1.2zM431.4 71l2.2-1-3.6-.9-2.2 1.1zM473.5 71l2.6-1.2-1.7-.6-2.7 1.2z"/><path fill="#69c9e7" d="M381.7 58.6l.2 1.9-2.1-1-.3-2z"/><path fill="#6351ba" d="M443.9 71.1l2.2-1.1-3.6-.8-2.2 1.1z"/><path fill="#6657cc" d="M389.8 69.9l1.2-.1-2.3-.9-1.1-.4z"/><path fill="#6351ba" d="M479.8 71l2.7-1.1-1.8-.6-2.6 1.1zM456.4 71.1l2.2-1.1-3.6-.8-2.1 1.1z"/><path fill="#6651ba" d="M396.2 70.8l1.2-.7-2.2-.6-1.2.7z"/><path fill="#5acfd5" d="M381.4 57.2l.2 1.9-2.2-1-.2-2.1z"/><path fill="#6351ba" d="M401.6 71.2l2.1-1.1-3.6-.8-2.1 1.1zM414.1 71.2l2.1-1.1-3.5-.8-2.2 1.1z"/><path fill="#6654bd" d="M393.7 70.8l1.2-.6-2.2-.7-1.1.6z"/><path fill="#6351ba" d="M426.6 71.3l2.1-1.1-3.5-.8-2.2 1zM468.6 71.2l2.6-1.2-1.7-.6-2.7 1.2zM439.1 71.3l2.1-1.1-3.5-.8-2.2 1.1z"/><path fill="#87dec6" d="M381 55.7l.2 2-2.1-1.1-.2-2.2z"/><path fill="#6351ba" d="M474.9 71.2l2.6-1.1-1.7-.6-2.6 1.2zM451.6 71.3l2.2-1-3.6-.9-2.2 1.1z"/><path fill="#6654c6" d="M391.3 70.6l1.2-.4-2.3-.9-1.1.1z"/><path fill="#6351ba" d="M481.3 71.3l2.6-1.2-1.7-.6-2.6 1.2zM397.7 71.1l1.2-.8-2.2-.6-1.2.8zM464.1 71.4l2.2-1.1-3.6-.8-2.2 1.1z"/><path fill="#99e1ae" d="M380.7 54.3l.2 2-2.2-1.3-.2-2.1z"/><path fill="#6351ba" d="M409.3 71.5l2.1-1.1-3.6-.9-2.1 1.1z"/><path fill="#695ad5" d="M388.8 69.5l1.1.3-2.3-1.3-.9-.9z"/><path fill="#6651ba" d="M395.2 71.1l1.2-.7-2.2-.6-1.2.7z"/><path fill="#6351ba" d="M421.8 71.5l2.1-1.1-3.6-.8-2.1 1.1zM434.3 71.5l2.1-1.1-3.6-.8-2.1 1.1zM470 71.5l2.6-1.2-1.7-.6-2.6 1.2z"/><path fill="#bae196" d="M380.4 52.9l.1 1.9-2.1-1.4-.2-2z"/><path fill="#6351ba" d="M476.4 71.5l2.6-1.2-1.7-.6-2.6 1.2z"/><path fill="#6654c0" d="M392.7 71.1l1.2-.6-2.2-.8-1.1.4z"/><path fill="#6351ba" d="M459.3 71.6l2.1-1.1-3.5-.8-2.2 1.1z"/><path fill="#7866c3" d="M482.8 71.5l2.6-1.1-1.7-.6-2.6 1.1z"/><path fill="#6351ba" d="M404.4 71.7l2.2-1.1-3.6-.8-2.1 1.1z"/><path fill="#dbe199" d="M380 51.7l.2 1.7-2.2-1.6-.1-1.8z"/><path fill="#695acf" d="M390.2 70.5l1.2-.2-2.2-1.1-1.1-.3z"/><path fill="#6351ba" d="M416.9 71.7l2.2-1.1-3.6-.8-2.1 1.1z"/><path fill="#6651ba" d="M396.7 71.4l1.2-.7-2.2-.6-1.2.7z"/><path fill="#6351ba" d="M400.7 71.4l1.1-.5-3.8-.7-1 .5zM465.1 71.7l2.6-1.2-1.7-.6-2.6 1.2zM429.4 71.8l2.2-1.1-3.6-.9-2.1 1.1zM471.5 71.7l2.6-1.2-1.7-.6-2.6 1.2zM442 71.8l2.1-1.1-3.6-.8-2.1 1.1zM477.9 71.7l2.6-1.1-1.7-.6-2.6 1.2zM454.5 71.8l2.1-1.1-3.6-.8-2.1 1.1z"/><path fill="#f6e7b4" d="M379.5 49.8l.3 2.3-2.1-1.5-.3-2.5z"/><path fill="#6654bd" d="M394.2 71.5l1.2-.7-2.2-.7-1.2.6z"/><path fill="#6657cc" d="M387.1 68.6l1.8.8-.8-.6-1.6-1.6z"/><path fill="#6351ba" d="M412.1 72l2.2-1.1-3.6-.9-2.2 1.1z"/><path fill="#6657c9" d="M391.7 71.3l1.2-.5-2.2-1-1.1.2z"/><path fill="#6351ba" d="M424.6 72l2.2-1.1-3.6-.8-2.2 1.1zM466.6 71.9l2.6-1.2-1.7-.5-2.6 1.1z"/><path fill="#ffffff" d="M381.3 55.2l.3 1.1-1.2-2.3-.2-1.4z"/><path fill="#6351ba" d="M437.1 72l2.2-1.1-3.6-.8-2.1 1.1z"/><path fill="#fff0c9" d="M379 48.7l.4 1.6-2.2-1.8-.3-1.7z"/><path fill="#6351ba" d="M473 72l2.6-1.2-1.7-.6-2.6 1.2zM479.3 72l2.7-1.2-1.7-.6-2.7 1.2z"/><path fill="#695ddb" d="M389.2 70.3l1.2.1-2.2-1.6-1.1-.6z"/><path fill="#6351ba" d="M462.1 72.1l2.2-1.1-3.6-.8-2.1 1.1z"/><path fill="#6651ba" d="M395.7 71.8l1.2-.7-2.2-.7-1.2.7z"/><path fill="#6351ba" d="M399.7 71.8l1-.6-3.7-.7-1 .5z"/><path fill="#ffffff" d="M385.3 66.2l1.7 1.7-.7-1-1.5-2.5z"/><path fill="#6351ba" d="M407.3 72.2l2.1-1.1-3.5-.8-2.2 1zM419.8 72.2l2.1-1.1-3.5-.8-2.2 1.1z"/><path fill="#6654c0" d="M393.2 71.7l1.2-.6-2.2-.8-1.2.5z"/><path fill="#ffffff" d="M384 63.2l.7 1-.3-1.3-1-1.8z"/><path fill="#6351ba" d="M403.6 71.9l1-.6-3.7-.6-1.1.5zM432.3 72.2l2.2-1-3.6-.9-2.2 1.1zM468.1 72.2l2.6-1.2-1.7-.6-2.7 1.2z"/><path fill="#8781db" d="M386.1 67.8l1.7 1-.6-1.1-1.7-1.8z"/><path fill="#6351ba" d="M444.8 72.3l2.2-1.1-3.6-.8-2.2 1.1zM474.4 72.2l2.7-1.2-1.8-.6-2.6 1.2z"/><path fill="#fcf3ab" d="M377.8 48.1l1.1.9-2.1-2.2-1-.9z"/><path fill="#6351ba" d="M457.3 72.3l2.2-1.1-3.6-.8-2.2 1.1z"/><path fill="#7866c3" d="M480.8 72.2l2.6-1.1-1.7-.6-2.6 1.2z"/><path fill="#695acf" d="M390.6 71.3l1.3-.3-2.2-1.2-1.1 0z"/><path fill="#6060ed" d="M387 69l1.6.6-.7-1.2-1.7-1.2z"/><path fill="#ffffff" d="M383.5 62.2l.7.9-.6-2.1-.7-1zM382 58.3l.7 1.1-.6-2.3-.7-1.2z"/><path fill="#6351ba" d="M415 72.4l2.1-1.1-3.6-.8-2.1 1.1zM463.1 72.4l2.7-1.2-1.7-.6-2.7 1.2z"/><path fill="#fcd845" d="M377.6 49l1.8 1-.4-1.5-1.7-1.1z"/><path fill="#6351ba" d="M427.5 72.5l2.1-1.1-3.5-.8-2.2 1z"/><path fill="#6651bd" d="M394.7 72.1l1.2-.7-2.2-.7-1.2.7z"/><path fill="#6351ba" d="M398.7 72.1l1-.5-3.7-.7-1 .5z"/><path fill="#ffffff" d="M384 63.6l.7.7-.7-2-.7-.9z"/><path fill="#6351ba" d="M469.5 72.4l2.6-1.2-1.7-.5-2.6 1.1z"/><path fill="#9cc3fc" d="M384.5 65.4l1.5 1.2-.5-1.8-1.7-2.1z"/><path fill="#6351ba" d="M440 72.5l2.1-1.1-3.5-.8-2.2 1.1z"/><path fill="#ffffff" d="M382.5 59.9l.7.9-.6-2.3-.7-1z"/><path fill="#6c63e7" d="M387.7 70l1.7.2-.8-1.2-1.7-.6z"/><path fill="#dbedc6" d="M381 55.9l.7.9-.6-2.4-.7-1z"/><path fill="#6351ba" d="M475.9 72.5l2.6-1.2-1.7-.6-2.6 1.2zM452.5 72.5l2.1-1.1-3.5-.8-2.2 1.1z"/><path fill="#fcd560" d="M378.2 50.4l1.6.9-.4-1.9-1.6-.9z"/><path fill="#6654c6" d="M392.1 72l1.3-.6-2.2-.9-1.2.4z"/><path fill="#87dee7" d="M383 61.4l.7.8-.7-2.3-.7-.9z"/><path fill="#6351ba" d="M402.5 72.3l1.1-.6-3.7-.7-1.1.6z"/><path fill="#48cc93" d="M381.5 57.6l.7.7-.6-2.4-.7-.9z"/><path fill="#5a7bfc" d="M385.3 67.1l1.5.8-.7-1.9-1.6-1.4z"/><path fill="#f0c03f" d="M378.8 52l1.5.7-.5-2.2-1.5-.7z"/><path fill="#6351ba" d="M410.1 72.7l2.2-1.1-3.6-.9-2.1 1.1z"/><path fill="#2aa5e4" d="M383.5 62.9l.7.6-.7-2.2-.7-.7z"/><path fill="#51cfc3" d="M382 59.2l.7.7-.7-2.5-.6-.7z"/><path fill="#6351ba" d="M422.7 72.7l2.1-1.1-3.6-.8-2.1 1.1z"/><path fill="#695dd8" d="M389.6 71.4l1.3-.3-2.1-1.6-1.2-.1z"/><path fill="#6351ba" d="M464.6 72.6l2.6-1.1-1.7-.6-2.6 1.1zM406.4 72.4l1.1-.6-3.7-.7-1.1.6z"/><path fill="#d5c951" d="M379.3 53.6l1.5.6-.5-2.3-1.5-.7z"/><path fill="#6351ba" d="M435.2 72.7l2.1-1.1-3.6-.8-2.1 1.1zM471 72.7l2.6-1.2-1.7-.6-2.6 1.2z"/><path fill="#4e5af3" d="M386 68.5l1.5.5-.7-1.8-1.6-.9z"/><path fill="#12bacc" d="M382.5 60.9l.7.5-.7-2.4-.7-.6z"/><path fill="#6351ba" d="M477.4 72.7l2.6-1.2-1.7-.6-2.6 1.2z"/><path fill="#99cc5a" d="M379.8 55.3l1.5.5-.6-2.4-1.4-.6z"/><path fill="#6351ba" d="M460.2 72.8l2.1-1.1-3.5-.8-2.2 1.1z"/><path fill="#6654bd" d="M393.6 72.4l1.2-.6-2.1-.8-1.2.6z"/><path fill="#6651ba" d="M397.7 72.5l1-.5-3.7-.8-1.1.5z"/><path fill="#3099ed" d="M383.1 63.8l1.6 1-.3-1.9-1.6-1.3z"/><path fill="#24aede" d="M383 62.4l.7.5-.7-2.4-.7-.5z"/><path fill="#6c6ff0" d="M386.8 69.7l1.5.2-.9-1.6-1.5-.5z"/><path fill="#66cf84" d="M380.3 57.1l1.5.4-.6-2.5-1.4-.5z"/><path fill="#6351ba" d="M417.8 72.9l2.2-1.1-3.6-.8-2.1 1.1z"/><path fill="#398af6" d="M383.7 65.2l1.6.8-.4-1.8-1.7-1.1z"/><path fill="#6657c9" d="M391.1 72.2l1.3-.5-2.2-1.1-1.2.2z"/><path fill="#6351ba" d="M430.3 73l2.2-1.1-3.6-.9-2.1 1.1zM401.5 72.6l1.1-.5-3.7-.7-1.1.5zM466.1 72.9l2.6-1.2-1.7-.6-2.6 1.2z"/><path fill="#3cc9a8" d="M380.8 58.8l1.5.4-.6-2.5-1.4-.4z"/><path fill="#6351ba" d="M442.8 73l2.2-1.1-3.6-.8-2.1 1.1zM472.5 72.9l2.6-1.1-1.7-.6-2.6 1.1z"/><path fill="#3f7bfc" d="M384.2 66.5l1.6.5-.5-1.7-1.6-.8z"/><path fill="#6351ba" d="M455.4 73l2.1-1.1-3.6-.8-2.1 1.1z"/><path fill="#7566c0" d="M478.8 73l2.7-1.2-1.7-.6-2.7 1.2z"/><path fill="#24c0c0" d="M381.3 60.6l1.5.2-.6-2.4-1.5-.3z"/><path fill="#6c63e4" d="M388.5 71.4l1.3-.2-2-2-1.2-.2z"/><path fill="#6351ba" d="M405.4 72.7l1.1-.5-3.8-.7-1 .5z"/><path fill="#4866f9" d="M385.1 68.2l1.4.2-.9-2.2-1.4-.4z"/><path fill="#27b4db" d="M381.8 62.2l1.5.1-.6-2.3-1.5-.2z"/><path fill="#6351ba" d="M413 73.2l2.2-1.1-3.6-.9-2.2 1.1zM461.2 73.1l2.6-1.2-1.7-.6-2.6 1.2zM425.5 73.2l2.2-1.1-3.6-.8-2.2 1.1zM409.3 72.9l1-.6-3.7-.7-1 .6z"/><path fill="#6654c0" d="M392.6 72.8l1.2-.7-2.1-.9-1.2.6z"/><path fill="#6651ba" d="M396.6 72.9l1.1-.6-3.7-.8-1.1.5z"/><path fill="#6351ba" d="M467.6 73.1l2.6-1.1-1.7-.6-2.7 1.1z"/><path fill="#36a5ea" d="M382.3 63.8l1.5 0-.6-2.2-1.5-.1z"/><path fill="#6351ba" d="M438 73.2l2.2-1.1-3.6-.8-2.2 1.1z"/><path fill="#6c78f9" d="M385.8 69.6l1.5 0-1-1.9-1.4-.2z"/><path fill="#6351ba" d="M473.9 73.2l2.7-1.2-1.8-.6-2.6 1.2z"/><path fill="#4293f3" d="M382.8 65.2l1.5 0-.6-2.1-1.5-.1z"/><path fill="#695acf" d="M390.1 72.5l1.2-.6-2.1-1.3-1.2.2z"/><path fill="#6351ba" d="M400.5 73l1.1-.6-3.7-.7-1.1.6z"/><path fill="#6c6cf0" d="M386.6 70.7l1.5-.2-1-1.6-1.5 0z"/><path fill="#4584f9" d="M383.3 66.6l1.5-.2-.7-2-1.5.1z"/><path fill="#6351ba" d="M420.7 73.4l2.1-1.1-3.5-.8-2.2 1.1zM462.6 73.3l2.7-1.1-1.7-.6-2.7 1.2zM433.2 73.4l2.1-1-3.5-.9-2.2 1.1zM404.4 73.1l1-.5-3.7-.7-1 .5zM469 73.4l2.6-1.2-1.7-.6-2.6 1.2z"/><path fill="#4b6ff6" d="M384.1 68.3l1.4-.2-1-2.4-1.4.1z"/><path fill="#6c63e4" d="M387.3 71.5l1.5-.3-1-1.4-1.5.3z"/><path fill="#6351ba" d="M475.4 73.4l2.6-1.1-1.7-.6-2.6 1.1zM458.2 73.5l2.2-1.1-3.6-.8-2.2 1.1zM408.3 73.2l1-.5-3.7-.7-1.1.5z"/><path fill="#6654c3" d="M391.6 73.1l1.2-.7-2.1-1-1.3.6z"/><path fill="#6651ba" d="M395.6 73.2l1.1-.5-3.7-.8-1.1.4z"/><path fill="#7284fc" d="M384.8 69.8l1.5-.4-1-2.1-1.5.3z"/><path fill="#6351ba" d="M415.9 73.6l2.1-1.1-3.6-.8-2.1 1.1zM428.4 73.7l2.1-1.1-3.6-.8-2.1 1zM464.1 73.6l2.6-1.2-1.7-.6-2.6 1.2z"/><path fill="#695ad5" d="M389 72.7l1.3-.5-2-1.6-1.3.3z"/><path fill="#6351ba" d="M412.1 73.3l1.1-.5-3.7-.7-1.1.6zM399.5 73.4l1.1-.6-3.8-.7-1 .5zM440.9 73.7l2.1-1.1-3.5-.8-2.2 1.1zM470.5 73.6l2.6-1.1-1.7-.6-2.6 1.1z"/><path fill="#878af3" d="M385.6 70.9l1.5-.5-1.1-1.7-1.5.4z"/><path fill="#6351ba" d="M453.4 73.7l2.1-1.1-3.5-.8-2.2 1.1z"/><path fill="#7866c3" d="M476.9 73.7l2.6-1.2-1.7-.6-2.6 1.2z"/><path fill="#6351ba" d="M403.4 73.5l1-.6-3.7-.7-1 .6z"/><path fill="#8781ed" d="M386.3 71.8l1.5-.5-1-1.5-1.6.5z"/><path fill="#6351ba" d="M459.2 73.8l2.6-1.2-1.7-.6-2.6 1.2zM423.5 73.9l2.2-1.1-3.6-.8-2.1 1.1zM465.6 73.8l2.6-1.1-1.7-.6-2.6 1.2zM436.1 73.9l2.1-1.1-3.6-.8-2.1 1.1zM407.3 73.6l1-.6-3.7-.6-1.1.5z"/><path fill="#6657c6" d="M390.5 73.4l1.3-.7-2.1-1.1-1.3.6z"/><path fill="#6651bd" d="M394.6 73.6l1.1-.5-3.7-.9-1.1.4z"/><path fill="#6351ba" d="M472 73.9l2.6-1.2-1.7-.6-2.6 1.2z"/><path fill="#7b72db" d="M388 73l1.3-.6-2-1.7-1.3.5z"/><path fill="#6351ba" d="M411.1 73.7l1.1-.5-3.7-.7-1.1.5zM398.5 73.7l1.1-.5-3.8-.7-1 .5zM418.7 74.1l2.2-1.1-3.6-.8-2.2 1.1zM460.7 74.1l2.6-1.2-1.7-.6-2.6 1.2zM431.2 74.2l2.2-1.1-3.6-.9-2.1 1.1zM415 73.8l1-.5-3.7-.7-1 .5zM467.1 74.1l2.6-1.2-1.7-.6-2.6 1.2zM402.4 73.8l1-.5-3.7-.7-1 .5zM443.7 74.2l2.2-1.1-3.6-.8-2.1 1.1zM473.4 74.1l2.7-1.1-1.8-.6-2.6 1.1zM456.2 74.2l2.2-1.1-3.6-.8-2.1 1.1zM406.2 74l1.1-.6-3.7-.7-1.1.6z"/><path fill="#7869cc" d="M389.5 73.8l1.3-.7-2.1-1.2-1.3.6z"/><path fill="#6654bd" d="M393.6 74l1.1-.6-3.7-1-1.1.5z"/><path fill="#6351ba" d="M426.4 74.4l2.2-1.1-3.6-.8-2.2 1.1zM462.2 74.3l2.6-1.2-1.7-.6-2.7 1.2zM438.9 74.4l2.2-1.1-3.6-.8-2.2 1.1zM410.1 74.1l1.1-.6-3.8-.7-1 .6zM468.5 74.3l2.7-1.1-1.8-.6-2.6 1.2zM397.5 74.1l1-.6-3.7-.7-1 .6zM474.9 74.4l2.6-1.2-1.7-.6-2.6 1.2zM414 74.2l1-.5-3.7-.7-1 .5zM401.4 74.2l1-.5-3.7-.7-1.1.5zM457.2 74.5l2.7-1.2-1.7-.5-2.7 1.1zM421.6 74.6l2.1-1.1-3.5-.8-2.2 1.1zM463.6 74.6l2.6-1.2-1.7-.6-2.6 1.2zM434.1 74.6l2.1-1-3.5-.9-2.2 1.1zM417.8 74.3l1.1-.5-3.7-.7-1.1.5zM405.2 74.3l1.1-.5-3.7-.7-1.1.5z"/><path fill="#8172c9" d="M392.6 74.3l1.1-.5-3.7-1-1.1.5z"/><path fill="#6351ba" d="M470 74.6l2.6-1.2-1.7-.6-2.6 1.2zM409.1 74.4l1.1-.5-3.8-.7-1 .6zM396.5 74.5l1-.6-3.7-.7-1 .5zM458.7 74.8l2.6-1.2-1.7-.6-2.6 1.2zM429.3 74.9l2.1-1.1-3.6-.8-2.1 1zM465.1 74.8l2.6-1.2-1.7-.6-2.6 1.2zM441.8 74.9l2.1-1.1-3.6-.8-2.1 1.1zM413 74.6l1-.6-3.7-.7-1 .6zM400.3 74.6l1.1-.6-3.7-.7-1.1.6zM471.5 74.8l2.6-1.1-1.7-.6-2.6 1.2zM454.3 74.9l2.1-1.1-3.5-.8-2.2 1.1zM416.8 74.7l1.1-.6-3.7-.6-1.1.5zM404.2 74.7l1.1-.6-3.7-.6-1.1.5zM424.4 75.1l2.2-1.1-3.6-.8-2.1 1.1zM460.2 75l2.6-1.2-1.7-.5-2.6 1.1zM436.9 75.1l2.2-1.1-3.6-.8-2.1 1.1zM466.6 75.1l2.6-1.2-1.7-.6-2.6 1.2zM420.7 74.8l1.1-.5-3.8-.7-1 .5zM408.1 74.8l1-.5-3.7-.7-1 .5z"/><path fill="#7b6cc6" d="M395.5 74.8l1-.5-3.7-.8-1.1.6z"/><path fill="#7566c0" d="M472.9 75.1l2.7-1.2-1.7-.6-2.7 1.2z"/><path fill="#6351ba" d="M412 74.9l1-.5-3.7-.7-1.1.5zM399.3 74.9l1.1-.5-3.7-.7-1.1.5zM455.3 75.2l2.6-1.1-1.7-.6-2.6 1.1zM461.7 75.3l2.6-1.2-1.7-.6-2.7 1.2zM432.1 75.4l2.2-1.1-3.6-.9-2.2 1.1zM468 75.3l2.7-1.2-1.8-.6-2.6 1.2zM415.8 75.1l1.1-.6-3.7-.7-1.1.6zM403.2 75.1l1.1-.6-3.8-.7-1 .6zM419.7 75.2l1-.6-3.7-.7-1 .6zM407.1 75.2l1-.6-3.7-.7-1 .6zM456.7 75.5l2.7-1.2-1.7-.6-2.7 1.2zM427.3 75.6l2.1-1.1-3.5-.8-2.2 1.1zM463.1 75.5l2.6-1.2-1.7-.5-2.6 1.1zM439.8 75.6l2.2-1.1-3.6-.8-2.2 1.1zM423.6 75.3l1-.5-3.7-.7-1.1.5zM469.5 75.6l2.6-1.2-1.7-.6-2.6 1.2zM410.9 75.3l1.1-.5-3.7-.7-1.1.5z"/><path fill="#6f5dbd" d="M398.3 75.3l1.1-.5-3.7-.7-1.1.5z"/><path fill="#6351ba" d="M452.3 75.7l2.2-1.1-3.6-.9-2.2 1.1zM414.8 75.4l1.1-.5-3.7-.7-1.1.5zM402.2 75.4l1-.5-3.7-.7-1 .5zM458.2 75.7l2.6-1.1-1.7-.6-2.6 1.1zM435 75.8l2.1-1-3.5-.9-2.2 1.1zM464.6 75.8l2.6-1.2-1.7-.6-2.6 1.2zM418.7 75.5l1-.5-3.7-.7-1 .5zM406.1 75.5l1-.5-3.7-.7-1.1.6z"/><path fill="#8a7ecc" d="M471 75.8l2.6-1.2-1.7-.6-2.6 1.2z"/><path fill="#6351ba" d="M422.6 75.7l1-.6-3.7-.7-1.1.6zM409.9 75.7l1.1-.6-3.7-.7-1.1.6zM453.3 75.9l2.6-1.1-1.7-.6-2.6 1.2zM459.7 76l2.6-1.2-1.7-.6-2.6 1.2zM430.2 76.1l2.1-1.1-3.6-.9-2.1 1.1zM466.1 76l2.6-1.1-1.7-.6-2.6 1.1zM442.7 76.1l2.1-1.1-3.6-.8-2.1 1.1zM426.4 75.8l1.1-.6-3.7-.7-1.1.6zM413.8 75.8l1.1-.6-3.8-.6-1 .5z"/><path fill="#877bc9" d="M401.2 75.8l1-.6-3.7-.6-1 .5z"/><path fill="#6351ba" d="M417.7 75.9l1-.5-3.7-.7-1 .5zM405 75.9l1.1-.5-3.7-.7-1.1.5zM454.8 76.2l2.6-1.2-1.7-.6-2.6 1.2zM461.2 76.2l2.6-1.1-1.7-.6-2.7 1.1zM437.8 76.3l2.2-1.1-3.6-.8-2.1 1.1zM467.5 76.3l2.7-1.2-1.8-.6-2.6 1.2zM421.5 76l1.1-.5-3.7-.7-1.1.5zM408.9 76l1.1-.5-3.7-.7-1.1.5zM425.4 76.1l1.1-.5-3.8-.7-1 .6zM412.8 76.2l1-.6-3.7-.7-1 .6zM456.3 76.4l2.6-1.1-1.7-.6-2.7 1.2zM433 76.6l2.2-1.1-3.6-.9-2.2 1.1zM462.6 76.5l2.6-1.2-1.7-.6-2.6 1.2z"/><path fill="#8172c6" d="M469 76.5l2.6-1.1-1.7-.6-2.6 1.1z"/><path fill="#6351ba" d="M429.3 76.3l1-.6-3.7-.7-1 .6zM416.7 76.3l1-.6-3.7-.7-1.1.6z"/><path fill="#6f5dbd" d="M404 76.3l1.1-.6-3.7-.7-1.1.6z"/><path fill="#6351ba" d="M420.5 76.4l1.1-.5-3.7-.7-1.1.5zM407.9 76.4l1.1-.5-3.8-.7-1 .5zM457.7 76.7l2.6-1.2-1.7-.6-2.6 1.2zM464.1 76.7l2.6-1.1-1.7-.6-2.6 1.1zM440.7 76.8l2.1-1.1-3.5-.8-2.2 1.1zM424.4 76.5l1.1-.5-3.8-.7-1 .5zM411.8 76.5l1-.5-3.7-.7-1 .5zM428.3 76.6l1-.5-3.7-.7-1 .5zM415.6 76.6l1.1-.5-3.7-.7-1.1.5zM452.8 76.9l2.6-1.2-1.7-.6-2.6 1.2zM459.2 76.9l2.6-1.1-1.7-.6-2.6 1.2zM435.9 77l2.1-1-3.6-.9-2.1 1.1zM465.6 77l2.6-1.2-1.7-.6-2.6 1.2zM432.1 76.8l1.1-.6-3.7-.7-1.1.6zM419.5 76.8l1.1-.6-3.7-.7-1.1.6z"/><path fill="#877bc9" d="M406.9 76.8l1-.6-3.7-.7-1 .6z"/><path fill="#6351ba" d="M423.4 76.9l1-.6-3.7-.7-1 .6zM410.8 76.9l1-.6-3.7-.6-1.1.5zM454.3 77.2l2.6-1.2-1.7-.6-2.6 1.2zM460.7 77.2l2.6-1.2-1.7-.6-2.6 1.2z"/><path fill="#7866c3" d="M467 77.2l2.7-1.1-1.7-.6-2.7 1.1z"/><path fill="#6351ba" d="M427.3 77l1-.5-3.7-.7-1.1.5zM414.6 77l1.1-.5-3.7-.7-1.1.5zM431.1 77.1l1.1-.5-3.7-.7-1.1.5zM418.5 77.1l1.1-.5-3.8-.7-1 .5zM455.8 77.4l2.6-1.2-1.7-.6-2.7 1.2zM462.1 77.4l2.7-1.1-1.8-.6-2.6 1.2zM438.7 77.5l2.2-1.1-3.6-.8-2.1 1.1zM435 77.2l1.1-.5-3.8-.7-1 .5zM422.4 77.2l1-.5-3.7-.7-1 .6z"/><path fill="#6f5dbd" d="M409.8 77.3l1-.6-3.7-.7-1.1.6z"/><path fill="#6351ba" d="M426.2 77.4l1.1-.6-3.7-.7-1.1.6zM413.6 77.4l1.1-.6-3.7-.7-1.1.6zM457.2 77.7l2.6-1.2-1.7-.6-2.6 1.2zM463.6 77.7l2.6-1.2-1.7-.6-2.6 1.2zM430.1 77.5l1.1-.6-3.7-.6-1.1.5zM417.5 77.5l1-.5-3.7-.7-1 .5zM452.3 77.9l2.6-1.2-1.7-.6-2.6 1.2zM434 77.6l1-.5-3.7-.7-1 .5zM421.4 77.6l1-.5-3.7-.7-1.1.5zM458.7 77.9l2.6-1.2-1.7-.6-2.6 1.2zM441.6 78l2.1-1.1-3.5-.8-2.2 1.1z"/><path fill="#7866c3" d="M465.1 77.9l2.6-1.1-1.7-.6-2.6 1.2z"/><path fill="#6351ba" d="M437.9 77.7l1-.5-3.7-.7-1.1.5zM425.2 77.7l1.1-.5-3.7-.7-1.1.5z"/><path fill="#8a7ecc" d="M412.6 77.7l1.1-.5-3.8-.7-1 .5z"/><path fill="#6351ba" d="M429.1 77.9l1.1-.6-3.8-.7-1 .6zM453.8 78.1l2.6-1.2-1.7-.5-2.6 1.1zM416.5 77.9l1-.6-3.7-.7-1 .6zM460.2 78.2l2.6-1.2-1.7-.6-2.6 1.2zM433 78l1-.6-3.7-.7-1 .6zM420.3 78l1.1-.6-3.7-.7-1.1.6zM436.8 78.1l1.1-.5-3.7-.7-1.1.5zM424.2 78.1l1.1-.5-3.7-.7-1.1.5zM455.3 78.4l2.6-1.2-1.7-.6-2.7 1.2zM461.6 78.4l2.7-1.2-1.8-.6-2.6 1.2zM440.7 78.2l1.1-.5-3.7-.7-1.1.5zM428.1 78.2l1-.5-3.7-.7-1 .5z"/><path fill="#8172c6" d="M415.5 78.2l1-.5-3.7-.7-1 .5z"/><path fill="#6351ba" d="M432 78.3l1-.5-3.7-.7-1.1.5zM419.3 78.3l1.1-.5-3.7-.7-1.1.6zM456.7 78.6l2.6-1.1-1.7-.6-2.6 1.1zM463.1 78.7l2.6-1.2-1.7-.6-2.6 1.2zM435.8 78.5l1.1-.6-3.7-.7-1.1.6zM423.2 78.5l1.1-.6-3.8-.7-1 .6zM439.7 78.6l1.1-.6-3.8-.7-1 .6zM427.1 78.6l1-.6-3.7-.6-1 .5zM458.2 78.9l2.6-1.2-1.7-.6-2.6 1.2zM430.9 78.7l1.1-.5-3.7-.7-1.1.5z"/><path fill="#998ad2" d="M418.3 78.7l1.1-.5-3.7-.7-1.1.5z"/><path fill="#6351ba" d="M453.3 79.1l2.6-1.2-1.7-.6-2.6 1.2zM434.8 78.8l1.1-.5-3.7-.7-1.1.5zM422.2 78.8l1-.5-3.7-.7-1 .5zM459.7 79.1l2.6-1.1-1.7-.6-2.6 1.1zM438.7 78.9l1-.5-3.7-.7-1 .6zM426.1 79l1-.6-3.7-.7-1.1.6zM454.8 79.3l2.6-1.1-1.7-.6-2.7 1.1zM429.9 79.1l1.1-.6-3.7-.7-1.1.6zM461.1 79.4l2.7-1.2-1.8-.6-2.6 1.2zM433.8 79.2l1.1-.5-3.8-.7-1 .5z"/><path fill="#7e6cc6" d="M421.2 79.2l1-.5-3.7-.7-1 .5z"/><path fill="#6351ba" d="M437.7 79.3l1-.5-3.7-.7-1 .5zM425.1 79.3l1-.5-3.7-.7-1.1.5zM456.2 79.6l2.7-1.2-1.8-.6-2.6 1.2zM441.6 79.4l1-.5-3.7-.7-1.1.5zM428.9 79.4l1.1-.5-3.7-.7-1.1.5zM432.8 79.6l1-.6-3.7-.7-1 .6zM457.7 79.8l2.6-1.1-1.7-.6-2.6 1.1zM436.7 79.7l1-.6-3.7-.6-1.1.5z"/><path fill="#8778c9" d="M424 79.7l1.1-.6-3.7-.6-1.1.5z"/><path fill="#6351ba" d="M440.5 79.7l1.1-.5-3.7-.6-1.1.5zM427.9 79.8l1.1-.5-3.8-.7-1 .5zM459.2 80l2.6-1.1-1.7-.6-2.6 1.2zM431.8 79.9l1-.5-3.7-.7-1 .5z"/><path fill="#6651ba" d="M454.2 80l2.7-.9-1.7-.6-2.6 1z"/><path fill="#6351ba" d="M435.7 80l1-.5-3.7-.7-1.1.6z"/><path fill="#6651ba" d="M439.5 80l1.1-.5-3.7-.6-1.1.6z"/><path fill="#7b6cc3" d="M426.9 80.2l1.1-.6-3.8-.7-1 .6z"/><path fill="#6651ba" d="M455.7 80.2l2.7-.8-1.7-.6-2.7.9z"/><path fill="#6351ba" d="M430.8 80.3l1-.6-3.7-.6-1 .5zM434.6 80.4l1.1-.6-3.7-.6-1.1.5z"/><path fill="#6651ba" d="M438.5 80.3l1.1-.4-3.8-.6-1 .5zM457.1 80.5l2.7-.9-1.6-.6-2.7.9z"/><path fill="#ffffff" d="M447.4 79.2l1.1.2-2.4-.1-1 .2z"/><path fill="#6351ba" d="M429.8 80.7l1-.6-3.7-.7-1.1.6z"/><path fill="#e1def3" d="M451.4 79.1l1 .5-2.3-.1-1-.1z"/><path fill="#6351ba" d="M433.6 80.7l1.1-.5-3.7-.6-1.1.5z"/><path fill="#9c90e1" d="M448.8 78.6l1.2.8-2.3.3-1.1-.4z"/><path fill="#6651ba" d="M437.5 80.6l1.1-.4-3.8-.5-1 .5z"/><path fill="#6051cc" d="M446.2 78.6l1.3.7-2.3.5-1.1-.3z"/><path fill="#4836c0" d="M452.8 78.9l1.1.8-2.3 0-1.1-.5z"/><path fill="#6c5dcc" d="M443.8 78.9l1.2.5-2.3.5-1.1-.1z"/><path fill="#5a4bcf" d="M450.1 78.1l1.3 1.3-2.2.4-1.2-.8z"/><path fill="#ffffff" d="M456.8 80.1l1.1 0-2.4-.4-1 0z"/><path fill="#7e6fc6" d="M432.6 81.1l1.1-.5-3.8-.7-1 .6z"/><path fill="#ffffff" d="M441.4 79.6l1.1.1-2.4.2-1 .3z"/><path fill="#4b3cd2" d="M447.6 77.7l1.3 1.3-2.1.7-1.2-.7z"/><path fill="#4b39c6" d="M454.2 78.9l1.2 1-2.3 0-1.1-.8z"/><path fill="#6651bd" d="M436.5 80.9l1-.4-3.7-.4-1 .5z"/><path fill="#4b3ccf" d="M445.1 77.8l1.4 1.1-2.2.9-1.2-.5z"/><path fill="#4b3fd2" d="M451.6 77.7l1.3 1.6-2.1.4-1.3-1.2z"/><path fill="#8175db" d="M442.7 78.5l1.3.7-2.2.9-1.2-.2z"/><path fill="#4e45de" d="M449 76.7l1.4 2-2 .7-1.4-1.3z"/><path fill="#7869cf" d="M455.7 79.1l1.1 1-2.2 0-1.1-1z"/><path fill="#877bd8" d="M440.4 79.5l1.1.2-2.3.6-1.1.1z"/><path fill="#4e48de" d="M446.5 76.3l1.4 1.9-2 1.2-1.3-1.1z"/><path fill="#4b42d8" d="M453 77.4l1.3 2-2 .2-1.3-1.6z"/><path fill="#4e48e1" d="M451.2 76.9l.7 1.3-2.2.7-.7-1z"/><path fill="#6651bd" d="M435.5 81.3l1-.5-3.7-.4-1 .5z"/><path fill="#4e4ee4" d="M447.8 76.4l.9 1.3-1.3.9-.9-1.1z"/><path fill="#6654bd" d="M438 80.7l1-.4-2.3 0-1.1.6z"/><path fill="#4e45db" d="M444.1 76.9l1.3 1.3-2 1.5-1.3-.6z"/><path fill="#4e54ea" d="M448.5 75.7l.9 1.6-1.3.8-.8-1.3zM450.6 75.7l.8 1.6-2.2 1-.7-1.2z"/><path fill="#4b3ccf" d="M441.6 78.2l1.3.6-2 1.4-1.3-.2z"/><path fill="#5148d2" d="M454.5 77.5l1.3 2.1-2 0-1.3-2z"/><path fill="#4e57ed" d="M447.3 75.5l.9 1.4-1.3 1.1-.9-1.2z"/><path fill="#4e51e7" d="M452.7 76.4l.6 1.6-2.1.5-.7-1.4z"/><path fill="#4e54e7" d="M444.7 75.9l1.5 1.8-1.1 1-1.6-1.4z"/><path fill="#877bdb" d="M439.3 79.6l1.2.1-2.3.9-1.1.1z"/><path fill="#4b60f0" d="M448 74.5l.9 1.7-1.2 1.1-.9-1.4zM450.1 74.4l.8 1.8-2.1 1.3-.8-1.3z"/><path fill="#4e4be1" d="M442.1 77.2l1.6 1-1.1 1.1-1.5-.6z"/><path fill="#4b5ded" d="M445.4 74.6l1.5 2.3-1.1 1.1-1.5-1.8z"/><path fill="#4b60f0" d="M446.7 74.4l1 1.5-1.3 1.3-.9-1.2z"/><path fill="#b1a8e1" d="M437 81l1-.5-2.4.2-1 .5z"/><path fill="#4b5ded" d="M452.1 75.1l.7 1.9-2.1.6-.7-1.6z"/><path fill="#5154e1" d="M454.2 76.4l.6 1.7-2.2.1-.6-1.6z"/><path fill="#4e54ea" d="M442.9 76l1.5 1.3-1.1 1.4-1.5-.9z"/><path fill="#456cf0" d="M447.5 73.2l.9 1.9-1.2 1.2-1-1.4z"/><path fill="#426cf0" d="M449.5 72.8l.9 2-2.1 1.8-.8-1.5z"/><path fill="#4b3fd5" d="M440.6 78l1.3.4-2 1.8-1.3-.1z"/><path fill="#3f6ff0" d="M446.2 73.3l.9 1.5-1.2 1.6-.9-1.2z"/><path fill="#426ff0" d="M451.6 73.4l.7 2.2-2.1.9-.7-1.8z"/><path fill="#4b60ed" d="M443.7 74.6l1.5 1.7-1.2 1.5-1.5-1.2z"/><path fill="#397bea" d="M448.2 72.1l.9 2.1-1.2 1.2-.9-1.8z"/><path fill="#b4abe1" d="M438.3 79.9l1.1-.2-2.2 1.2-1.1.2z"/><path fill="#4e5de4" d="M453.6 75l.6 2-2.1.2-.6-2z"/><path fill="#397eea" d="M447 71.9l.9 1.8-1.2 1.6-1-1.5z"/><path fill="#4e51e7" d="M441.1 76.9l1.6.6-1.1 1.5-1.5-.4z"/><path fill="#3f72f0" d="M444.4 73l1.5 2.2-1.1 1.6-1.5-1.7z"/><path fill="#3978ed" d="M445.4 72.7l1 1.5-.9 1.3-1-1.2z"/><path fill="#3687e4" d="M448.9 71l.9 2.4-1.2 1.1-.8-2.1z"/><path fill="#3681e7" d="M451 71.5l.8 2.5-2 1.2-.8-2.1z"/><path fill="#456ce7" d="M453.3 73.9l.5 1.7-2.2.2-.4-1.6z"/><path fill="#3684e4" d="M445.9 71.7l1 1.7-1 1.3-.9-1.5z"/><path fill="#338ae1" d="M447.7 70.5l.9 2.1-1.2 1.5-.9-1.8z"/><path fill="#4b60f0" d="M441.9 75.5l1.5.8-1.1 1.8-1.5-.6z"/><path fill="#338dde" d="M449.9 70.8l.7 1.9-1.3.9-.7-1.7z"/><path fill="#5145d5" d="M439.6 78.2l1.3 0-2 2.1-1.3.1z"/><path fill="#3090de" d="M446.4 70.5l1 2-1 1.2-.9-1.7z"/><path fill="#3684e7" d="M444.9 71.8l1 1.3-.9 1.6-1-1.1z"/><path fill="#3f7bde" d="M453 72.6l.4 1.9-2.1.2-.5-1.7z"/><path fill="#426cf0" d="M442.3 74.4l1.6 1.1-.8 1.4-1.6-.9z"/><path fill="#2a99d5" d="M448.4 69.2l.9 2.5-1.2 1.3-.9-2.2z"/><path fill="#249cd2" d="M449.5 69.4l.7 2-1.2 1.1-.7-1.8z"/><path fill="#2d96d8" d="M450.6 70.1l.6 2.1-1.2.7-.6-1.9z"/><path fill="#2a96d8" d="M446.9 69.4l.9 2.2-.9 1.2-.9-1.9z"/><path fill="#308dde" d="M445.4 70.6l1 1.5-1 1.5-.9-1.3z"/><path fill="#3c78ed" d="M442.8 73.2l1.6 1.3-.8 1.5-1.6-1.1z"/><path fill="#3c81d5" d="M452.6 71.3l.5 1.9-2.1.4-.5-1.9z"/><path fill="#219fcf" d="M447.4 68.4l.9 2.3-.9 1.1-.9-2.1z"/><path fill="#5154de" d="M440.1 77l1.5.1-1 1.8-1.5 0z"/><path fill="#2799d5" d="M445.9 69.3l1 1.7-1 1.6-.9-1.5z"/><path fill="#3090db" d="M444.4 71l.9 1.1-.9 1.8-.9-.9z"/><path fill="#1ba2c9" d="M449.2 68.1l.7 1.9-1.2 1.3-.7-1.7z"/><path fill="#1ba2cc" d="M450.3 68.7l.6 2.1-1.2.8-.6-2z"/><path fill="#3687e4" d="M443.3 71.9l1.6 1.5-.8 1.6-1.6-1.3z"/><path fill="#1ea5c0" d="M447.9 67.4l.8 2.5-.8 1-.9-2.4z"/><path fill="#1ba2c6" d="M446.4 68l.9 2-.9 1.4-.9-1.7z"/><path fill="#308dcc" d="M452.3 69.8l.4 2.1-2.1.4-.5-1.9z"/><path fill="#2799d5" d="M444.9 69.6l.9 1.3-.9 1.8-.9-1z"/><path fill="#515dde" d="M440.9 75.5l1.4.1-1 2.2-1.4-.1z"/><path fill="#2dabb1" d="M448.9 66.7l.7 1.9-1.3 1.5-.7-1.7z"/><path fill="#24a8ba" d="M449.9 67.2l.7 2.2-1.2.9-.7-2z"/><path fill="#27a8b7" d="M446.9 66.8l.9 2.2-.9 1.3-.9-1.9z"/><path fill="#1ba2c9" d="M445.4 68.2l.9 1.4-.9 1.9-.9-1.2z"/><path fill="#2d96db" d="M443.9 70.4l.9.8-.9 2-.8-.6z"/><path fill="#2796c0" d="M451.9 68.3l.5 2.1-2.1.6-.5-2.1z"/><path fill="#456ce1" d="M441.3 74.4l1.5.2-.6 1.7-1.6-.1z"/><path fill="#39aea8" d="M447.4 65.7l.9 2.3-.9 1.3-.9-2.2z"/><path fill="#42b19f" d="M448.5 65.4l.7 1.8-1.2 1.7-.7-1.6z"/><path fill="#3caea5" d="M449.6 65.8l.7 2.1-1.2 1.1-.7-2z"/><path fill="#2aabb4" d="M445.9 66.8l.9 1.6-.9 1.8-.9-1.4z"/><path fill="#1ea2cc" d="M444.4 69l.9.8-.9 2.1-.8-.7z"/><path fill="#3f78de" d="M441.8 73.1l1.5.2-.7 1.9-1.5-.1z"/><path fill="#3f99ae" d="M451.6 66.7l.5 2.2-2.1.6-.5-2z"/><path fill="#45b19c" d="M446.4 65.5l.9 1.8-.9 1.6-1-1.6z"/><path fill="#21a8ba" d="M444.9 67.5l.9.9-.9 2.1-.8-.8z"/><path fill="#5db484" d="M448.2 64.2l.7 1.6-1.2 1.9-.7-1.4zM449.3 64.4l.6 2-1.2 1.2-.7-1.9z"/><path fill="#3687d8" d="M442.3 71.7l1.5.3-.7 2-1.5-.2z"/><path fill="#5ab487" d="M446.9 64.2l.9 2-.9 1.5-1-1.8z"/><path fill="#3caea2" d="M445.4 66l.9 1.1-.9 2-.9-.9z"/><path fill="#54a593" d="M451.2 65.2l.5 2.1-2 .8-.6-2.1z"/><path fill="#338dcf" d="M442.8 70.2l1.5.4-.7 2.1-1.5-.3z"/><path fill="#81b169" d="M448.9 63l.7 1.9-1.2 1.4-.7-1.7z"/><path fill="#5db484" d="M445.9 64.5l.9 1.3-.9 1.9-.9-1.1z"/><path fill="#84b166" d="M447.6 62.6l1 2-1.3 2-.9-1.9z"/><path fill="#2796c0" d="M443.3 68.6l1.5.5-.8 2.2-1.4-.4z"/><path fill="#7eb46c" d="M450.9 63.7l.5 2.1-2.1.8-.5-2z"/><path fill="#84b163" d="M446.4 63.1l.9 1.5-.9 1.8-.9-1.3z"/><path fill="#3f9cab" d="M443.8 67l1.5.6-.8 2.3-1.5-.6z"/><path fill="#aeab4b" d="M448.4 61.3l.9 2.4-1.2 1.4-.9-2.2z"/><path fill="#a5a854" d="M450.5 62.3l.6 1.9-2.1 1-.6-1.8z"/><path fill="#abab4e" d="M447.1 61.4l.9 1.4-1.2 2.3-.8-1.3z"/><path fill="#5d9f90" d="M444.3 65.4l1.5.8-.8 2.1-1.5-.6z"/><path fill="#7ea86f" d="M444.8 63.9l1.5.8-.8 2.2-1.5-.8z"/><path fill="#cfa84e" d="M447.9 60l.9 1.7-1.2 1.8-.9-1.7z"/><path fill="#c09f57" d="M450 60.4l.7 2.5-2 1-.8-2.3z"/><path fill="#a29f5d" d="M445.3 62.5l1.5.9-.8 2-1.5-.9z"/><path fill="#c39c5a" d="M446 60.6l1.5 1-1.1 2.4-1.4-.9z"/><path fill="#d5a857" d="M449.5 59l.8 1.9-2.1 1.3-.8-1.8z"/><path fill="#d2a85a" d="M446.8 59.1l1.5 1.2-1.1 2-1.5-1.2z"/><path fill="#d5c048" d="M448.4 58l1.4 1.4-2.1 1.5-1.3-1.3z"/></g><use href="#uc0" opacity="0.20"/><path d="M376.1 45.7L376.1 72L448.3 84.3L498 66.3" stroke="#555555" stroke-width=".6" fill="none"/><path d="M376.1 45.7L448.3 58L498 40M448.3 84.3L448.3 58" stroke="#8c8c8c" stroke-width=".6" fill="none"/><use href="#uc1"/><g shape-rendering="crispEdges" filter="url(#bl)"><path fill="#fcfc6c" d="M426.1 112.9l.9-1.2-1.3-1.6-.9 1.7z"/><path fill="#f9f381" d="M426.8 114.2l.9-.8-1.2-2.2-.9 1z"/><path fill="#f9f675" d="M425.6 114.2l.8-2-1.2-.9-.8 2.3z"/><path fill="#f9ea51" d="M426.3 115.2l.9-1.5-1.2-1.7-.9 1.8z"/><path fill="#fcde69" d="M427 116.6l1.5-1.8-1.2-2.1-1.5 2.1z"/><path fill="#fce169" d="M425.9 116.6l.8-1.8-2.1-1.9-.8 2.1z"/><path fill="#f9d57e" d="M427.7 118l1.5-1.4-1.1-2.3-1.5 1.8z"/><path fill="#e4d575" d="M428.5 119.5l1.5-1.3-1.1-2.2-1.6 1.5z"/><path fill="#fcd581" d="M425.4 118.1l.8-2-2.1-1.5-.8 2.2z"/><path fill="#fcd25d" d="M426.5 117.7l1-1.6-1.3-1.7-.9 1.8z"/><path fill="#bdd872" d="M429.2 121l1.5-1.1-1.1-2.2-1.5 1.2z"/><path fill="#f0c95d" d="M427.3 119l.9-1.3-1.2-2-.9 1.5z"/><path fill="#e4d26f" d="M424.9 119.7l.8-2.1-2.1-1.3-.8 2.3z"/><path fill="#edc95a" d="M426 119.1l.9-1.9-1.2-1.5-.9 2.2z"/><path fill="#a2de96" d="M430 122.5l1.5-1.1-1.1-2.2-1.5 1.2z"/><path fill="#d2cc57" d="M428.1 120.4l.8-1.1-1.2-2.2-.9 1.3z"/><path fill="#decc57" d="M426.8 120.2l.9-1.6-1.2-1.8-1 1.9z"/><path fill="#84deb4" d="M430.7 123.8l1.5-1-1.1-2-1.5 1.1z"/><path fill="#c0d56f" d="M424.4 121.2l.7-2.1-2.1-1.1-.7 2.2z"/><path fill="#d2cf57" d="M425.5 120.5l.9-2.1-1.2-1.2-.9 2.3z"/><path fill="#aed569" d="M428.8 121.7l.9-.9-1.2-2.2-.9 1.1z"/><path fill="#c0d260" d="M427.5 121.4l.9-1.4-1.2-1.9-.9 1.6z"/><path fill="#69d5c3" d="M431.5 125.2l1.5-1-1.1-2-1.5 1z"/><path fill="#bad263" d="M426.3 121.4l.9-1.8-1.3-1.4-.9 2z"/><path fill="#93d581" d="M423.9 122.7l.7-2.1-2.1-1-.7 2.2z"/><path fill="#abd56c" d="M425 121.9l.9-2.1-1.2-1-.9 2.2z"/><path fill="#9cd578" d="M428.3 122.6l.9-1.2-1.2-1.9-.9 1.3z"/><path fill="#7ed590" d="M428.9 123.9l1.6-1.9-1.2-1.9-1.5 2.1z"/><path fill="#5ad2d2" d="M432.2 126.4l1.5-.9-1.1-1.9-1.5 1z"/><path fill="#9cd578" d="M427 122.5l.9-1.6-1.2-1.6-.9 1.7z"/><path fill="#96d57b" d="M425.7 122.7l.9-1.8-1.2-1.3-.9 2.1z"/><path fill="#60d2ab" d="M429.7 125.1l1.5-1.7-1.1-1.8-1.6 1.9z"/><path fill="#5acfde" d="M433 127.5l1.5-.8-1.1-1.8-1.5.9z"/><path fill="#81dbab" d="M423.4 124.2l.7-2.1-2.1-.9-.8 2.1z"/><path fill="#84d58a" d="M427.8 123.6l.9-1.4-1.3-1.7-.9 1.5z"/><path fill="#7ed590" d="M425.3 124l.9-1.7-2.1-1.9-.9 1.9z"/><path fill="#84d88a" d="M426.5 123.7l.9-1.7-1.2-1.5-.9 1.9z"/><path fill="#4ecfc0" d="M430.4 126.3l1.6-1.6-1.2-1.8-1.5 1.8z"/><path fill="#72ccea" d="M433.7 128.6l1.6-.9-1.2-1.6-1.5.9z"/><path fill="#69d5a2" d="M428.5 124.7l.9-1.2-1.2-1.8-.9 1.4z"/><path fill="#6fd8c3" d="M422.8 125.5l.8-1.9-2.1-.8-.8 2z"/><path fill="#69d5a2" d="M427.3 124.7l.9-1.5-1.3-1.6-.9 1.7z"/><path fill="#39c9cf" d="M431.2 127.4l1.5-1.4-1.1-1.7-1.6 1.5z"/><path fill="#78c3f0" d="M434.5 129.6l1.5-.9-1.1-1.5-1.5.9z"/><path fill="#63d2a8" d="M424.8 125.3l.8-1.7-2.1-1.7-.8 1.9z"/><path fill="#69d5a2" d="M426 124.9l.9-1.8-1.2-1.3-.9 2z"/><path fill="#54cfba" d="M429.3 125.9l.9-1.1-1.3-1.8-.9 1.2z"/><path fill="#5ad2b4" d="M428 125.7l.9-1.4-1.2-1.6-.9 1.5z"/><path fill="#3fc0de" d="M431.9 128.5l1.6-1.4-1.2-1.6-1.5 1.4z"/><path fill="#5ad2d2" d="M422.3 126.8l.8-1.8-2.2-.8-.7 1.9z"/><path fill="#6fb7f3" d="M435.2 130.5l1.6-.8-1.1-1.5-1.6.9z"/><path fill="#5ad2b1" d="M426.7 125.7l1-1.5-1.3-1.4-.9 1.7z"/><path fill="#4eccc0" d="M424.3 126.5l.8-1.7-2.1-1.5-.8 1.9z"/><path fill="#57cfb7" d="M425.5 126l.9-1.7-1.3-1.1-.8 1.9z"/><path fill="#48ccc3" d="M428.8 126.7l.9-1.2-1.3-1.6-.9 1.3z"/><path fill="#3cc9cc" d="M429.4 127.7l1.5-2-1.1-1.5-1.5 2.2z"/><path fill="#4bb7e7" d="M432.7 129.4l1.5-1.2-1.1-1.5-1.5 1.3z"/><path fill="#4ecfbd" d="M427.5 126.7l.9-1.5-1.2-1.4-1 1.5z"/><path fill="#66d2e1" d="M421.8 128l.8-1.7-2.2-.8-.7 1.8z"/><path fill="#6cabf9" d="M436.9 132.1l1.3-.7-2-2.3-1.3.8z"/><path fill="#45ccc3" d="M426.2 126.8l.9-1.6-1.2-1.2-.9 1.7z"/><path fill="#3cc3d8" d="M430.2 128.7l1.5-1.8-1.2-1.5-1.5 2z"/><path fill="#51b1ea" d="M433.4 130.4l1.6-1.2-1.1-1.5-1.6 1.3z"/><path fill="#39c9cf" d="M423.8 127.7l.8-1.6-2.1-1.4-.8 1.8z"/><path fill="#3cc9cc" d="M428.2 127.6l1-1.3-1.3-1.5-.9 1.4zM425.8 127.9l.8-1.5-2.1-1.9-.8 1.6zM427 127.6l.9-1.4-1.3-1.4-.9 1.7z"/><path fill="#48bde4" d="M430.9 129.6l1.6-1.6-1.2-1.5-1.5 1.8z"/><path fill="#5dc3e7" d="M421.3 129.1l.7-1.6-2.1-.7-.7 1.7z"/><path fill="#54a8f3" d="M434.2 131.2l1.5-1.1-1.1-1.4-1.5 1.2z"/><path fill="#3fc3db" d="M423.3 128.8l.8-1.6-2.2-1.2-.7 1.7z"/><path fill="#39c3d8" d="M427.7 128.5l.9-1.4-1.2-1.3-.9 1.4z"/><path fill="#8dabff" d="M438.5 133.5l1.4-.7-2.2-2-1.3.7z"/><path fill="#3fc0db" d="M428.4 129.3l1.5-2.2-1.1-1.3-1.5 2.4z"/><path fill="#4eb4ea" d="M431.7 130.5l1.5-1.5-1.1-1.4-1.6 1.6z"/><path fill="#3cc3d8" d="M425.3 128.9l.8-1.4-2.1-1.8-.8 1.6z"/><path fill="#6cc0ed" d="M420.8 130.2l.7-1.6-2.2-.6-.7 1.5z"/><path fill="#5a9cf9" d="M435.9 132.7l1.3-.9-2-2.2-1.4 1z"/><path fill="#3fc0de" d="M427.3 129.3l.8-1.1-2.1-2.2-.8 1.3z"/><path fill="#48bde4" d="M429.1 130.1l1.5-2-1.1-1.3-1.5 2.2z"/><path fill="#4bbae7" d="M422.8 129.9l.8-1.5-2.2-1.2-.8 1.6z"/><path fill="#54a8f3" d="M433.3 132.1l1.4-1.2-2-2.3-1.4 1.3z"/><path fill="#48bde4" d="M424.8 129.9l.8-1.4-2.2-1.6-.7 1.5z"/><path fill="#96a5fc" d="M440.2 134.7l1.3-.7-2.2-1.8-1.3.8z"/><path fill="#4eb4ea" d="M429.9 130.9l1.5-1.8-1.1-1.3-1.5 2z"/><path fill="#60b1f0" d="M420.3 131.2l.7-1.5-2.2-.7-.7 1.5z"/><path fill="#48bae4" d="M426.8 130.2l.8-1.2-2.1-2-.8 1.4z"/><path fill="#51b1ed" d="M422.3 130.8l.7-1.4-2.1-1-.8 1.5z"/><path fill="#51abf0" d="M430.6 131.7l1.6-1.7-1.2-1.3-1.5 1.9z"/><path fill="#4eb4ea" d="M424.3 130.8l.8-1.3-2.2-1.5-.8 1.5z"/><path fill="#668aff" d="M438.4 134.6l1.2-.7-3-2.6-1.3.8z"/><path fill="#4eb1ea" d="M428.2 131.6l1.4-1.9-2-2.1-1.4 2.2z"/><path fill="#5a96fc" d="M434.8 133.5l1.4-1.1-2-2.1-1.4 1.2z"/><path fill="#4eb4ea" d="M426.3 131l.8-1.1-2.1-1.8-.8 1.3z"/><path fill="#54a8f3" d="M421.8 131.8l.7-1.4-2.2-1-.7 1.5z"/><path fill="#8790f9" d="M441.8 135.7l1.3-.8-2.2-1.5-1.3.8z"/><path fill="#6fabf9" d="M419.1 132.9l1.4-2.3-2-.6-1.4 2.4z"/><path fill="#57a2f6" d="M432.3 133l1.4-1.3-2.1-2.1-1.4 1.5z"/><path fill="#54abf0" d="M423.8 131.7l.7-1.3-2.1-1.3-.8 1.4zM425.8 131.8l.8-1.1-2.2-1.6-.7 1.3z"/><path fill="#54a5f3" d="M429.7 132.9l1.4-1.7-2-2-1.4 1.9z"/><path fill="#57a2f6" d="M423.3 132.5l.7-1.2-2.1-1.2-.8 1.3z"/><path fill="#6687ff" d="M437.4 135.2l1.2-.8-3-2.5-1.3 1z"/><path fill="#5a9cf9" d="M420.6 133.4l1.4-2.2-2-.9-1.4 2.4z"/><path fill="#57a5f3" d="M427.2 133l1.4-1.9-2-1.8-1.4 2.2z"/><path fill="#6c78f9" d="M440.8 136.1l1.2-.7-3-2.1-1.3.8z"/><path fill="#6093fc" d="M433.8 134.3l1.4-1.2-2.1-1.9-1.4 1.3z"/><path fill="#9396f3" d="M444.3 136.7l1.2-.6-3.1-1.6-1.2.7z"/><path fill="#7b9fff" d="M418 134.5l1.4-2.2-2-.6-1.4 2.2z"/><path fill="#57a2f6" d="M424.7 133.4l1.3-2.1-2-1.3-1.4 2.2z"/><path fill="#5a99fc" d="M431.2 134.1l1.4-1.4-2-1.9-1.4 1.6z"/><path fill="#5a96fc" d="M422.1 134.1l1.4-2.1-2-1.1-1.4 2.3z"/><path fill="#5a9cf9" d="M428.7 134.1l1.4-1.7-2-1.7-1.4 1.9z"/><path fill="#6981fc" d="M436.3 135.9l1.3-.9-3.1-2.4-1.2 1.1z"/><path fill="#638dff" d="M419.5 134.9l1.4-2.1-2-.7-1.4 2.1z"/><path fill="#5a99fc" d="M426.2 134.3l1.4-1.8-2.1-1.5-1.4 2.1z"/><path fill="#6c75f6" d="M439.8 136.6l1.2-.8-3.1-1.9-1.2.8z"/><path fill="#668aff" d="M432.8 135.1l1.3-1.2-2-1.7-1.4 1.4z"/><path fill="#6c6cf0" d="M443.3 137.2l1.2-.7-3.2-1.6-1.2.7z"/><path fill="#aba5f3" d="M446.7 137.6l1.2-.6-3.2-1.3-1.1.6z"/><path fill="#5d93fc" d="M423.6 134.8l1.4-1.9-2-1.2-1.4 2z"/><path fill="#788afc" d="M416.9 135.8l1.4-1.9-2-.6-1.4 1.9z"/><path fill="#6390ff" d="M430.2 135.1l1.4-1.5-2-1.6-1.4 1.6z"/><path fill="#668aff" d="M421 135.5l1.5-2-2.1-.9-1.4 2z"/><path fill="#6390ff" d="M427.7 135.2l1.4-1.6-2.1-1.5-1.4 1.8z"/><path fill="#6c7efc" d="M435.3 136.6l1.2-1-3-2.1-1.3 1.1z"/><path fill="#668aff" d="M425.1 135.5l1.4-1.7-2-1.3-1.4 1.9z"/><path fill="#6c75f6" d="M438.8 137.1l1.2-.8-3.1-1.8-1.2.9z"/><path fill="#6c7efc" d="M418.4 136.2l1.4-1.8-2-.8-1.4 1.9z"/><path fill="#6984fc" d="M431.7 136l1.4-1.3-2-1.5-1.4 1.4z"/><path fill="#6c6cf0" d="M442.2 137.7l1.2-.8-3.1-1.5-1.2.8z"/><path fill="#6c66e7" d="M445.7 138l1.2-.6-3.2-1.3-1.2.7z"/><path fill="#8d87ea" d="M449.2 138.3l1.1-.6-3.2-1.1-1.1.7z"/><path fill="#6987ff" d="M429.2 136l1.4-1.4-2.1-1.4-1.4 1.6z"/><path fill="#848df9" d="M415.8 136.9l1.4-1.7-2-.6-1.4 1.7z"/><path fill="#6984fc" d="M421.8 136.6l2.2-2.4-1.9-1-2.1 2.6zM426.7 136.2l1.3-1.5-2-1.3-1.4 1.7z"/><path fill="#6c7efc" d="M419.9 136.6l1.5-1.7-2.1-.8-1.4 1.8z"/><path fill="#6c78f9" d="M434.3 137.2l1.2-.9-3.1-2-1.2 1.2z"/><path fill="#6c72f3" d="M437.7 137.7l1.2-.8-3.1-1.8-1.2 1z"/><path fill="#6c7efc" d="M430.7 136.8l1.4-1.2-2.1-1.4-1.4 1.4z"/><path fill="#6c75f6" d="M417.3 137.2l1.5-1.6-2.1-.7-1.4 1.7z"/><path fill="#6c69ed" d="M441.2 138.1l1.2-.7-3.2-1.5-1.1.8z"/><path fill="#6c66e7" d="M444.7 138.5l1.1-.7-3.1-1.3-1.2.8z"/><path fill="#6c7efc" d="M423.4 137.2l2.1-2.3-1.9-1-2.1 2.4z"/><path fill="#6c60e1" d="M448.1 138.7l1.2-.6-3.2-1.1-1.2.7z"/><path fill="#6c7bfc" d="M428.2 137l1.3-1.4-2-1.3-1.4 1.5z"/><path fill="#938ae7" d="M451.6 138.9l1.1-.6-3.2-1-1.1.7z"/><path fill="#8484f3" d="M414 138.3l2.1-2-1.9-.6-2.1 1.9z"/><path fill="#6c75f6" d="M418.8 137.6l1.5-1.5-2.1-.8-1.4 1.6zM433.3 137.9l1.2-1-3.1-1.7-1.3 1.1z"/><path fill="#6c78f9" d="M424.9 137.7l2.1-2-1.9-1.1-2.1 2.2z"/><path fill="#6c6ff0" d="M436.7 138.3l1.2-.9-3.1-1.6-1.2 1z"/><path fill="#6c78f9" d="M429.7 137.6l1.3-1.2-2-1.2-1.4 1.3z"/><path fill="#6c69ea" d="M440.2 138.6l1.2-.7-3.2-1.5-1.2.9z"/><path fill="#6c75f6" d="M420.2 138.1l2.1-2.1-1.9-.8-2.1 2.2z"/><path fill="#6c63e7" d="M443.6 138.9l1.2-.7-3.2-1.2-1.1.8z"/><path fill="#6c60e1" d="M447.1 139.2l1.1-.7-3.2-1.1-1.1.7z"/><path fill="#695ddb" d="M450.6 139.3l1.1-.6-3.2-.9-1.2.6z"/><path fill="#6c6cf0" d="M415.5 138.6l2.1-1.9-1.9-.7-2.1 1.9z"/><path fill="#877ee1" d="M454 139.4l1.1-.6-3.2-.8-1.1.6z"/><path fill="#6c72f6" d="M426.4 138.3l2.1-1.9-1.9-1.1-2.1 2.1z"/><path fill="#6c72f3" d="M421.7 138.5l2.1-1.9-1.9-.9-2.1 2.1z"/><path fill="#6c6ff3" d="M432.2 138.6l1.2-1-3.1-1.6-1.2 1.2z"/><path fill="#6c6ced" d="M435.7 138.8l1.2-.8-3.2-1.5-1.2 1z"/><path fill="#6c66ea" d="M439.2 139.1l1.1-.7-3.1-1.4-1.2.9z"/><path fill="#6c6cf0" d="M417 138.9l2.1-1.8-1.8-.7-2.2 1.9z"/><path fill="#6c63e4" d="M442.6 139.4l1.2-.7-3.2-1.2-1.2.8z"/><path fill="#6960e1" d="M446.1 139.6l1.1-.7-3.2-1-1.1.7z"/><path fill="#6c6ff3" d="M427.9 138.8l2.1-1.7-1.9-1-2.1 1.8z"/><path fill="#817eed" d="M412.3 139.3l2.2-1.6-1.9-.6-2.1 1.6z"/><path fill="#695ddb" d="M449.5 139.7l1.2-.6-3.3-.9-1.1.6z"/><path fill="#695dd8" d="M453 139.8l1.1-.6-3.2-.8-1.1.6z"/><path fill="#6c6ff0" d="M423.2 139l2.1-1.8-1.9-.9-2.1 1.9z"/><path fill="#938ae1" d="M456.4 139.9l1.1-.7-3.2-.7-1.1.7z"/><path fill="#6c69ed" d="M418.5 139.3l2.2-1.8-1.9-.7-2.2 1.8z"/><path fill="#6c69ea" d="M434.7 139.4l1.1-.9-3.1-1.3-1.2 1z"/><path fill="#6c66e7" d="M413.8 139.6l2.2-1.6-1.9-.6-2.1 1.6zM438.1 139.6l1.2-.8-3.2-1.2-1.1.9z"/><path fill="#6c63e1" d="M441.6 139.8l1.1-.7-3.2-1.1-1.1.8z"/><path fill="#6c69ed" d="M430.5 139.6l1.9-1.4-3-1.4-2 1.6z"/><path fill="#6c6cf0" d="M424.7 139.4l2.1-1.6-1.9-1-2.1 1.8z"/><path fill="#6960de" d="M445 140l1.2-.7-3.2-1-1.2.7z"/><path fill="#695ddb" d="M448.5 140.1l1.1-.6-3.2-.9-1.1.7z"/><path fill="#695dd8" d="M451.9 140.2l1.2-.6-3.3-.8-1.1.6z"/><path fill="#6c69ed" d="M420 139.7l2.2-1.7-1.9-.8-2.2 1.8z"/><path fill="#695dd5" d="M455.4 140.3l1.1-.6-3.2-.8-1.1.7z"/><path fill="#7569d8" d="M458.8 140.3l1.1-.6-3.2-.7-1.1.6z"/><path fill="#6c66e7" d="M415.4 140l2.1-1.6-1.9-.7-2.1 1.6z"/><path fill="#6c69ea" d="M426.2 139.9l2.1-1.6-1.9-.9-2.1 1.7z"/><path fill="#6c63e4" d="M437.1 140.1l1.2-.8-3.2-1.1-1.2.8z"/><path fill="#6c66ea" d="M421.5 140.1l2.2-1.6-1.9-.9-2.2 1.7z"/><path fill="#6c60e1" d="M440.6 140.3l1.1-.7-3.2-1.1-1.1.8z"/><path fill="#695ddb" d="M444 140.4l1.1-.6-3.2-1-1.1.7z"/><path fill="#6c66e7" d="M432.9 140.3l1.9-1.2-3-1.3-1.9 1.4z"/><path fill="#695dd8" d="M447.5 140.6l1.1-.7-3.2-.9-1.2.7z"/><path fill="#6c63e7" d="M416.9 140.3l2.1-1.5-1.9-.8-2.1 1.6z"/><path fill="#695dd8" d="M450.9 140.6l1.1-.6-3.2-.8-1.1.7z"/><path fill="#695dd5" d="M454.4 140.7l1.1-.6-3.3-.8-1.1.7z"/><path fill="#695ad5" d="M457.8 140.7l1.1-.6-3.2-.7-1.1.6z"/><path fill="#968dea" d="M408.8 140.9l4-2.1-1.6-.5-4.1 2.1z"/><path fill="#695ad5" d="M461.3 140.7l1-.6-3.2-.6-1.1.6z"/><path fill="#6c63e7" d="M428.8 140.5l1.9-1.3-3-1.2-1.9 1.5z"/><path fill="#6c66e7" d="M423 140.4l2.2-1.5-1.9-.8-2.2 1.6z"/><path fill="#6c63e4" d="M418.4 140.6l2.1-1.5-1.9-.7-2.1 1.5z"/><path fill="#6960de" d="M439.5 140.7l1.2-.7-3.2-1-1.2.8z"/><path fill="#695ddb" d="M443 140.9l1.1-.7-3.2-.9-1.1.7z"/><path fill="#695dd8" d="M446.4 141l1.1-.7-3.2-.8-1.1.6z"/><path fill="#6960de" d="M410.3 141.2l4-2.1-1.6-.5-4.1 2.1z"/><path fill="#695dd5" d="M449.9 141.1l1.1-.7-3.2-.8-1.2.7z"/><path fill="#6c63e4" d="M424.5 140.8l2.2-1.4-1.9-.9-2.2 1.6z"/><path fill="#695ad5" d="M453.3 141.1l1.1-.6-3.2-.8-1.1.7zM456.8 141.1l1.1-.6-3.3-.7-1.1.7zM460.2 141.1l1.1-.6-3.2-.6-1.1.6z"/><path fill="#6c63e4" d="M419.9 141l2.1-1.5-1.9-.7-2.1 1.5z"/><path fill="#877bde" d="M463.7 141.1l1.1-.6-3.3-.6-1.1.6z"/><path fill="#6c60e1" d="M431.3 141.2l1.9-1.3-3.1-1.1-1.9 1.4z"/><path fill="#6960de" d="M411.8 141.5l4-2.1-1.6-.5-4 2.1zM433.3 141.8l3.9-2.1-2.7-1.1-3.9 2.2z"/><path fill="#695dd8" d="M441.9 141.3l1.2-.7-3.2-.9-1.2.7zM445.4 141.4l1.1-.7-3.2-.8-1.1.7z"/><path fill="#6c60e1" d="M421.4 141.3l2.1-1.4-1.9-.7-2.1 1.4z"/><path fill="#695ad5" d="M448.8 141.5l1.2-.7-3.3-.8-1.1.7zM452.3 141.5l1.1-.6-3.2-.8-1.1.7zM455.7 141.5l1.1-.6-3.2-.7-1.1.7zM459.2 141.6l1.1-.7-3.3-.6-1.1.6z"/><path fill="#6960de" d="M413.3 141.8l4-2.1-1.6-.5-4 2.1z"/><path fill="#695ad5" d="M462.6 141.5l1.1-.6-3.2-.6-1.1.6z"/><path fill="#8478de" d="M466.1 141.5l1.1-.6-3.3-.6-1.1.6z"/><path fill="#6960de" d="M422.9 141.7l2.1-1.4-1.9-.8-2.1 1.4zM425.2 142.2l3.9-2.2-2.7-1-3.9 2.3z"/><path fill="#695dd8" d="M435.7 142.3l3.9-1.9-2.7-1-3.9 2z"/><path fill="#695dd5" d="M444.4 141.8l1.1-.7-3.2-.8-1.2.7z"/><path fill="#695ad5" d="M447.8 141.9l1.1-.7-3.2-.7-1.1.6z"/><path fill="#695ddb" d="M414.8 142.1l4-2-1.6-.6-4 2.1z"/><path fill="#695ad2" d="M451.3 141.9l1.1-.6-3.3-.7-1.1.6zM454.7 141.9l1.1-.6-3.2-.7-1.1.7zM458.1 142l1.1-.7-3.2-.6-1.1.6z"/><path fill="#695ad5" d="M461.6 141.9l1.1-.6-3.3-.6-1.1.6zM465 141.9l1.1-.6-3.2-.6-1.1.6z"/><path fill="#9087e4" d="M405.4 142.3l4.1-1.8-1.6-.5-4.1 1.8z"/><path fill="#968de4" d="M468.5 141.8l1.1-.6-3.3-.5-1.1.6z"/><path fill="#695ddb" d="M416.3 142.4l4.1-2-1.7-.5-4 2zM427.6 142.7l3.9-2-2.7-1-3.9 2.1z"/><path fill="#695dd5" d="M438.1 142.8l3.9-1.8-2.6-1-4 2z"/><path fill="#695ad2" d="M446.8 142.3l1.1-.7-3.3-.7-1.1.6zM450.2 142.3l1.1-.6-3.2-.7-1.1.6z"/><path fill="#695dd8" d="M406.9 142.6l4.1-1.8-1.6-.5-4.1 1.8z"/><path fill="#695ad2" d="M453.7 142.3l1.1-.6-3.3-.7-1.1.7zM457.1 142.4l1.1-.7-3.2-.6-1.1.6z"/><path fill="#695dd8" d="M417.8 142.7l4.1-1.9-1.7-.6-4 2z"/><path fill="#695ad2" d="M460.6 142.4l1.1-.7-3.3-.6-1.1.6z"/><path fill="#695ad5" d="M464 142.3l1.1-.6-3.3-.6-1 .6z"/><path fill="#695dd5" d="M467.4 142.2l1.1-.6-3.2-.5-1.1.6z"/><path fill="#877ee1" d="M470.9 142.1l1.1-.6-3.3-.5-1.1.6z"/><path fill="#695dd8" d="M408.4 142.9l4.1-1.8-1.6-.5-4.1 1.8z"/><path fill="#695dd5" d="M430 143.2l3.9-1.9-2.7-1-3.9 2z"/><path fill="#695ad2" d="M440.5 143.3l3.9-1.8-2.6-.9-4 1.9z"/><path fill="#695dd8" d="M419.3 143l4.1-1.9-1.7-.5-4 1.9z"/><path fill="#695ad2" d="M449.2 142.7l1.1-.6-3.2-.7-1.2.6zM452.6 142.7l1.1-.6-3.2-.7-1.1.7zM456.1 142.8l1.1-.7-3.3-.6-1.1.6zM459.5 142.8l1.1-.7-3.2-.6-1.1.6z"/><path fill="#695ad5" d="M463 142.7l1.1-.6-3.3-.6-1.1.6z"/><path fill="#695dd5" d="M409.9 143.2l4.1-1.8-1.6-.5-4.1 1.8z"/><path fill="#695ad5" d="M466.4 142.7l1.1-.7-3.3-.5-1 .6z"/><path fill="#695dd8" d="M469.9 142.5l1-.6-3.2-.5-1.1.6z"/><path fill="#786fe1" d="M473.3 142.3l1.1-.6-3.3-.4-1.1.6z"/><path fill="#695dd5" d="M421.8 143.6l4-1.9-2.7-.9-3.9 2z"/><path fill="#695ad5" d="M432.4 143.6l3.9-1.8-2.7-.9-3.9 1.9z"/><path fill="#695ad2" d="M442.9 143.7l3.9-1.7-2.6-.9-4 1.8zM451.6 143.1l1.1-.6-3.2-.7-1.1.7z"/><path fill="#695ad5" d="M411.5 143.4l4-1.7-1.6-.5-4.1 1.8z"/><path fill="#695ad2" d="M455 143.2l1.1-.7-3.2-.6-1.1.6zM458.5 143.2l1.1-.7-3.3-.6-1.1.6zM461.9 143.1l1.1-.6-3.2-.6-1.1.6z"/><path fill="#695ad5" d="M465.4 143.1l1.1-.7-3.3-.5-1.1.6z"/><path fill="#695dd8" d="M468.8 142.9l1.1-.6-3.3-.5-1 .7z"/><path fill="#877bde" d="M402.1 143.5l4.1-1.6-1.6-.5-4.1 1.6z"/><path fill="#695ddb" d="M472.3 142.7l1-.6-3.2-.4-1.1.6z"/><path fill="#a29ced" d="M475.7 142.4l1.1-.6-3.3-.2-1.1.6z"/><path fill="#695ad5" d="M413 143.7l4-1.7-1.6-.5-4.1 1.7zM424.2 144l4-1.8-2.7-.9-3.9 1.9z"/><path fill="#695ad2" d="M434.8 144.1l3.9-1.8-2.6-.8-4 1.8z"/><path fill="#695acf" d="M445.3 144.2l3.9-1.8-2.6-.8-4 1.8z"/><path fill="#695ad2" d="M454 143.6l1.1-.7-3.2-.6-1.1.6z"/><path fill="#695ad5" d="M403.6 143.8l4.1-1.6-1.6-.5-4.1 1.6z"/><path fill="#695ad2" d="M457.4 143.6l1.1-.7-3.2-.6-1.1.6zM460.9 143.5l1.1-.6-3.3-.6-1.1.6z"/><path fill="#695ad5" d="M464.3 143.5l1.1-.7-3.2-.5-1.1.6z"/><path fill="#695ad2" d="M414.5 144l4-1.7-1.6-.5-4.1 1.7z"/><path fill="#695dd8" d="M467.8 143.4l1.1-.7-3.3-.5-1.1.7z"/><path fill="#695ddb" d="M471.2 143.2l1.1-.7-3.3-.4-1 .7z"/><path fill="#6c60e1" d="M474.7 142.8l1.1-.6-3.3-.2-1.1.6z"/><path fill="#aba8f3" d="M478.1 142.3l1.1-.6-3.3 0-1 .6z"/><path fill="#695ad5" d="M405.1 144.1l4.1-1.6-1.6-.5-4.1 1.6z"/><path fill="#695ad2" d="M426.6 144.5l4-1.8-2.7-.8-3.9 1.8z"/><path fill="#695acf" d="M437.2 144.6l3.9-1.8-2.6-.8-4 1.8z"/><path fill="#695ad2" d="M416 144.3l4.1-1.7-1.7-.5-4 1.7z"/><path fill="#695acf" d="M447.7 144.6l4-1.8-2.7-.7-4 1.7z"/><path fill="#695ad2" d="M456.4 144l1.1-.7-3.2-.6-1.1.6zM459.9 143.9l1.1-.6-3.3-.6-1.1.6zM463.3 143.9l1.1-.6-3.3-.6-1 .6z"/><path fill="#695dd5" d="M466.7 143.8l1.1-.7-3.2-.5-1.1.7z"/><path fill="#695ad5" d="M406.6 144.4l4.1-1.6-1.6-.5-4.1 1.6z"/><path fill="#695ddb" d="M470.2 143.6l1.1-.7-3.3-.4-1.1.7z"/><path fill="#6960de" d="M473.7 143.3l1-.7-3.3-.2-1 .6z"/><path fill="#6c63e7" d="M477.1 142.7l1.1-.6-3.3 0-1.1.6z"/><path fill="#9090f3" d="M480.6 141.8l1-.5-3.3.4-1 .5z"/><path fill="#695ad2" d="M418.5 144.9l4-1.8-2.7-.8-3.9 1.8z"/><path fill="#695acf" d="M429 144.9l4-1.7-2.7-.8-3.9 1.8zM439.6 145l3.9-1.7-2.6-.8-4 1.7zM450.1 145l4-1.7-2.7-.8-3.9 1.8z"/><path fill="#695ad2" d="M408.1 144.7l4.1-1.6-1.6-.5-4.1 1.6zM458.8 144.3l1.1-.6-3.2-.6-1.1.6zM462.3 144.3l1.1-.6-3.3-.6-1.1.6z"/><path fill="#695ad5" d="M465.7 144.2l1.1-.6-3.3-.6-1 .7z"/><path fill="#695dd8" d="M469.2 144l1-.6-3.2-.4-1.1.6z"/><path fill="#6960de" d="M472.6 143.7l1.1-.7-3.3-.2-1.1.6z"/><path fill="#8178db" d="M398.8 144.7l4.1-1.5-1.6-.5-4.1 1.5z"/><path fill="#6c63e7" d="M476.1 143.2l1-.7-3.3 0-1 .7z"/><path fill="#6c6cf0" d="M479.5 142.3l1.1-.6-3.3.4-1.1.6z"/><path fill="#695ad2" d="M409.6 145l4.1-1.7-1.6-.4-4.1 1.6z"/><path fill="#b7bafc" d="M483 141l1-.5-3.3 1-1 .4z"/><path fill="#695acf" d="M420.9 145.3l4-1.7-2.7-.8-3.9 1.7zM431.4 145.4l4-1.8-2.6-.8-4 1.8zM442 145.4l3.9-1.7-2.6-.8-4 1.8zM452.5 145.4l4-1.7-2.7-.8-3.9 1.8z"/><path fill="#695ad5" d="M400.3 145l4.1-1.5-1.6-.5-4.1 1.5z"/><path fill="#695ad2" d="M461.2 144.7l1.1-.6-3.2-.6-1.1.6z"/><path fill="#695ad5" d="M464.7 144.6l1.1-.6-3.3-.5-1.1.6z"/><path fill="#695dd8" d="M468.1 144.5l1.1-.7-3.3-.4-1 .6z"/><path fill="#695ad2" d="M411.1 145.2l4.1-1.6-1.6-.5-4.1 1.7z"/><path fill="#6960de" d="M471.6 144.2l1-.7-3.2-.3-1.1.7z"/><path fill="#6c63e4" d="M475 143.7l1.1-.7-3.3 0-1 .6z"/><path fill="#6c69ed" d="M478.5 142.9l1-.7-3.3.3-1 .7z"/><path fill="#b7b7f9" d="M481.9 141.6l1-.7-3.2 1-1 .5z"/><path fill="#ffffff" d="M485.3 139.7l1.1-.5-3.2 1.7-1.1.4z"/><path fill="#695ad5" d="M401.8 145.2l4.1-1.5-1.6-.5-4.1 1.6z"/><path fill="#695acf" d="M423.3 145.7l4-1.7-2.7-.8-3.9 1.8zM433.8 145.8l4-1.7-2.6-.8-4 1.7z"/><path fill="#695ad2" d="M412.6 145.5l4.1-1.6-1.6-.5-4.1 1.6z"/><path fill="#695acf" d="M444.4 145.8l3.9-1.7-2.6-.7-4 1.7zM454.9 145.8l4-1.7-2.7-.8-3.9 1.8z"/><path fill="#695ad2" d="M463.6 145l1.1-.6-3.2-.5-1.1.6z"/><path fill="#695dd5" d="M467.1 144.9l1.1-.7-3.3-.4-1.1.6z"/><path fill="#695ddb" d="M470.5 144.6l1.1-.6-3.3-.4-1 .7z"/><path fill="#695ad2" d="M403.3 145.5l4.1-1.5-1.6-.5-4.1 1.5z"/><path fill="#6c63e4" d="M474 144.2l1.1-.7-3.3-.1-1.1.7z"/><path fill="#6c69ed" d="M477.5 143.4l1-.7-3.3.3-1 .6z"/><path fill="#6c72f6" d="M480.9 142.2l1-.7-3.3.8-1 .6z"/><path fill="#ffffff" d="M484.3 140.3l1-.6-3.2 1.6-1 .5z"/><path fill="#695acf" d="M415.2 146.1l3.9-1.7-2.6-.8-4 1.7zM425.7 146.2l4-1.7-2.7-.8-3.9 1.7zM436.2 146.2l4-1.7-2.6-.7-4 1.7z"/><path fill="#6957cc" d="M446.8 146.3l3.9-1.8-2.6-.7-4 1.7z"/><path fill="#695ad2" d="M404.8 145.8l4.1-1.5-1.6-.5-4.1 1.5z"/><path fill="#695acf" d="M457.3 146.2l4-1.8-2.7-.7-3.9 1.8z"/><path fill="#695ad5" d="M466 145.3l1.1-.6-3.2-.5-1.1.6z"/><path fill="#695ddb" d="M469.5 145.1l1.1-.7-3.3-.3-1.1.6z"/><path fill="#6c60e1" d="M472.9 144.7l1.1-.7-3.3-.2-1 .7z"/><path fill="#6c66ea" d="M476.4 144l1.1-.7-3.3.1-1.1.7z"/><path fill="#7b6fde" d="M395.5 145.7l4.1-1.4-1.6-.5-4.1 1.4z"/><path fill="#6c72f6" d="M479.9 142.9l1-.8-3.3.7-1 .7z"/><path fill="#6c7efc" d="M483.3 141.1l1-.8-3.2 1.5-1.1.6z"/><path fill="#695ad2" d="M406.3 146.1l4.1-1.5-1.6-.5-4.1 1.5z"/><path fill="#695acf" d="M417.6 146.5l4-1.7-2.7-.7-4 1.6zM428.1 146.6l4-1.7-2.7-.8-3.9 1.7z"/><path fill="#6957cc" d="M438.6 146.7l4-1.7-2.6-.8-4 1.7z"/><path fill="#695acf" d="M449.2 146.7l4-1.8-2.7-.7-4 1.7z"/><path fill="#695dd8" d="M397 146l4.1-1.4-1.6-.5-4.1 1.4z"/><path fill="#695ad2" d="M459.7 146.5l4-1.7-2.6-.7-4 1.8z"/><path fill="#695dd8" d="M468.5 145.6l1-.7-3.2-.4-1.1.7z"/><path fill="#6960de" d="M471.9 145.2l1.1-.7-3.3-.2-1.1.7z"/><path fill="#695ad2" d="M407.8 146.4l4.1-1.5-1.6-.5-4.1 1.5z"/><path fill="#6c66e7" d="M475.4 144.6l1-.8-3.3.1-1 .7z"/><path fill="#a8c3ff" d="M484.8 140.3l1-1.1-2.3 1.5-1 .8z"/><path fill="#6c72f3" d="M478.8 143.6l1-.9-3.2.6-1.1.7z"/><path fill="#6c7efc" d="M482.3 142l1-1-3.3 1.3-1 .8z"/><path fill="#695dd5" d="M398.5 146.3l4.1-1.4-1.6-.5-4.1 1.4z"/><path fill="#695acf" d="M420 147l4-1.7-2.7-.8-3.9 1.7z"/><path fill="#6957cc" d="M430.5 147l4-1.6-2.6-.8-4 1.7z"/><path fill="#695ad2" d="M409.3 146.7l4.1-1.6-1.6-.4-4.1 1.5z"/><path fill="#6957cc" d="M441.1 147.1l3.9-1.7-2.6-.8-4 1.7z"/><path fill="#695acf" d="M451.6 147.1l4-1.8-2.7-.7-3.9 1.7z"/><path fill="#695ad2" d="M462.1 146.9l4-1.9-2.6-.6-4 1.8z"/><path fill="#6960de" d="M470.9 145.7l1-.7-3.2-.3-1.1.7z"/><path fill="#6c63e7" d="M474.3 145.2l1.1-.8-3.3 0-1 .7z"/><path fill="#638dff" d="M483.8 141.5l.9-1.4-2.3 1.1-1 1.1z"/><path fill="#695ad5" d="M400 146.6l4.1-1.4-1.6-.5-4.1 1.4z"/><path fill="#6c6cf0" d="M477.8 144.4l1-1-3.3.4-1 .8z"/><path fill="#6c7bf9" d="M481.2 142.9l1-1-3.2 1-1 .8z"/><path fill="#ffffff" d="M487.8 137.8l.9-1.4-2.1 2.1-1.1 1.1z"/><path fill="#695acf" d="M411.9 147.2l3.9-1.6-2.6-.8-4 1.7zM422.4 147.4l4-1.7-2.7-.7-3.9 1.6z"/><path fill="#6957cc" d="M432.9 147.5l4-1.7-2.6-.8-4 1.7zM443.5 147.5l3.9-1.7-2.6-.8-4 1.7z"/><path fill="#5196f9" d="M485.3 140.6l.9-1.6-2.3 1.4-.9 1.2z"/><path fill="#695ad5" d="M401.5 146.9l4.1-1.4-1.6-.5-4.1 1.4z"/><path fill="#695acf" d="M454 147.5l4-1.8-2.7-.7-3.9 1.7z"/><path fill="#695dd5" d="M464.5 147.2l4-1.9-2.6-.6-4 1.9z"/><path fill="#6c63e4" d="M473.3 145.8l1.1-.8-3.3-.1-1.1.7z"/><path fill="#ffffff" d="M492.9 130.6l.5-.9-1.2 2-.5.7z"/><path fill="#6987ff" d="M482.6 142.6l1.1-1.5-2.3.8-1 1.2z"/><path fill="#6c69ed" d="M476.7 145.1l1.1-1-3.3.3-1 .8z"/><path fill="#aeeaed" d="M489.3 136.5l.9-2-2.2 2.5-.9 1.3z"/><path fill="#6c78f9" d="M480.2 143.9l1-1.2-3.3.8-1 .9z"/><path fill="#7269e1" d="M392.1 146.3l4.2-.9-1.6-.5-4.1.9z"/><path fill="#b1eaea" d="M490.6 134.7l.3-1.1-1.4 1.5-.4.9z"/><path fill="#ffffff" d="M497 124.1l.5-.8-1.2 2.1-.6.5z"/><path fill="#54a8f0" d="M486.7 139.6l1-2-2.3 1.7-.9 1.4z"/><path fill="#695ad5" d="M403 147.2l4.1-1.4-1.6-.5-4.1 1.4z"/><path fill="#695acf" d="M414.3 147.7l3.9-1.6-2.6-.8-4 1.6z"/><path fill="#6957cc" d="M424.8 147.8l4-1.6-2.7-.8-3.9 1.7z"/><path fill="#ffffff" d="M491.3 134l.4-1.4-1.5 1.4-.3 1.2zM494.6 128.9l.3-1.6-1.3 1.8-.4 1.1z"/><path fill="#6093ff" d="M484.1 141.9l1.1-1.7-2.3.9-1 1.5z"/><path fill="#6957cc" d="M435.3 147.9l4-1.7-2.6-.8-4 1.7z"/><path fill="#fcfc93" d="M497.7 124.4l.6-1.9-1.5 1.1-.4 1.2z"/><path fill="#6957cc" d="M445.9 147.9l3.9-1.7-2.6-.7-4 1.7z"/><path fill="#c3db84" d="M493.3 131.2l.4-1.8-1.5 1.6-.3 1.3z"/><path fill="#6960de" d="M393.6 146.6l4.2-.9-1.6-.5-4.1.9z"/><path fill="#695acf" d="M456.4 147.8l4-1.7-2.7-.7-3.9 1.7z"/><path fill="#fcf09f" d="M496.4 126.2l.5-2.1-1.3 1.1-.4 1.8z"/><path fill="#695dd8" d="M466.9 147.5l4-2.1-2.6-.4-4 1.9z"/><path fill="#c6edd8" d="M492 133.4l.4-1.8-1.4 1.2-.3 1.5z"/><path fill="#6981fc" d="M481.6 143.7l1.1-1.6-2.3.5-1 1.4z"/><path fill="#6c66ea" d="M475.7 145.8l1.1-1-3.3.1-1.1.8z"/><path fill="#fcdea2" d="M495.2 128.4l.5-2.2-1.3 1.1-.4 1.9z"/><path fill="#2aaee1" d="M488.2 138.6l1-2.4-2.3 1.6-.9 1.9z"/><path fill="#695ad2" d="M404.5 147.5l4.1-1.5-1.6-.4-4.1 1.4z"/><path fill="#6c72f3" d="M479.1 144.7l1.1-1.1-3.3.5-1 1z"/><path fill="#2ac3b1" d="M490.7 135.3l.5-1.7-1.5 1-.3 1.5z"/><path fill="#c3c636" d="M493.9 130.5l.5-2.1-1.3 1.1-.4 1.9z"/><path fill="#f9f063" d="M497 126l.7-2.3-1.1.3-.7 2.2z"/><path fill="#75cf6c" d="M492.6 132.7l.6-2.1-1.3 1-.5 1.8z"/><path fill="#57a2f6" d="M485.6 141.2l1.1-2.1-2.2 1.1-1 1.7z"/><path fill="#1bbdc6" d="M490.3 135.9l.4-1.3-2.2 2.1-.4 1z"/><path fill="#3cc99f" d="M491.4 134.6l.5-1.9-1.3.9-.5 1.7z"/><path fill="#e4c648" d="M494.6 129.9l.6-2.3-1.2.8-.6 2.1z"/><path fill="#6960de" d="M395.1 146.9l4.2-.9-1.6-.5-4.1.9z"/><path fill="#fcde6f" d="M496.8 127.6l.4-2.4-2.1 1.2-.5 1.9z"/><path fill="#695acf" d="M416.7 148.1l3.9-1.6-2.6-.8-4 1.7z"/><path fill="#668aff" d="M483 143.2l1.2-1.8-2.2.6-1.1 1.6z"/><path fill="#6957cc" d="M427.2 148.3l4-1.7-2.7-.8-3.9 1.7z"/><path fill="#695ad2" d="M406 147.8l4.1-1.5-1.6-.5-4.1 1.5z"/><path fill="#6957cc" d="M437.7 148.3l4-1.7-2.6-.7-4 1.7z"/><path fill="#5acf8a" d="M492.1 134l.5-2.1-1.2.8-.5 1.9z"/><path fill="#b7cf5d" d="M494.3 131.1l.4-2-2.2 2-.4 1.5z"/><path fill="#695acc" d="M448.3 148.3l3.9-1.7-2.6-.7-4 1.7z"/><path fill="#695acf" d="M458.8 148.2l4-1.8-2.7-.6-3.9 1.7z"/><path fill="#39c6d5" d="M489.8 137.1l.4-1.4-2.3 1.8-.4 1.1z"/><path fill="#6c7bf9" d="M480.5 144.7l1.2-1.6-2.3.3-1.1 1.4z"/><path fill="#6960de" d="M469.4 147.7l3.9-2.2-2.6-.3-4 2z"/><path fill="#f9d278" d="M496.2 129.3l.5-2.4-2.1.8-.5 2.1z"/><path fill="#51aeed" d="M487 140.4l1.1-2.5-2.1 1.2-1 2.1z"/><path fill="#6c6ff0" d="M478.1 145.6l1-1.1-3.2.3-1.1.9z"/><path fill="#57d2b1" d="M491.8 134.9l.4-1.7-2.3 1.9-.3 1.3z"/><path fill="#695ddb" d="M396.6 147.3l4.2-1.1-1.6-.4-4.1 1z"/><path fill="#6c63e7" d="M473.9 146.9l1.8-1.4-3.1-.2-1.8 1.3z"/><path fill="#99d57b" d="M493.8 132.8l.4-2.1-2.2 1.5-.4 1.7z"/><path fill="#5a96fc" d="M484.5 142.7l1.1-2.1-2.1.7-1.1 1.8z"/><path fill="#45bde1" d="M489.3 138.2l.4-1.4-2.3 1.5-.4 1.2z"/><path fill="#e1d575" d="M495.7 131.1l.5-2.4-2.1.4-.5 2.2z"/><path fill="#695ad2" d="M408.5 148.4l4-1.6-2.6-.8-4 1.5z"/><path fill="#48ccc3" d="M491.3 136.3l.4-1.8-2.3 1.6-.4 1.4z"/><path fill="#6984fc" d="M482 144.3l1.1-1.7-2.1.4-1.2 1.5z"/><path fill="#695acf" d="M419.1 148.6l4-1.7-2.7-.7-4 1.6z"/><path fill="#6957cc" d="M429.6 148.7l4-1.7-2.6-.7-4 1.6z"/><path fill="#75d596" d="M493.3 134.3l.4-2.1-2.2 1.2-.4 1.8z"/><path fill="#6957cc" d="M440.1 148.7l4-1.7-2.6-.7-4 1.7z"/><path fill="#695ddb" d="M398.1 147.6l4.2-1.1-1.6-.4-4.1 1z"/><path fill="#695acc" d="M450.7 148.7l4-1.7-2.7-.7-4 1.7z"/><path fill="#4bb7e7" d="M488.8 139.3l.4-1.4-2.3 1.3-.4 1.1z"/><path fill="#6c75f6" d="M479.4 145.6l1.2-1.5-2.2.1-1.1 1.4z"/><path fill="#c6db81" d="M495.2 132.7l.5-2.3-2.1.3-.5 2.2z"/><path fill="#695ad2" d="M461.2 148.6l4-1.9-2.6-.6-4 1.8z"/><path fill="#57a2f6" d="M486 142.1l1.1-2.4-2 .8-1.2 2.1z"/><path fill="#36c6d2" d="M490.8 137.6l.4-1.8-2.3 1.3-.4 1.4z"/><path fill="#5dd2ae" d="M492.7 135.8l.5-2-2.2.9-.5 1.8z"/><path fill="#b4b1f3" d="M388.8 146.1l4.2 0-1.5-.4-4.3 0z"/><path fill="#668dff" d="M483.4 144l1.2-2-2.1.5-1.2 1.7z"/><path fill="#6c69ed" d="M476.3 147l1.8-1.7-3.1-.1-1.8 1.5z"/><path fill="#51b1ed" d="M488.2 140.3l.5-1.4-2.3 1.1-.5 1.2z"/><path fill="#9cdb93" d="M494.6 134.3l.6-2.2-2.1.1-.6 2.2z"/><path fill="#695dd8" d="M399.7 148l4.1-1.2-1.6-.4-4.1 1z"/><path fill="#3fc0de" d="M490.2 138.8l.5-1.7-2.3 1-.4 1.4z"/><path fill="#6c7bf9" d="M480.9 145.4l1.2-1.6-2.1.1-1.2 1.5z"/><path fill="#695acf" d="M410.9 148.8l4-1.6-2.6-.7-4 1.5z"/><path fill="#6957cc" d="M421.5 149l4-1.6-2.7-.8-3.9 1.6z"/><path fill="#48ccc3" d="M492.2 137.2l.5-2-2.2.7-.5 1.8z"/><path fill="#6957cc" d="M432 149.1l4-1.7-2.6-.7-4 1.6z"/><path fill="#6c60e1" d="M472.2 147.9l1.9-1.4-3.2-.4-1.8 1.3z"/><path fill="#6957cc" d="M442.6 149.1l3.9-1.7-2.6-.7-4 1.7z"/><path fill="#54a8f0" d="M487.7 141.3l.5-1.4-2.4.9-.4 1.1z"/><path fill="#87deb1" d="M494.1 135.8l.6-2.1-2.1 0-.6 2.1z"/><path fill="#6c66e7" d="M390.3 146.5l4.2-.1-1.5-.4-4.2 0z"/><path fill="#5d96fc" d="M484.9 143.6l1.2-2.2-2.1.5-1.1 2z"/><path fill="#695acf" d="M453.1 149.1l4-1.7-2.7-.7-3.9 1.7z"/><path fill="#695ad5" d="M463.6 148.9l4-1.9-2.6-.6-4 1.8z"/><path fill="#4bbae7" d="M489.7 139.9l.5-1.6-2.3.8-.5 1.4z"/><path fill="#695dd8" d="M401.2 148.3l4.1-1.2-1.6-.5-4.1 1.2z"/><path fill="#6c6ff0" d="M477.5 147l2.1-2-1.9 0-2.1 1.8z"/><path fill="#36c6d2" d="M491.7 138.5l.5-1.9-2.2.5-.5 1.8z"/><path fill="#6981fc" d="M482.4 145.2l1.2-1.8-2.1.2-1.2 1.6z"/><path fill="#72d8c0" d="M493.6 137.2l.6-2-2.1 0-.6 2z"/><path fill="#51b1ea" d="M489.2 141l.5-1.6-2.3.6-.5 1.4z"/><path fill="#6c66e7" d="M391.8 146.9l4.2-.2-1.5-.4-4.2.1z"/><path fill="#579ff9" d="M486.4 143.3l1.2-2.4-2 .4-1.2 2.2z"/><path fill="#695acf" d="M413.4 149.3l3.9-1.6-2.6-.8-4 1.6z"/><path fill="#42c0de" d="M491.1 139.7l.6-1.8-2.2.4-.6 1.7z"/><path fill="#6957cc" d="M423.9 149.4l4-1.6-2.7-.8-3.9 1.7z"/><path fill="#695dd8" d="M402.7 148.7l4.1-1.3-1.6-.5-4.1 1.2z"/><path fill="#6c75f6" d="M479 147l2.1-2.2-1.9 0-2.1 1.9z"/><path fill="#6657cc" d="M434.4 149.5l4-1.7-2.6-.7-4 1.7z"/><path fill="#6c63e7" d="M474.6 148l1.9-1.5-3.2-.3-1.8 1.4z"/><path fill="#51cfcc" d="M493.1 138.6l.6-2-2.1 0-.7 1.9z"/><path fill="#668aff" d="M483.9 145l1.2-2-2.1.2-1.2 1.8z"/><path fill="#6957cc" d="M445 149.5l3.9-1.7-2.6-.7-4 1.7z"/><path fill="#695acf" d="M455.5 149.5l4-1.8-2.7-.7-3.9 1.8z"/><path fill="#54a8f0" d="M488.6 142l.6-1.5-2.3.4-.5 1.4z"/><path fill="#695dd5" d="M466 149.2l4-2-2.6-.5-4 1.9z"/><path fill="#4bb7e7" d="M490.6 140.9l.6-1.7-2.3.2-.5 1.6z"/><path fill="#6c66e7" d="M393.3 147.4l4.2-.3-1.5-.5-4.2.2z"/><path fill="#4bc9db" d="M492.6 139.8l.6-1.8-2.2-.1-.6 1.7z"/><path fill="#6c78f9" d="M480.5 146.9l2.1-2.3-1.9 0-2.1 2.1z"/><path fill="#57a2f6" d="M488.1 142.9l.5-1.4-2.2.3-.6 1.3z"/><path fill="#6090ff" d="M485.4 144.8l1.2-2.2-2 .2-1.3 2z"/><path fill="#695ad5" d="M405.2 149.3l4-1.4-2.6-.8-4 1.3z"/><path fill="#51aeed" d="M490.1 141.9l.6-1.6-2.3.2-.5 1.5z"/><path fill="#6c66ea" d="M475.8 148.2l2.2-1.8-1.9-.3-2.2 1.7z"/><path fill="#695acf" d="M415.8 149.7l3.9-1.6-2.6-.7-4 1.5z"/><path fill="#6957cc" d="M426.3 149.9l4-1.7-2.7-.7-3.9 1.6z"/><path fill="#5dc6e7" d="M492.1 141l.6-1.7-2.2-.2-.6 1.7z"/><path fill="#6657cc" d="M436.8 149.9l4-1.6-2.6-.8-4 1.7z"/><path fill="#6c63e7" d="M394.8 147.8l4.2-.4-1.5-.5-4.2.3z"/><path fill="#695acf" d="M457.9 149.9l4-1.8-2.7-.7-3.9 1.8z"/><path fill="#695dd8" d="M468.5 149.5l3.9-2.1-2.6-.5-4 2z"/><path fill="#54a8f3" d="M489.6 142.9l.6-1.5-2.3 0-.6 1.5z"/><path fill="#6c7bf9" d="M482 146.9l2.1-2.6-1.9 0-2.1 2.4z"/><path fill="#5a96fc" d="M486.8 144.7l1.3-2.3-2 .1-1.3 2.1z"/><path fill="#60baed" d="M491.6 142l.6-1.6-2.2-.2-.6 1.6z"/><path fill="#6c6ced" d="M477.3 148.2l2.2-1.9-1.9-.2-2.1 1.8z"/><path fill="#6c63e4" d="M396.3 148.3l4.2-.6-1.5-.5-4.2.5z"/><path fill="#695ad2" d="M407.6 149.9l4-1.5-2.6-.8-4 1.4z"/><path fill="#695acf" d="M418.2 150.2l3.9-1.6-2.6-.8-4 1.6z"/><path fill="#66b4f3" d="M491.1 143l.6-1.5-2.2-.2-.7 1.4z"/><path fill="#6981fc" d="M483.5 146.8l2.1-2.7-1.9 0-2 2.5z"/><path fill="#6957cc" d="M428.7 150.3l4-1.7-2.6-.7-4 1.6z"/><path fill="#579cf9" d="M488.3 144.7l1.3-2.4-2-.1-1.3 2.3z"/><path fill="#6657cc" d="M439.2 150.3l4-1.6-2.6-.8-4 1.7z"/><path fill="#6957cc" d="M449.8 150.3l3.9-1.7-2.6-.7-4 1.7z"/><path fill="#6c6ff0" d="M478.8 148.3l2.2-2-1.9-.2-2.1 1.8z"/><path fill="#695acf" d="M460.3 150.2l4-1.8-2.7-.6-3.9 1.7z"/><path fill="#6960de" d="M470.9 149.8l3.9-2.3-2.6-.4-4 2.1z"/><path fill="#6687ff" d="M485.7 146.2l1.4-2.1-2-.1-1.4 2z"/><path fill="#6c60e1" d="M397.8 148.8l4.2-.7-1.6-.6-4.1.6z"/><path fill="#6c63e4" d="M474.2 149.2l2.1-1.6-1.9-.4-2.1 1.5z"/><path fill="#7bb1f9" d="M489.8 144.9l1.3-2.4-2-.4-1.3 2.4z"/><path fill="#6c72f3" d="M480.3 148.3l2.2-2.1-1.9-.2-2.1 2z"/><path fill="#695ad2" d="M410 150.4l4-1.6-2.6-.8-4 1.5z"/><path fill="#6957cc" d="M420.6 150.6l4-1.6-2.7-.8-4 1.6z"/><path fill="#638dff" d="M487.2 146.3l1.4-2.2-2-.3-1.4 2.2z"/><path fill="#6c60e1" d="M399.3 149.3l4.2-.9-1.6-.5-4.1.7z"/><path fill="#6c63e7" d="M475.7 149.3l2.1-1.7-1.9-.3-2.1 1.5z"/><path fill="#6657cc" d="M431.1 150.7l4-1.6-2.6-.8-4 1.7zM441.6 150.7l4-1.6-2.6-.8-4 1.7z"/><path fill="#6957cc" d="M452.2 150.7l4-1.7-2.7-.7-4 1.7z"/><path fill="#695ad2" d="M462.7 150.6l4-1.9-2.6-.6-4 1.8z"/><path fill="#6c7efc" d="M484.6 147.5l1.4-1.9-2-.3-1.4 1.8z"/><path fill="#ffffff" d="M390 146.2l4.1 1.2-1.5-.4-4.1-1.5z"/><path fill="#6c75f6" d="M481.8 148.4l2.2-2.2-1.9-.2-2.1 2.1z"/><path fill="#7b9fff" d="M488.7 146.5l1.4-2.3-2-.3-1.4 2.2z"/><path fill="#6c66ea" d="M477.2 149.4l2.1-1.7-1.9-.4-2.1 1.7z"/><path fill="#6960de" d="M401.9 150.1l4-1.2-2.6-.8-4 .9zM472.5 150l2.2-1.4-1.9-.5-2.2 1.4z"/><path fill="#695acf" d="M412.4 150.8l4-1.5-2.6-.8-4 1.5z"/><path fill="#6957cc" d="M423 151l4-1.6-2.7-.7-3.9 1.6z"/><path fill="#6c7efc" d="M486.1 147.6l1.4-1.9-2-.4-1.4 1.9z"/><path fill="#6657cc" d="M433.5 151.1l4-1.6-2.6-.8-4 1.7z"/><path fill="#6c6ff0" d="M391.5 147l4.2.8-1.5-.5-4.2-1.1z"/><path fill="#6957cc" d="M444 151.1l4-1.6-2.6-.8-4 1.7z"/><path fill="#695acf" d="M454.6 151.1l4-1.7-2.7-.7-3.9 1.7z"/><path fill="#695ad2" d="M465.1 150.9l4-1.9-2.6-.6-4 1.9z"/><path fill="#6c69ea" d="M478.7 149.5l2.1-1.8-1.9-.3-2.1 1.7z"/><path fill="#6c75f6" d="M483.5 148.5l1.4-1.6-2.1-.4-1.3 1.6z"/><path fill="#a8d5f6" d="M384 141.9l1.2 1.9-2.1-.3-1.2-1.9z"/><path fill="#6960e1" d="M474 150.2l2.2-1.5-1.9-.4-2.2 1.4z"/><path fill="#8796fc" d="M487.6 147.8l1.4-2-2-.4-1.4 1.9z"/><path fill="#6c75f6" d="M393 147.9l4.2.3-1.5-.5-4.2-.8z"/><path fill="#695dd8" d="M404.3 150.7l4-1.3-2.6-.8-4 1.1z"/><path fill="#695acf" d="M414.9 151.3l3.9-1.6-2.6-.8-4 1.6z"/><path fill="#6c6ced" d="M480.2 149.7l2.1-1.9-1.9-.4-2.1 1.8z"/><path fill="#6c75f6" d="M485 148.7l1.4-1.7-2-.4-1.4 1.6z"/><path fill="#6957cc" d="M425.4 151.5l4-1.7-2.7-.7-3.9 1.6z"/><path fill="#6657cc" d="M435.9 151.5l4-1.6-2.6-.8-4 1.7z"/><path fill="#6c63e4" d="M475.5 150.4l2.2-1.5-1.9-.5-2.2 1.5z"/><path fill="#695acf" d="M457 151.5l4-1.7-2.7-.7-3.9 1.7z"/><path fill="#695ad5" d="M467.5 151.3l4-2-2.6-.6-4 1.9z"/><path fill="#a2def0" d="M383 140.3l1.2 2.2-2.1-.3-1.2-2.3z"/><path fill="#6c6ff0" d="M394.5 148.6l4.2.1-1.5-.6-4.2-.4z"/><path fill="#6c6cf0" d="M481.7 149.9l2.1-2-1.9-.4-2.1 1.9z"/><path fill="#8a93f9" d="M486.5 148.9l1.4-1.7-2-.5-1.4 1.7z"/><path fill="#6c63e4" d="M477 150.5l2.2-1.5-1.9-.5-2.2 1.5z"/><path fill="#695dd5" d="M406.7 151.3l4-1.4-2.6-.8-4 1.3z"/><path fill="#695acf" d="M417.3 151.7l3.9-1.5-2.6-.8-4 1.6z"/><path fill="#6c69ed" d="M396 149.4l4.2-.3-1.5-.6-4.2 0z"/><path fill="#6957cc" d="M427.8 151.9l4-1.7-2.7-.7-3.9 1.6z"/><path fill="#b4b4f6" d="M391.2 146.9l1.1.4-2.3-1.2-1-.6z"/><path fill="#9ce4e7" d="M382.7 139.6l.4 1.3-2.2-.5-.5-1.5z"/><path fill="#6657cc" d="M438.3 151.9l4-1.6-2.6-.8-4 1.7z"/><path fill="#695dd8" d="M468.9 151.4l4.1-1.9-1.6-.4-4.1 1.9z"/><path fill="#6c6ff0" d="M483.2 150l2.1-1.9-1.9-.5-2.1 2z"/><path fill="#695acf" d="M459.4 151.9l4-1.8-2.7-.7-3.9 1.8z"/><path fill="#6c63e7" d="M478.5 150.7l2.2-1.6-1.9-.4-2.2 1.5z"/><path fill="#6fd5c9" d="M382.2 138.6l.4 1.4-2.2-.6-.5-1.5z"/><path fill="#6c6ff0" d="M392.7 147.8l1.1.2-2.3-1.2-1-.4z"/><path fill="#695dd8" d="M470.4 151.6l4.1-2-1.6-.3-4.1 1.9z"/><path fill="#6c66e7" d="M398.6 150.6l4-.8-2.6-1.1-4 .4z"/><path fill="#8181f3" d="M484.7 150.3l2.1-2-1.9-.5-2.1 1.9z"/><path fill="#695ad2" d="M409.1 151.9l4-1.5-2.6-.8-4 1.4z"/><path fill="#695acf" d="M419.7 152.2l3.9-1.6-2.6-.8-4 1.6z"/><path fill="#ffffff" d="M390.2 146.3l1.1.5-2.3-1.3-1-.8z"/><path fill="#9fe4cc" d="M381.6 137.5l.5 1.5-2.3-.6-.4-1.7z"/><path fill="#6957cc" d="M430.2 152.3l4-1.6-2.6-.8-4 1.6z"/><path fill="#6c66e7" d="M480 150.9l2.2-1.6-1.9-.5-2.2 1.6z"/><path fill="#6957cc" d="M440.7 152.3l4-1.6-2.6-.8-4 1.7zM451.3 152.3l3.9-1.7-2.6-.7-4 1.7z"/><path fill="#695acf" d="M461.8 152.2l4-1.7-2.7-.7-3.9 1.7z"/><path fill="#6c7bf9" d="M394.1 148.7l1.2 0-2.2-1.2-1.1-.2z"/><path fill="#695ddb" d="M471.9 151.8l4.1-2-1.6-.4-4.1 2z"/><path fill="#9fe1ab" d="M381.1 136.4l.5 1.6-2.3-.8-.4-1.7z"/><path fill="#697bf9" d="M391.6 147.5l1.2.2-2.3-1.4-1.1-.5z"/><path fill="#6c66e7" d="M481.5 151.1l2.2-1.6-1.9-.5-2.2 1.6z"/><path fill="#6c63e4" d="M401 151.4l4-1-2.6-1-4 .8z"/><path fill="#3984fc" d="M389.1 145.7l1.1.6-2.2-1.6-1.1-1z"/><path fill="#695ad2" d="M411.5 152.4l4-1.5-2.6-.8-4 1.4z"/><path fill="#deedc6" d="M380.6 135.2l.4 1.7-2.2-.9-.4-1.8z"/><path fill="#6c75f6" d="M395.6 149.5l1.2-.2-2.2-1.1-1.1 0z"/><path fill="#6957cc" d="M422.1 152.6l4-1.6-2.7-.7-4 1.6z"/><path fill="#695ddb" d="M473.4 152.1l4.1-2.1-1.6-.4-4.1 2.1z"/><path fill="#6957cc" d="M432.6 152.7l4-1.6-2.6-.8-4 1.7zM443.1 152.7l4-1.6-2.6-.8-4 1.7z"/><path fill="#695acf" d="M453.7 152.7l4-1.7-2.7-.7-4 1.7z"/><path fill="#6981fc" d="M393.1 148.5l1.2 0-2.2-1.3-1.2-.3z"/><path fill="#695ad2" d="M464.2 152.6l4-1.8-2.6-.7-4 1.8z"/><path fill="#7b75ea" d="M483 151.3l2.2-1.6-1.9-.6-2.1 1.7z"/><path fill="#dedb81" d="M380.1 134.1l.4 1.6-2.2-1-.4-1.8z"/><path fill="#6090ff" d="M390.5 147l1.2.4-2.2-1.7-1.1-.6z"/><path fill="#6960de" d="M475 152.3l4-2.1-1.6-.4-4.1 2.1z"/><path fill="#6c6ff0" d="M398.1 150.6l1.2-.3-3.2-1.4-1.1.1z"/><path fill="#fcedc9" d="M379.6 133l.4 1.5-2.3-1.2-.3-1.8z"/><path fill="#6960de" d="M403.4 152.2l4-1.3-2.6-.9-4 1.1z"/><path fill="#6c7bf9" d="M394.6 149.4l1.2-.1-2.2-1.3-1.2-.1z"/><path fill="#695acf" d="M413.9 152.9l4-1.6-2.6-.8-4 1.5z"/><path fill="#6957cc" d="M424.5 153l4-1.6-2.7-.7-3.9 1.6zM435 153.1l4-1.6-2.6-.8-4 1.7z"/><path fill="#695ad2" d="M465.6 152.7l4.1-1.7-1.6-.4-4.1 1.7z"/><path fill="#668aff" d="M392 148.3l1.2 0-2.1-1.6-1.2-.3z"/><path fill="#695acf" d="M456.1 153.1l4-1.7-2.7-.7-3.9 1.7z"/><path fill="#c3edf3" d="M384.8 141.9l1.8 1.4-.8-.8-1.6-1.9z"/><path fill="#fff3d8" d="M379.1 132.2l.4 1.2-2.3-1.6-.3-1.6z"/><path fill="#6960de" d="M476.5 152.5l4-2.2-1.6-.3-4.1 2.1z"/><path fill="#3c8df6" d="M389.5 146.6l1.2.3-2.2-1.9-1.1-.6z"/><path fill="#ffffff" d="M382.2 137.8l.5.7-1.3-1.7-.5-1z"/><path fill="#1bb4d8" d="M385.5 143.1l1.8 1.1-.6-1-1.8-1.5z"/><path fill="#ffffff" d="M377.6 129.7l.6 1.7-1.2-.4-.6-2zM380.9 135.8l.5.8-1.3-1.8-.4-1z"/><path fill="#6c72f3" d="M397.1 150.7l1.1-.3-3.2-1.5-1.1 0z"/><path fill="#695ad5" d="M467.1 152.9l4.1-1.7-1.6-.4-4.1 1.7z"/><path fill="#6c66ea" d="M400.5 151.5l1.2-.3-3.2-1.3-1.1.3z"/><path fill="#6981fc" d="M393.5 149.3l1.3-.1-2.2-1.5-1.2 0z"/><path fill="#ffffff" d="M382.9 139.1l.6.6-1.3-1.9-.5-.7z"/><path fill="#695dd8" d="M405.8 152.8l4-1.3-2.6-.9-4 1.2z"/><path fill="#ffffff" d="M383 140l1.8 1.3-.7-1.1-1.7-1.9z"/><path fill="#93d5f0" d="M386.4 144.3l1.7.7-.6-1.2-1.8-1.1z"/><path fill="#695acf" d="M416.4 153.3l3.9-1.6-2.6-.7-4 1.5z"/><path fill="#6960de" d="M478 152.7l4-2.2-1.6-.3-4.1 2.1z"/><path fill="#6957cc" d="M426.9 153.4l4-1.6-2.7-.7-3.9 1.6z"/><path fill="#ffffff" d="M377 130.1l.7.3-1.5-1.2-.4-1z"/><path fill="#6957cc" d="M437.4 153.5l4-1.6-2.6-.8-4 1.7z"/><path fill="#5d93fc" d="M391 148l1.2.1-2.1-1.8-1.2-.4z"/><path fill="#c3d572" d="M380.6 136.6l1.6 1.2-.6-1.5-1.7-1.9z"/><path fill="#69d5d2" d="M383.9 141.5l1.6.8-.6-1.4-1.7-1.3z"/><path fill="#5aaef0" d="M387.2 145.2l1.7.5-.8-1.3-1.7-.7z"/><path fill="#695acf" d="M458.5 153.5l4-1.7-2.7-.7-3.9 1.6z"/><path fill="#695ad5" d="M468.6 153.2l4.1-1.8-1.6-.4-4.1 1.8z"/><path fill="#f9ed78" d="M377.7 131.6l.7.1-1.1-2.1-.7-.3z"/><path fill="#fcd257" d="M378.2 133.2l1.5.5-.9-2.1-1.5-.8z"/><path fill="#7ecf66" d="M381.4 138.2l1.6.8-.7-1.9-1.7-1.1z"/><path fill="#12bacf" d="M384.7 142.7l1.6.6-.7-1.6-1.7-.9z"/><path fill="#368df0" d="M388 146.2l1.6.3-.8-1.4-1.7-.5z"/><path fill="#6f66e1" d="M479.5 152.9l4-2.1-1.6-.4-4.1 2.1z"/><path fill="#6c78f9" d="M396 150.7l1.2-.2-3.2-1.7-1.1 0z"/><path fill="#6c69ed" d="M399.5 151.7l1.1-.3-3.2-1.4-1.1.2z"/><path fill="#6687ff" d="M392.5 149.3l1.2-.2-2.1-1.6-1.2-.1z"/><path fill="#edc342" d="M379 134.9l1.5.3-1-2.3-1.4-.4z"/><path fill="#6c63e4" d="M403 152.3l1.1-.4-3.2-1.1-1.1.4z"/><path fill="#69d59c" d="M382.2 139.7l1.5.6-.8-2-1.5-.8z"/><path fill="#1eb1db" d="M385.5 143.8l1.6.5-.8-1.6-1.7-.7z"/><path fill="#695ad5" d="M408.2 153.4l4-1.4-2.6-.9-4 1.4z"/><path fill="#695acf" d="M418.8 153.8l3.9-1.6-2.6-.8-4 1.6z"/><path fill="#695ad5" d="M470.1 153.4l4.1-1.8-1.6-.4-4.1 1.8z"/><path fill="#579cf9" d="M389.9 147.8l1.2.1-2-2.1-1.2-.3z"/><path fill="#6957cc" d="M429.3 153.9l4-1.7-2.7-.7-3.9 1.6zM439.8 153.9l4-1.6-2.6-.8-4 1.7z"/><path fill="#c9c642" d="M379.8 136.5l1.4.1-1-2.2-1.4-.3z"/><path fill="#36c6a8" d="M383 141.1l1.5.4-.9-2-1.5-.6z"/><path fill="#2aa5e7" d="M386.2 144.9l1.6.3-.8-1.6-1.7-.4z"/><path fill="#695acf" d="M450.4 153.9l3.9-1.7-2.6-.7-4 1.7zM460.9 153.8l4-1.7-2.7-.7-3.9 1.7z"/><path fill="#93cf63" d="M380.5 138.1l1.5 0-1-2.2-1.5-.1z"/><path fill="#21c0bd" d="M383.8 142.4l1.5.2-1-1.9-1.5-.4z"/><path fill="#3399ed" d="M387 145.9l1.6.1-.9-1.5-1.6-.3z"/><path fill="#6c7bfc" d="M395 150.8l1.1-.2-3.1-2-1.1 0z"/><path fill="#6c6ff0" d="M398.5 151.9l1.1-.4-3.2-1.4-1.1.2z"/><path fill="#695dd5" d="M471.6 153.6l4.1-1.8-1.6-.4-4.1 1.8z"/><path fill="#6090ff" d="M391.4 149.2l1.3-.1-2.1-1.9-1.3 0z"/><path fill="#6c63e7" d="M401.9 152.6l1.1-.5-3.2-1.1-1.1.3z"/><path fill="#69cf84" d="M381.3 139.7l1.4-.2-1-2.1-1.4 0z"/><path fill="#15b7cf" d="M384.5 143.6l1.5.1-.9-1.8-1.5-.2z"/><path fill="#6960de" d="M405.4 153l1.1-.5-3.2-.9-1.1.4z"/><path fill="#695ad2" d="M410.6 153.9l4-1.5-2.6-.8-4 1.5z"/><path fill="#54a2f3" d="M388.8 147.7l1.3 0-2-2.3-1.3-.2z"/><path fill="#695acf" d="M421.2 154.2l3.9-1.6-2.6-.8-4 1.6z"/><path fill="#6957cc" d="M431.7 154.3l4-1.7-2.6-.7-4 1.6z"/><path fill="#42c99c" d="M382 141.1l1.5-.2-1-2.1-1.5.1z"/><path fill="#695ad2" d="M462.3 153.9l4.1-1.6-1.6-.4-4.1 1.6z"/><path fill="#21abde" d="M385.3 144.8l1.5 0-1-1.8-1.5-.1z"/><path fill="#695acf" d="M452.8 154.3l3.9-1.7-2.6-.7-4 1.6z"/><path fill="#695dd8" d="M473.1 153.9l4.1-1.8-1.6-.4-4.1 1.7z"/><path fill="#36c0c0" d="M382.8 142.5l1.5-.3-1.1-2-1.4.2z"/><path fill="#2da2e7" d="M386 145.9l1.6-.2-1-1.6-1.6 0z"/><path fill="#6981fc" d="M393.9 151l1.2-.3-3.1-2.2-1.2.1z"/><path fill="#6c6ff3" d="M397.4 152.1l1.2-.4-3.2-1.6-1.1.2z"/><path fill="#5d96fc" d="M390.3 149.2l1.3-.2-2-2-1.3 0z"/><path fill="#6c66ea" d="M400.9 152.8l1.1-.4-3.2-1.3-1.1.4z"/><path fill="#36bdcf" d="M383.5 143.8l1.5-.4-1-1.9-1.5.3z"/><path fill="#695ad2" d="M463.8 154.2l4.1-1.6-1.6-.5-4.1 1.7z"/><path fill="#4ba8ed" d="M386.8 146.8l1.5-.2-1-1.5-1.5.1z"/><path fill="#6960de" d="M404.3 153.3l1.2-.5-3.3-1-1.1.4z"/><path fill="#695dd8" d="M407.8 153.6l1.1-.5-3.2-.9-1.1.5z"/><path fill="#695ad2" d="M413 154.4l4-1.5-2.6-.8-4 1.5z"/><path fill="#695dd8" d="M474.6 154.1l4.1-1.8-1.6-.4-4.1 1.8z"/><path fill="#695acf" d="M423.6 154.6l4-1.6-2.7-.7-4 1.5z"/><path fill="#2ab4db" d="M384.3 145l1.5-.4-1-1.8-1.6.3z"/><path fill="#54a8f3" d="M387.5 147.8l1.6-.3-1-1.5-1.6.2z"/><path fill="#6957cc" d="M434.1 154.6l4-1.6-2.6-.7-4 1.6z"/><path fill="#695acf" d="M455.2 154.6l4-1.6-2.7-.7-4 1.6z"/><path fill="#4ebae7" d="M385 146.1l1.6-.5-1.1-1.7-1.5.4z"/><path fill="#695ad2" d="M465.3 154.4l4.1-1.6-1.6-.4-4.1 1.6z"/><path fill="#6984fc" d="M392.9 151.1l1.1-.3-3-2.4-1.2.2z"/><path fill="#6c75f6" d="M396.4 152.3l1.1-.4-3.1-1.7-1.2.2z"/><path fill="#5a9cf9" d="M389.3 149.4l1.3-.4-2-2.2-1.3.3z"/><path fill="#7b6fde" d="M476.1 154.3l4.1-1.8-1.6-.4-4.1 1.8z"/><path fill="#6c69ea" d="M399.8 153.1l1.2-.5-3.2-1.3-1.1.4z"/><path fill="#5dbaed" d="M385.8 147.1l1.5-.5-1-1.6-1.6.4z"/><path fill="#6c60e1" d="M403.3 153.6l1.1-.5-3.2-1.1-1.1.5z"/><path fill="#695ddb" d="M406.8 153.9l1.1-.5-3.3-.9-1.1.5z"/><path fill="#695ad5" d="M410.2 154.1l1.1-.5-3.2-.8-1.1.5z"/><path fill="#695acf" d="M415.4 154.9l4-1.6-2.6-.8-4 1.6z"/><path fill="#6fbaf3" d="M386.5 148l1.6-.5-1.1-1.5-1.5.5z"/><path fill="#695ad2" d="M466.8 154.6l4.1-1.6-1.6-.4-4.1 1.6z"/><path fill="#695acf" d="M426 155l4-1.6-2.7-.7-3.9 1.6z"/><path fill="#695acc" d="M436.5 155l4-1.6-2.6-.7-4 1.6z"/><path fill="#695acf" d="M457.6 155l4-1.6-2.7-.7-3.9 1.6z"/><path fill="#668aff" d="M391.8 151.3l1.2-.3-3-2.6-1.2.3z"/><path fill="#6c75f6" d="M395.3 152.6l1.2-.5-3.1-1.8-1.2.3z"/><path fill="#78b1f9" d="M388.2 149.6l1.4-.5-2-2.2-1.4.4z"/><path fill="#6c69ed" d="M398.8 153.4l1.1-.5-3.1-1.4-1.2.4z"/><path fill="#6c63e4" d="M402.3 153.9l1.1-.5-3.2-1.1-1.1.4z"/><path fill="#695ad2" d="M468.3 154.9l4.1-1.7-1.6-.4-4.1 1.6z"/><path fill="#695ddb" d="M405.7 154.2l1.1-.5-3.2-.9-1.1.5z"/><path fill="#695dd5" d="M409.2 154.5l1.1-.6-3.3-.8-1.1.5z"/><path fill="#695ad2" d="M412.6 154.6l1.1-.6-3.2-.7-1.1.6z"/><path fill="#695acf" d="M417.9 155.3l3.9-1.6-2.6-.7-4 1.5zM428.4 155.4l4-1.6-2.7-.7-3.9 1.6zM459 155.1l4.1-1.5-1.6-.4-4.1 1.5zM438.9 155.4l4-1.6-2.6-.7-4 1.6z"/><path fill="#7299ff" d="M389.9 151.1l1.3-.6-2.2-2-1.3.5z"/><path fill="#695ad5" d="M469.8 155.1l4.1-1.6-1.6-.5-4.1 1.7z"/><path fill="#6c78f9" d="M394.3 152.9l1.1-.5-3.1-2-1.1.4z"/><path fill="#6c6ced" d="M397.7 153.7l1.2-.5-3.2-1.5-1.1.4z"/><path fill="#6c63e4" d="M401.2 154.2l1.1-.5-3.2-1.2-1.1.5z"/><path fill="#6960de" d="M404.7 154.6l1.1-.6-3.2-.9-1.1.5z"/><path fill="#695ad2" d="M460.5 155.3l4.1-1.5-1.6-.4-4.1 1.5z"/><path fill="#695dd8" d="M408.1 154.8l1.1-.6-3.2-.8-1.1.5z"/><path fill="#7287fc" d="M391.5 152.3l1.3-.6-2.2-1.8-1.3.6z"/><path fill="#695ad5" d="M411.6 154.9l1.1-.5-3.3-.8-1.1.6z"/><path fill="#695ad2" d="M415 155.1l1.1-.6-3.2-.7-1.1.6z"/><path fill="#695ad5" d="M471.3 155.3l4.1-1.6-1.6-.4-4.1 1.6z"/><path fill="#695acf" d="M420.3 155.7l3.9-1.6-2.6-.7-4 1.6zM430.8 155.8l4-1.6-2.6-.7-4 1.6zM451.8 155.7l4-1.5-2.6-.7-4 1.5z"/><path fill="#695ad2" d="M462 155.6l4.1-1.6-1.6-.4-4.1 1.5z"/><path fill="#6c6cf0" d="M396.7 154l1.2-.5-3.2-1.6-1.2.5z"/><path fill="#7e87f9" d="M393.1 153.2l1.3-.6-2.2-1.5-1.3.6z"/><path fill="#6c63e7" d="M400.2 154.5l1.1-.5-3.2-1.2-1.1.5z"/><path fill="#7e72db" d="M472.8 155.5l4.1-1.6-1.6-.4-4.1 1.6z"/><path fill="#6960de" d="M403.6 154.9l1.2-.6-3.3-.9-1.1.5z"/><path fill="#695dd8" d="M407.1 155.1l1.1-.5-3.2-.9-1.1.6z"/><path fill="#695ad5" d="M410.5 155.3l1.1-.6-3.2-.7-1.1.5z"/><path fill="#695ad2" d="M414 155.4l1.1-.6-3.3-.7-1.1.6zM417.4 155.5l1.1-.6-3.2-.6-1.1.5zM463.5 155.8l4.1-1.5-1.6-.5-4.1 1.6z"/><path fill="#695acf" d="M422.7 156.1l3.9-1.5-2.6-.8-4 1.6zM433.2 156.1l4-1.5-2.6-.7-4 1.5z"/><path fill="#695ad2" d="M454.3 156.1l3.9-1.6-2.6-.6-4 1.5z"/><path fill="#7b7bf3" d="M395.7 154.3l1.1-.5-3.1-1.6-1.2.5z"/><path fill="#6c66e7" d="M399.1 154.9l1.2-.6-3.2-1.2-1.2.5z"/><path fill="#6c60e1" d="M402.6 155.2l1.1-.5-3.2-1-1.1.5z"/><path fill="#695ddb" d="M406.1 155.5l1.1-.6-3.3-.9-1.1.6z"/><path fill="#695ad2" d="M465 156l4.1-1.5-1.6-.4-4.1 1.5z"/><path fill="#695dd5" d="M409.5 155.6l1.1-.5-3.2-.8-1.1.6z"/><path fill="#695ad2" d="M413 155.7l1-.5-3.2-.7-1.1.5zM416.4 155.8l1.1-.5-3.3-.7-1.1.6z"/><path fill="#695acf" d="M419.8 155.9l1.1-.6-3.2-.6-1.1.6zM425.1 156.5l4-1.6-2.7-.7-4 1.6z"/><path fill="#695ad2" d="M455.6 156.2l4.2-1.4-1.6-.5-4.2 1.5z"/><path fill="#695acf" d="M435.6 156.5l4-1.5-2.6-.7-4 1.5z"/><path fill="#695ad5" d="M466.5 156.2l4.1-1.5-1.6-.4-4.1 1.5z"/><path fill="#6c66ea" d="M398.1 155.2l1.1-.6-3.1-1.2-1.2.5z"/><path fill="#6c60e1" d="M401.6 155.5l1.1-.5-3.2-1-1.2.5z"/><path fill="#695ddb" d="M405 155.8l1.1-.6-3.2-.8-1.1.5z"/><path fill="#695dd8" d="M408.5 156l1.1-.6-3.3-.8-1.1.6z"/><path fill="#695ad2" d="M457.1 156.4l4.2-1.4-1.6-.4-4.1 1.4z"/><path fill="#695ad5" d="M411.9 156.1l1.1-.6-3.2-.7-1.1.6z"/><path fill="#695ad2" d="M415.4 156.2l1.1-.6-3.3-.7-1.1.6zM418.8 156.2l1.1-.5-3.3-.7-1 .6z"/><path fill="#695ad5" d="M468 156.5l4.1-1.6-1.6-.4-4.1 1.5z"/><path fill="#695acf" d="M422.2 156.3l1.1-.6-3.2-.6-1.1.6zM427.5 156.9l4-1.6-2.7-.7-3.9 1.6z"/><path fill="#695ad2" d="M438 156.8l4-1.5-2.6-.7-4 1.5zM458.6 156.6l4.2-1.4-1.6-.4-4.1 1.4z"/><path fill="#6c60e1" d="M400.5 155.9l1.1-.6-3.2-1-1.1.5z"/><path fill="#695ddb" d="M404 156.1l1.1-.5-3.2-.9-1.1.5z"/><path fill="#6f60d8" d="M469.5 156.7l4.1-1.5-1.6-.4-4.1 1.5z"/><path fill="#695dd8" d="M407.4 156.3l1.1-.5-3.2-.8-1.1.5z"/><path fill="#695ad5" d="M410.9 156.4l1.1-.5-3.3-.7-1.1.5z"/><path fill="#695ad2" d="M414.3 156.5l1.1-.5-3.2-.7-1.1.5zM417.8 156.6l1.1-.6-3.3-.6-1.1.5zM421.2 156.6l1.1-.5-3.2-.6-1.1.5z"/><path fill="#695ad5" d="M460.1 156.8l4.2-1.4-1.6-.4-4.1 1.4z"/><path fill="#695ad2" d="M424.7 156.7l1-.6-3.2-.6-1.1.6zM429.9 157.2l4-1.5-2.6-.7-4 1.5z"/><path fill="#6960de" d="M402.9 156.5l1.2-.6-3.3-.9-1.1.6z"/><path fill="#695dd8" d="M406.4 156.7l1.1-.6-3.2-.8-1.1.6z"/><path fill="#695ad5" d="M409.8 156.8l1.1-.6-3.2-.7-1.1.6zM461.6 157l4.2-1.3-1.6-.4-4.1 1.3zM413.3 156.9l1.1-.6-3.3-.7-1.1.6z"/><path fill="#695ad2" d="M416.7 156.9l1.1-.5-3.2-.7-1.1.6zM420.2 157l1.1-.6-3.3-.6-1.1.6zM423.6 157l1.1-.5-3.2-.6-1.1.5zM427.1 157l1.1-.5-3.3-.6-1.1.6zM432.3 157.5l4-1.5-2.6-.6-4 1.5z"/><path fill="#695ad5" d="M463.1 157.2l4.2-1.3-1.6-.4-4.1 1.3z"/><path fill="#7b72de" d="M405.4 157l1.1-.6-3.3-.8-1.1.6z"/><path fill="#695dd5" d="M408.8 157.1l1.1-.5-3.2-.8-1.1.6z"/><path fill="#695ad5" d="M412.3 157.2l1-.5-3.2-.7-1.1.5z"/><path fill="#695ad2" d="M415.7 157.3l1.1-.6-3.3-.6-1.1.5z"/><path fill="#695dd5" d="M453.8 157.2l4.1-1.1-1.5-.4-4.2 1.2z"/><path fill="#695ad2" d="M419.1 157.3l1.1-.5-3.2-.6-1.1.5zM422.6 157.4l1.1-.6-3.3-.6-1.1.6z"/><path fill="#695dd8" d="M464.6 157.4l4.2-1.3-1.6-.4-4.1 1.3z"/><path fill="#695ad2" d="M426 157.4l1.1-.6-3.2-.5-1.1.5zM429.5 157.4l1.1-.6-3.3-.5-1.1.5z"/><path fill="#695ad5" d="M434.7 157.7l4-1.3-2.6-.7-4 1.5z"/><path fill="#695dd5" d="M455.3 157.3l4.1-1-1.5-.4-4.2 1.1z"/><path fill="#8178de" d="M407.8 157.5l1.1-.6-3.3-.7-1.1.5z"/><path fill="#877bde" d="M466.2 157.7l4.1-1.4-1.6-.4-4.1 1.4z"/><path fill="#695ad5" d="M411.2 157.6l1.1-.6-3.2-.7-1.1.6zM414.7 157.6l1.1-.5-3.3-.7-1.1.6z"/><path fill="#695ad2" d="M418.1 157.7l1.1-.6-3.3-.6-1 .6zM421.6 157.7l1-.5-3.2-.6-1.1.5zM425 157.7l1.1-.5-3.3-.6-1.1.6z"/><path fill="#695dd8" d="M456.8 157.5l4.2-1-1.6-.4-4.2 1.1z"/><path fill="#695ad5" d="M428.4 157.7l1.1-.5-3.2-.6-1.1.6zM431.9 157.6l1.1-.5-3.3-.5-1.1.6z"/><path fill="#695dd8" d="M437 157.9l4.1-1.3-2.6-.6-4 1.4z"/><path fill="#7566d8" d="M410.2 157.9l1.1-.5-3.3-.7-1.1.5z"/><path fill="#695ad5" d="M413.6 158l1.1-.6-3.2-.6-1.1.5z"/><path fill="#695ddb" d="M458.3 157.7l4.2-1-1.6-.4-4.2 1.1z"/><path fill="#695ad5" d="M417.1 158l1.1-.5-3.3-.6-1.1.5zM420.5 158.1l1.1-.6-3.2-.6-1.1.6zM424 158.1l1-.6-3.2-.5-1.1.5zM427.4 158l1.1-.5-3.3-.5-1.1.5z"/><path fill="#695dd5" d="M430.9 157.9l1-.5-3.2-.4-1.1.5zM434.3 157.8l1.1-.4-3.3-.4-1.1.5z"/><path fill="#695ddb" d="M459.8 157.9l4.2-1-1.6-.4-4.1 1z"/><path fill="#9387e1" d="M412.6 158.3l1.1-.5-3.3-.7-1.1.6z"/><path fill="#695ad5" d="M416 158.4l1.1-.6-3.2-.6-1.1.6zM419.5 158.4l1.1-.6-3.3-.5-1.1.5zM422.9 158.4l1.1-.6-3.2-.5-1.1.5zM426.4 158.3l1.1-.5-3.3-.5-1.1.6z"/><path fill="#695ddb" d="M461.3 158.1l4.2-1-1.6-.3-4.1.9z"/><path fill="#695dd8" d="M429.8 158.3l1.1-.5-3.3-.5-1 .5zM433.3 158.1l1-.4-3.2-.4-1.1.5z"/><path fill="#695ddb" d="M436.7 157.9l1.1-.4-3.3-.3-1.1.5z"/><path fill="#8478de" d="M415 158.7l1.1-.5-3.3-.7-1 .6z"/><path fill="#8178e4" d="M462.8 158.3l4.2-.9-1.6-.4-4.1.9z"/><path fill="#695ad5" d="M418.4 158.7l1.1-.5-3.2-.6-1.1.6zM421.9 158.7l1.1-.5-3.3-.6-1.1.6z"/><path fill="#695dd5" d="M425.3 158.7l1.1-.6-3.2-.4-1.1.5z"/><path fill="#695dd8" d="M428.8 158.6l1.1-.5-3.3-.5-1.1.6z"/><path fill="#695ddb" d="M432.2 158.4l1.1-.5-3.3-.3-1 .5z"/><path fill="#6960de" d="M435.7 158.2l1-.4-3.2-.3-1.1.5z"/><path fill="#7569d8" d="M417.4 159.1l1.1-.6-3.3-.5-1 .5z"/><path fill="#695dd5" d="M420.9 159.1l1-.6-3.2-.5-1.1.5z"/><path fill="#695dd8" d="M424.3 159l1.1-.5-3.3-.5-1.1.5z"/><path fill="#695ddb" d="M427.8 158.9l1-.5-3.2-.4-1.1.5zM431.2 158.7l1.1-.5-3.3-.3-1.1.5zM434.7 158.4l1-.4-3.3-.2-1 .5z"/><path fill="#ffffff" d="M445.6 157.2l4.2.1-1.5-.1-4.2.2z"/><path fill="#6c60e1" d="M456.4 157.7l4.3 0-1.6-.3-4.2.2z"/><path fill="#695dd8" d="M419.8 159.4l1.1-.5-3.3-.6-1 .6zM423.3 159.4l1-.6-3.2-.5-1.1.6z"/><path fill="#ffffff" d="M447.1 156.9l4.2.5-1.5-.1-4.2-.1z"/><path fill="#695ddb" d="M426.7 159.2l1.1-.5-3.3-.4-1.1.5z"/><path fill="#6960de" d="M430.2 159l1-.5-3.3-.2-1 .4z"/><path fill="#6960e1" d="M433.6 158.6l1.1-.3-3.3-.2-1.1.5z"/><path fill="#8d93f6" d="M448.6 156.6l4.2.9-1.5 0-4.2-.5z"/><path fill="#a59ff0" d="M459.4 158.1l4.3 0-1.5-.3-4.3 0z"/><path fill="#695dd8" d="M422.2 159.7l1.1-.5-3.3-.5-1 .5z"/><path fill="#695ddb" d="M425.7 159.5l1.1-.5-3.3-.3-1.1.5z"/><path fill="#6960de" d="M429.1 159.3l1.1-.5-3.3-.2-1 .5z"/><path fill="#6c63e1" d="M432.6 158.9l1-.4-3.3-.1-1 .5z"/><path fill="#6c63e4" d="M436 158.4l1.1-.3-3.3.2-1.1.3z"/><path fill="#7b84f6" d="M450.2 156.3l4.1 1.3-1.5 0-4.2-.9z"/><path fill="#ffffff" d="M445.4 156.8l1.1.4-2.3.4-1.1-.2zM439.5 157.7l1 0-3.3.3-1 .2z"/><path fill="#7b7ef3" d="M442.9 157.1l1.1.2-3.3.5-1.1 0z"/><path fill="#5a63f3" d="M451.7 156.1l4.1 1.6-1.5 0-4.2-1.2z"/><path fill="#847be4" d="M424.7 159.9l1-.5-3.3-.4-1 .5z"/><path fill="#4e57f0" d="M446.8 156.4l1.2.6-2.3.5-1.1-.4z"/><path fill="#6c60e1" d="M428.1 159.6l1.1-.5-3.3-.2-1.1.5z"/><path fill="#6c63e4" d="M431.6 159.2l1-.4-3.3 0-1 .4z"/><path fill="#6c63e7" d="M435 158.5l1-.2-3.3.2-1 .4z"/><path fill="#4e57f0" d="M444.3 156.5l1.2.5-2.3.7-1.2-.4z"/><path fill="#ffffff" d="M438.4 157.8l1.1-.1-3.3.5-1 .2z"/><path fill="#a8abf9" d="M441.8 156.9l1.1.3-3.3.7-1 0z"/><path fill="#576cf6" d="M453.2 156l4.1 1.8-1.5 0-4.2-1.5z"/><path fill="#4e5df3" d="M448.3 156l1.2.8-2.2.6-1.2-.7zM445.7 155.9l1.3.8-2.2.7-1.3-.5z"/><path fill="#b1abf0" d="M427.1 159.9l1-.5-3.3-.2-1 .5z"/><path fill="#6c63e7" d="M430.5 159.5l1.1-.5-3.3.1-1.1.4z"/><path fill="#6c66ea" d="M434 158.8l1-.3-3.3.3-1 .4z"/><path fill="#4e60f6" d="M443.2 156.2l1.2.6-2.2.8-1.2-.4z"/><path fill="#697bf6" d="M454.7 156l4.1 2-1.5 0-4.2-1.8z"/><path fill="#c3c6fc" d="M437.4 157.8l1 0-3.2.6-1.1.2z"/><path fill="#4866f6" d="M449.7 155.6l1.3 1-2.2.6-1.2-.9z"/><path fill="#4e57f3" d="M440.8 156.8l1.1.3-3.3.9-1 0z"/><path fill="#4866f6" d="M447.2 155.4l1.3 1-2.2.7-1.3-.8z"/><path fill="#4869f6" d="M444.6 155.5l1.3.8-2.1.9-1.3-.6z"/><path fill="#6c75f0" d="M456.2 156.2l4.1 2-1.5-.1-4.1-2z"/><path fill="#456cf6" d="M451.2 155.2l1.3 1.3-2.1.5-1.3-1.1z"/><path fill="#bab7f3" d="M429.5 159.8l1-.5-3.3.1-1 .5z"/><path fill="#6c69ed" d="M432.9 159l1.1-.3-3.3.4-1.1.4z"/><path fill="#4b66f6" d="M442.1 155.9l1.3.6-2.2 1-1.2-.4z"/><path fill="#ffffff" d="M436.4 158l1-.1-3.3.8-1 .2z"/><path fill="#4272f6" d="M448.7 154.8l1.3 1.2-2.2.8-1.3-1z"/><path fill="#4e60f6" d="M439.7 156.7l1.1.2-3.2 1.2-1.1 0z"/><path fill="#3f72f6" d="M446.1 154.7l1.3 1.1-2.1.9-1.3-.8z"/><path fill="#4272f6" d="M452.7 155l1.3 1.4-2.1.4-1.3-1.3z"/><path fill="#3f72f6" d="M443.6 155l1.3.8-2.1 1.2-1.3-.6z"/><path fill="#397bf0" d="M450.1 154.2l1.4 1.5-2.1.7-1.4-1.3z"/><path fill="#c9c9f9" d="M431.9 159.4l1-.4-3.3.4-1 .4z"/><path fill="#486cf6" d="M441.1 155.7l1.3.5-2.2 1.2-1.3-.3z"/><path fill="#ffffff" d="M435.3 158.2l1.1-.2-3.3.9-1 .3z"/><path fill="#397eed" d="M447.6 153.8l1.3 1.4-2.1 1-1.3-1.1z"/><path fill="#3c78f3" d="M454.2 154.9l1.3 1.6-2.1.2-1.3-1.4z"/><path fill="#4b63f6" d="M438.7 156.7l1.1.1-3.2 1.4-1.1.1z"/><path fill="#397ef0" d="M445 154l1.4 1.1-2.1 1.2-1.3-.8z"/><path fill="#3981ed" d="M451.6 153.8l1.4 1.7-2.1.6-1.3-1.6z"/><path fill="#3c7bf3" d="M442.5 154.6l1.4.7-2.2 1.4-1.3-.5z"/><path fill="#368ae7" d="M449.1 153l1.3 1.7-2 .9-1.4-1.4z"/><path fill="#4275ed" d="M455.8 155l1.2 1.6-2.1.1-1.3-1.6z"/><path fill="#3f72f6" d="M440 155.6l1.3.4-2.1 1.4-1.3-.2z"/><path fill="#cfcffc" d="M434.3 158.5l1-.3-3.2 1-1.1.3z"/><path fill="#338ae4" d="M446.5 152.8l1.4 1.5-2.1 1.2-1.3-1.1z"/><path fill="#3684ea" d="M453.2 153.6l1.3 1.9-2.1.3-1.3-1.7z"/><path fill="#637bf9" d="M437.7 156.9l1.1-.1-3.2 1.6-1.1.1z"/><path fill="#3687e7" d="M444 153.3l1.4 1-2.1 1.6-1.4-.8z"/><path fill="#3093e1" d="M450.6 152.4l1.3 2-2 .7-1.4-1.7z"/><path fill="#3981ed" d="M441.5 154.3l1.3.6-2.1 1.6-1.3-.3z"/><path fill="#2d96db" d="M448 151.7l1.4 1.8-2 1.2-1.4-1.4z"/><path fill="#3c81e4" d="M454.7 153.7l1.2 2-2 0-1.3-1.9z"/><path fill="#3c78f3" d="M439 155.6l1.3.2-2.2 1.6-1.2-.1z"/><path fill="#2d96de" d="M445.5 151.8l1.4 1.4-2.1 1.6-1.4-1zM452.1 152l1.3 2.3-2 .4-1.3-2.1z"/><path fill="#5a63f0" d="M436.6 157.1l1.1-.2-3.2 1.7-1.1.2z"/><path fill="#3090e1" d="M443 152.8l1.3.8-2 1.8-1.4-.5z"/><path fill="#219fd2" d="M449.5 150.7l1.4 2.3-2 .9-1.4-1.9z"/><path fill="#368ae7" d="M440.5 154.2l1.2.3-2 1.9-1.3-.2z"/><path fill="#1ba2cc" d="M447 150.3l1.4 1.9-2.1 1.5-1.4-1.4z"/><path fill="#3093db" d="M453.6 152l1.3 2.4-2 .1-1.3-2.3z"/><path fill="#1ba2cf" d="M451.7 151.2l.7 1.4-2.2.6-.7-1.3z"/><path fill="#4b6fea" d="M438 155.9l1.2-.1-2.1 1.7-1.2.1z"/><path fill="#219fd2" d="M444.4 151l1.4 1.1-2 2.1-1.4-.8z"/><path fill="#21a8c0" d="M449.1 149.9l.8 1.2-2.2 1.4-.7-1zM451.2 150.2l.7 1.4-2.2.8-.7-1.3z"/><path fill="#2d96db" d="M441.9 152.5l1.3.5-2 2.2-1.3-.3z"/><path fill="#2796cc" d="M453.3 151.2l.6 1.5-2.3.1-.6-1.4z"/><path fill="#1ea8c0" d="M445 150l1.6 1.5-1.1 1.2-1.6-1.3z"/><path fill="#33aeb1" d="M448.6 148.9l.8 1.3-2.2 1.6-.7-.9z"/><path fill="#427ee1" d="M439.4 154.4l1.3 0-2.1 2.1-1.2 0z"/><path fill="#36aeae" d="M450.6 149.1l.8 1.5-2.2.9-.7-1.3z"/><path fill="#1ba2cc" d="M442.5 151.5l1.5.7-1 1.4-1.6-.5z"/><path fill="#33aeb1" d="M445.8 149l1.5 1.8-1.1 1.1-1.5-1.5z"/><path fill="#3cb1a8" d="M447.2 148.7l.9 1.3-1.3 1.2-.9-1.1z"/><path fill="#30a5ba" d="M452.7 150.1l.7 1.6-2.3.2-.6-1.6z"/><path fill="#24abbd" d="M443.2 150.5l1.6.8-1.1 1.5-1.6-.7z"/><path fill="#4eb496" d="M447.9 147.9l.9 1.5-1.2 1-.9-1.2z"/><path fill="#48b499" d="M450.1 147.9l.8 1.6-2.2 1.2-.8-1.4z"/><path fill="#3c84d5" d="M440.9 152.6l1.3.1-2 2.4-1.3 0z"/><path fill="#48b499" d="M446.7 148l.9 1.1-1.3 1.4-.9-1z"/><path fill="#45a8a5" d="M452.2 149l.6 1.7-2.1.2-.7-1.6z"/><path fill="#36aeae" d="M444 149.3l1.5 1-1.1 1.5-1.5-.8z"/><path fill="#60b484" d="M447.4 147.1l.9 1.3-1.2 1.2-.9-1.1z"/><path fill="#66b481" d="M449.6 146.7l.8 1.6-2.2 1.4-.8-1.3z"/><path fill="#219fc9" d="M441.4 151.6l1.6.1-1 1.7-1.6-.1z"/><path fill="#48b499" d="M444.8 148.1l1.5 1.3-1.1 1.5-1.6-1z"/><path fill="#60a593" d="M451.7 147.7l.6 1.8-2.1.3-.7-1.7z"/><path fill="#369cba" d="M442.2 150.5l1.5.2-1 1.7-1.5-.1z"/><path fill="#66b481" d="M445.5 146.9l1.6 1.5-1.2 1.5-1.5-1.3z"/><path fill="#8ab466" d="M449 145.6l.8 1.5-2.1 1.7-.8-1.2z"/><path fill="#81a878" d="M451.1 146.4l.7 1.9-2.1.4-.7-1.7z"/><path fill="#48a2ab" d="M442.9 149.3l1.6.2-1.1 1.8-1.5-.1z"/><path fill="#8ab463" d="M446.3 145.7l1.5 1.9-1.1 1.3-1.6-1.6z"/><path fill="#9fb157" d="M447.7 145.2l.9 1.5-1.3 1.2-.9-1.1z"/><path fill="#5ab48a" d="M443.7 148l1.5.3-1 1.9-1.5-.2z"/><path fill="#b4ab4b" d="M448.4 144.4l.9 1.7-1.2 1-.9-1.5z"/><path fill="#a8a260" d="M450.6 145.1l.7 1.9-2.2.5-.7-1.7z"/><path fill="#b7ab4b" d="M447.1 144.5l.9 1.1-1.2 1.6-.9-.9z"/><path fill="#81a875" d="M444.5 146.7l1.5.4-1.1 1.9-1.5-.3z"/><path fill="#d2a851" d="M447.9 143.4l.9 1.5-1.3 1.2-.9-1.1z"/><path fill="#c39c63" d="M450.1 143.8l.7 1.8-2.2.8-.7-1.7z"/><path fill="#a5a25d" d="M445.2 145.3l1.5.6-1 1.9-1.5-.4z"/><path fill="#bd9969" d="M446 143.9l1.5.8-1.1 1.8-1.5-.6z"/><path fill="#cca269" d="M449.5 142.4l.8 1.9-2.2.9-.7-1.4z"/><path fill="#c99f6c" d="M446.7 142.5l1.6 1.3-1.2 1.5-1.5-.8z"/><path fill="#deba4e" d="M448.1 141.6l.9 1.5-1.2 1.2-.9-1.1z"/><path fill="#c9b75d" d="M448.9 141.2l.8 1.9-1.2.4-.8-1.6z"/><path fill="#c3b166" d="M447.6 141.3l.8.6-1.2 1.7-.8-.4z"/><path fill="#aea578" d="M448.4 140.4l.9 1.3-1.3.8-.9-.7z"/></g><use href="#uc1" opacity="0.20"/><path d="M376.1 130L376.1 157L448.3 169.3L498 151.3" stroke="#555555" stroke-width=".6" fill="none"/><path d="M376.1 130L448.3 142.3L498 124.3M448.3 169.3L448.3 142.3" stroke="#8c8c8c" stroke-width=".6" fill="none"/><use href="#uc2"/><g shape-rendering="crispEdges" filter="url(#bl)"><path fill="#fcfcbd" d="M426.1 204.5l1.2-2.9-1.5-2.8-1.1 2.9z"/><path fill="#fcf099" d="M427.2 205.3l.9-3.1-1.3-1.1-1 3.2z"/><path fill="#fcf08d" d="M425.5 205.4l1-1.1-1.4-3.1-1 1.1z"/><path fill="#fcea99" d="M428.2 206l.9-3.2-1.3-.8-1 3.2z"/><path fill="#fcd85a" d="M426.5 206.2l1.1-1.3-1.6-1.3-1 1.4z"/><path fill="#fce781" d="M424.8 206.1l.9-.8-1.3-3.1-1 .9z"/><path fill="#ffcf60" d="M427.5 206.9l1.1-1.4-1.6-1.1-1 1.5zM425.8 206.9l1.1-1.1-1.6-1.3-1 1.1z"/><path fill="#ffe79f" d="M431.4 207.3l.9-2.7-3.7-1.8-.9 2.8z"/><path fill="#fce181" d="M423.7 207l1.4-1.1-1.4-3-1.4 1.2z"/><path fill="#fcc963" d="M426.8 207.6l1.1-1.2-1.6-1-1 1.1z"/><path fill="#f9c960" d="M430.8 208.1l.8-1.1-3.8-1.8-.8 1.2z"/><path fill="#fcc963" d="M424.7 207.8l1.5-1.3-1.5-1.3-1.5 1.4z"/><path fill="#f3c95d" d="M425.7 208.4l1.5-1.3-1.5-1-1.4 1.3z"/><path fill="#f0c95a" d="M430.1 208.7l.8-.8-3.8-1.8-.8.9z"/><path fill="#ffe193" d="M422.7 207.8l1.4-1-1.4-2.9-1.4 1.1z"/><path fill="#fcde9f" d="M434.4 208.3l.9-2.4-3.7-1.5-.9 2.7z"/><path fill="#f6c960" d="M423.7 208.5l1.4-1.1-1.4-1.3-1.5 1.2z"/><path fill="#edc95a" d="M433.8 209l.8-1-3.8-1.3-.8 1.1z"/><path fill="#eac957" d="M424.7 209.1l1.5-1.2-1.5-1-1.5 1.2z"/><path fill="#e4c954" d="M427.9 209.9l2.3-1.5-3.6-1.7-2.4 2z"/><path fill="#e1c954" d="M433.1 209.4l.8-.7-3.8-1.2-.8.9z"/><path fill="#f6d88d" d="M437 209.5l1.3-2.5-3.7-1.4-1.2 2.9z"/><path fill="#f9d887" d="M421 209.4l2.6-1.5-1.9-3.1-2.5 1.8z"/><path fill="#e4c954" d="M422.5 210.1l2.6-1.5-1.8-1.3-2.7 1.7z"/><path fill="#decc54" d="M436.1 210l1.1-.9-3.8-1-1.1 1.1z"/><path fill="#dbcc54" d="M430.9 210.3l2.3-1.1-3.7-1.2-2.3 1.5z"/><path fill="#f0d884" d="M440.1 210.1l1.2-2.1-3.7-1.3-1.2 2.5z"/><path fill="#dbcc54" d="M425.9 210.6l2.2-1.2-3.7-1.1-2.3 1.4z"/><path fill="#f6d88a" d="M418.9 210.4l2.6-1.3-1.8-2.8-2.6 1.7z"/><path fill="#dbcc54" d="M439.2 210.4l1.1-.7-3.9-.8-1.1.8z"/><path fill="#dbcc51" d="M434 210.8l2.2-1.1-3.7-.9-2.3 1.2z"/><path fill="#edd887" d="M443.1 210.6l1.2-1.7-3.7-1.2-1.2 2.1z"/><path fill="#decc54" d="M420.4 210.8l2.6-1.1-1.8-1.2-2.6 1.5z"/><path fill="#dbcc51" d="M428.9 211.1l2.2-1.2-3.7-.8-2.2 1.1zM442.2 210.9l1.1-.6-3.9-.8-1.1.7zM423.8 211.3l2.3-1.1-3.8-.9-2.2 1.2zM437 211.3l2.2-1.1-3.7-.8-2.3 1.1z"/><path fill="#f0d884" d="M416.9 211.2l2.6-1.2-1.9-2.4-2.6 1.6z"/><path fill="#dbcc51" d="M431.9 211.6l2.2-1.2-3.7-.8-2.2 1.1z"/><path fill="#e7d578" d="M445 211.7l2.3-1.9-3.6-1.2-2.4 2.2z"/><path fill="#dbcc54" d="M418.3 211.6l2.7-1.2-1.8-.9-2.7 1.3z"/><path fill="#dbcc51" d="M426.8 211.8l2.3-1.1-3.8-.9-2.2 1.2zM440 211.8l2.2-1.1-3.7-.8-2.2 1.1zM421.7 212.1l2.3-1.2-3.7-.8-2.3 1.1zM434.9 211.9l2.2-.9-3.7-.9-2.2 1.1z"/><path fill="#e4d572" d="M448 212.1l2.3-1.6-3.6-1.1-2.4 1.9z"/><path fill="#f0de93" d="M414.8 212l2.6-1.1-1.9-2.1-2.6 1.6z"/><path fill="#dbcc51" d="M429.9 212.1l2.2-.9-3.8-.8-2.2 1.1zM443 212l2.2-.7-3.7-.9-2.2 1.1z"/><path fill="#dbcc54" d="M416.2 212.3l2.7-1.2-1.8-.7-2.7 1.2z"/><path fill="#dbcc51" d="M424.8 212.4l2.2-1-3.7-.8-2.3 1.1zM438 211.9l2.2-.5-3.8-.7-2.2.9z"/><path fill="#e4d575" d="M451 212.6l2.3-1.3-3.6-1.1-2.4 1.6z"/><path fill="#dbcc51" d="M419.7 212.7l2.2-1-3.7-.9-2.3 1.2zM433 211.9l2.1-.3-3.8-.7-2.2.9z"/><path fill="#dbcc54" d="M446.1 212.4l2.1-.7-3.7-.8-2.2.8z"/><path fill="#e4d56f" d="M414.5 213.1l2.3-1.1-3.6-2-2.3 1.5z"/><path fill="#dbcc51" d="M427.9 212.1l2.1-.4-3.8-.5-2.2.9z"/><path fill="#dbcc54" d="M441.1 212l2.1-.3-3.9-.5-2.1.5z"/><path fill="#e1d572" d="M454.1 213.1l2.2-1.2-3.7-1-2.2 1.3z"/><path fill="#dbcc54" d="M422.8 212.6l2.1-.6-3.8-.6-2.2 1z"/><path fill="#decc54" d="M449.1 212.8l2.2-.6-3.8-.8-2.2.7z"/><path fill="#dbcc51" d="M417.6 213.2l2.2-.8-3.7-.8-2.2 1.1z"/><path fill="#e1d56c" d="M457.1 213.5l2.2-1-3.7-.9-2.2 1.1z"/><path fill="#e1d266" d="M412.5 213.8l2.3-1.1-3.7-1.6-2.3 1.4z"/><path fill="#dbcc51" d="M425.9 212.3l2-.4-3.9 0-2 .5z"/><path fill="#decc54" d="M452.1 213.2l2.2-.5-3.8-.8-2.2.6zM420.7 213l2.1-.6-3.8-.2-2.1.8z"/><path fill="#d8d263" d="M460.1 214.5l2.2-1.1-3.6-1.3-2.3 1.1z"/><path fill="#dbcc54" d="M415.6 213.8l2.2-.9-3.8-.5-2.2 1z"/><path fill="#e1cc54" d="M455.1 213.6l2.2-.4-3.8-.8-2.2.5z"/><path fill="#decf60" d="M410.4 214.5l2.3-1.1-3.7-1.3-2.3 1.3z"/><path fill="#e1cc54" d="M423.8 212.5l2.1-.3-3.9.1-2.1.6z"/><path fill="#e4e196" d="M463.2 214.4l2.2-.9-3.8-.4-2.2 1.1z"/><path fill="#e4c954" d="M418.7 213.5l2.1-.7-3.9-.1-2.1.9z"/><path fill="#decc54" d="M458 214.9l2.3-.7-3.8-1.4-2.2.5zM413.5 214.4l2.2-.9-3.8-.4-2.2 1.1z"/><path fill="#dbcc51" d="M426.8 212.1l2.1-.2-3.9.3-2.1.4z"/><path fill="#e4c954" d="M453.1 213.4l2.1 0-3.9-.6-2.1 0z"/><path fill="#e4d575" d="M466.2 214.9l2.2-.9-3.8-.8-2.2.9z"/><path fill="#ded269" d="M408.4 215.2l2.2-1.1-3.7-1.1-2.3 1.3z"/><path fill="#e7c957" d="M421.7 212.9l2.1-.5-3.9.4-2.1.6zM416.6 214l2.1-.8-3.9.1-2.1.9z"/><path fill="#e1cf63" d="M469.2 215.2l2.2-.8-3.8-.7-2.2.9z"/><path fill="#e1cc54" d="M411.5 215.1l2.1-1-3.8-.3-2.1 1.1z"/><path fill="#e7c954" d="M424.7 212.4l2.1-.3-3.9.4-2.1.5z"/><path fill="#e4c954" d="M451.1 213l2 .3-3.9-.5-2-.3z"/><path fill="#dec951" d="M464.2 214.9l2.1-.3-3.8-.7-2.2.4z"/><path fill="#ded269" d="M406.3 215.9l2.2-1.1-3.7-.9-2.2 1.3z"/><path fill="#f3c95d" d="M419.6 213.5l2.1-.7-3.9.4-2.1.8z"/><path fill="#e1cc54" d="M446 212.3l2 .3-3.9-.4-2-.3z"/><path fill="#e1c954" d="M472.2 215.5l2.2-.8-3.8-.6-2.2.8z"/><path fill="#edc95a" d="M414.5 214.6l2.1-.8-3.8.2-2.1.9z"/><path fill="#decc54" d="M427.7 212.1l2.1-.3-3.9.4-2.1.3z"/><path fill="#dbcc54" d="M440.9 211.8l2.1.2-3.9-.3-2.1-.1z"/><path fill="#eac957" d="M453.9 215l2.2-.3-3.7-1.8-2.2-.1z"/><path fill="#e4c954" d="M467.2 215.3l2.1-.4-3.8-.6-2.2.4z"/><path fill="#e1cc54" d="M409.4 215.8l2.2-1-3.9-.2-2.1 1z"/><path fill="#f9cc60" d="M422.7 212.9l2-.5-3.9.5-2 .6z"/><path fill="#e4c954" d="M449 212.7l2.1.3-3.9-.5-2.1-.3z"/><path fill="#eddb87" d="M475.2 215.8l2.2-.9-3.8-.5-2.2.9z"/><path fill="#d8d260" d="M404.2 217.1l2.3-1.6-3.7-.7-2.3 1.5z"/><path fill="#f9c960" d="M417.6 214.1l2-.8-3.9.5-2 .8z"/><path fill="#dbcc51" d="M430.7 211.8l2.1-.2-3.9.2-2.1.3z"/><path fill="#e7c954" d="M470.2 215.6l2.1-.3-3.8-.6-2.2.4z"/><path fill="#f3d25a" d="M449.8 214.4l2.7-.2-1.6-1.6-2.8-.1z"/><path fill="#f0c95a" d="M412.5 215.3l2.1-.9-3.9.3-2.1.9z"/><path fill="#f9d55a" d="M425.7 212.5l2-.5-3.9.5-2 .5z"/><path fill="#dbcc51" d="M438.8 211.8l2.1 0-3.9-.2-2.1 0z"/><path fill="#e7c954" d="M465.1 215.1l2.1 0-3.9-.5-2-.1z"/><path fill="#edcc60" d="M478.2 216l2.2-.9-3.8-.4-2.2.8z"/><path fill="#decc54" d="M407.2 217.3l2.3-1.9-3.7-.2-2.3 1.7z"/><path fill="#ffd260" d="M420.6 213.5l2-.7-3.9.6-2 .7z"/><path fill="#dbcc51" d="M433.7 211.8l2.1-.2-3.9 0-2.1.3z"/><path fill="#eac957" d="M446.9 212.5l2.1.2-3.9-.5-2.1-.2z"/><path fill="#edc957" d="M473.2 215.9l2.1-.4-3.8-.5-2.2.4z"/><path fill="#e7e4a2" d="M402.3 217.2l2.1-.4-3.8-.8-2.2.6z"/><path fill="#fcc963" d="M415.5 214.7l2.1-.8-3.9.5-2.1.9z"/><path fill="#edd545" d="M428.7 212.2l2-.4-3.9.2-2 .6z"/><path fill="#e7c957" d="M468.2 215.5l2 0-3.9-.5-2-.1z"/><path fill="#f9e4ae" d="M481.2 216.1l2.2-.9-3.8-.3-2.2.9z"/><path fill="#f6e148" d="M447.8 214.5l2.7-.4-1.8-1.9-2.6 0z"/><path fill="#edc95a" d="M410.2 217.1l2.3-2.1-3.8.2-2.2 1.8z"/><path fill="#f9e157" d="M423.6 213l2.1-.6-3.9.5-2.1.7z"/><path fill="#dbcc51" d="M436.7 212l2.1-.3-3.9-.2-2 .3z"/><path fill="#d2cf54" d="M463.1 214.8l2.1.2-3.9-.5-2.1-.3z"/><path fill="#edc957" d="M476.2 216.1l2.1-.4-3.8-.4-2.1.4z"/><path fill="#fcd85a" d="M418.5 214.1l2.1-.7-3.9.6-2.1.7z"/><path fill="#f6f042" d="M431.7 212.2l2-.5-3.8 0-2.1.5z"/><path fill="#fccc63" d="M414.4 215.9l1.1-1.4-3.9.5-1 1.3z"/><path fill="#e4c954" d="M444.8 212.4l2.1 0-3.9-.5-2.1 0z"/><path fill="#e7c954" d="M458 214l2.1.4-3.9-.6-2.1-.3z"/><path fill="#fce4b1" d="M484.3 216.1l2.1-.8-3.8-.3-2.2.9z"/><path fill="#e1d575" d="M400.1 218l2.2-1.1-3.7-.6-2.2 1z"/><path fill="#f6f04e" d="M426.6 212.8l2.1-.7-3.9.3-2.1.7z"/><path fill="#f9f336" d="M439.7 212.2l2.1-.2-3.8-.4-2.1.2z"/><path fill="#f6c960" d="M479.2 216.3l2.1-.5-3.8-.3-2.1.4z"/><path fill="#f6f348" d="M445.8 214.8l2.6-.6-1.8-2.2-2.6.1z"/><path fill="#f9e754" d="M421.5 213.7l2.1-.8-3.9.5-2.1.8z"/><path fill="#f9f942" d="M434.7 212.3l2.1-.5-3.9-.2-2.1.5z"/><path fill="#fcd857" d="M417.4 215.7l1.1-1.8-3.9.6-1 1.5z"/><path fill="#d5cc54" d="M461 214.4l2.1.4-3.9-.6-2.1-.3z"/><path fill="#f0c95a" d="M474.2 216l2.1 0-3.9-.4-2.1 0z"/><path fill="#ffe7b1" d="M487.3 216.1l2.1-.9-3.8-.1-2.2.9z"/><path fill="#dbcc54" d="M403.2 217.8l2.1-1-3.8-.1-2.1 1z"/><path fill="#f9f945" d="M429.6 212.7l2.1-.7-3.9 0-2.1.7z"/><path fill="#f9f63f" d="M442.7 212.6l2.1-.3-3.8-.5-2.1.3z"/><path fill="#e7c957" d="M455.9 213.8l2.1.2-3.9-.6-2.1-.2z"/><path fill="#fcc963" d="M482.2 216.4l2.1-.5-3.8-.2-2.1.4z"/><path fill="#e4d56f" d="M398.1 218.6l2.2-1-3.8-.6-2.2 1z"/><path fill="#f9f64b" d="M424.5 213.4l2.1-.8-3.9.3-2.1.8z"/><path fill="#f9fc3f" d="M437.6 212.6l2.2-.5-3.9-.5-2.1.6z"/><path fill="#f9e751" d="M420.4 215.6l1.1-2.2-3.8.5-1.1 1.8z"/><path fill="#f9f942" d="M443.1 214.3l2.7-.6-1.1-1.7-2.8.2z"/><path fill="#f6c960" d="M477.2 216.2l2.1-.1-3.9-.2-2.1 0z"/><path fill="#ffedbd" d="M490.3 215.8l2.1-.9-3.8.2-2.1.8z"/><path fill="#eac345" d="M406.3 217.3l2-.9-3.8.4-2.1.8z"/><path fill="#f9fc3f" d="M432.6 212.8l2.1-.7-3.9-.2-2.1.7z"/><path fill="#f9f639" d="M444.1 216.1l2.7-1-1.2-2-2.7.7z"/><path fill="#e7db3c" d="M458.9 214.3l2.1.2-3.9-.6-2.1-.2z"/><path fill="#ffffff" d="M492.9 215.2l1-.5-2.4.2-1 .5z"/><path fill="#ffcf60" d="M485.3 216.3l2.1-.5-3.9 0-2.1.4z"/><path fill="#e4c954" d="M401.1 218.4l2.2-.9-3.9-.1-2.1.9z"/><path fill="#f9fc3f" d="M427.5 213.3l2.1-.8-3.9 0-2.1.8zM440.6 212.9l2.2-.5-3.9-.6-2.1.6z"/><path fill="#f6f34b" d="M423.4 215.8l1.1-2.8-3.8.3-1.1 2.2z"/><path fill="#f6de3f" d="M453.8 213.8l2.1 0-3.8-.7-2.1 0z"/><path fill="#edc95a" d="M467 215.2l2.1.3-3.9-.5-2.1-.3z"/><path fill="#e4cf63" d="M396 219.1l2.2-.9-3.8-.6-2.2.9z"/><path fill="#f3c34b" d="M409.3 216.7l2.1-.8-3.9.6-2.1.8z"/><path fill="#fcdb57" d="M491.9 215.5l1-.5-2.4.3-1 .4z"/><path fill="#f9fc3f" d="M435.5 213l2.2-.7-3.8-.4-2.2.7z"/><path fill="#d8d24b" d="M461.9 214.7l2.1.2-3.9-.6-2-.2z"/><path fill="#fcd55a" d="M489.3 215.9l1.1-.4-2.4.2-1.1.3z"/><path fill="#f9fc3f" d="M441.1 215l2.7-.9-1.3-2.1-2.7.5z"/><path fill="#f3c95d" d="M404.2 218l2.1-.9-3.9.3-2.1.9z"/><path fill="#f9f07e" d="M497.6 216.7l.8-2.3-3.8-.2-.7.4z"/><path fill="#ffd25d" d="M486.8 216.2l1-.3-2.4.1-1 .2z"/><path fill="#f9fc3f" d="M426.8 215l.7-2.1-3.8.1-.7 1.7z"/><path fill="#f9e754" d="M493 218.1l1.3-3.6-2 .2-1.3.6z"/><path fill="#f9fc3f" d="M430.5 213.4l2.1-.9-3.8-.2-2.2.9z"/><path fill="#fcd85a" d="M490.7 215.7l.7-.3-1.9.2-.7.2z"/><path fill="#f9f92a" d="M442.1 217.2l2.7-1.3-1.3-2.4-2.7.9z"/><path fill="#f3e133" d="M456.8 214.2l2.1 0-3.8-.6-2.1 0z"/><path fill="#f0c95a" d="M470 215.6l2.1.2-3.9-.4-2.1-.3z"/><path fill="#fcdb5a" d="M482.9 218l2.4-1.9-3.8-.2-2.2.3z"/><path fill="#eac957" d="M399.1 219l2.1-.9-3.9-.1-2.1.9z"/><path fill="#f9e157" d="M491.3 218.3l.9-3.3-1.4 0-1 .4z"/><path fill="#f9e45a" d="M496.8 218.3l1-1.9-3.8-2.1-.8.3z"/><path fill="#f9cc3f" d="M412.3 216.2l2.1-.9-3.9.6-2.1.9z"/><path fill="#fcdb5a" d="M487.9 218.5l1.4-2.9-2.1-.1-1.3.5z"/><path fill="#fcde57" d="M489.6 218.5l1-3.1-1.5-.1-1 .4z"/><path fill="#f9fc3f" d="M438.5 213.4l2.2-.7-3.8-.6-2.2.7z"/><path fill="#f9f615" d="M451.7 213.9l2.2-.2-3.9-.8-2.1.3z"/><path fill="#fcd85a" d="M492.3 220.1l1.1-2.4-1.5-2.8-1.1 3.1z"/><path fill="#edc957" d="M465 215.1l2 .1-3.9-.5-2-.2z"/><path fill="#ead275" d="M393.9 219.6l2.2-.8-3.8-.6-2.2.8z"/><path fill="#fcd55a" d="M490.6 220.4l1.1-2.5-1.5-2.7-1.1 2.9z"/><path fill="#fcc34e" d="M407.2 217.4l2.1-.8-3.9.5-2.1.8z"/><path fill="#f9d55d" d="M496.2 219.8l.9-1.7-3.7-3.6-.9 3.2z"/><path fill="#fcd85a" d="M484.2 217.4l1.1-1.3-1.2-.3-1.1.4z"/><path fill="#fcde57" d="M486.4 219.1l1-3.3-1.1-.1-1 .2z"/><path fill="#f9fc3f" d="M429.7 215.4l.8-2.4-3.8-.2-.7 2.1z"/><path fill="#fcd25d" d="M488.9 220.5l1.1-2.5-1.5-2.6-1.1 2.7z"/><path fill="#f9fc3f" d="M433.5 213.6l2.1-.8-3.8-.5-2.2.9z"/><path fill="#f6ed1e" d="M459.9 214.7l2.1-.1-3.9-.6-2.1 0z"/><path fill="#f9fc3f" d="M438.7 214.6l2.8-.9-1-1.4-2.8.7z"/><path fill="#eac95a" d="M491.6 221.7l1.1-2.1-1.5-2.1-1.1 2.5z"/><path fill="#fcdb5a" d="M485 219.6l.9-3.8-1 0-1.1 1.1z"/><path fill="#fcd55d" d="M487.2 220.6l1.1-2.7-1.2-2.3-1.1 3.2z"/><path fill="#f0c95d" d="M473 215.9l2.1.1-3.9-.3-2.1-.2z"/><path fill="#e4cc57" d="M489.9 222l1.1-2.1-1.5-2.3-1.1 2.6z"/><path fill="#f9c960" d="M402.1 218.5l2.1-.8-3.9.4-2.1.7z"/><path fill="#fcd85a" d="M481.6 217.9l.8-1.8-1.3-.2-.8.2z"/><path fill="#e7c957" d="M495.5 221.2l.9-1.8-3.7-2.1-.9 2.4z"/><path fill="#f9de39" d="M415.3 215.7l2.1-.9-3.9.5-2.1.9z"/><path fill="#fcd85a" d="M483.5 220l1-3.3-1.1-.9-1.1 1.8z"/><path fill="#f9f63f" d="M439.5 217.4l2.7-1.3-1-2.9-2.6.8z"/><path fill="#f9d25d" d="M485.7 221.1l1.1-2.5-1.2-2.9-1 3.7z"/><path fill="#fcd85d" d="M480.3 217.6l.9-1.4-1.4-.3-.8.2z"/><path fill="#e4cc5a" d="M488.2 222.2l1.1-2.1-1.5-2.5-1.1 2.6z"/><path fill="#fcd55d" d="M479.1 217.2l.8-1-1.5-.3-.6.2z"/><path fill="#fcd85a" d="M482.3 219.9l.9-2.3-1.2-1.7-.9 1.3z"/><path fill="#f9f318" d="M454.7 214.4l2.2-.3-3.9-.7-2.1.3z"/><path fill="#c3cf5d" d="M490.9 223.2l1.1-2-1.5-1.7-1.1 2.2z"/><path fill="#f6cf5d" d="M484.3 221.5l1.1-2.4-1.2-2.6-1.1 3.3z"/><path fill="#fce157" d="M440.2 218.9l2.8-1.8-1-1.6-2.8 1.5z"/><path fill="#e1cc5a" d="M486.5 222.3l1.1-2.2-1.2-1.9-1.1 2.6z"/><path fill="#fcdb5a" d="M481 219.8l.9-2.5-1.2-1.4-.9 1z"/><path fill="#edc95a" d="M397 219.5l2.1-.8-3.8-.1-2.1.8z"/><path fill="#bad263" d="M489.2 223.5l1.1-1.9-1.5-2-1.1 2.3z"/><path fill="#fcde57" d="M479.7 219.6l.9-2.6-1.2-1.2-.8.7z"/><path fill="#c6cf5d" d="M494.9 222.5l.8-1.7-3.8-1.5-.8 2.1z"/><path fill="#f6cc5d" d="M483 221.5l1-1.8-1.3-2.5-.9 2.3z"/><path fill="#f9cc33" d="M410.2 216.8l2.1-.8-3.9.6-2.1.8z"/><path fill="#d8cc57" d="M485 222.8l1.1-2.2-1.2-1.9-1.1 2.5z"/><path fill="#f9fc3f" d="M433 214.8l.5-1.6-3.8-.3-.6 1.4z"/><path fill="#fcde57" d="M478.5 219.5l.9-2.9-1.3-.8-.7 0z"/><path fill="#f6cc5d" d="M481.8 221.4l.9-1.8-1.2-2.6-1 2.4z"/><path fill="#bdd260" d="M487.5 223.7l1.1-1.9-1.5-2.1-1.1 2.2z"/><path fill="#f9fc3f" d="M436.4 213.9l2.2-.8-3.8-.6-2.1.9z"/><path fill="#f9e157" d="M477.2 219.2l.8-3.3-1.1-.2-.8.1z"/><path fill="#f9cf5d" d="M480.5 221.3l.9-1.8-1.2-2.8-.9 2.5z"/><path fill="#f9f912" d="M449.6 214.2l2.2-.5-3.8-.7-2.2.5z"/><path fill="#d8cc57" d="M483.8 222.8l.9-1.7-1.2-2-1 1.9z"/><path fill="#9fd578" d="M490.2 224.6l1.1-1.9-1.5-1.6-1.1 2.1z"/><path fill="#f6e748" d="M462.9 215.2l2.1-.1-3.9-.7-2.1.1z"/><path fill="#b4d266" d="M485.8 223.8l1.1-2-1.2-1.6-1.1 2.3z"/><path fill="#f9e454" d="M475.9 219l.8-3.2-1.1-.2-.8.1z"/><path fill="#f9d25d" d="M479.2 221.2l.9-1.8-1.2-3.1-.9 2.8z"/><path fill="#d8cc57" d="M482.5 222.7l.9-1.6-1.2-2.1-.9 2z"/><path fill="#f3c95d" d="M465.2 215.2l.5 0-1.6-.3-.5 0z"/><path fill="#f0cf6c" d="M391.9 220l2.2-.7-3.9-.6-2.1.7z"/><path fill="#f3c95d" d="M471.8 215.8l.5 0-1.6-.2-.6 0z"/><path fill="#f9e457" d="M474.7 218.7l.8-2.9-1.2-.2-.7 0z"/><path fill="#f9fc36" d="M432.3 217.7l.7-3.3-3.7-.6-.6 2.8z"/><path fill="#90d581" d="M488.5 224.9l1.1-1.9-1.5-1.7-1.1 2z"/><path fill="#fcd55d" d="M477.9 221l.9-1.8-1.1-3.4-1 3.1z"/><path fill="#dbcc57" d="M481.2 222.7l1-1.7-1.3-2.1-.9 1.9z"/><path fill="#ffcf60" d="M405.1 218l2.1-.8-3.9.6-2 .7z"/><path fill="#a2d575" d="M494.2 223.7l.8-1.6-3.8-1.1-.8 1.9z"/><path fill="#b4d266" d="M484.5 223.9l1-1.6-1.3-1.7-.9 1.7z"/><path fill="#f6ed30" d="M418.3 215.4l2.1-.9-3.9.3-2.1.9z"/><path fill="#f9e157" d="M473.4 218.5l.8-2.8-1.2-.2-.7.1z"/><path fill="#fcd85a" d="M476.7 220.8l.9-1.8-1.2-3.3-1 2.9z"/><path fill="#decc57" d="M480 222.6l.9-1.7-1.2-2.2-1 2z"/><path fill="#96d57e" d="M486.8 225.1l1.1-1.8-1.5-1.9-1.1 2z"/><path fill="#b4d266" d="M483.3 223.9l.9-1.6-1.2-1.7-1 1.7z"/><path fill="#f6f04e" d="M472.1 218.2l.9-2.6-1.3-.3-.7.2z"/><path fill="#fcde57" d="M475.4 220.6l.9-1.9-1.2-3.1-.9 2.7z"/><path fill="#e4c957" d="M478.7 222.5l.9-1.7-1.2-2.2-.9 1.9z"/><path fill="#b4d266" d="M482 223.9l.9-1.6-1.2-1.8-.9 1.7z"/><path fill="#90d581" d="M485.3 224.9l.9-1.5-1.2-1.5-.9 1.6z"/><path fill="#f6c963" d="M464.7 215.2l.5-.1-1.6-.3-.6.1z"/><path fill="#f9f018" d="M457.7 214.9l2.2-.3-3.9-.8-2.1.3z"/><path fill="#f9fc3f" d="M436.6 215.5l2.8-1.1-1-1.7-2.7.8z"/><path fill="#f6ed51" d="M470.9 217.8l.8-2.3-1.2-.3-.8.2z"/><path fill="#72d599" d="M489.5 225.8l1.1-1.7-1.5-1.5-1.1 1.9z"/><path fill="#fcde57" d="M474.1 220.4l.9-2-1.2-2.9-.9 2.5z"/><path fill="#eac95a" d="M477.4 222.3l1-1.6-1.3-2.4-.9 2.1z"/><path fill="#bad263" d="M480.7 223.8l1-1.5-1.3-1.9-.9 1.7z"/><path fill="#93d581" d="M484 224.9l1-1.5-1.3-1.5-.9 1.6z"/><path fill="#f9e751" d="M469.6 217.5l.9-2.1-1.3-.3-.8.2z"/><path fill="#f9e157" d="M472.9 220.2l.9-2.1-1.2-2.7-1 2.2z"/><path fill="#f0cc5a" d="M476.2 222.2l.9-1.7-1.2-2.4-1 2.1z"/><path fill="#75d599" d="M487.8 226.1l1.1-1.7-1.5-1.6-1.1 1.9z"/><path fill="#f9c963" d="M400.1 219.1l2-.8-3.9.4-2 .6z"/><path fill="#c3cf5d" d="M479.5 223.7l.9-1.5-1.3-1.9-.9 1.7z"/><path fill="#7ed590" d="M493.5 224.9l.8-1.6-3.8-.8-.8 1.7z"/><path fill="#9cd578" d="M482.8 224.9l.9-1.4-1.3-1.7-.9 1.6z"/><path fill="#f6de2a" d="M413.2 216.4l2.1-.9-3.9.5-2.1.9z"/><path fill="#f9f648" d="M468.3 217.1l.9-1.7-1.3-.4-.8.2z"/><path fill="#f9e754" d="M471.6 220l.9-2.2-1.2-2.5-.9 2z"/><path fill="#f9fc3c" d="M437.5 218.8l2.6-1.6-1-3.3-2.6.9z"/><path fill="#f3cc5d" d="M474.9 222l.9-1.7-1.2-2.5-.9 2.2z"/><path fill="#c6cf5d" d="M478.2 223.6l.9-1.5-1.2-2-.9 1.8z"/><path fill="#f9fc3f" d="M436 215.4l.5-1.9-3.8-.4-.6 1.6z"/><path fill="#9cd578" d="M481.5 224.9l.9-1.4-1.2-1.7-1 1.6z"/><path fill="#f9f945" d="M460.8 215l.6-.2-1.6-.4-.6.2z"/><path fill="#7bd593" d="M484.8 225.9l.9-1.5-1.3-1.4-.9 1.5z"/><path fill="#f6f34b" d="M464.1 215.3l.6-.2-1.6-.3-.6.1z"/><path fill="#f9e451" d="M467.1 216.7l.9-1.4-1.4-.4-.8.2z"/><path fill="#f9ea51" d="M470.3 219.8l1-2.4-1.3-2.2-.9 1.7z"/><path fill="#f6cc5d" d="M473.6 221.9l.9-1.8-1.2-2.5-.9 2.2z"/><path fill="#69d5a2" d="M486.7 226.8l1-1.5-2-2.3-1.1 1.7z"/><path fill="#c9cf5d" d="M476.9 223.5l.9-1.5-1.2-2.1-.9 1.8z"/><path fill="#99d57b" d="M480.2 224.9l.9-1.5-1.2-1.7-.9 1.6z"/><path fill="#f6f324" d="M459.5 214.9l.6-.2-1.6-.4-.5.2z"/><path fill="#7bd593" d="M483.5 225.9l.9-1.4-1.2-1.5-.9 1.5z"/><path fill="#f9f315" d="M452.6 214.7l2.2-.5-3.8-.8-2.2.6z"/><path fill="#f9f945" d="M465.8 216.3l.9-1.1-1.4-.4-.7.3z"/><path fill="#f9ed4e" d="M469.1 219.5l.9-2.5-1.2-1.9-.9 1.4z"/><path fill="#60d2ab" d="M488.8 227l1.1-1.7-1.5-1.3-1.1 1.8z"/><path fill="#f9cf5d" d="M472.4 221.7l.9-1.8-1.2-2.6-1 2.2z"/><path fill="#d2cf5a" d="M475.7 223.4l.9-1.6-1.3-2.1-.9 1.9z"/><path fill="#f9f018" d="M455 214.6l.6-.3-1.6-.4-.6.3z"/><path fill="#a2d575" d="M478.9 224.8l1-1.5-1.3-1.7-.9 1.6z"/><path fill="#7bd590" d="M482.2 225.9l1-1.4-1.3-1.5-.9 1.5z"/><path fill="#f9f34b" d="M467.8 219.3l.9-2.7-1.2-1.6-.8 1z"/><path fill="#fcd25d" d="M471.1 221.5l.9-1.8-1.2-2.8-1 2.4z"/><path fill="#f0c95a" d="M394.9 219.9l2.2-.7-3.9-.1-2.1.7z"/><path fill="#dbcc57" d="M474.4 223.3l.9-1.6-1.2-2.2-1 1.9z"/><path fill="#aed56c" d="M477.7 224.7l.9-1.4-1.2-1.9-1 1.7z"/><path fill="#f9f342" d="M435.3 218.9l.7-4-3.7-.7-.6 3.4z"/><path fill="#66d5a5" d="M492.9 226l.7-1.5-3.8-.6-.8 1.6z"/><path fill="#f9fc42" d="M460.3 215l.6-.2-1.6-.4-.6.3z"/><path fill="#63d5a8" d="M484.3 226.8l.9-1.4-1.3-1.4-.9 1.5z"/><path fill="#fcdb51" d="M408.2 217.5l2-.8-3.9.6-2 .7z"/><path fill="#f9f948" d="M463.6 215.3l.6-.2-1.6-.3-.6.1z"/><path fill="#f9f348" d="M466.5 219l.9-2.8-1.2-1.4-.8.7z"/><path fill="#fcd55d" d="M469.8 221.3l.9-1.8-1.2-2.9-.9 2.5z"/><path fill="#decc57" d="M473.1 223.1l.9-1.6-1.2-2.2-.9 1.9z"/><path fill="#f9f618" d="M421.3 215.4l2.1-1-3.9 0-2.1 1z"/><path fill="#b1d269" d="M476.4 224.6l.9-1.4-1.2-1.9-.9 1.6z"/><path fill="#75d596" d="M481.1 226.5l1-1.6-1.5-2-1 1.9z"/><path fill="#f9f018" d="M455.7 214.7l.6-.3-1.6-.4-.6.3z"/><path fill="#7ed590" d="M479.7 225.9l.9-1.4-1.2-1.7-.9 1.6z"/><path fill="#f3f015" d="M459 215l.6-.3-1.6-.4-.6.3z"/><path fill="#69d5a2" d="M483 226.8l.9-1.3-1.2-1.5-1 1.5z"/><path fill="#f9f942" d="M465.2 218.8l.9-3.1-1.2-1-.7.1z"/><path fill="#fcdb5a" d="M468.5 221.1l.9-1.9-1.1-3-1 2.6z"/><path fill="#e7cc57" d="M471.8 223l1-1.7-1.3-2.2-.9 1.9z"/><path fill="#5ad2b1" d="M486 228l1-1.5-2-2.2-1.1 1.7z"/><path fill="#b7d266" d="M475.1 224.5l1-1.5-1.3-1.9-.9 1.7z"/><path fill="#f9f018" d="M454.4 214.7l.6-.3-1.5-.4-.6.3z"/><path fill="#54cfba" d="M488.2 228.1l1-1.5-2.1-1.8-1 1.6z"/><path fill="#84d58d" d="M478.4 225.8l1-1.4-1.3-1.6-.9 1.5z"/><path fill="#f9f912" d="M447.5 214.7l2.2-.7-3.8-.8-2.1.7z"/><path fill="#f9fc3f" d="M436.4 215.7l.9-.4-1.2-2.1-.9 2.2z"/><path fill="#f9f942" d="M464 218.5l.8-3.6-1.2-.3-.7.1z"/><path fill="#fce157" d="M467.3 220.9l.9-1.9-1.2-3.1-1 2.7z"/><path fill="#eac95a" d="M470.6 222.8l.9-1.7-1.2-2.2-1 1.9z"/><path fill="#f9f915" d="M449.8 214.5l.7-.4-1.6-.4-.6.4z"/><path fill="#bad263" d="M473.9 224.4l.9-1.5-1.2-1.9-1 1.6z"/><path fill="#8ad587" d="M477.2 225.8l.9-1.5-1.3-1.7-.9 1.6z"/><path fill="#fcd557" d="M434.8 220.7l.7-2.3-3.7-1.4-.7 2z"/><path fill="#5ad2b1" d="M483.8 227.7l.9-1.4-1.3-1.3-.9 1.4z"/><path fill="#f9f942" d="M462.7 218.3l.8-3.5-1.1-.3-.8.2z"/><path fill="#f9e751" d="M466 220.7l.9-1.9-1.2-3.4-.9 3z"/><path fill="#f3c960" d="M389.8 220.4l2.2-.7-3.8-.5-2.2.6z"/><path fill="#f0c95d" d="M469.3 222.6l.9-1.7-1.2-2.3-.9 2z"/><path fill="#5dd2ae" d="M482.1 227.7l1-1.6-1.5-1.7-1 1.7z"/><path fill="#c0d260" d="M472.6 224.3l.9-1.6-1.2-1.9-.9 1.7z"/><path fill="#6cd59f" d="M479.2 226.8l.9-1.3-1.2-1.6-1 1.5z"/><path fill="#ffd25d" d="M403.1 218.6l2-.8-3.9.6-2 .7z"/><path fill="#57cfb7" d="M492.2 227.1l.7-1.4-3.8-.6-.8 1.6z"/><path fill="#f6f015" d="M458.5 215l.6-.3-1.6-.4-.6.3z"/><path fill="#f9fc42" d="M437.1 219.2l.7-.4-1-4.2-.6.3z"/><path fill="#f9fc3f" d="M461.4 218l.9-3.3-1.2-.3-.8.2z"/><path fill="#f9ea4e" d="M464.7 220.5l.9-1.9-1.2-3.9-.9 3.5z"/><path fill="#f3c95d" d="M468 222.5l.9-1.7-1.2-2.4-.9 2z"/><path fill="#f6ed21" d="M416.2 216.1l2.1-.9-3.9.3-2.1.9z"/><path fill="#c6cf5d" d="M471.3 224.1l.9-1.5-1.2-2-.9 1.7z"/><path fill="#8ad587" d="M476 226.4l1.1-1.8-1.5-2.1-1.1 1.9z"/><path fill="#93d57e" d="M474.6 225.6l.9-1.5-1.2-1.7-.9 1.5z"/><path fill="#f9f018" d="M453.9 214.8l.6-.4-1.5-.4-.6.4z"/><path fill="#60d2ae" d="M480.4 227.7l1.1-1.6-1.6-1.8-1 1.8z"/><path fill="#6fd59c" d="M477.9 226.8l.9-1.4-1.2-1.6-.9 1.5z"/><path fill="#f6ed18" d="M457.2 215l.6-.3-1.5-.4-.7.3z"/><path fill="#f9f048" d="M435.9 219.3l.6-4.4-.9-.2-.7 4.2z"/><path fill="#f9fc3f" d="M460.2 217.7l.8-3.1-1.2-.2-.7.1z"/><path fill="#f9f04b" d="M463.5 220.3l.8-2-1.1-3.7-1 3.3z"/><path fill="#f9cc60" d="M466.8 222.3l.9-1.7-1.2-2.5-1 2.1z"/><path fill="#cccf57" d="M470.1 224l.9-1.6-1.3-2-.9 1.8z"/><path fill="#96d57b" d="M473.4 225.5l.9-1.5-1.3-1.8-.9 1.6z"/><path fill="#4bccc0" d="M485.3 229.1l1-1.5-2-2-1 1.5z"/><path fill="#42ccc6" d="M487.5 229.2l1-1.5-2.1-1.7-1 1.5z"/><path fill="#f9fc3f" d="M458.9 217.5l.8-2.9-1.1-.3-.8.2z"/><path fill="#f9f04b" d="M462.2 220.1l.9-2.1-1.2-3.5-.9 3.1z"/><path fill="#4ecfbd" d="M483.1 228.8l1-1.6-1.5-1.6-1 1.7z"/><path fill="#fccf60" d="M465.5 222.2l.9-1.8-1.2-2.5-.9 2.1z"/><path fill="#d5cc57" d="M468.8 223.9l.9-1.6-1.2-2.1-1 1.8z"/><path fill="#9fd575" d="M472.1 225.4l.9-1.5-1.2-1.8-1 1.6z"/><path fill="#f9f315" d="M451.3 214.7l.7-.4-1.5-.4-.7.4z"/><path fill="#5dd2b1" d="M478.7 227.7l.9-1.3-1.3-1.5-.9 1.4z"/><path fill="#f9f939" d="M457.6 217.2l.9-2.7-1.2-.3-.8.2z"/><path fill="#f9f33f" d="M436.6 219.6l.8-.5-1.1-4.3-.7 4.4z"/><path fill="#f9f348" d="M460.9 220l.9-2.3-1.2-3.2-.9 2.8z"/><path fill="#f9cf5d" d="M464.2 222l.9-1.8-1.2-2.6-.9 2.3z"/><path fill="#66d5a8" d="M477 227.7l1.1-1.7-1.5-1.9-1.1 1.8z"/><path fill="#dbcc54" d="M467.5 223.7l.9-1.6-1.2-2.1-.9 1.8z"/><path fill="#4eccc0" d="M481.4 228.8l1.1-1.5-1.6-1.6-1 1.6z"/><path fill="#f9f615" d="M450.1 214.7l.6-.4-1.5-.4-.7.4z"/><path fill="#7ed590" d="M474.1 226.6l.9-1.4-1.2-1.7-.9 1.5z"/><path fill="#f9c963" d="M398 219.6l2.1-.7-3.9.3-2.1.6z"/><path fill="#f9f936" d="M456.4 216.9l.8-2.4-1.2-.4-.8.3z"/><path fill="#fccf60" d="M435.4 221.2l.7-2.7-1.1-.5-.7 2.7z"/><path fill="#f9f345" d="M459.6 219.8l1-2.4-1.2-3-1 2.5z"/><path fill="#fcd25d" d="M462.9 221.9l1-1.9-1.2-2.6-1 2.3z"/><path fill="#f6e43f" d="M411.2 217.1l2-.9-3.9.5-2 .8z"/><path fill="#e1cc57" d="M466.2 223.6l1-1.6-1.3-2.2-.9 1.9z"/><path fill="#9cd578" d="M470.9 226l1.1-1.8-1.5-2.3-1.1 2z"/><path fill="#aed56c" d="M469.5 225.1l1-1.5-1.3-1.9-.9 1.7z"/><path fill="#f9f615" d="M448.8 214.7l.6-.4-1.5-.4-.6.4z"/><path fill="#66d5a5" d="M475.3 227.6l1.1-1.6-1.5-2-1.1 1.8z"/><path fill="#84d58a" d="M472.8 226.5l1-1.4-1.3-1.7-.9 1.5z"/><path fill="#f9f315" d="M452.1 214.9l.6-.4-1.5-.5-.6.4z"/><path fill="#51cfbd" d="M479.7 228.9l1.1-1.6-1.5-1.7-1.1 1.7z"/><path fill="#f9f90f" d="M441.7 214.3l2.9-.6-.7 1.3-2.9 1z"/><path fill="#f9f62d" d="M455.1 216.6l.9-2.2-1.3-.3-.8.3z"/><path fill="#f9f912" d="M424.2 215.4l2.2-1-3.8-.2-2.2 1z"/><path fill="#42ccc6" d="M491.1 228.8l1.1-2.1-3.7-.4-1.2 2.1z"/><path fill="#f9f645" d="M458.4 219.6l.9-2.5-1.2-2.8-.9 2.3z"/><path fill="#fcd85d" d="M461.7 221.7l.9-1.9-1.2-2.7-1 2.4z"/><path fill="#e1cc57" d="M465 223.5l.9-1.7-1.2-2.2-1 1.9z"/><path fill="#b4d266" d="M468.3 225l.9-1.5-1.2-1.9-1 1.7z"/><path fill="#f9f615" d="M450.8 214.8l.7-.4-1.6-.4-.6.4z"/><path fill="#36c6d2" d="M486.9 230.2l.9-1.4-2.1-1.7-.9 1.5z"/><path fill="#f9f630" d="M453.8 216.2l.9-1.8-1.3-.3-.8.3z"/><path fill="#f9f942" d="M457.1 219.5l1-2.8-1.3-2.4-.9 2z"/><path fill="#f9cc60" d="M436.1 221.7l.8-2.9-1.1-.4-.8 2.7z"/><path fill="#51cfba" d="M478 228.9l1.1-1.6-1.5-1.7-1.1 1.6z"/><path fill="#fcdb5a" d="M460.4 221.6l.9-2-1.2-2.8-.9 2.5z"/><path fill="#eac95a" d="M463.7 223.4l.9-1.8-1.2-2.2-.9 2z"/><path fill="#3cc9cc" d="M482.4 229.8l1.1-1.5-1.6-1.5-1 1.6z"/><path fill="#c0d260" d="M467 224.9l.9-1.5-1.2-2-.9 1.7z"/><path fill="#f9f912" d="M446.3 214.7l.6-.4-1.5-.5-.7.5z"/><path fill="#f9f615" d="M449.6 214.8l.6-.4-1.5-.4-.7.4z"/><path fill="#39c6d2" d="M484.2 230.6l1.5-2-2.1-1.8-1.4 2.1z"/><path fill="#63d5a8" d="M473.6 227.5l.9-1.3-1.2-1.6-1 1.4z"/><path fill="#f9f627" d="M452.6 215.8l.9-1.3-1.4-.5-.8.4z"/><path fill="#f9f93c" d="M455.8 219.3l1-2.9-1.2-2.2-.9 1.7z"/><path fill="#f0c95a" d="M434.9 222l.8-1.3-1.2-.7-.9 1.2z"/><path fill="#fcde57" d="M459.1 221.5l1-2-1.3-2.9-.9 2.6z"/><path fill="#72d599" d="M471.9 227.4l1.1-1.7-1.5-2-1.1 1.8z"/><path fill="#edc95a" d="M462.4 223.2l1-1.7-1.3-2.3-.9 2.1z"/><path fill="#54cfba" d="M476.3 228.8l1.1-1.5-1.5-1.8-1.1 1.6z"/><path fill="#f9f90f" d="M445 214.7l.6-.4-1.5-.5-.6.5z"/><path fill="#8ad584" d="M469 226.2l.9-1.5-1.2-1.7-.9 1.5z"/><path fill="#3fc9c9" d="M480.7 229.9l1.1-1.5-1.5-1.5-1.1 1.5z"/><path fill="#f6c960" d="M392.9 220.3l2.1-.6-3.9-.1-2.1.6z"/><path fill="#f9f915" d="M448.3 214.8l.6-.4-1.5-.4-.6.4z"/><path fill="#f9f93f" d="M454.6 219.2l.9-3.2-1.2-1.8-.9 1.3z"/><path fill="#fce157" d="M457.9 221.4l.9-2.1-1.2-3-1 2.8z"/><path fill="#f9e154" d="M406.1 218.1l2-.8-3.8.6-2.1.7z"/><path fill="#f3c95d" d="M461.2 223.1l.9-1.7-1.2-2.3-1 2z"/><path fill="#b7d266" d="M465.8 225.6l1.1-1.9-1.5-2.4-1.1 2.1z"/><path fill="#c6cf5d" d="M464.5 224.7l.9-1.6-1.3-2-.9 1.8z"/><path fill="#f9f90f" d="M443.7 214.8l.7-.5-1.5-.5-.7.5z"/><path fill="#78d596" d="M470.2 227.3l1.1-1.7-1.5-2.1-1.1 1.9z"/><path fill="#99d57b" d="M467.8 226.1l.9-1.5-1.3-1.8-.9 1.6z"/><path fill="#f9f912" d="M447 214.8l.7-.4-1.6-.5-.6.5z"/><path fill="#5ad2b4" d="M474.6 228.8l1.1-1.6-1.5-1.9-1.1 1.7z"/><path fill="#f9f615" d="M419.2 216.1l2.1-1-3.8 0-2.1 1z"/><path fill="#f9f93f" d="M453.3 219l.9-3.4-1.2-1.5-.8.9z"/><path fill="#f9e454" d="M456.6 221.3l.9-2.1-1.2-3.2-.9 2.9z"/><path fill="#eac957" d="M435.6 222.4l.9-1.3-1.3-.7-.8 1.3z"/><path fill="#f3c95d" d="M459.9 223.1l.9-1.9-1.2-2.3-.9 2.1z"/><path fill="#c9cf5a" d="M463.2 224.6l.9-1.6-1.2-2-1 1.8z"/><path fill="#f9f912" d="M445.7 214.9l.7-.5-1.5-.4-.7.4z"/><path fill="#f9f939" d="M452 218.9l.9-3.8-1.2-1-.7.2z"/><path fill="#5dd2b1" d="M472.9 228.7l1.1-1.6-1.5-1.9-1.1 1.7z"/><path fill="#f9e751" d="M455.3 221.2l.9-2.2-1.2-3.3-.9 3.1z"/><path fill="#f6cc5d" d="M458.6 223l.9-1.9-1.2-2.4-.9 2.2z"/><path fill="#42ccc9" d="M477.3 229.9l1.1-1.5-1.5-1.6-1.1 1.6z"/><path fill="#d2cc57" d="M461.9 224.5l.9-1.6-1.2-2.1-.9 1.9z"/><path fill="#39c3d8" d="M481.7 230.8l1.1-1.4-1.6-1.5-1 1.6z"/><path fill="#f9f90f" d="M444.5 214.9l.6-.5-1.5-.4-.7.4z"/><path fill="#3cc9cf" d="M479.2 230.9l1.4-1.9-2-2.2-1.5 2.2z"/><path fill="#72d599" d="M468.5 227.2l.9-1.4-1.2-1.7-.9 1.5z"/><path fill="#f9f930" d="M450.8 218.8l.7-4.5-1.1-.2-.7.2z"/><path fill="#42c0de" d="M485.8 231.6l1.4-1.9-2.1-1.5-1.4 2z"/><path fill="#f9ed4e" d="M454 221.2l1-2.3-1.2-3.6-1 3.4z"/><path fill="#87d587" d="M466.8 227.1l1.1-1.8-1.5-2.1-1.1 1.9z"/><path fill="#39c6d8" d="M490.1 230.3l1.1-2-3.8-.4-1.1 2z"/><path fill="#f9cc5d" d="M457.3 222.9l1-1.9-1.2-2.4-1 2.3z"/><path fill="#5dd2ae" d="M471.2 228.6l1.1-1.6-1.5-1.9-1.1 1.7z"/><path fill="#a2d575" d="M463.9 225.8l1-1.5-1.3-1.8-.9 1.6z"/><path fill="#fcc963" d="M387.8 220.7l2.1-.6-3.8-.6-2.2.5z"/><path fill="#45ccc6" d="M475.6 229.9l1.1-1.5-1.5-1.7-1.1 1.6z"/><path fill="#f9fc0f" d="M443.2 214.9l.6-.5-1.5-.4-.6.5z"/><path fill="#f9f92d" d="M449.5 218.7l.7-4.4-1-.2-.8.2z"/><path fill="#f9f34b" d="M452.8 221.1l.9-2.3-1.2-3.9-.9 3.7z"/><path fill="#ffcf60" d="M401 219.1l2.1-.7-3.9.5-2.1.7z"/><path fill="#f9cf5d" d="M456.1 222.9l.9-2-1.2-2.5-1 2.4z"/><path fill="#c9cf5d" d="M460.7 225.3l1.1-2.1-1.5-2.5-1.1 2.4z"/><path fill="#d5cc57" d="M459.4 224.4l.9-1.7-1.2-2.1-1 1.9z"/><path fill="#8ad587" d="M465.1 227l1.1-1.8-1.5-2.2-1.1 2z"/><path fill="#aed56c" d="M462.7 225.8l.9-1.6-1.2-1.9-1 1.8z"/><path fill="#f9f912" d="M441.7 217l.6-2.9-1.3 1.4-.5 1.2z"/><path fill="#60d2ab" d="M469.5 228.5l1.1-1.6-1.5-2-1.1 1.8z"/><path fill="#f9f912" d="M445.2 215l.7-.5-1.5-.4-.7.5z"/><path fill="#f9ea21" d="M414.1 216.8l2.1-.9-3.8.2-2.1 1z"/><path fill="#f9f924" d="M448.2 218.6l.8-4.3-1.1-.2-.7.2z"/><path fill="#42c0e1" d="M483.2 232l1.4-1.9-2-1.7-1.4 2z"/><path fill="#f9f048" d="M451.5 221.1l.9-2.4-1.2-4.5-.9 4.4z"/><path fill="#fccf60" d="M454.8 222.9l.9-2.1-1.2-2.5-.9 2.4z"/><path fill="#decc57" d="M458.1 224.3l.9-1.7-1.2-2.1-.9 2z"/><path fill="#f9f90f" d="M427.2 215.7l2.2-1.1-3.8-.5-2.2 1.1zM443.9 215l.7-.5-1.5-.4-.7.5z"/><path fill="#f9f621" d="M446.9 218.6l.8-4.3-1.1-.2-.7.2z"/><path fill="#66d5a5" d="M467.8 228.4l1.1-1.6-1.5-2-1.1 1.8z"/><path fill="#f9f345" d="M450.2 221.1l.9-2.5-1.1-4.4-.9 4.3z"/><path fill="#f9fc3f" d="M432.4 214.8l.5 1.5-3.9-.6-.5-1.2z"/><path fill="#fccf5d" d="M453.5 222.9l1-2.1-1.3-2.7-.9 2.6z"/><path fill="#4bccc0" d="M472.2 229.8l1.1-1.5-1.5-1.8-1.1 1.6z"/><path fill="#decc57" d="M456.8 224.3l1-1.8-1.3-2.1-.9 2z"/><path fill="#36c6d5" d="M476.6 230.9l1.1-1.4-1.5-1.6-1.1 1.6z"/><path fill="#3fc9cc" d="M474.1 230.9l1.4-2-2-2.3-1.4 2.2z"/><path fill="#87d58a" d="M463.4 226.9l.9-1.5-1.2-1.7-.9 1.6z"/><path fill="#f9f912" d="M442.4 217.2l.7-3-1-.2-.7 2.9z"/><path fill="#f9f61b" d="M445.7 218.5l.7-4.2-1-.2-.8.2z"/><path fill="#42c0e1" d="M480.7 232.2l1.4-1.8-2-1.9-1.5 2z"/><path fill="#f9f345" d="M449 221.2l.9-2.7-1.2-4.3-.9 4.1z"/><path fill="#99d57b" d="M461.7 226.8l1.1-1.9-1.5-2.2-1.1 2.1z"/><path fill="#fcd25d" d="M452.3 222.9l.9-2.1-1.2-2.8-1 2.7z"/><path fill="#69d5a2" d="M466.1 228.3l1.1-1.6-1.5-2-1.1 1.8z"/><path fill="#decc57" d="M455.6 224.3l.9-1.8-1.2-2.2-1 2.1z"/><path fill="#b7d266" d="M458.9 225.6l.9-1.6-1.3-1.9-.9 1.8z"/><path fill="#4ecfc0" d="M470.5 229.7l1.1-1.5-1.5-1.8-1.1 1.7z"/><path fill="#f6f31b" d="M441.1 221.7l.6-5.6-.9-.2-.6 5.4z"/><path fill="#f9f612" d="M444.4 218.5l.8-4.2-1.1-.2-.7.2z"/><path fill="#f9f33f" d="M447.7 221.3l.9-3-1.2-4.1-.9 4z"/><path fill="#fccc63" d="M395.9 220l2.1-.6-3.9.3-2.1.5z"/><path fill="#f9d25d" d="M451 223l.9-2.3-1.2-2.8-.9 2.9z"/><path fill="#e1cc57" d="M454.3 224.3l.9-1.9-1.2-2.1-.9 2.2z"/><path fill="#9cd578" d="M460 226.8l1.1-1.9-1.5-2.3-1.1 2.2z"/><path fill="#bad263" d="M457.6 225.6l.9-1.7-1.2-1.9-.9 1.9z"/><path fill="#6cd59f" d="M464.4 228.3l1.1-1.7-1.5-2-1.1 1.8z"/><path fill="#f6ed51" d="M409.1 217.7l2.1-.8-3.9.4-2.1.8z"/><path fill="#f9f615" d="M443.1 218.5l.7-4.2-1-.2-.7 3z"/><path fill="#42c0de" d="M478.1 232.3l1.4-1.8-2-2-1.4 2z"/><path fill="#f9f639" d="M446.4 221.5l1-3.3-1.2-4-1 3.9z"/><path fill="#fcd55d" d="M449.7 223.1l1-2.3-1.3-3-.9 3.1z"/><path fill="#f9fc0f" d="M429 215.4l.6-.6-1.5-.3-.6.5z"/><path fill="#4bb7e7" d="M484.7 232.9l1.4-1.8-2-1.4-1.4 1.9z"/><path fill="#e1cc57" d="M453 224.4l1-2-1.3-2.2-.9 2.3z"/><path fill="#f9f615" d="M422.2 216.2l2.1-1.1-3.8-.3-2.1 1.1z"/><path fill="#4bbde4" d="M489 231.7l1.1-1.9-3.7-.4-1.2 1.9z"/><path fill="#bad263" d="M456.3 225.6l.9-1.7-1.2-1.9-.9 1.9z"/><path fill="#e1c648" d="M435.3 223.6l.8-.7-1.2-1.8-.6-.7z"/><path fill="#f9ed24" d="M441.9 222.1l.6-5.8-.9-.2-.6 5.6z"/><path fill="#4bccc0" d="M468.4 230.2l1.5-2.2-1.4-1.7-1.5 2.4z"/><path fill="#72d59c" d="M462.7 228.2l1.1-1.7-1.5-2-1.1 1.9z"/><path fill="#f9f336" d="M445.2 221.8l.9-3.7-1.2-3.9-1 3.9z"/><path fill="#f9f912" d="M424.5 215.7l.6-.6-1.6-.2-.6.5z"/><path fill="#fcd85a" d="M448.5 223.2l.9-2.4-1.2-3.1-.9 3.3z"/><path fill="#54cfba" d="M467.1 229.6l1.1-1.6-1.5-1.8-1.1 1.7z"/><path fill="#e4c957" d="M451.8 224.4l.9-1.9-1.2-2.3-1 2.4z"/><path fill="#f9fc0f" d="M431 215.4l.7-.6-1.5-.4-.7.6z"/><path fill="#39c9cf" d="M471.5 230.9l1.1-1.5-1.5-1.7-1.1 1.6z"/><path fill="#bad263" d="M455.1 225.6l.9-1.7-1.3-1.9-.9 1.9z"/><path fill="#fccc39" d="M434 221.6l.7-.4-1.3-2-.3-2.9z"/><path fill="#93d57e" d="M458.3 226.7l1-1.5-1.3-1.8-.9 1.8z"/><path fill="#3fc0de" d="M475.6 232.4l1.4-1.9-2-2-1.4 2z"/><path fill="#f9f330" d="M443.9 222.2l.9-4.2-1.2-3.8-.9 3.9z"/><path fill="#f9d55a" d="M447.2 223.4l.9-2.5-1.2-3.2-.9 3.5z"/><path fill="#4eb4ea" d="M482.2 233.3l1.4-1.8-2.1-1.6-1.4 1.9z"/><path fill="#75d599" d="M461 228.2l1.1-1.8-1.5-2-1.1 1.9z"/><path fill="#e7c957" d="M450.5 224.6l.9-2.1-1.2-2.3-.9 2.5z"/><path fill="#f9f90f" d="M429.7 215.5l.7-.6-1.5-.4-.7.6z"/><path fill="#c0d260" d="M453.8 225.6l.9-1.7-1.2-1.9-1 2z"/><path fill="#54cfba" d="M465.4 229.5l1.1-1.6-1.5-1.8-1.1 1.7z"/><path fill="#f9f912" d="M432.8 217.4l.8-.4-1.5-1.1-.3-1.4z"/><path fill="#99d57b" d="M457.1 226.7l.9-1.5-1.2-1.8-1 1.8z"/><path fill="#f9ea3f" d="M442.6 222.9l.7-5.2-1-1.4-.6 5.8z"/><path fill="#fcc963" d="M390.8 220.6l2.1-.5-3.9-.1-2.1.4z"/><path fill="#f9d857" d="M445.9 223.8l1-2.7-1.3-3.5-.8 4z"/><path fill="#f9f912" d="M425.2 215.7l.6-.5-1.5-.3-.6.5z"/><path fill="#e7cc5a" d="M449.2 224.7l.9-2.1-1.2-2.3-.9 2.6z"/><path fill="#f9fc0f" d="M428.5 215.6l.6-.6-1.5-.3-.6.5z"/><path fill="#c0d260" d="M452.5 225.7l.9-1.8-1.2-1.9-.9 2.1z"/><path fill="#f9fc0f" d="M431.8 215.4l.6-.5-1.5-.4-.6.6z"/><path fill="#78d593" d="M459.4 228.1l1-1.8-1.5-2-1 2z"/><path fill="#9fd575" d="M455.8 226.7l.9-1.5-1.2-1.8-.9 1.8z"/><path fill="#e7c64e" d="M434.8 224.1l.7-.6-1-3.2-.7.5z"/><path fill="#39c9cf" d="M469.4 231.3l1.5-2.1-1.4-1.6-1.5 2.3z"/><path fill="#fcde57" d="M404 218.7l2.1-.8-3.9.6-2.1.7z"/><path fill="#57cfb7" d="M463.8 229.5l1-1.6-1.5-1.9-1.1 1.8z"/><path fill="#3fc3db" d="M473 232.4l1.5-1.9-2.1-2.1-1.4 2z"/><path fill="#f6d85a" d="M444.6 224.2l1-2.8-1.2-3.8-.9 4.5z"/><path fill="#4eb4ea" d="M479.6 233.5l1.4-1.7-2-1.8-1.4 1.9z"/><path fill="#e4cc5a" d="M447.9 224.9l1-2.1-1.3-2.4-.9 2.7z"/><path fill="#f9f318" d="M417.1 216.8l2.1-1-3.8-.1-2.1 1z"/><path fill="#c3d25d" d="M451.2 225.8l1-1.8-1.3-1.9-.9 2.1z"/><path fill="#f9fc0f" d="M430.5 215.5l.6-.5-1.5-.4-.6.6z"/><path fill="#9cd578" d="M454.5 226.8l1-1.6-1.3-1.8-.9 1.8z"/><path fill="#f9db2a" d="M433.5 222.1l.6-.5-.9-5.3-.6.2z"/><path fill="#7bd593" d="M457.8 227.8l1-1.5-1.3-1.6-.9 1.6z"/><path fill="#f9f315" d="M419.4 216.3l.6-.5-1.6-.2-.6.5z"/><path fill="#f9db57" d="M443.4 224.7l.9-2.8-1.2-4.3-.8 5.2z"/><path fill="#5ad2b4" d="M462.1 229.4l1-1.6-1.5-1.9-1 1.8z"/><path fill="#e1cc5a" d="M446.7 225.2l.9-2.2-1.2-2.4-.9 2.9z"/><path fill="#f9f912" d="M425.9 215.8l.7-.6-1.5-.3-.7.6z"/><path fill="#3fccc9" d="M466.5 230.7l1-1.5-1.5-1.7-1.1 1.6z"/><path fill="#bdd263" d="M450 225.9l.9-1.8-1.2-1.9-1 2.2z"/><path fill="#9cd578" d="M453.3 226.8l.9-1.6-1.3-1.7-.9 1.8z"/><path fill="#f9f912" d="M432.3 217.7l.7-.4-1.1-2.8-.7.2z"/><path fill="#78d596" d="M456.6 227.8l.9-1.5-1.3-1.6-.9 1.6z"/><path fill="#c6cf5a" d="M435.6 225l.9-.9-1.3-1.4-.9.9z"/><path fill="#4eb7ea" d="M477.1 233.7l1.4-1.8-2-1.8-1.4 1.9z"/><path fill="#d8cc5a" d="M445.4 225.5l.9-2.2-1.2-2.4-.9 3.1z"/><path fill="#bdd263" d="M448.7 226.1l.9-1.9-1.2-1.9-.9 2.3z"/><path fill="#5dd2b1" d="M460.4 229.4l1-1.7-1.5-1.8-1 1.8z"/><path fill="#f9f912" d="M428 215.7l.6-.5-1.5-.4-.7.6z"/><path fill="#51aeed" d="M483.7 234.2l1.4-1.8-2.1-1.3-1.3 1.8z"/><path fill="#96d57b" d="M452 226.9l.9-1.6-1.2-1.8-.9 1.9z"/><path fill="#3fc3db" d="M470.4 232.4l1.5-2.1-1.4-1.5-1.5 2.2z"/><path fill="#42ccc6" d="M464.8 230.7l1-1.6-1.5-1.7-1.1 1.6z"/><path fill="#51b1ea" d="M488 233.1l1.1-1.8-3.8-.4-1.1 1.7z"/><path fill="#7ed590" d="M455.3 227.8l.9-1.5-1.2-1.6-1 1.7z"/><path fill="#dbcc5a" d="M434.3 224.7l.7-.6-1-3.4-.8.5z"/><path fill="#ffeabd" d="M385.7 220.8l2.1-.4-3.8-.6-2.1.4z"/><path fill="#39c6d5" d="M467.4 231.8l1.5-2.1-1.5-1.6-1.4 2.3z"/><path fill="#f9f315" d="M420.1 216.3l.7-.5-1.6-.2-.6.5z"/><path fill="#e4cc57" d="M444.1 225.9l1-2.2-1.3-2.4-.8 3.3z"/><path fill="#f9f615" d="M423.4 216l.6-.5-1.5-.3-.6.5z"/><path fill="#bad263" d="M447.4 226.3l1-1.9-1.3-1.9-.9 2.4z"/><path fill="#f9f912" d="M426.7 215.8l.6-.5-1.5-.3-.6.5z"/><path fill="#9cd578" d="M450.7 227l1-1.7-1.3-1.6-.9 1.9z"/><path fill="#f9f912" d="M430 215.7l.6-.5-1.5-.4-.6.5z"/><path fill="#fcd55d" d="M398.9 219.6l2.1-.6-3.9.4-2.1.6z"/><path fill="#78d596" d="M454 227.8l.9-1.5-1.2-1.6-.9 1.7z"/><path fill="#5dd2ae" d="M458.7 229.4l1.1-1.7-1.5-1.9-1.1 1.9z"/><path fill="#f9db33" d="M433 222.5l.6-.4-.9-5.6-.6.3z"/><path fill="#66d5a5" d="M457.3 228.8l.9-1.4-1.2-1.6-.9 1.6z"/><path fill="#45ccc6" d="M463.1 230.6l1-1.5-1.5-1.8-1 1.7z"/><path fill="#4bb7e7" d="M474.6 233.7l1.4-1.8-2.1-1.9-1.4 1.9z"/><path fill="#f9f945" d="M412.1 217.5l2.1-.9-3.9.2-2.1.9z"/><path fill="#b1d269" d="M446.2 226.5l.9-1.8-1.2-1.8-.9 2.3z"/><path fill="#54abf0" d="M481.2 234.5l1.3-1.7-2-1.5-1.4 1.8z"/><path fill="#96d57e" d="M449.5 227.1l.9-1.6-1.3-1.7-.9 1.9z"/><path fill="#f9f912" d="M428.7 215.8l.7-.5-1.5-.4-.7.5z"/><path fill="#81d58d" d="M452.8 227.9l.9-1.5-1.3-1.6-.9 1.7z"/><path fill="#f9f912" d="M431.7 219.1l.8-1.6-1.1-2.8-.7.2z"/><path fill="#63d5a8" d="M456.1 228.8l.9-1.4-1.3-1.5-.9 1.5z"/><path fill="#b4d266" d="M435 225.6l.9-.9-1.2-1.5-.9.9z"/><path fill="#f9f018" d="M414.4 217l.5-.5-1.6 0-.5.4z"/><path fill="#f9f615" d="M420.9 216.3l.6-.5-1.5-.2-.7.5z"/><path fill="#48ccc3" d="M461.4 230.6l1.1-1.6-1.6-1.7-1 1.7z"/><path fill="#aed56c" d="M444.9 226.8l.9-1.8-1.2-1.7-.9 2.4z"/><path fill="#f9f915" d="M424.2 216.1l.6-.6-1.5-.3-.7.6z"/><path fill="#39c6d5" d="M465.8 231.7l1-1.4-1.5-1.7-1.1 1.6z"/><path fill="#93d57e" d="M448.2 227.3l.9-1.7-1.2-1.6-.9 2z"/><path fill="#78d596" d="M451.5 228l.9-1.5-1.2-1.6-1 1.7z"/><path fill="#f9f912" d="M430.4 219.2l.8-4.3-1.1-.1-.7.2z"/><path fill="#66d5a5" d="M454.8 228.8l.9-1.4-1.3-1.5-.9 1.5z"/><path fill="#decc57" d="M433.7 225.2l.8-.6-1.1-3.4-.7.5z"/><path fill="#42c0e1" d="M468.4 232.8l1.5-2-1.5-1.5-1.4 2.1z"/><path fill="#4bb7e7" d="M472 233.7l1.4-1.7-2-2-1.4 1.9z"/><path fill="#54abf0" d="M478.6 234.8l1.4-1.7-2-1.7-1.4 1.8z"/><path fill="#90d581" d="M446.9 227.4l.9-1.6-1.2-1.5-.9 1.9z"/><path fill="#f9f912" d="M426.2 216l.6-.5-1.5-.4-.6.6z"/><path fill="#48ccc3" d="M459.7 230.5l1.1-1.5-1.5-1.8-1.1 1.7z"/><path fill="#7bd593" d="M450.2 228l.9-1.5-1.2-1.5-.9 1.8z"/><path fill="#f9f912" d="M429.2 219.3l.7-4.3-1-.1-.8.2z"/><path fill="#39c6d2" d="M464.1 231.7l1-1.5-1.5-1.6-1 1.6z"/><path fill="#f9de39" d="M432.5 223.4l.6-.9-.9-5.7-.7 1.4z"/><path fill="#57cfb7" d="M456.8 229.7l.9-1.4-1.2-1.4-1 1.4z"/><path fill="#f9fc3f" d="M415.1 217l.6-.5-1.6-.1-.6.5z"/><path fill="#f9f315" d="M418.4 216.6l.6-.5-1.6-.2-.6.5z"/><path fill="#f9f615" d="M421.6 216.4l.7-.6-1.6-.2-.6.5z"/><path fill="#93d581" d="M445.7 227.6l.9-1.5-1.3-1.5-.9 1.9z"/><path fill="#f9f912" d="M424.9 216.1l.7-.5-1.6-.3-.6.5z"/><path fill="#ffcc63" d="M393.8 220.4l2.1-.5-3.9.2-2 .4z"/><path fill="#75d596" d="M449 228.1l.9-1.4-1.3-1.5-.9 1.7z"/><path fill="#f9f615" d="M427.9 219.5l.8-4.4-1.1-.1-.8.2z"/><path fill="#63d5a8" d="M452.2 228.8l1-1.4-1.3-1.4-.9 1.6z"/><path fill="#f9f021" d="M431.2 222.8l.9-4.3-1.2-3.7-.9 3.9z"/><path fill="#4bccc0" d="M458 230.5l1.1-1.6-1.5-1.7-1.1 1.7z"/><path fill="#5ad2b4" d="M455.5 229.7l.9-1.4-1.2-1.4-.9 1.5z"/><path fill="#a8d56f" d="M434.5 226.2l.9-.9-1.2-1.5-.9.8z"/><path fill="#39c6d2" d="M462.4 231.6l1.1-1.4-1.6-1.7-1 1.6z"/><path fill="#f6f04e" d="M407 218.4l2.1-.9-3.9.4-2.1.8z"/><path fill="#54abf0" d="M476.1 234.9l1.4-1.7-2.1-1.7-1.4 1.8z"/><path fill="#75d599" d="M447.7 228.2l.9-1.4-1.3-1.4-.9 1.7z"/><path fill="#f9f618" d="M426.6 219.7l.8-4.5-1.1-.1-.7.3z"/><path fill="#57a5f6" d="M482.7 235.3l1.3-1.6-2-1.3-1.4 1.8z"/><path fill="#5dd2b1" d="M453.2 229.9l1.5-2.3-1.5-1.7-1.4 2.7z"/><path fill="#66d5a5" d="M451 228.9l.9-1.4-1.3-1.4-.9 1.5z"/><path fill="#4bb7e7" d="M469.4 233.7l1.5-1.9-1.5-1.4-1.4 2z"/><path fill="#f9f027" d="M429.9 222.5l1-3.8-1.3-3.8-.9 4z"/><path fill="#54a8f3" d="M487 234.4l1.1-1.7-3.8-.5-1.1 1.6z"/><path fill="#f6f34e" d="M409.3 217.9l.5-.4-1.6 0-.5.4z"/><path fill="#cccf5d" d="M433.2 225.9l.8-.8-1.1-3.5-.7 1z"/><path fill="#f9fc3f" d="M415.8 217l.6-.5-1.5-.2-.6.5z"/><path fill="#f9f315" d="M419.1 216.7l.6-.6-1.5-.2-.6.5z"/><path fill="#39c9cf" d="M460.7 231.6l1.1-1.5-1.6-1.6-1 1.6z"/><path fill="#f9f615" d="M422.1 217.2l.9-1.5-1.4-.2-.7.5z"/><path fill="#72d599" d="M446.4 228.3l.9-1.3-1.2-1.3-.9 1.5z"/><path fill="#42c0de" d="M465.1 232.7l1.1-1.4-1.6-1.5-1 1.4z"/><path fill="#f9f618" d="M425.4 219.9l.7-4.6-1-.1-.8.3z"/><path fill="#63d5a8" d="M449.7 228.9l.9-1.3-1.2-1.4-.9 1.5z"/><path fill="#f9f02d" d="M428.6 222.3l1-3.4-1.2-3.9-.9 4.2z"/><path fill="#f6d551" d="M431.9 225.3l.8-2-1-5.1-1 4.3z"/><path fill="#48bde4" d="M466.9 233.7l1.4-1.8-2-2.1-1.4 2z"/><path fill="#4bccc3" d="M456.3 230.5l.9-1.3-1.3-1.3-.9 1.3z"/><path fill="#51aeed" d="M473.5 235l1.4-1.7-2-1.8-1.4 1.8z"/><path fill="#f9f315" d="M420.8 217.8l.9-2-1.3-.2-.8.5z"/><path fill="#f9f61e" d="M424.1 220.1l.7-4.6-1-.2-.8.3z"/><path fill="#57a2f6" d="M480.1 235.7l1.4-1.6-2-1.5-1.4 1.8z"/><path fill="#39c9cf" d="M459 231.5l1.1-1.4-1.5-1.6-1.1 1.6z"/><path fill="#f9f033" d="M427.4 222.3l.9-3.2-1.2-4-.9 4.3z"/><path fill="#5ad2b4" d="M451.7 229.7l.9-1.3-1.2-1.3-.9 1.4z"/><path fill="#3fc0de" d="M463.4 232.7l1.1-1.4-1.6-1.6-1 1.5z"/><path fill="#f6d857" d="M430.7 224.8l.8-2.2-1.1-4.3-.9 3.9z"/><path fill="#f6f64b" d="M410.1 217.8l.5-.4-1.6 0-.6.4z"/><path fill="#99d57b" d="M434 226.8l.9-1-1.3-1.5-.8 1z"/><path fill="#f9fc3f" d="M413.3 217.4l.6-.5-1.6-.1-.6.5zM416.6 217l.6-.5-1.6-.2-.6.5z"/><path fill="#f9f627" d="M419.6 218.2l.8-2.2-1.2-.2-.9.4z"/><path fill="#4bccc0" d="M454.2 230.9l1.5-2.1-1.5-1.5-1.4 2.3z"/><path fill="#ffcf60" d="M388.8 220.8l2-.3-3.8-.2-2.1.3z"/><path fill="#f9f624" d="M422.8 220.3l.7-4.7-1-.1-.9 1.1z"/><path fill="#66d5a8" d="M447.2 228.9l.9-1.1-1.3-1.3-.9 1.4z"/><path fill="#f9f339" d="M426.1 222.3l.9-3-1.2-4-.9 4.3z"/><path fill="#5ad2b4" d="M450.5 229.7l.9-1.3-1.3-1.2-.9 1.3z"/><path fill="#f9d857" d="M429.4 224.5l.9-2.2-1.2-3.9-.9 3.6z"/><path fill="#39c9cc" d="M457.3 231.5l1.1-1.4-1.5-1.6-1.1 1.5z"/><path fill="#c0d263" d="M432.7 226.8l.8-1.1-1.1-3.2-.9 2.3z"/><path fill="#f9e157" d="M401.9 219.2l2.1-.7-3.9.5-2.1.6z"/><path fill="#51aeed" d="M471 235l1.4-1.7-2-1.8-1.4 1.8z"/><path fill="#f9f615" d="M439.3 217.3l.6 5.5-.9-.4-.6-5.3z"/><path fill="#f9fc3f" d="M418.3 218.7l.8-2.6-1.2-.2-.8.4z"/><path fill="#f9f939" d="M421.6 220.5l.7-4.1-1-.8-.9 1.6z"/><path fill="#57a2f6" d="M477.6 235.9l1.4-1.6-2.1-1.5-1.4 1.7z"/><path fill="#5dd2ae" d="M445.9 228.9l.9-1-1.3-1.2-.9 1.1z"/><path fill="#f9f33f" d="M424.8 222.3l1-2.8-1.2-4.1-.9 4.5z"/><path fill="#f9e754" d="M404.2 218.8l.6-.4-1.7.1-.5.4z"/><path fill="#f9d85a" d="M428.1 224.3l1-2.3-1.2-3.4-1 3.3z"/><path fill="#cfcf5a" d="M431.4 226.5l.9-1.4-1.2-3.2-.9 2.5z"/><path fill="#f9fc3f" d="M414.1 217.3l.5-.4-1.5-.2-.6.5z"/><path fill="#5ad2b4" d="M448.7 230.2l1.4-1.7-2-2.1-1.4 2.1z"/><path fill="#f9fc3f" d="M417 219.1l.8-2.9-1.2-.1-.8.4z"/><path fill="#3cc3db" d="M460 232.5l1.1-1.3-1.5-1.6-1.1 1.5z"/><path fill="#f9f939" d="M420.3 220.8l.8-3.8-1.1-1.2-.9 1.9z"/><path fill="#f9f342" d="M423.6 222.4l.9-2.6-1.2-4.3-.9 4.6z"/><path fill="#4bbae7" d="M464.4 233.6l1.1-1.3-1.6-1.5-1 1.4z"/><path fill="#f9d55a" d="M426.9 224.2l.9-2.3-1.2-3.1-.9 3.1z"/><path fill="#42bde1" d="M461.9 233.5l1.4-1.8-2.1-2-1.4 1.9z"/><path fill="#4eccc0" d="M451.2 230.4l.9-1.2-1.2-1.2-.9 1.2z"/><path fill="#d8cc5a" d="M430.2 226.2l.9-1.6-1.2-3-1 2.5z"/><path fill="#8dd584" d="M433.5 227.4l.9-1-1.3-1.4-.9 1.4z"/><path fill="#f9fc3f" d="M412.8 217.5l.6-.4-1.6-.1-.6.4z"/><path fill="#51aeed" d="M468.4 235l1.4-1.7-2-1.9-1.4 1.8z"/><path fill="#39c9cf" d="M455.2 231.9l1.5-2-1.5-1.4-1.4 2.1z"/><path fill="#f9fc3f" d="M415.7 219.5l.8-3.1-1.1-.1-.8.4z"/><path fill="#f9f942" d="M419 221l.9-3.5-1.2-1.6-.9 2.3z"/><path fill="#57a2f6" d="M475 236.1l1.4-1.7-2-1.6-1.4 1.7z"/><path fill="#f9f04b" d="M422.3 222.6l.9-2.7-1.2-3.6-.9 4z"/><path fill="#5ad2b4" d="M446.7 229.4l.9-.9-1.3-1.1-.9 1z"/><path fill="#39c3d8" d="M458.3 232.5l1.1-1.4-1.5-1.5-1.1 1.5z"/><path fill="#fcd55d" d="M425.6 224.2l.9-2.3-1.2-2.9-.9 3z"/><path fill="#5a99fc" d="M481.6 236.4l1.4-1.6-2-1.2-1.4 1.7z"/><path fill="#42ccc6" d="M452.2 231.3l1.4-1.9-1.4-1.5-1.5 2.1z"/><path fill="#f6ed51" d="M405 218.7l.5-.4-1.6.1-.5.4z"/><path fill="#e1cc57" d="M428.9 226l.9-1.8-1.2-2.8-.9 2.5z"/><path fill="#579ff9" d="M485.9 235.6l1.2-1.6-3.9-.5-1.1 1.5z"/><path fill="#f6f64b" d="M408.3 218.2l.5-.4-1.6 0-.5.4z"/><path fill="#99d57b" d="M432.2 227.5l.9-1-1.2-2.1-.9 1.6z"/><path fill="#f9fc3f" d="M414.5 219.9l.8-3.3-1.2-.1-.8.3z"/><path fill="#ffffff" d="M383.7 220.8l2.1-.2-3.9-.6-2.1.2z"/><path fill="#f9f942" d="M417.7 221.3l.9-3.3-1.1-1.9-1 2.6z"/><path fill="#f9ed4e" d="M421 222.7l1-2.6-1.2-3.2-.9 3.6z"/><path fill="#fcd55d" d="M424.3 224.2l1-2.3-1.3-2.7-.9 2.9z"/><path fill="#e4cc5a" d="M427.6 225.9l.9-1.9-1.2-2.6-.9 2.4z"/><path fill="#fcd55a" d="M396.9 220.1l2-.6-3.9.4-2 .5z"/><path fill="#a2d575" d="M430.9 227.5l.9-1.3-1.2-2.3-.9 1.9z"/><path fill="#f9f945" d="M410.3 217.9l.5-.4-1.6 0-.5.4z"/><path fill="#51b1ea" d="M465.9 234.9l1.4-1.7-2-1.9-1.4 1.9z"/><path fill="#81d88d" d="M434.4 226.9l.6-1.6-1.5.9-.4 1z"/><path fill="#f9fc3f" d="M413.2 220.3l.8-3.5-1.2-.1-.7.3z"/><path fill="#f9f942" d="M416.5 221.6l.9-3.1-1.2-2.2-.9 2.8z"/><path fill="#57a2f6" d="M472.5 236.1l1.4-1.6-2-1.6-1.4 1.7z"/><path fill="#f9ea51" d="M419.8 222.9l.9-2.5-1.2-3.1-.9 3.5z"/><path fill="#fcd25d" d="M423.1 224.3l.9-2.3-1.2-2.6-1 2.8z"/><path fill="#5a99fc" d="M479.1 236.8l1.4-1.6-2.1-1.3-1.4 1.6z"/><path fill="#e4cc5a" d="M426.4 225.8l.9-1.9-1.2-2.5-1 2.4z"/><path fill="#aed56c" d="M429.7 227.3l.9-1.4-1.3-2.3-.9 1.9z"/><path fill="#f9f942" d="M408.7 219l.8-1.4-1.4-.1-.7.5z"/><path fill="#78d593" d="M433 228l.9-1.1-1.3-1-.9 1.3z"/><path fill="#f9f942" d="M411.9 220.6l.8-3.6-1.1-.1-.8.3z"/><path fill="#f9f645" d="M415.2 221.9l.9-3-1.2-2.4-.9 3.1z"/><path fill="#45ccc6" d="M450.2 231.4l1.4-1.4-2-2-1.4 1.8z"/><path fill="#f9e751" d="M418.5 223.1l.9-2.5-1.2-2.8-.9 3.2z"/><path fill="#45bde4" d="M459.3 233.4l1.1-1.3-1.5-1.4-1.1 1.3z"/><path fill="#36c6d2" d="M453.2 232.2l1.4-1.8-1.4-1.4-1.5 1.9z"/><path fill="#fcd25d" d="M421.8 224.3l.9-2.2-1.2-2.5-.9 2.8z"/><path fill="#3fc0de" d="M456.8 233.2l1.4-1.6-2-2-1.5 1.8z"/><path fill="#e4cc5a" d="M425.1 225.7l.9-1.9-1.2-2.4-.9 2.4z"/><path fill="#b7d266" d="M428.4 227.2l.9-1.5-1.2-2.3-1 2z"/><path fill="#f9f948" d="M407.4 219.5l.8-1.7-1.3-.1-.8.5z"/><path fill="#4eb4ea" d="M463.4 234.8l1.4-1.6-2.1-1.9-1.4 1.8z"/><path fill="#7ed590" d="M431.7 228.2l.9-1-1.3-1.6-.9 1.4z"/><path fill="#f9f942" d="M410.6 221l.8-3.8-1.1-.1-.8.3z"/><path fill="#f9f348" d="M413.9 222.2l1-2.8-1.2-2.7-.9 3.3z"/><path fill="#57a5f3" d="M470 236.1l1.4-1.5-2.1-1.8-1.4 1.7z"/><path fill="#f9f912" d="M438.5 216.4l.7-.5-1.5-.5-.7.6z"/><path fill="#f9e454" d="M417.2 223.3l1-2.5-1.3-2.6-.9 3.1z"/><path fill="#ffcf60" d="M386.2 220.8l1.1-.1-2.4-.2-1.1.1z"/><path fill="#f9cf5d" d="M420.5 224.5l1-2.2-1.3-2.4-.9 2.6z"/><path fill="#5a99fc" d="M476.6 237l1.3-1.5-2-1.5-1.4 1.6z"/><path fill="#eac95a" d="M423.8 225.7l1-1.9-1.3-2.3-.9 2.4z"/><path fill="#f9e751" d="M403.2 219l.5-.3-1.6.1-.5.3z"/><path fill="#bdd260" d="M427.1 227.1l.9-1.6-1.2-2.2-.9 2z"/><path fill="#f9f648" d="M406.1 220.1l.9-2.1-1.3-.1-.8.5z"/><path fill="#81d58d" d="M430.4 228.3l.9-1.2-1.2-1.8-.9 1.6z"/><path fill="#f9f93f" d="M409.4 221.4l.7-4-1 0-.9 1z"/><path fill="#72d599" d="M433.9 227.7l.6-1.4-1.3.3-.7 1.2z"/><path fill="#f9f04b" d="M412.7 222.5l.9-2.7-1.2-2.9-.9 3.5z"/><path fill="#4bccc3" d="M447.7 230.9l1.4-1-2.1-1.8-1.4 1.1z"/><path fill="#fcde57" d="M416 223.5l.9-2.4-1.2-2.5-.9 3z"/><path fill="#f9cf5d" d="M419.3 224.6l.9-2.2-1.2-2.3-1 2.6z"/><path fill="#e4cc57" d="M422.5 225.8l1-2-1.2-2.1-1 2.3z"/><path fill="#fcdb57" d="M391.5 222.3l2.3-2.1-3.8 0-2.1.5z"/><path fill="#c0d260" d="M425.8 227.1l1-1.7-1.3-2.1-.9 2z"/><path fill="#f6f34b" d="M404.8 220.5l.9-2.3-1.3-.1-.8.5z"/><path fill="#4eb7e7" d="M460.8 234.7l1.4-1.6-2-1.9-1.4 1.7z"/><path fill="#90d581" d="M429.1 228.3l1-1.3-1.3-1.9-.9 1.7z"/><path fill="#f9f648" d="M408.1 221.8l.8-3.6-1.1-.6-.9 1.4z"/><path fill="#69d59f" d="M432.5 228.6l.9-1.2-1.3-.7-.9 1.2z"/><path fill="#f9f04b" d="M411.4 222.8l.9-2.6-1.2-3.1-.9 3.7z"/><path fill="#57a5f3" d="M467.4 236.1l1.4-1.6-2-1.7-1.4 1.7z"/><path fill="#e4c951" d="M435.9 223.4l.4-4.6-.9 5-.6 1.9z"/><path fill="#3fc3db" d="M454.2 233l1.4-1.6-1.4-1.4-1.5 1.8z"/><path fill="#fcdb5a" d="M414.7 223.7l.9-2.3-1.2-2.4-.9 2.9z"/><path fill="#ffcf60" d="M394.1 220.4l.5-.2-1.6.1-.6.1z"/><path fill="#f9f912" d="M439.3 216.5l.6-.5-1.4-.5-.7.6z"/><path fill="#f9cc60" d="M418 224.8l.9-2.2-1.2-2.2-.9 2.5z"/><path fill="#5a99fc" d="M474 237.1l1.4-1.5-2-1.5-1.4 1.6z"/><path fill="#e7c957" d="M421.3 225.9l.9-2-1.2-2.1-.9 2.3z"/><path fill="#f9e454" d="M400.7 219.5l.5-.3-1.7.1-.5.3z"/><path fill="#c0d260" d="M424.6 227.1l.9-1.8-1.2-2-1 2z"/><path fill="#6090ff" d="M480.6 237.5l1.4-1.5-2.1-1.2-1.4 1.6z"/><path fill="#f6f34e" d="M403.6 221l.8-2.6-1.2 0-.8.4z"/><path fill="#93d581" d="M427.9 228.2l.9-1.4-1.2-1.8-1 1.7z"/><path fill="#5d96fc" d="M484.9 236.7l1.1-1.5-3.8-.6-1.1 1.5z"/><path fill="#f9f34b" d="M406.8 222.1l.9-3.3-1.2-1-.9 1.8z"/><path fill="#6cd59f" d="M431.2 228.9l.9-1.1-1.3-1.2-.9 1.3z"/><path fill="#f9ed4e" d="M410.1 223.1l1-2.5-1.3-3.3-.8 3.9z"/><path fill="#75d596" d="M434.8 226.7l.3-1.8-1.2 2-.5.8z"/><path fill="#fcd85a" d="M413.4 224l1-2.3-1.3-2.3-.9 2.8z"/><path fill="#f9fc0f" d="M438 216.6l.7-.6-1.5-.4-.7.5z"/><path fill="#f6cc5d" d="M416.7 224.9l1-2.1-1.3-2.1-.9 2.5z"/><path fill="#fcde57" d="M399.4 219.7l.5-.3-1.6.1-.5.3z"/><path fill="#c0d260" d="M423.3 227.1l.9-1.8-1.2-1.9-.9 2z"/><path fill="#f6f04e" d="M402.3 221.4l.8-2.8-1.2 0-.8.4z"/><path fill="#4bb7e7" d="M458.3 234.5l1.4-1.5-2-1.9-1.4 1.7z"/><path fill="#99d57b" d="M426.6 228.2l.9-1.5-1.2-1.8-.9 1.7z"/><path fill="#dbcc57" d="M420.3 226.4l.9-1.8-1.5-2.6-.9 2.1z"/><path fill="#f9f04e" d="M405.6 222.5l.8-3.2-1.1-1.3-1 2.1z"/><path fill="#72d599" d="M429.9 229.1l.9-1.2-1.2-1.5-1 1.4z"/><path fill="#f9e751" d="M408.9 223.4l.9-2.5-1.2-2.8-.9 3.4z"/><path fill="#54a8f3" d="M464.9 236l1.4-1.5-2.1-1.8-1.4 1.7z"/><path fill="#fcd55d" d="M412.2 224.2l.9-2.2-1.2-2.3-1 2.8z"/><path fill="#f6de39" d="M436.8 219.8l.2-4.1-1 3.2-.4 4.5z"/><path fill="#f3c95d" d="M415.4 225.1l1-2.1-1.3-2-.9 2.4z"/><path fill="#5a99fc" d="M471.5 237.2l1.4-1.5-2.1-1.6-1.4 1.6z"/><path fill="#69d5a2" d="M433.7 228.2l.6-1.4-1.8.5-.5 1.1z"/><path fill="#e1cc57" d="M418.7 226.1l1-2-1.3-1.9-.9 2.2z"/><path fill="#ffcf60" d="M387.7 220.8l1.1-.1-2.4-.1-1.1.1z"/><path fill="#c3d25d" d="M422 227.1l1-1.8-1.3-1.9-.9 2.1z"/><path fill="#f6ed51" d="M401 221.8l.8-2.9-1.2-.1-.8.4z"/><path fill="#96d57e" d="M425.3 228.2l1-1.5-1.3-1.9-.9 1.8z"/><path fill="#f9e751" d="M404.3 222.8l.9-2.9-1.2-1.6-.9 2.3z"/><path fill="#72d599" d="M428.6 229.1l.9-1.2-1.2-1.6-.9 1.5z"/><path fill="#fcde57" d="M407.6 223.7l.9-2.4-1.2-2.7-.9 3.3z"/><path fill="#63d5a8" d="M432 229.2l.8-1.2-1.3-.6-.8 1.2z"/><path fill="#fcd25d" d="M410.9 224.5l.9-2.2-1.2-2.2-.9 2.7z"/><path fill="#aed569" d="M435.5 225.3l.3-2.7-1 3.1-.6 1.2z"/><path fill="#f3c95d" d="M414.2 225.3l.9-2.1-1.2-1.9-.9 2.4z"/><path fill="#36c9cf" d="M449.2 232l1.4-.9-2.1-1.8-1.4 1z"/><path fill="#f9f912" d="M438.7 216.7l.7-.5-1.5-.5-.6.6z"/><path fill="#decc57" d="M417.5 226.2l.9-1.9-1.2-1.9-1 2.2z"/><path fill="#f9ea51" d="M399.7 222.2l.8-3.1-1.1 0-.8.3z"/><path fill="#48bae4" d="M455.8 234.2l1.3-1.4-2-1.8-1.4 1.5z"/><path fill="#9cd578" d="M424.1 228.2l.9-1.6-1.3-1.7-.9 1.8z"/><path fill="#f9e754" d="M403 223.2l.9-2.8-1.2-1.9-.9 2.6z"/><path fill="#75d599" d="M427.4 229.1l.9-1.3-1.3-1.6-.9 1.6z"/><path fill="#fcdb57" d="M406.3 224l1-2.4-1.3-2.4-.9 3z"/><path fill="#54abf0" d="M462.3 235.9l1.4-1.5-2-1.8-1.4 1.6z"/><path fill="#60d2a8" d="M430.7 229.6l.9-1.2-1.3-1-.9 1.3z"/><path fill="#f9cf5d" d="M409.6 224.8l.9-2.2-1.2-2.1-.9 2.6z"/><path fill="#edc95a" d="M412.9 225.6l.9-2.1-1.2-1.9-.9 2.3z"/><path fill="#5a99fc" d="M468.9 237.2l1.4-1.5-2-1.6-1.4 1.6z"/><path fill="#f9f912" d="M437.3 216l.7-.1-1.1-.2-.6 4.3z"/><path fill="#d5cc57" d="M416.2 226.4l.9-2-1.2-1.8-.9 2.2z"/><path fill="#f9e154" d="M395.3 221.1l.8-1.2-1.5-.1-.7.4z"/><path fill="#ffd25d" d="M385.2 220.8l1-.1-2.4-.2-1 .1z"/><path fill="#39c3d8" d="M450.5 233.1l2.6-1.9-1.9-1.7-2.6 2.1z"/><path fill="#6390ff" d="M475.5 238l1.4-1.5-2.1-1.3-1.3 1.5z"/><path fill="#f9e754" d="M398.5 222.6l.8-3.3-1.2 0-.8.2z"/><path fill="#aed56c" d="M421.3 228l.9-1.6-1.5-2.3-.9 1.8z"/><path fill="#9fd578" d="M422.8 228.3l.9-1.7-1.2-1.7-.9 1.8z"/><path fill="#638aff" d="M479.7 238.4l1.2-1.3-3.7-2-1.2 1.4z"/><path fill="#f9e454" d="M401.8 223.5l.9-2.6-1.2-2.2-.9 2.8z"/><path fill="#7bd593" d="M426.1 229.2l.9-1.4-1.2-1.6-1 1.6z"/><path fill="#bad263" d="M419.8 227.7l.9-1.6-1.5-2.4-.9 1.9z"/><path fill="#fcd85a" d="M405.1 224.3l.9-2.3-1.2-2.4-.9 3z"/><path fill="#60d2a8" d="M429.4 229.8l.9-1.2-1.3-1.2-.9 1.3z"/><path fill="#f9cc60" d="M408.3 225l1-2.1-1.3-2-.9 2.5z"/><path fill="#eac95a" d="M411.6 225.8l1-2.1-1.3-1.8-.9 2.3z"/><path fill="#84d88a" d="M434.8 226.7l.3-1.5-1.5 2.2-.5.8z"/><path fill="#fcdb57" d="M394 221.6l.8-1.5-1.4-.2-.7.4z"/><path fill="#f9f912" d="M439.5 216.8l.7-.5-1.5-.5-.7.6z"/><path fill="#60d2ab" d="M433.2 228.9l.6-1.3-1.8.2-.5 1.2z"/><path fill="#bdd260" d="M418.2 227.4l1-1.8-1.3-1.7-.9 2z"/><path fill="#f9e154" d="M397.2 223l.8-3.5-1.1 0-.8.2z"/><path fill="#d2cf57" d="M415.2 227l.9-1.8-1.5-2.4-.9 2.1z"/><path fill="#fce157" d="M400.5 223.9l.9-2.6-1.2-2.3-.9 3z"/><path fill="#7ed590" d="M424.8 229.2l.9-1.4-1.2-1.6-.9 1.6z"/><path fill="#fcd55d" d="M403.8 224.6l.9-2.3-1.2-2.2-.9 2.8z"/><path fill="#51aeed" d="M459.8 235.7l1.4-1.4-2-1.8-1.4 1.5z"/><path fill="#f3c95d" d="M407.1 225.3l.9-2.1-1.2-2-.9 2.5z"/><path fill="#5ad2b1" d="M431.5 229.8l.8-1.2-1.3-.6-.8 1.3z"/><path fill="#e4c95a" d="M410.4 226l.9-2-1.2-1.8-.9 2.2z"/><path fill="#579cf9" d="M466.4 237.1l1.4-1.4-2.1-1.7-1.4 1.6z"/><path fill="#cfcf57" d="M413.7 226.8l.9-2-1.2-1.7-1 2.1z"/><path fill="#f9e157" d="M392.7 222l.8-1.8-1.3-.2-.8.4z"/><path fill="#ffffff" d="M382.7 220.6l1 0-2.4-.2-1-.1z"/><path fill="#f9f90f" d="M438.2 216.9l.7-.6-1.5-.4-.7.5z"/><path fill="#bad263" d="M417 227.6l.9-1.8-1.3-1.8-.9 2z"/><path fill="#638dff" d="M473 238.1l1.4-1.4-2.1-1.5-1.4 1.6z"/><path fill="#f9e157" d="M395.9 223.3l.8-3.7-1.1 0-.9 1z"/><path fill="#fcdb5a" d="M399.2 224.2l1-2.4-1.3-2.6-.9 3.2z"/><path fill="#7bd593" d="M423.6 229.3l.9-1.5-1.3-1.6-.9 1.6z"/><path fill="#f9cf60" d="M402.5 224.9l.9-2.2-1.2-2.2-.9 2.8z"/><path fill="#63d5a8" d="M426.9 230l.9-1.3-1.3-1.4-.9 1.5z"/><path fill="#668aff" d="M483.9 237.8l1.1-1.4-3.8-.7-1.1 1.4z"/><path fill="#f0c95d" d="M405.8 225.6l.9-2.1-1.2-1.9-.9 2.4z"/><path fill="#5ad2b4" d="M430.2 230.2l.8-1.1-1.2-.9-.9 1.2z"/><path fill="#e4c957" d="M409.1 226.3l.9-2-1.2-1.8-.9 2.2z"/><path fill="#fcde57" d="M390 221.8l.8-1.3-1.8-.1-.6.2z"/><path fill="#c9cf5a" d="M412.4 227l.9-1.9-1.2-1.8-.9 2.1z"/><path fill="#f9e427" d="M436.9 220.3l.4-4.3-1.2 3.2-.3 4.1z"/><path fill="#84d58a" d="M422.3 229.3l.9-1.4-1.5-2.1-.9 1.7z"/><path fill="#fcde57" d="M394.7 223.6l.8-3.2-1.2-.6-.9 1.3z"/><path fill="#f9f90f" d="M440 216.2l.6 3.9-.9-4.3-.8.3z"/><path fill="#fcd85a" d="M397.9 224.5l1-2.3-1.2-2.8-.9 3.4z"/><path fill="#8dd584" d="M420.8 229.1l.9-1.5-1.6-2.1-.8 1.7z"/><path fill="#f6cc60" d="M401.2 225.2l1-2.2-1.3-2.1-.9 2.7z"/><path fill="#51b1ed" d="M457.3 235.4l1.4-1.3-2.1-1.8-1.4 1.4z"/><path fill="#63d2a8" d="M425.6 230.1l.9-1.4-1.3-1.4-.9 1.5z"/><path fill="#96d57e" d="M419.3 228.9l.8-1.6-1.5-2.1-.9 1.7z"/><path fill="#eac95a" d="M404.5 225.9l1-2.1-1.3-1.8-.9 2.3z"/><path fill="#abcc4e" d="M435.8 224.7l.3-2.2-1.4 3.5-.5 1.2z"/><path fill="#decc54" d="M407.8 226.5l1-2-1.3-1.7-.9 2.2z"/><path fill="#579ff9" d="M463.9 237l1.3-1.4-2-1.7-1.4 1.5z"/><path fill="#c6cf5a" d="M411.1 227.2l1-1.9-1.3-1.7-.9 2.1z"/><path fill="#6cd59f" d="M434.3 227.9l.4-1.5-1.7 1.6-.4.9z"/><path fill="#3cc9c9" d="M445.2 230.2l2.8.4-1.5-1.5-2.9-1.2z"/><path fill="#f9f696" d="M380.1 220.1l1.1.3-2.4-.3-1.1-.3z"/><path fill="#6390ff" d="M470.4 238.2l1.4-1.4-2-1.5-1.4 1.5z"/><path fill="#fcde57" d="M393.4 223.9l.8-3-1.1-.9-.9 1.5z"/><path fill="#a2d572" d="M416.2 228.4l.9-1.6-1.5-2.1-.9 1.8z"/><path fill="#5ad2b1" d="M428.4 231.2l1.4-1.9-2-2-1.5 2.3zM432.7 229.6l.6-1.2-1.7 0-.6 1.2z"/><path fill="#96d57e" d="M417.7 228.6l.9-1.7-1.2-1.6-.9 1.9z"/><path fill="#fcd55a" d="M396.7 224.8l.9-2.2-1.2-3-.9 3.5z"/><path fill="#fcde57" d="M386.3 223.3l1.4-2.7-2.1-.3-1.3.2z"/><path fill="#48bde4" d="M452 234.3l2.6-1.8-1.8-1.7-2.7 1.9z"/><path fill="#abd56c" d="M414.7 228.2l.9-1.6-1.5-2.2-.9 1.9z"/><path fill="#f3c95d" d="M400 225.5l.9-2.1-1.2-2.1-.9 2.6z"/><path fill="#66d5a5" d="M424.3 230.1l.9-1.3-1.2-1.5-.9 1.6z"/><path fill="#e4c957" d="M403.3 226.2l.9-2.1-1.2-1.8-.9 2.3z"/><path fill="#d5cc57" d="M406.6 226.8l.9-2-1.2-1.7-1 2.2z"/><path fill="#57cfb7" d="M431 230.4l.8-1.2-1.3-.5-.8 1.2z"/><path fill="#aed569" d="M413.2 228.1l.9-1.8-1.3-1.6-.9 1.9z"/><path fill="#fcdb57" d="M392.1 224.2l.9-2.9-1.2-1.2-.9 1.8z"/><path fill="#f9f912" d="M437.5 216.3l.7-.1-1.1-.2-.5 4.3z"/><path fill="#f9d25d" d="M395.4 225.1l.9-2.2-1.2-2.7-.9 3.2z"/><path fill="#f0c95a" d="M398.7 225.8l.9-2.1-1.2-2-.9 2.5z"/><path fill="#decc57" d="M402 226.4l.9-2-1.2-1.8-.9 2.3z"/><path fill="#57cfb7" d="M426.3 230.8l.9-1.3-1.2-1.2-.9 1.4z"/><path fill="#cccf5a" d="M405.3 227l.9-1.9-1.2-1.7-.9 2.2z"/><path fill="#fcd85a" d="M390.9 224.4l.9-2.5-1.5-1.7-.8.9z"/><path fill="#57a2f6" d="M461.3 236.8l1.4-1.3-2-1.7-1.4 1.4z"/><path fill="#bdd263" d="M409.9 228.2l1.1-2.3-1.5-2-1 2.5z"/><path fill="#bad263" d="M408.6 227.6l.9-1.8-1.2-1.7-.9 2.1z"/><path fill="#fcdb5a" d="M389.4 224.1l.8-2.8-1.5-1-.7.1z"/><path fill="#9cd578" d="M411.9 228.3l.9-1.8-1.2-1.6-1 1.9z"/><path fill="#6090ff" d="M467.9 238.2l1.4-1.4-2.1-1.6-1.4 1.5z"/><path fill="#edc333" d="M436.3 223.3l.5-3.9-1.1 3.9-.4 2z"/><path fill="#6cd59f" d="M421.8 230.3l.9-1.3-1.6-1.9-.8 1.5z"/><path fill="#f9cf5d" d="M394.1 225.3l1-2.1-1.2-2.5-1 2.9z"/><path fill="#fcde57" d="M387.8 223.7l.8-3.2-1.5-.2-.7.2z"/><path fill="#f9f912" d="M439.7 217.1l.7-.5-1.5-.5-.7.6z"/><path fill="#6984ff" d="M474.5 239l1.4-1.4-2.1-1.3-1.4 1.4z"/><path fill="#eac95a" d="M397.4 226.1l1-2.1-1.3-1.9-.9 2.4z"/><path fill="#6cd59f" d="M420.3 230.1l.9-1.4-1.6-1.9-.9 1.6z"/><path fill="#6984fc" d="M478.7 239.3l1.2-1.2-3.7-1.9-1.2 1.3z"/><path fill="#d5cc57" d="M400.7 226.7l1-2-1.3-1.7-.9 2.2z"/><path fill="#57d2b4" d="M425.1 230.9l.9-1.3-1.3-1.3-.9 1.4z"/><path fill="#78d596" d="M418.8 229.9l.8-1.4-1.5-2-.9 1.6z"/><path fill="#c3cf5d" d="M404 227.3l.9-1.9-1.2-1.7-.9 2.1z"/><path fill="#81d88d" d="M435.3 226.2l.3-1.7-1.5 2.7-.4 1z"/><path fill="#b1d269" d="M407.3 227.9l.9-1.9-1.2-1.6-.9 2z"/><path fill="#7bd593" d="M417.2 229.7l.9-1.4-1.5-2-.9 1.6z"/><path fill="#63d5a8" d="M433.8 228.8l.4-1.3-1.8 1.1-.4 1z"/><path fill="#5dd2b1" d="M423.7 231.3l1-1.5-2.1-2.4-1 1.8z"/><path fill="#f6cc5d" d="M392.9 225.6l.9-2.1-1.2-2.4-.9 2.8z"/><path fill="#81d58d" d="M415.7 229.6l.9-1.5-1.5-2-.9 1.7z"/><path fill="#f9f912" d="M438.4 217.2l.7-.6-1.4-.4-.7.5z"/><path fill="#f9e157" d="M384.6 223.4l1-2.9-1.5-.3-.9.2z"/><path fill="#e7c95a" d="M396.2 226.3l.9-2-1.2-1.9-.9 2.4z"/><path fill="#8dd584" d="M414.2 229.4l.9-1.5-1.6-2-.8 1.7z"/><path fill="#d2cf57" d="M399.5 227l.9-2-1.2-1.7-1 2.2z"/><path fill="#c0d260" d="M402.8 227.5l.9-1.9-1.3-1.6-.9 2.1z"/><path fill="#57a5f3" d="M458.8 236.5l1.4-1.2-2.1-1.7-1.4 1.3z"/><path fill="#b4d266" d="M406.1 228.1l.9-1.8-1.3-1.6-.9 2z"/><path fill="#5d96fc" d="M465.4 238l1.3-1.3-2-1.6-1.4 1.5z"/><path fill="#8dd584" d="M412.6 229.3l1-1.7-1.3-1.5-.9 1.8z"/><path fill="#f6cc5d" d="M391.6 225.7l.9-2-1.2-2.2-.9 2.6z"/><path fill="#36c6d2" d="M446.8 231.6l2.7.1-1.6-1.6-2.8-.5z"/><path fill="#f9e76c" d="M381.2 223.3l1.4-3-2-.4-1.3 0z"/><path fill="#f9d52d" d="M437.1 220.7l.4-4.4-1.2 3.4-.2 3.7z"/><path fill="#6987ff" d="M472 239.1l1.3-1.4-2-1.4-1.4 1.5z"/><path fill="#e1cc57" d="M394.9 226.6l.9-2-1.2-1.9-.9 2.3z"/><path fill="#f9f912" d="M440.3 216.5l.5 4-.9-4.4-.7.3z"/><path fill="#4bccc0" d="M429.9 231.7l1.4-1.8-2.1-1-1.3 1.9z"/><path fill="#cccf5a" d="M398.2 227.2l.9-1.9-1.2-1.7-.9 2.1z"/><path fill="#4eb4ea" d="M453.5 235.4l2.6-1.6-1.8-1.7-2.7 1.7z"/><path fill="#8dd584" d="M410.9 229.5l1.1-2.1-1.5-1.9-1 2.3z"/><path fill="#f9e154" d="M382.9 223.4l1-3-1.5-.3-.9.1z"/><path fill="#c0d260" d="M401.5 227.8l.9-1.9-1.2-1.6-.9 2.1z"/><path fill="#4eccc0" d="M425.8 231.6l.9-1.3-1.2-1.1-.9 1.3z"/><path fill="#6984fc" d="M482.8 238.8l1.2-1.3-3.9-.7-1.1 1.3z"/><path fill="#f6cc5d" d="M390.4 225.9l.8-1.8-1.4-3.2-1 2.7z"/><path fill="#93d57e" d="M408.1 228.9l.9-1.8-1.2-1.5-1 1.9z"/><path fill="#f9d25d" d="M388.8 225.6l.9-1.8-1.4-3.5-1 3z"/><path fill="#57cfb4" d="M421.3 231.2l.9-1.2-1.6-1.8-.9 1.4z"/><path fill="#dbcc54" d="M393.6 226.8l1-2-1.3-1.8-.9 2.2z"/><path fill="#fcd25d" d="M387.3 225.3l.9-1.9-1.5-3.1-.9 2.4z"/><path fill="#f9f912" d="M439.2 217.3l.7-.5-1.5-.5-.7.6z"/><path fill="#f6f04b" d="M378.1 221.8l1.5-1.8-1.4-.6-1.4-.2z"/><path fill="#c9cf5a" d="M396.9 227.4l.9-1.8-1.2-1.7-.9 2.1z"/><path fill="#5dd2ae" d="M419.8 231.1l.8-1.3-1.5-1.8-.9 1.5z"/><path fill="#b7d266" d="M400.2 228l.9-1.8-1.2-1.6-.9 2z"/><path fill="#a5d572" d="M404.9 229.1l1.1-2.2-1.5-1.9-1.1 2.4z"/><path fill="#9fd575" d="M403.5 228.6l.9-1.8-1.2-1.5-.9 1.9z"/><path fill="#78d596" d="M434.8 227.5l.3-1.5-1.6 2.1-.4.9z"/><path fill="#8dd584" d="M409.3 229.8l1-2.1-1.5-1.9-1 2.3z"/><path fill="#90d581" d="M406.8 229.1l.9-1.8-1.2-1.4-.9 1.8z"/><path fill="#66d5a5" d="M416.7 230.8l.9-1.4-1.5-1.9-.9 1.6z"/><path fill="#fcd55d" d="M385.6 225.4l1.1-2.6-1.5-2.5-1.1 2.7z"/><path fill="#6987ff" d="M469.4 239.1l1.4-1.3-2.1-1.5-1.4 1.4z"/><path fill="#d5cc57" d="M392.4 226.9l.9-1.8-1.2-1.8-1 2.1z"/><path fill="#66d5a5" d="M415.2 230.6l.9-1.4-1.6-1.8-.8 1.5z"/><path fill="#f9f912" d="M437.7 216.6l.7-.1-1-.2-.6 4.4z"/><path fill="#45ccc6" d="M427.3 232.5l1.4-1.8-2-1.6-1.4 2.1z"/><path fill="#c0d25d" d="M395.7 227.7l.9-1.9-1.3-1.6-.9 2z"/><path fill="#6fd59f" d="M413.7 230.5l.9-1.5-1.6-1.8-.9 1.6z"/><path fill="#a8d56f" d="M399 228.3l.9-1.8-1.3-1.6-.9 2z"/><path fill="#99d57b" d="M402.2 228.8l1-1.8-1.3-1.5-.9 1.9z"/><path fill="#57d2b4" d="M418.6 231.8l1-1.6-2-2.4-1.1 1.8z"/><path fill="#4ecfc0" d="M423 232.4l1-1.4-2.1-2.2-1 1.6z"/><path fill="#d8cc57" d="M391.1 227.1l.9-1.8-1.2-1.8-.9 2.1z"/><path fill="#42ccc6" d="M425.2 232.5l1-1.3-2.1-1.9-1 1.5z"/><path fill="#e7c333" d="M436.6 223.5l.4-3.7-1.1 3.5-.4 2.1z"/><path fill="#6cd59f" d="M412 230.7l1-1.9-1.5-1.8-1 2.1z"/><path fill="#bad263" d="M394.4 227.9l.9-1.8-1.2-1.7-.9 2z"/><path fill="#fcd55d" d="M383.9 225.3l1.1-2.3-1.5-2.8-1.1 2.8z"/><path fill="#f9f912" d="M440 217.4l.6-.5-1.4-.5-.7.6z"/><path fill="#a5d572" d="M397.7 228.5l.9-1.8-1.2-1.5-1 1.9z"/><path fill="#9cd578" d="M401 229l.9-1.7-1.2-1.5-1 1.9z"/><path fill="#dbcc57" d="M389.9 227.2l.8-1.6-1.5-2.4-.9 1.9z"/><path fill="#579cf9" d="M460.3 237.5l1.4-1.1-2.1-1.6-1.4 1.2z"/><path fill="#75d599" d="M407.6 230l.9-1.6-1.3-1.4-.9 1.7z"/><path fill="#e1cc57" d="M388.3 226.9l.9-1.6-1.5-2.5-.9 2z"/><path fill="#668aff" d="M466.9 239l1.3-1.3-2-1.4-1.4 1.3z"/><path fill="#f9e454" d="M379.1 223.9l1.4-4.1-1.3-.2-1.5 1.8z"/><path fill="#a2d572" d="M435.4 226.8l.4-2.3-1.3 2.1-.3 1.4z"/><path fill="#4bccc0" d="M420.8 232.1l.8-1.2-1.5-1.7-.9 1.4z"/><path fill="#bdd260" d="M393.1 228l.9-1.7-1.2-1.6-.9 1.9z"/><path fill="#3cc3db" d="M448.3 233l2.7-.1-1.7-1.7-2.7-.1z"/><path fill="#f9f912" d="M438.7 217.5l.7-.6-1.5-.4-.7.5z"/><path fill="#7bd593" d="M405.9 230.3l1.1-2-1.5-1.8-1.1 2.2z"/><path fill="#6c7efc" d="M473.5 239.8l1.3-1.3-2-1.2-1.4 1.3z"/><path fill="#a8d56f" d="M396.4 228.7l.9-1.8-1.2-1.5-.9 1.9z"/><path fill="#6c7efc" d="M477.7 240.2l1.2-1.2-3.8-1.8-1.2 1.3z"/><path fill="#66d5a5" d="M410.3 231l1-2-1.5-1.7-1 2.1z"/><path fill="#54abf0" d="M455 236.5l2.6-1.6-1.8-1.6-2.7 1.7z"/><path fill="#fcd55a" d="M382.2 225.2l1.1-2.1-1.5-3.1-1.1 3z"/><path fill="#7bd593" d="M403 229.7l.9-1.6-1.2-1.5-.9 1.8z"/><path fill="#e7cc5a" d="M386.6 227l1.1-2.1-1.5-2.5-1.1 2.6z"/><path fill="#5d96fc" d="M461.6 238.6l2.6-2.1-1.9-1.5-2.6 2.2z"/><path fill="#5ad2b4" d="M416.2 231.8l.9-1.4-1.6-1.7-.8 1.5z"/><path fill="#b4d266" d="M391.9 228.2l.9-1.7-1.3-1.6-.9 1.8z"/><path fill="#5ad2b4" d="M414.7 231.6l.9-1.3-1.6-1.8-.9 1.5z"/><path fill="#f9de27" d="M437.3 221.1l.4-4.5-1.2 3.7-.2 3.2z"/><path fill="#a2d575" d="M395.1 228.9l1-1.7-1.3-1.5-.9 1.8z"/><path fill="#8dd584" d="M399.8 229.9l1.1-2-1.5-1.8-1.1 2.2z"/><path fill="#f9f912" d="M440.5 216.8l.6 4.1-1-4.5-.7.3z"/><path fill="#84d88a" d="M398.4 229.4l1-1.6-1.3-1.5-.9 1.8z"/><path fill="#7bd593" d="M404.2 230.6l1.1-2-1.5-1.8-1.1 2.2z"/><path fill="#78d596" d="M401.7 229.9l.9-1.6-1.2-1.4-.9 1.8z"/><path fill="#69d5a2" d="M408.6 231.2l1.1-1.9-1.5-1.7-1.1 2.1z"/><path fill="#e7cc5a" d="M384.9 226.9l1.1-1.9-1.5-2.5-1.1 2.4z"/><path fill="#b1d269" d="M390.6 228.3l.9-1.7-1.2-1.6-1 1.8z"/><path fill="#cccc51" d="M436.1 225.4l.4-2.8-1.3 2.5-.3 1.8z"/><path fill="#99d57b" d="M393.9 229l.9-1.6-1.3-1.5-.9 1.8z"/><path fill="#f9f912" d="M439.4 217.6l.7-.5-1.4-.5-.7.6z"/><path fill="#36c9cf" d="M428.9 232.9l1.3-1.8-2-.8-1.4 1.9z"/><path fill="#87d587" d="M397.2 229.6l.9-1.6-1.3-1.4-.9 1.7z"/><path fill="#51cfba" d="M433.2 230.5l1-2.2-3.8 1.7-1 1.5z"/><path fill="#57cfb7" d="M413.5 232.4l1-1.7-2-2.3-1 1.8z"/><path fill="#6c7bfc" d="M481.8 239.8l1.1-1.3-3.8-.7-1.1 1.2z"/><path fill="#b7d266" d="M389.3 228.3l.9-1.4-1.5-2.2-.9 1.7z"/><path fill="#fcd560" d="M380.1 225.5l1.5-2.6-1.4-3.2-1.5 3.9z"/><path fill="#48ccc3" d="M417.9 233l1-1.6-2-2.2-1.1 1.8z"/><path fill="#3cc9cc" d="M420.1 233.2l1-1.4-2.1-2.1-1 1.6z"/><path fill="#60d2ab" d="M406.9 231.4l1.1-1.9-1.5-1.6-1.1 2z"/><path fill="#39c9cf" d="M422.3 233.4l1-1.4-2.1-1.9-1 1.5z"/><path fill="#8ad584" d="M434.9 228l.4-1.9-1.4 1.5-.3 1.4z"/><path fill="#36c6d2" d="M424.5 233.5l1-1.4-2.1-1.7-1 1.5z"/><path fill="#99d57b" d="M392.6 229.2l.9-1.7-1.2-1.5-.9 1.8z"/><path fill="#54cfba" d="M411.3 232.1l1-1.9-1.5-1.6-1 2z"/><path fill="#f9f615" d="M438 216.9l.7-.1-1.1-.2-.6 4.5z"/><path fill="#e7cc5a" d="M383.2 226.8l1.1-1.8-1.5-2.5-1.1 2.3z"/><path fill="#f9f072" d="M377.1 222.4l1.4-.8-1.4-2.6-1.4 1z"/><path fill="#87d58a" d="M395.9 229.8l.9-1.6-1.2-1.4-.9 1.7z"/><path fill="#c0d260" d="M387.6 228.4l1.1-1.9-1.5-2.1-1.1 2.2z"/><path fill="#63d2a8" d="M402.5 230.8l.9-1.6-1.3-1.3-.9 1.7z"/><path fill="#45ccc6" d="M415.7 232.7l.9-1.3-1.6-1.6-.9 1.4z"/><path fill="#6cd5a2" d="M400.8 231.1l1.1-2-1.5-1.6-1.1 2.1z"/><path fill="#6981fc" d="M468.4 239.9l1.4-1.2-2.1-1.4-1.4 1.3z"/><path fill="#93d581" d="M391.3 229.3l1-1.6-1.3-1.5-.9 1.7z"/><path fill="#60d2ae" d="M405.2 231.7l1.1-1.9-1.5-1.6-1.1 2z"/><path fill="#48bde4" d="M449.8 234.3l2.7-.3-1.7-1.7-2.7.1z"/><path fill="#f9f912" d="M440.2 217.7l.7-.5-1.5-.5-.7.6z"/><path fill="#69d5a2" d="M397.9 230.5l.9-1.6-1.2-1.3-.9 1.7z"/><path fill="#57cfb7" d="M409.6 232.3l1.1-1.8-1.5-1.6-1.1 1.9z"/><path fill="#57a2f6" d="M456.5 237.5l2.6-1.5-1.8-1.5-2.6 1.5z"/><path fill="#c0d260" d="M385.9 228.3l1.1-1.7-1.5-2.1-1.1 2z"/><path fill="#668aff" d="M463.1 239.5l2.6-1.9-1.8-1.5-2.7 2.1z"/><path fill="#96d57e" d="M390.1 229.3l.9-1.5-1.3-1.5-.9 1.6z"/><path fill="#75d599" d="M394.7 230.6l1.1-1.9-1.5-1.7-1.1 2z"/><path fill="#aed56c" d="M435.7 226.9l.4-2.3-1.4 1.9-.3 1.6z"/><path fill="#7bd593" d="M393.4 230.1l.9-1.6-1.3-1.4-.9 1.7z"/><path fill="#f9f912" d="M438.9 217.8l.7-.6-1.5-.4-.7.5z"/><path fill="#66d5a5" d="M399.1 231.3l1.1-1.9-1.5-1.6-1.1 2z"/><path fill="#6fd59c" d="M396.7 230.7l.9-1.6-1.3-1.3-.9 1.6z"/><path fill="#e7cc5a" d="M381.1 227l1.5-2.3-1.4-2.3-1.5 2.8z"/><path fill="#5ad2b1" d="M403.5 231.9l1.1-1.8-1.5-1.6-1.1 2z"/><path fill="#c0d260" d="M384.2 228.2l1.1-1.6-1.5-2.2-1.1 1.9z"/><path fill="#fcd55d" d="M378.1 223.9l1.4-.2-1.4-2.8-1.4.8z"/><path fill="#7ed590" d="M392.1 230.2l.9-1.5-1.2-1.4-1 1.6z"/><path fill="#90d581" d="M388.6 229.7l1.1-1.8-1.5-1.9-1.1 2z"/><path fill="#f6de27" d="M437.5 221.5l.5-4.6-1.2 4-.3 2.8z"/><path fill="#39c3d8" d="M428 234.1l1.2-1.6-3.7-1.7-1.2 1.8z"/><path fill="#f9f912" d="M440.7 217.1l.6 4.2-.9-4.5-.8.2z"/><path fill="#4bccc0" d="M408.4 233l1.1-1.6-2.1-2.3-1 1.9z"/><path fill="#6fd59c" d="M434.8 228.5l.3-1.5-1.7 1.8-.3 1.1z"/><path fill="#6c75f6" d="M476.7 240.9l1.1-1-3.7-1.7-1.2 1.2z"/><path fill="#3cc9cc" d="M412.8 233.6l1-1.6-2-2.2-1 1.8z"/><path fill="#3fc9cc" d="M415 233.8l1-1.5-2-2.1-1 1.7z"/><path fill="#57cfb7" d="M401.8 232.2l1.1-1.9-1.5-1.5-1.1 1.9z"/><path fill="#36c6d2" d="M417.2 234.1l1-1.5-2-2-1 1.6z"/><path fill="#39c6d5" d="M419.4 234.3l1-1.4-2.1-2-1 1.6z"/><path fill="#4ecfbd" d="M406.2 232.7l1.1-1.8-1.5-1.5-1.1 1.9z"/><path fill="#3cc3db" d="M423.9 234.4l.9-1.3-2.1-1.6-1 1.5z"/><path fill="#78d596" d="M390.8 230.2l.9-1.4-1.2-1.4-.9 1.5z"/><path fill="#dec94b" d="M436.4 225.5l.4-2.7-1.4 2.3-.2 1.9z"/><path fill="#42ccc6" d="M410.6 233.3l1.1-1.7-1.5-1.5-1.1 1.8z"/><path fill="#6c78f9" d="M471.4 241.4l2.4-2-3.6-2.1-2.4 2.2z"/><path fill="#f9f912" d="M439.7 217.9l.7-.5-1.5-.5-.7.6z"/><path fill="#5dd2b1" d="M397.4 231.5l.9-1.5-1.2-1.3-.9 1.6z"/><path fill="#93d57e" d="M386.9 229.6l1.1-1.6-1.5-1.9-1.1 1.8z"/><path fill="#60d2ab" d="M395.7 231.7l1.1-1.8-1.5-1.6-1.1 1.9z"/><path fill="#3fc0de" d="M421.2 234.9l1.4-2-2-1.7-1.4 2.2z"/><path fill="#57cfb7" d="M400.1 232.4l1.1-1.8-1.5-1.6-1.1 1.9z"/><path fill="#69d5a2" d="M392.8 231l1-1.4-1.3-1.3-.9 1.5z"/><path fill="#45ccc3" d="M404.5 233l1.1-1.8-1.5-1.5-1.1 1.9z"/><path fill="#c3cf5d" d="M382.1 228.3l1.5-2-1.4-2-1.5 2.3z"/><path fill="#f9f318" d="M438.2 217.2l.7-.1-1.1-.2-.5 4.6z"/><path fill="#4eb4ea" d="M451.3 235.5l2.7-.4-1.7-1.7-2.7.3z"/><path fill="#3cc9cc" d="M432.2 232.1l1-1.9-3.8.9-1 1.6z"/><path fill="#5a96fc" d="M458 238.6l2.6-1.5-1.8-1.5-2.6 1.5z"/><path fill="#9cd578" d="M385.2 229.5l1.1-1.5-1.5-2-1.1 1.7z"/><path fill="#f3c95d" d="M379.1 225.3l1.4.1-1.3-2.4-1.5.2z"/><path fill="#6981fc" d="M464.6 240.4l2.6-1.9-1.8-1.3-2.7 1.9z"/><path fill="#5dd2ae" d="M394 231.8l1.1-1.7-1.5-1.6-1.1 1.8z"/><path fill="#a2d575" d="M435.8 227.1l.3-1.8-1.6 2.3-.4 1.3z"/><path fill="#63d5a8" d="M391.6 231.1l.9-1.4-1.3-1.3-.9 1.4z"/><path fill="#f0c345" d="M437 223.9l.5-3.3-1.3 2.7-.2 2.3z"/><path fill="#51cfbd" d="M398.4 232.6l1.1-1.8-1.5-1.5-1.1 1.8z"/><path fill="#f9f912" d="M440.4 218l.7-.5-1.5-.5-.7.6z"/><path fill="#60d2ab" d="M434.3 229.6l.3-1.5-1.7 1.5-.4 1.1z"/><path fill="#75d596" d="M387.9 230.8l1.1-1.5-1.5-1.8-1.1 1.7z"/><path fill="#3fccc9" d="M403.4 233.7l1-1.6-2.1-2.2-1 1.8z"/><path fill="#f9f615" d="M439.1 218.1l.7-.6-1.4-.4-.7.5z"/><path fill="#39c9cf" d="M407.8 234.2l1-1.5-2.1-2.1-1 1.7z"/><path fill="#39c6d2" d="M410 234.5l1-1.6-2.1-2-1 1.6z"/><path fill="#51cfba" d="M396.7 232.7l1.1-1.7-1.5-1.5-1.1 1.8z"/><path fill="#69d5a2" d="M389.8 231.9l1.4-2.1-2-2.3-1.4 2.3z"/><path fill="#39c6d5" d="M412.2 234.7l1-1.5-2.1-2-1 1.6z"/><path fill="#3cc3db" d="M414.4 234.9l1-1.4-2.1-2-1 1.6z"/><path fill="#45ccc6" d="M401.1 233.4l1.1-1.7-1.5-1.5-1.1 1.8z"/><path fill="#42c0e1" d="M418.8 235.3l.9-1.4-2.1-1.8-.9 1.5z"/><path fill="#a2d575" d="M383.1 229.6l1.5-1.9-1.4-1.8-1.5 2z"/><path fill="#39c9cf" d="M405.5 234l1.1-1.7-1.5-1.5-1.1 1.8z"/><path fill="#57cfb4" d="M392.3 231.9l.9-1.3-1.2-1.3-.9 1.4z"/><path fill="#3cc3db" d="M447.9 232.9l1.5.4-1.3-1.6-1.5-.5z"/><path fill="#f6e424" d="M437.7 221.9l.5-4.7-1.1 4.2-.4 2.5z"/><path fill="#f9f90f" d="M441 217.4l.5 4.3-.9-4.6-.7.2z"/><path fill="#7ed590" d="M386.3 230.7l1-1.5-1.5-1.7-1.1 1.5z"/><path fill="#d5cc54" d="M380.1 226.7l1.4.1-1.3-2.2-1.4 0z"/><path fill="#727bf6" d="M479.5 241.6l2.4-2.2-3.7-.9-2.3 2.2z"/><path fill="#42c0e1" d="M416.1 235.6l1.5-2-2.1-1.8-1.4 2.2z"/><path fill="#4ecfc0" d="M395 232.9l1.1-1.7-1.5-1.5-1.1 1.7z"/><path fill="#d5cc5a" d="M436.8 225.3l.2-2.2-1.5 2.9-.3 1.5z"/><path fill="#3fc9c9" d="M399.4 233.6l1.1-1.7-1.5-1.5-1.1 1.8z"/><path fill="#48bae4" d="M422.7 235.7l1.4-1.8-2-1.4-1.4 2z"/><path fill="#81d58d" d="M435.3 228.4l.3-1.7-1.7 2-.3 1.2z"/><path fill="#48bde4" d="M427 235.4l1.2-1.6-3.8-1.6-1.2 1.8z"/><path fill="#f9f912" d="M439.9 218.2l.7-.5-1.5-.5-.7.6z"/><path fill="#57cfb7" d="M433.7 230.6l.4-1.4-1.7 1.2-.4 1.1z"/><path fill="#54abf0" d="M452.9 236.7l2.6-.5-1.7-1.7-2.7.5z"/><path fill="#638dff" d="M459.5 239.5l2.6-1.4-1.8-1.4-2.6 1.4z"/><path fill="#6c7bf9" d="M466.1 241.2l2.6-1.8-1.8-1.3-2.7 1.9z"/><path fill="#4ecfc0" d="M393.3 233l1.1-1.6-1.5-1.6-1.1 1.7z"/><path fill="#f9f318" d="M438.4 217.5l.7-.1-1-.2-.6 4.7z"/><path fill="#42c0de" d="M449 233.8l1.4.3-1.3-1.5-1.5-.4z"/><path fill="#4bb7e7" d="M420.2 236.3l1.4-1.9-2-1.5-1.4 2z"/><path fill="#63d2a8" d="M387.3 231.8l1-1.4-1.5-1.7-1.1 1.5z"/><path fill="#39c3d8" d="M402.7 234.8l1-1.5-2.1-2-1 1.6z"/><path fill="#b4d266" d="M381.1 227.9l1.4.3-1.3-2.1-1.4-.2z"/><path fill="#3cc3db" d="M404.9 235l1-1.4-2.1-2-1 1.6z"/><path fill="#3fc3db" d="M407.1 235.3l1-1.5-2.1-1.9-1 1.6z"/><path fill="#f9f90f" d="M440.7 218.4l.6-.6-1.4-.5-.7.6z"/><path fill="#39c3d8" d="M431.1 233.6l1.1-1.8-3.8.5-1.1 1.6z"/><path fill="#42c0e1" d="M409.3 235.5l1-1.4-2.1-1.9-1 1.5z"/><path fill="#3cc9cc" d="M396 233.8l1.1-1.5-1.5-1.5-1.1 1.7z"/><path fill="#f6cf45" d="M437.8 223.2l.2-3.1-1.4 3.8-.4 1.9z"/><path fill="#4ecfbd" d="M391.3 233.5l1.4-2-2-2.1-1.4 2.1z"/><path fill="#48bae4" d="M413.7 236l1-1.4-2.1-1.9-1 1.5z"/><path fill="#36c6d5" d="M400.4 234.5l1.1-1.6-1.5-1.4-1.1 1.7z"/><path fill="#c9cf5a" d="M436.3 226.9l.2-1.9-1.5 2.4-.4 1.4z"/><path fill="#39c9cf" d="M397.9 234.7l1.4-2.1-2-2-1.4 2.3z"/><path fill="#66d5a5" d="M434.7 229.5l.4-1.5-1.7 1.6-.4 1.2z"/><path fill="#f9f615" d="M439.4 218.4l.7-.6-1.5-.4-.7.6z"/><path fill="#4ecfbd" d="M433.2 231.5l.4-1.4-1.7 1-.5 1.2z"/><path fill="#6c6ff0" d="M474.4 242.5l2.4-1.9-3.6-1.6-2.4 2z"/><path fill="#48bde4" d="M411.1 236.3l1.4-2.1-2-1.8-1.5 2.2z"/><path fill="#39c9cc" d="M394.3 233.9l1.1-1.5-1.5-1.5-1.1 1.6z"/><path fill="#4eb7e7" d="M417.7 236.7l1.4-1.9-2.1-1.6-1.4 2.1z"/><path fill="#57a2f6" d="M454.4 237.8l2.6-.6-1.7-1.6-2.7.5z"/><path fill="#51cfba" d="M388.8 233.3l1.4-1.8-2-2.1-1.5 1.9z"/><path fill="#6984fc" d="M461 240.4l2.6-1.3-1.8-1.4-2.6 1.4z"/><path fill="#96d57e" d="M382.1 229.1l1.4.3-1.3-2-1.4-.2z"/><path fill="#f6e721" d="M438.6 219.8l.4-2.2-1.6 3.1-.2 2.9z"/><path fill="#7bd593" d="M383.5 230.7l2.6-.9-1.8-2.5-2.6 1.2z"/><path fill="#f9f912" d="M440.1 218.5l.7-.5-1.4-.5-.7.6z"/><path fill="#edc95a" d="M437.3 225.1l.2-2.3-1.5 2.9-.4 1.6z"/><path fill="#4eb4ea" d="M415.1 237.1l1.4-1.9-2-1.7-1.4 2.1z"/><path fill="#96d57e" d="M435.8 228.2l.2-1.7-1.6 2.1-.3 1.3z"/><path fill="#51b1ea" d="M421.7 237l1.4-1.8-2-1.2-1.4 1.9z"/><path fill="#5dd2ae" d="M434.2 230.6l.4-1.5-1.8 1.4-.3 1.2z"/><path fill="#42bde1" d="M402 235.8l1-1.4-2.1-1.9-1 1.5z"/><path fill="#4eb4ea" d="M426 236.6l1.1-1.6-3.7-1.4-1.2 1.7z"/><path fill="#48bde4" d="M404.2 236.1l1-1.4-2.1-1.9-1 1.5z"/><path fill="#4bb7e7" d="M408.6 236.5l1-1.3-2.1-1.9-1 1.5z"/><path fill="#39c3d8" d="M395.4 234.8l1-1.4-1.5-1.4-1.1 1.5z"/><path fill="#39c6d2" d="M392.8 234.9l1.4-1.9-2-2-1.4 2z"/><path fill="#f9f90f" d="M440.7 217.9l.8 2.5-1-2.9-1 .5z"/><path fill="#42c0de" d="M399.4 236l1.4-2-2-1.8-1.4 2.1z"/><path fill="#6c72f3" d="M469.4 242.6l2.3-1.7-3.6-1.9-2.4 1.7z"/><path fill="#4bb7e7" d="M406 236.8l1.4-2-2-1.7-1.4 2.1z"/><path fill="#42ccc6" d="M433 232.2l.6-1.6-2.3 1.3-.6 1.3z"/><path fill="#4eb1ea" d="M412.6 237.4l1.4-1.9-2.1-1.7-1.4 2.1z"/><path fill="#f9f315" d="M439.6 218l.6-.1-1.5-.3-.6 2.9z"/><path fill="#f3d536" d="M438.3 223l.2-3.3-1.4 3.8-.4 2.1z"/><path fill="#48bae4" d="M449.1 234.4l2.8.9-1.4-1.5-2.9-1.4z"/><path fill="#48bde4" d="M430.1 235l1.1-1.8-3.9.4-1 1.6z"/><path fill="#c6cf5d" d="M436.8 226.7l.2-2-1.6 2.5-.3 1.5z"/><path fill="#39c9cf" d="M390.3 234.7l1.4-1.6-2-2-1.4 1.7z"/><path fill="#5a96fc" d="M455.9 238.9l2.6-.7-1.7-1.5-2.7.6z"/><path fill="#75d599" d="M435.2 229.5l.3-1.6-1.6 1.7-.4 1.3z"/><path fill="#45bde1" d="M396.9 236.1l1.4-1.8-2.1-1.9-1.4 2z"/><path fill="#5dd2b1" d="M385 232.3l2.6-.8-1.8-2.3-2.6 1z"/><path fill="#51b1ed" d="M410 237.7l1.4-1.9-2-1.7-1.4 2.1z"/><path fill="#54abf0" d="M416.6 238l1.4-1.8-2-1.4-1.4 1.9zM420.8 238.2l1.3-1.6-3.7-2.1-1.3 1.7z"/><path fill="#4eb4ea" d="M403.5 237l1-1.3-2.1-1.8-1 1.4z"/><path fill="#f9f615" d="M440.4 218.8l.7-.5-1.5-.5-.7.6z"/><path fill="#45bde1" d="M394.3 236.1l1.4-1.7-2-1.8-1.4 1.8z"/><path fill="#6c78f9" d="M464.3 242.1l2.3-1.3-3.6-2.2-2.3 1.3z"/><path fill="#f6e724" d="M439 219.2l.5-1.3-1.6 2-.2 3.4z"/><path fill="#4eb4ea" d="M400.9 237.2l1.4-1.8-2-1.8-1.4 2z"/><path fill="#e7cc5a" d="M437.8 224.9l.2-2.4-1.5 2.9-.4 1.8z"/><path fill="#51aeed" d="M407.5 238l1.4-1.9-2-1.7-1.4 2z"/><path fill="#36c6d2" d="M432.3 233.4l.6-1.6-2.3 1-.6 1.4z"/><path fill="#9cd578" d="M436.2 228.1l.3-1.7-1.6 2-.3 1.4z"/><path fill="#6f6ced" d="M477.5 243l2.3-1.9-3.6-.9-2.4 1.9z"/><path fill="#5ad2b4" d="M434.5 230.9l.6-1.8-2.3 2-.5 1.4z"/><path fill="#54a8f0" d="M414.1 238.4l1.4-1.8-2.1-1.5-1.4 1.9z"/><path fill="#54abf0" d="M424.9 237.8l1.2-1.6-3.7-1.2-1.2 1.6z"/><path fill="#4eb4ea" d="M450.6 235.9l2.8.6-1.5-1.7-2.8-.9z"/><path fill="#f9f90f" d="M441.2 218.3l.4 1.6-1.1-2-.8.4z"/><path fill="#42c0de" d="M391.8 236l1.4-1.6-2-1.8-1.4 1.6z"/><path fill="#638dff" d="M457.4 239.9l2.7-.7-1.8-1.5-2.7.7z"/><path fill="#4eb4ea" d="M398.4 237.3l1.4-1.7-2.1-1.8-1.4 1.9z"/><path fill="#51abf0" d="M405 238.2l1.4-1.9-2.1-1.6-1.4 2z"/><path fill="#f9f315" d="M439.9 218.4l.6-.1-1.3-.4-.6 2.1z"/><path fill="#42ccc6" d="M386.5 233.8l2.6-.8-1.8-2.1-2.6.8z"/><path fill="#54a5f3" d="M411.5 238.7l1.4-1.8-2-1.5-1.4 1.9z"/><path fill="#f6db33" d="M438.7 222.8l.2-3.6-1.3 4.1-.4 2.1z"/><path fill="#cccf5a" d="M437.2 226.6l.3-2.1-1.6 2.5-.3 1.6z"/><path fill="#4eb4ea" d="M429.1 236.4l1-1.7-3.8.1-1.1 1.6z"/><path fill="#81d58d" d="M435.7 229.4l.3-1.6-1.7 1.8-.3 1.3z"/><path fill="#4eb4ea" d="M395.8 237.3l1.4-1.6-2-1.7-1.4 1.7z"/><path fill="#54abf0" d="M402.4 238.3l1.4-1.7-2-1.7-1.4 1.9z"/><path fill="#6c69ea" d="M472.4 243.6l2.3-1.6-3.6-1.5-2.3 1.7z"/><path fill="#f9f90f" d="M440.6 219.2l.7-.6-1.5-.5-.7.6z"/><path fill="#3fc3db" d="M431.6 234.4l.7-1.5-2.3.8-.7 1.4z"/><path fill="#57a5f3" d="M409 239l1.4-1.8-2-1.5-1.4 1.9z"/><path fill="#48ccc3" d="M433.8 232.2l.6-1.7-2.3 1.6-.5 1.4z"/><path fill="#579ff9" d="M415.6 239.3l1.4-1.8-2.1-1.3-1.3 1.8z"/><path fill="#579ff6" d="M419.8 239.4l1.2-1.5-3.7-2-1.2 1.7z"/><path fill="#f9ed1b" d="M439.5 220.1l.2-1.8-1 .9-.5 3.9z"/><path fill="#54a8f0" d="M452.2 237.2l2.7.4-1.5-1.6-2.8-.7z"/><path fill="#4eb7e7" d="M393.3 237.2l1.4-1.5-2-1.7-1.4 1.5z"/><path fill="#6984fc" d="M458.9 240.8l2.7-.7-1.8-1.4-2.7.7z"/><path fill="#f3cc5a" d="M438.2 224.8l.3-2.6-1.5 3-.4 1.8z"/><path fill="#54abf0" d="M399.9 238.4l1.4-1.6-2.1-1.7-1.4 1.8z"/><path fill="#b1d269" d="M436.7 228.1l.3-1.9-1.6 2.1-.4 1.5z"/><path fill="#57a2f6" d="M406.5 239.2l1.4-1.7-2.1-1.6-1.4 1.9z"/><path fill="#f9f90f" d="M441.3 218.5l.5 2-1.1-2.3-.8.4z"/><path fill="#66d5a5" d="M435.2 230.6l.3-1.6-1.7 1.6-.3 1.3z"/><path fill="#39c3d8" d="M388 235.2l2.6-.8-1.8-2-2.6.8z"/><path fill="#579ff9" d="M413.1 239.6l1.3-1.7-2-1.4-1.4 1.8z"/><path fill="#57a2f6" d="M423.9 239l1.2-1.6-3.8-1.1-1.2 1.6z"/><path fill="#f9f315" d="M440 218.6l.7 0-1.2-.4-.7 2.5z"/><path fill="#54abf0" d="M397.3 238.4l1.4-1.5-2-1.7-1.4 1.7z"/><path fill="#6c6cf0" d="M467.3 243.4l2.4-1.2-3.7-1.9-2.3 1.3z"/><path fill="#57a2f6" d="M403.9 239.4l1.4-1.7-2-1.5-1.4 1.7z"/><path fill="#42c0de" d="M448.9 234.3l1.4.6-1.2-1.7-1.5-.8z"/><path fill="#f3db33" d="M438.7 223.5l.5-3.7-1.3 2.7-.2 2.7z"/><path fill="#5a9cf9" d="M410.5 239.9l1.4-1.7-2-1.4-1.4 1.8z"/><path fill="#39c9cc" d="M433.1 233.4l.6-1.6-2.3 1.4-.5 1.3z"/><path fill="#d8cc5d" d="M437.7 226.5l.3-2.2-1.6 2.5-.3 1.7z"/><path fill="#8ad587" d="M436.2 229.4l.3-1.7-1.7 1.8-.3 1.4z"/><path fill="#54abf0" d="M428 237.7l1.1-1.7-3.8 0-1.1 1.6z"/><path fill="#f9f912" d="M440.8 219.5l.7-.6-1.4-.5-.7.6z"/><path fill="#5ad2b4" d="M434.7 231.7l.3-1.5-1.7 1.3-.4 1.3z"/><path fill="#579ff9" d="M453.7 238.4l2.8.2-1.7-1.6-2.7-.3z"/><path fill="#51aeed" d="M394.8 238.3l1.4-1.4-2-1.6-1.4 1.4z"/><path fill="#57a2f6" d="M401.4 239.5l1.4-1.6-2.1-1.6-1.4 1.7z"/><path fill="#f3e721" d="M439.7 221l.3-2.4-1 1.2-.6 3.7z"/><path fill="#5a99fc" d="M408 240.2l1.4-1.7-2.1-1.4-1.4 1.7z"/><path fill="#48bae4" d="M389.5 236.5l2.6-.8-1.8-1.9-2.6.8z"/><path fill="#5d96fc" d="M414.6 240.4l1.3-1.6-2-1.3-1.4 1.8zM418.8 240.5l1.2-1.5-3.7-1.8-1.2 1.6z"/><path fill="#45c0e1" d="M449.9 235.3l1.4.5-1.3-1.6-1.4-.7z"/><path fill="#f9f90f" d="M441.5 218.8l.5 2.3-1-2.6-.8.4z"/><path fill="#3fc0de" d="M432.1 235l1-1.9-3.8 1.7-1 1.6z"/><path fill="#f6cc5d" d="M438.7 224.7l.2-2.7-1.5 3-.3 1.9z"/><path fill="#6c78f9" d="M462.2 242.5l2.4-.7-3.7-2.2-2.3.7z"/><path fill="#bad263" d="M437.2 228l.3-1.9-1.7 2.1-.3 1.5z"/><path fill="#57a2f6" d="M398.9 239.5l1.3-1.5-2-1.6-1.4 1.6z"/><path fill="#6fd59f" d="M435.7 230.6l.3-1.6-1.7 1.6-.3 1.3z"/><path fill="#5a99fc" d="M405.4 240.3l1.4-1.5-2-1.5-1.4 1.7z"/><path fill="#f9f018" d="M440.2 218.9l.7 0-1.2-.4-.6 2.8z"/><path fill="#51cfbd" d="M434.1 232.7l.4-1.5-1.7 1.2-.4 1.3z"/><path fill="#6c63e4" d="M475.4 244.2l2.3-1.6-3.6-1-2.3 1.6z"/><path fill="#5a96fc" d="M422.9 240.1l1.1-1.5-3.7-1.1-1.2 1.6z"/><path fill="#5d96fc" d="M455.2 239.6l2.8 0-1.7-1.5-2.8-.2z"/><path fill="#57a5f6" d="M396.3 239.4l1.4-1.4-2-1.5-1.4 1.4z"/><path fill="#5a96fc" d="M402.9 240.4l1.4-1.5-2.1-1.4-1.3 1.6z"/><path fill="#f3e421" d="M439.7 222.3l.2-3.5-1.4 4-.4 2.2z"/><path fill="#f9f912" d="M441.1 219.8l.7-.6-1.5-.4-.7.5z"/><path fill="#6090ff" d="M409.5 241l1.4-1.5-2.1-1.4-1.4 1.7z"/><path fill="#e7c95a" d="M438.2 226.4l.3-2.2-1.6 2.5-.3 1.7z"/><path fill="#6390ff" d="M413.7 241.4l1.2-1.4-3.7-2.1-1.2 1.5z"/><path fill="#51b1ea" d="M391 237.7l2.7-.9-1.9-1.7-2.6.9z"/><path fill="#a2d575" d="M436.7 229.4l.3-1.8-1.7 1.9-.3 1.4z"/><path fill="#5dd2ae" d="M435.2 231.7l.3-1.5-1.7 1.4-.4 1.3z"/><path fill="#57a2f6" d="M427 238.9l1.1-1.6-3.9-.1-1 1.6z"/><path fill="#f9f90f" d="M441.6 219.1l.8 3.4-.9-3.8-1 .4z"/><path fill="#5a99fc" d="M400.4 240.5l1.3-1.5-2-1.4-1.4 1.5z"/><path fill="#6c63e7" d="M470.3 244.4l2.4-1.2-3.7-1.5-2.3 1.3z"/><path fill="#638dff" d="M407 241.2l1.3-1.5-2-1.4-1.4 1.6z"/><path fill="#42ccc6" d="M434 233.5l.5-1.7-2.2 1.5-.6 1.5z"/><path fill="#668aff" d="M417.8 241.5l1.2-1.3-3.8-1.7-1.2 1.5z"/><path fill="#f9f018" d="M440.5 219.2l.6-.1-1.4-.3-.6 3.8z"/><path fill="#f6d251" d="M439.2 224.5l.2-2.7-1.5 3.1-.3 1.9z"/><path fill="#4bb7e7" d="M450 235.6l2.8 1.5-1.4-1.4-2.9-2.1z"/><path fill="#4eb4ea" d="M431.1 236.6l1-1.9-3.9 1.4-1 1.6z"/><path fill="#c9cf5a" d="M437.7 227.9l.3-1.9-1.7 2.1-.3 1.6z"/><path fill="#668aff" d="M456.7 240.6l2.8 0-1.7-1.5-2.8 0z"/><path fill="#7bd593" d="M436.2 230.6l.3-1.7-1.7 1.7-.3 1.4z"/><path fill="#5a99fc" d="M397.8 240.4l1.4-1.3-2-1.5-1.4 1.3z"/><path fill="#6390ff" d="M404.4 241.3l1.4-1.4-2.1-1.4-1.3 1.5z"/><path fill="#54a8f3" d="M392.5 238.9l2.7-.9-1.8-1.7-2.7.9z"/><path fill="#638dff" d="M421.8 241.2l1.2-1.5-3.8-1-1.1 1.5z"/><path fill="#f9f912" d="M441.3 220.1l.7-.6-1.5-.4-.7.5z"/><path fill="#6c6cf0" d="M465.3 243.9l2.3-.8-3.7-1.8-2.3.7z"/><path fill="#f3e721" d="M440.2 221.7l.2-2.5-1.5 3.2-.3 2.5z"/><path fill="#638dff" d="M401.9 241.4l1.4-1.4-2.1-1.4-1.4 1.4z"/><path fill="#6987ff" d="M408.5 242l1.3-1.4-2-1.3-1.4 1.5z"/><path fill="#39c6d5" d="M433.3 234.7l.5-1.6-2.2 1.3-.6 1.4z"/><path fill="#a5d572" d="M437.2 229.3l.3-1.8-1.7 1.9-.3 1.5z"/><path fill="#6984fc" d="M412.7 242.4l1.2-1.3-3.7-2-1.3 1.5z"/><path fill="#5dd2b1" d="M435.5 232l.5-1.8-2.2 2-.6 1.5z"/><path fill="#5a99fc" d="M425.9 240.1l1.1-1.5-3.8-.2-1.1 1.5z"/><path fill="#51b1ed" d="M451.5 237.2l2.8 1.1-1.4-1.5-2.9-1.5z"/><path fill="#f9f912" d="M441.9 219.4l.6 2.8-1-3.1-.8.4z"/><path fill="#6984fc" d="M458.2 241.6l2.8-.2-1.7-1.3-2.8 0z"/><path fill="#6090ff" d="M399.3 241.3l1.4-1.3-2.1-1.4-1.3 1.3z"/><path fill="#6987ff" d="M405.9 242.2l1.4-1.4-2.1-1.3-1.3 1.4z"/><path fill="#f9f015" d="M440.7 219.5l.7-.1-1.2-.2-.6 3.2z"/><path fill="#6984fc" d="M416.7 242.5l1.2-1.3-3.7-1.6-1.2 1.5z"/><path fill="#579ff9" d="M394 240l2.7-1-1.8-1.5-2.7.9z"/><path fill="#f9d554" d="M439.7 224.5l.2-3-1.5 3.2-.3 2z"/><path fill="#d2cf5a" d="M438.2 227.9l.2-2-1.6 2.2-.3 1.6z"/><path fill="#54abf0" d="M430 238.1l1-1.8-3.8 1.1-1 1.5z"/><path fill="#8ad587" d="M436.7 230.6l.3-1.7-1.7 1.7-.3 1.4z"/><path fill="#6987ff" d="M403.4 242.2l1.4-1.3-2.1-1.3-1.4 1.3z"/><path fill="#6f66e1" d="M473.4 245l2.3-1.3-3.7-.9-2.3 1.3z"/><path fill="#f9f912" d="M441.5 220.4l.7-.6-1.4-.4-.7.5z"/><path fill="#42c0de" d="M432.6 235.8l.6-1.5-2.3 1.1-.6 1.4z"/><path fill="#48ccc3" d="M434.8 233.4l.5-1.7-2.2 1.7-.6 1.5z"/><path fill="#6984fc" d="M420.8 242.2l1.2-1.4-3.8-1-1.2 1.4z"/><path fill="#f3ed1b" d="M440.2 222.9l.4-3.4-1 2-.5 3.3z"/><path fill="#57a5f3" d="M453 238.6l2.9.8-1.5-1.4-2.9-1.2z"/><path fill="#6c7bf9" d="M459.7 242.5l2.8-.3-1.7-1.3-2.8.2z"/><path fill="#f3cc5d" d="M439.2 226.3l.2-2.4-1.6 2.6-.3 1.8z"/><path fill="#6987ff" d="M400.9 242.1l1.3-1.1-2.1-1.4-1.3 1.2z"/><path fill="#b4d266" d="M437.7 229.3l.2-1.8-1.6 1.9-.3 1.5z"/><path fill="#6c7efc" d="M407.4 242.9l1.4-1.3-2.1-1.2-1.3 1.4z"/><path fill="#f9f912" d="M442.1 219.7l.6 3.1-1-3.4-.8.4z"/><path fill="#6cd59f" d="M436.1 231.8l.4-1.6-1.7 1.5-.4 1.4z"/><path fill="#6c7efc" d="M411.7 243.3l1.1-1.2-3.7-1.9-1.2 1.3z"/><path fill="#5d96fc" d="M395.5 241l2.7-1-1.8-1.5-2.7 1z"/><path fill="#638dff" d="M424.9 241.2l1.1-1.4-3.8-.3-1.1 1.5z"/><path fill="#f9f315" d="M440.9 219.8l.7-.1-1.2-.2-.6 3.4z"/><path fill="#6c63e7" d="M468.3 245l2.3-.9-3.7-1.5-2.3.9z"/><path fill="#f3d848" d="M439.6 225.2l.5-3.2-1.2 2-.3 2.6z"/><path fill="#39c9cf" d="M434.1 234.7l.5-1.7-2.2 1.6-.6 1.4z"/><path fill="#6c7bf9" d="M415.7 243.5l1.2-1.3-3.8-1.5-1.2 1.3z"/><path fill="#e1cc57" d="M438.7 227.9l.2-2.1-1.6 2.2-.3 1.7z"/><path fill="#8dd584" d="M437.1 230.6l.3-1.7-1.6 1.7-.4 1.5z"/><path fill="#57a2f6" d="M429 239.4l1-1.7-3.8.9-1 1.5z"/><path fill="#f9f912" d="M441.8 220.7l.7-.5-1.5-.5-.7.6z"/><path fill="#4bb7e7" d="M431.3 237.6l1.2-2.2-2.1.7-1.1 2.1z"/><path fill="#5ad2b4" d="M435.6 232.9l.4-1.6-1.8 1.4-.3 1.4z"/><path fill="#5a99fc" d="M454.5 239.8l2.9.7-1.5-1.5-2.9-.9z"/><path fill="#6981fc" d="M402.4 242.9l1.3-1.1-2.1-1.3-1.3 1.2z"/><path fill="#f0ea1e" d="M440.4 223.4l.5-3.6-1.2 2.3-.3 3.1z"/><path fill="#6c7bfc" d="M419.8 243.2l1.1-1.3-3.8-1-1.1 1.3z"/><path fill="#668dff" d="M397 242l2.7-1.1-1.8-1.4-2.7 1.1z"/><path fill="#4bbae7" d="M450.8 236.6l1.4.7-1.2-1.7-1.5-.8z"/><path fill="#edc95a" d="M439.2 227l.4-2.7-1.2 1.6-.4 2.3z"/><path fill="#fcde57" d="M442.4 220.1l.5 3.2-.9-3.6-.8.4z"/><path fill="#6c72f3" d="M463.2 244.1l2.3-.5-3.7-1.9-2.2.3z"/><path fill="#bad263" d="M438.1 229.3l.3-1.9-1.6 2-.3 1.6z"/><path fill="#75d596" d="M436.6 231.8l.3-1.6-1.7 1.5-.3 1.5z"/><path fill="#f9f615" d="M441.1 220.1l.7-.1-1.1-.2-.6 3.6z"/><path fill="#4bccc0" d="M435.1 233.9l.4-1.5-1.8 1.2-.3 1.4z"/><path fill="#6c75f6" d="M410.6 244.1l1.2-1.1-3.7-1.7-1.2 1.1z"/><path fill="#6984fc" d="M423.9 242.3l1.1-1.4-3.9-.3-1.1 1.4z"/><path fill="#6c7bf9" d="M405.4 244.4l2.4-1.9-3.6-2-2.4 2z"/><path fill="#f3d84b" d="M439.9 225.6l.5-3.1-1.2 1.9-.4 2.6z"/><path fill="#3fc0de" d="M432.8 236.7l1.2-2.4-2.1 1-1.1 2.3z"/><path fill="#6090ff" d="M456.1 241l2.8.4-1.5-1.4-2.9-.6z"/><path fill="#decc57" d="M438.7 228.6l.5-2.4-1.3 1.3-.4 2.2z"/><path fill="#4eb4ea" d="M452.6 238l1.1.6-2.1-2-1.1-.7z"/><path fill="#f9f912" d="M442 221l.7-.5-1.5-.5-.7.6z"/><path fill="#9fd578" d="M437.6 230.6l.3-1.7-1.7 1.7-.3 1.5z"/><path fill="#5ad2b1" d="M436.1 233l.3-1.6-1.7 1.4-.3 1.4z"/><path fill="#5d96fc" d="M428 240.7l1-1.6-3.9.6-1 1.5z"/><path fill="#edea21" d="M440.6 223.9l.5-3.8-1.2 2.6-.3 2.9z"/><path fill="#51aeed" d="M430.3 239.1l1.2-2.1-2.1.6-1.2 1.9z"/><path fill="#6960de" d="M471.3 245.6l2.3-.9-3.7-1-2.3.9z"/><path fill="#f6cc5d" d="M439.4 227.4l.5-2.7-1.2 1.5-.4 2.4z"/><path fill="#3fc9c9" d="M434.9 234.7l.5-1.7-2.2 1.7-.5 1.4z"/><path fill="#6c75f6" d="M418.8 244.1l1.1-1.2-3.8-1-1.1 1.3z"/><path fill="#6981fc" d="M400.3 243.7l2.4-1.1-3.6-2.2-2.4 1.1z"/><path fill="#cccf57" d="M438.2 230l.5-2.2-1.3 1.1-.4 2.1z"/><path fill="#f6f015" d="M441.3 220.4l.7-.1-1.1-.2-.6 3.8z"/><path fill="#6c72f3" d="M413.5 245.2l2.4-2.1-3.6-1.5-2.4 2.2z"/><path fill="#6987ff" d="M457.6 242l2.8.3-1.6-1.3-2.8-.5z"/><path fill="#78d596" d="M437.1 231.9l.3-1.7-1.7 1.6-.3 1.4z"/><path fill="#f6d251" d="M440.1 226l.5-3-1.2 1.8-.4 2.6z"/><path fill="#57a2f6" d="M454.1 239.4l1.2.4-2.2-1.8-1.1-.6z"/><path fill="#6c7efc" d="M422.8 243.3l1.1-1.3-3.8-.3-1.1 1.3z"/><path fill="#decc54" d="M438.9 228.9l.5-2.3-1.2 1.2-.5 2.2z"/><path fill="#4eb7e7" d="M431.8 238.3l1.1-2.2-2.1.8-1.1 2.1z"/><path fill="#6c69ea" d="M466.3 245.2l2.2-.5-3.7-1.5-2.3.4z"/><path fill="#a2d572" d="M437.6 231.3l.6-2.1-1.3 1-.5 2z"/><path fill="#4eb1ea" d="M451.6 237.2l1.1.8-2.1-2.2-1.1-.9z"/><path fill="#ede72a" d="M440.8 224.4l.5-4-1.3 3-.2 2.6z"/><path fill="#39c6d5" d="M434.2 235.9l.6-1.6-2.3 1.5-.5 1.4z"/><path fill="#60d2ab" d="M436.4 233.3l.5-1.9-2.2 2-.5 1.6z"/><path fill="#638dff" d="M426.9 241.9l1.1-1.5-3.9.5-1 1.3z"/><path fill="#f6c95d" d="M439.6 227.7l.5-2.5-1.2 1.4-.4 2.3z"/><path fill="#6c6ff0" d="M408.4 245.5l2.4-1.7-3.6-1.7-2.4 1.9z"/><path fill="#f9f912" d="M442.8 220.7l.6 3.5-1-3.8-.7.3z"/><path fill="#c6cf5a" d="M438.4 230.3l.5-2.2-1.3 1.2-.4 2z"/><path fill="#f6f315" d="M441.5 220.7l.8 0-1.1-.3-.6 4z"/><path fill="#f6db4e" d="M440.4 226.4l.5-2.9-1.2 1.7-.4 2.6z"/><path fill="#54a5f3" d="M431 239.5l1-1.8-3.9 1.6-.9 1.5z"/><path fill="#6c7bf9" d="M461.2 243.8l2.2 0-3.7-2-2.2-.3z"/><path fill="#7ed590" d="M437.2 232.6l.7-2.4-1.5 1.2-.7 2.3z"/><path fill="#eac957" d="M439.1 229.3l.5-2.4-1.2 1.3-.4 2.1z"/><path fill="#51aeed" d="M453.1 238.7l1.1.6-2.1-2-1.1-.8z"/><path fill="#f9f912" d="M442.5 221.7l.7-.6-1.5-.5-.7.6z"/><path fill="#42c0e1" d="M433.5 237.1l.6-1.5-2.3 1.3-.6 1.4z"/><path fill="#4ecfc0" d="M435.7 234.7l.6-1.8-2.3 1.8-.5 1.5z"/><path fill="#6c75f6" d="M421.8 244.2l1.1-1.2-3.8-.3-1.1 1.2z"/><path fill="#7278f6" d="M403.3 245.2l2.4-1.2-3.6-1.9-2.4 1.1z"/><path fill="#eae136" d="M441 224.8l.6-4.1-1.3 3.4-.2 2.3z"/><path fill="#579ff9" d="M453.9 239.7l2.9 1.2-1.4-1.3-2.9-1.6z"/><path fill="#6c6cf0" d="M416.5 245.8l2.4-2.1-3.7-1-2.3 2.1z"/><path fill="#f9cc60" d="M439.9 228.1l.5-2.5-1.2 1.4-.5 2.3z"/><path fill="#f9ed24" d="M443.2 221.6l.4 3.1-.9-4-.8.2z"/><path fill="#a2d575" d="M438.2 231.4l.7-2.5-1.5 1.4-.7 2.3z"/><path fill="#6984fc" d="M425.9 243l1-1.5-3.8.4-1.1 1.3z"/><path fill="#f6f018" d="M441.9 221.7l.6-.8-1.1-.2-.6 4.1z"/><path fill="#60d2ab" d="M436.5 234.1l.7-2.3-1.5 1.1-.7 2.1z"/><path fill="#6c63e4" d="M469.3 246l2.2-.7-3.7-1-2.2.5z"/><path fill="#48bde4" d="M450.7 236.8l1.4.8-.9-1.5-1.7-1.2z"/><path fill="#f9d557" d="M440.6 226.8l.5-2.8-1.2 1.7-.4 2.4z"/><path fill="#39c9cf" d="M435 236l.6-1.7-2.3 1.6-.5 1.4z"/><path fill="#5a9cf9" d="M430 240.8l.9-1.6-3.8 1.3-1 1.4z"/><path fill="#f9f612" d="M442.7 221.3l.7.9-1.3-1.3-.8 1.4z"/><path fill="#cfcf5a" d="M439.2 230.1l.7-2.8-1.5 1.6-.6 2.5z"/><path fill="#4eb4ea" d="M432.3 239l1.1-2.3-2.1.9-1.1 2.1z"/><path fill="#6c66ea" d="M411.4 246.4l2.4-1.7-3.6-1.3-2.4 1.8z"/><path fill="#5d96fc" d="M455.4 241l2.9.9-1.4-1.2-2.9-1.3z"/><path fill="#eae72a" d="M441.3 225.3l.5-3.7-1.3 2.7-.2 2.5z"/><path fill="#7bd593" d="M437.5 233l.7-2.3-1.5 1.2-.7 2.2z"/><path fill="#4bb7e7" d="M451.7 237.9l1.5.7-1.1-1.7-1.6-.8z"/><path fill="#6c72f3" d="M464.2 245.1l2.2-.2-3.7-1.6-2.2 0z"/><path fill="#51cfbd" d="M435.8 235.4l.8-2.1-1.6 1-.7 2z"/><path fill="#f9f315" d="M442.3 222.4l.4-1.2-1.1.4-.6 3.7z"/><path fill="#6c7bf9" d="M424.8 244l1.1-1.3-3.9.2-1 1.2z"/><path fill="#6f6ced" d="M406.4 246.3l2.3-1.1-3.6-1.7-2.4 1.2z"/><path fill="#fcd260" d="M440.8 227.2l.5-2.8-1.2 1.7-.4 2.4z"/><path fill="#a8d56f" d="M438.5 231.9l.7-2.6-1.5 1.4-.6 2.3z"/><path fill="#3fc3db" d="M433.8 238l1.1-2.4-2.1 1.1-1.1 2.2z"/><path fill="#5d93fc" d="M456.9 242.1l2.9.7-1.4-1.2-3-1z"/><path fill="#6c6cf0" d="M419.5 246.1l2.4-2.2-3.7-.5-2.3 2.1z"/><path fill="#e1cc54" d="M439.6 230l.5-2.3-1.2 1.2-.5 2.1z"/><path fill="#51aeed" d="M453.6 239.2l1.1.7-2.2-1.9-1-.9z"/><path fill="#f9f912" d="M442.8 221.5l.8 1.4-1.2-1.7-.8 1.8z"/><path fill="#63d2ab" d="M436.8 234.5l.7-2.2-1.5 1.1-.7 2z"/><path fill="#6090ff" d="M428.9 242.1l1-1.6-3.8 1.1-1 1.4z"/><path fill="#ede433" d="M441.5 225.8l.5-3.5-1.2 2.3-.3 2.7z"/><path fill="#54abf0" d="M431.3 240.4l1.1-2.1-2.1.8-1.1 1.9z"/><path fill="#f3c95d" d="M440.3 228.9l.5-2.5-1.2 1.4-.4 2.2z"/><path fill="#42ccc9" d="M435.8 235.9l.6-1.6-2.3 1.6-.5 1.5z"/><path fill="#c3cf5d" d="M439.1 231.4l.5-2.2-1.2 1.1-.5 2z"/><path fill="#81d58d" d="M437.8 233.5l.7-2.4-1.5 1.2-.7 2.2z"/><path fill="#f6f018" d="M442.6 223.3l.3-1.8-1.1.8-.5 3.5z"/><path fill="#6c63e7" d="M414.5 247l2.3-1.7-3.7-1-2.3 1.8z"/><path fill="#6984fc" d="M458.4 243l2.9.6-1.4-1.1-3-.8z"/><path fill="#f9d55a" d="M441.1 227.7l.5-2.8-1.2 1.6-.4 2.4z"/><path fill="#54a5f3" d="M455.1 240.5l1.1.6-2.2-1.8-1.1-.7z"/><path fill="#e7c957" d="M439.8 230.4l.5-2.3-1.2 1.2-.4 2.1z"/><path fill="#f9f912" d="M443 221.8l.8 1.8-1.2-2.1-.8 2.1z"/><path fill="#4bb7e7" d="M432.8 239.6l1.1-2.3-2.1 1-1.1 2.1z"/><path fill="#6c69ed" d="M467.3 246l2.2-.3-3.8-1.2-2.2.2z"/><path fill="#a2d575" d="M438.6 232.6l.5-2-1.3 1-.4 1.9z"/><path fill="#f0e43c" d="M441.8 226.2l.5-3.3-1.3 2.2-.3 2.6z"/><path fill="#39c6d5" d="M435.2 237.2l.5-1.6-2.3 1.5-.5 1.4z"/><path fill="#60d2ab" d="M437.4 234.6l.5-1.9-2.3 2-.5 1.6z"/><path fill="#6687ff" d="M427.9 243.2l1-1.4-3.9.9-1 1.3z"/><path fill="#f6c960" d="M440.6 229.3l.5-2.5-1.2 1.3-.5 2.3z"/><path fill="#6c63e4" d="M409.4 247.3l2.3-1.3-3.7-1.3-2.3 1.2z"/><path fill="#6c72f6" d="M422.6 246l2.3-2.4-3.7 0-2.3 2.2z"/><path fill="#c3cf5d" d="M439.3 231.7l.5-2.1-1.2 1-.5 2z"/><path fill="#f0f01b" d="M442.8 224.1l.3-2.3-1 1.1-.6 3.3z"/><path fill="#fcd25d" d="M441.3 228.1l.5-2.7-1.2 1.5-.4 2.4z"/><path fill="#54a5f3" d="M431.9 240.7l1-1.7-3.8 1.8-1 1.4z"/><path fill="#6c7ef9" d="M462.2 244.7l2.2.2-3.8-1.8-2.2-.4z"/><path fill="#7ed590" d="M438.1 233.9l.7-2.3-1.5 1.1-.6 2.2z"/><path fill="#dbcc57" d="M440.1 230.7l.5-2.2-1.3 1.1-.4 2.1z"/><path fill="#54abf0" d="M454 239.8l1.2.7-2.2-1.9-1.1-.9z"/><path fill="#f9f612" d="M443.2 222.1l.8 2.1-1.1-2.4-.8 2.4z"/><path fill="#45bde1" d="M434.5 238.3l.5-1.5-2.2 1.4-.6 1.3z"/><path fill="#4ecfbd" d="M436.7 235.9l.5-1.7-2.2 1.8-.6 1.5z"/><path fill="#f0e145" d="M442 226.7l.5-3.2-1.2 2-.3 2.6z"/><path fill="#57a2f6" d="M454.8 240.7l2.9 1.4-1.4-1.1-2.9-1.8z"/><path fill="#6c66e7" d="M417.5 247.3l2.3-1.7-3.7-.6-2.3 1.7z"/><path fill="#9fd575" d="M439.1 232.8l.7-2.5-1.5 1.3-.6 2.3z"/><path fill="#6c7efc" d="M426.8 244.3l1.1-1.3-3.9.7-1 1.2z"/><path fill="#f3f018" d="M442.9 224.8l.4-2.7-1 1.4-.6 3.2z"/><path fill="#63d5a8" d="M437.5 235.3l.7-2.1-1.6 1-.7 2.1z"/><path fill="#fcd25d" d="M441.5 228.5l.5-2.7-1.2 1.5-.4 2.4z"/><path fill="#39c9cf" d="M436 237.2l.5-1.6-2.2 1.6-.6 1.4z"/><path fill="#5a99f9" d="M430.9 242l1-1.6-3.9 1.6-1 1.4z"/><path fill="#f6f615" d="M443.5 222.4l.7 2.3-1.1-2.6-.7 2.7z"/><path fill="#cccf5a" d="M440.1 231.6l.7-2.7-1.5 1.4-.6 2.5z"/><path fill="#4eb4ea" d="M433.2 240.2l1.1-2.3-2.1 1-1 2.1z"/><path fill="#6f66e1" d="M412.4 247.9l2.3-1.3-3.7-1-2.3 1.3z"/><path fill="#5d93fc" d="M456.3 241.9l2.9 1.1-1.4-1-2.9-1.5z"/><path fill="#f0e145" d="M442.3 227.1l.5-3.1-1.2 1.9-.4 2.6z"/><path fill="#81d590" d="M438.5 234.3l.7-2.3-1.6 1.2-.6 2.1z"/><path fill="#f0c95d" d="M441 230l.5-2.3-1.2 1.2-.4 2.2z"/><path fill="#8d93f9" d="M465.2 245.8l2.2 0-3.8-1.3-2.2-.2z"/><path fill="#51cfba" d="M436.8 236.7l.7-2.1-1.6.9-.7 2z"/><path fill="#eded1e" d="M443.1 225.4l.4-2.9-1 1.5-.5 3.1z"/><path fill="#6c7bf9" d="M425.8 245.2l1-1.2-3.9.7-1 1z"/><path fill="#aed56c" d="M439.5 233.2l.6-2.4-1.5 1.3-.6 2.2z"/><path fill="#42c0de" d="M434.8 239.2l1-2.4-2.1 1.1-1 2.3z"/><path fill="#6090fc" d="M457.8 242.9l3 1-1.5-1-2.9-1.3z"/><path fill="#6c69ed" d="M420.5 247.3l2.3-1.9-3.7-.1-2.3 1.8z"/><path fill="#f6f912" d="M443.7 222.8l.7 2.5-1.1-2.9-.7 2.9z"/><path fill="#60d2ab" d="M437.8 235.8l.7-2.2-1.6 1-.6 2.1z"/><path fill="#6090fc" d="M429.9 243.2l.9-1.4-3.8 1.3-1 1.3z"/><path fill="#f0e148" d="M442.5 227.6l.5-3.1-1.2 1.9-.4 2.5z"/><path fill="#54abf0" d="M432.2 241.6l1.1-2.1-2.1.8-1.1 2z"/><path fill="#edc95a" d="M441.3 230.4l.5-2.3-1.2 1.2-.5 2.2z"/><path fill="#42ccc6" d="M436.8 237.1l.5-1.6-2.2 1.7-.6 1.4z"/><path fill="#bad260" d="M440 232.8l.5-2.1-1.2 1-.5 1.9z"/><path fill="#81d590" d="M438.8 234.8l.7-2.3-1.6 1.1-.6 2.2z"/><path fill="#eded1e" d="M443.3 225.9l.4-3.1-1 1.8-.5 3z"/><path fill="#7269e1" d="M415.5 248.2l2.2-1.3-3.7-.6-2.2 1.3z"/><path fill="#6984fc" d="M459.3 243.7l3 .9-1.5-.9-2.9-1.1z"/><path fill="#fccf60" d="M442 229.3l.5-2.6-1.2 1.4-.4 2.3z"/><path fill="#d5cc57" d="M440.8 231.8l.5-2.2-1.3 1.1-.4 2.1z"/><path fill="#f6f615" d="M443.9 223.1l.7 2.7-1-3-.7 3.1z"/><path fill="#4eb4ea" d="M433.7 240.7l1.1-2.2-2.1 1-1.1 2.1z"/><path fill="#93d57e" d="M439.5 234l.5-2-1.2.9-.5 1.9z"/><path fill="#f0db4e" d="M442.7 228l.5-3-1.2 1.8-.3 2.5z"/><path fill="#39c6d5" d="M436.1 238.3l.5-1.5-2.2 1.5-.6 1.4z"/><path fill="#60d2ab" d="M438.3 235.8l.5-1.8-2.2 1.9-.5 1.6z"/><path fill="#6687ff" d="M428.8 244.3l1-1.3-3.8 1.2-1 1.1z"/><path fill="#6c72f3" d="M423.6 247l2.2-2.1-3.7.3-2.2 1.9z"/><path fill="#bad263" d="M440.3 233.1l.5-2.1-1.3 1-.4 2z"/><path fill="#eaed21" d="M443.5 226.4l.5-3.3-1.2 2-.4 2.9z"/><path fill="#fccf60" d="M442.3 229.7l.5-2.5-1.2 1.3-.5 2.3z"/><path fill="#54a5f3" d="M432.9 241.7l.9-1.6-3.8 2-1 1.3z"/><path fill="#aeb7fc" d="M463.1 245.3l2.2.3-3.8-1.4-2.1-.7z"/><path fill="#7ed590" d="M439.1 235.2l.7-2.3-1.6 1.1-.6 2.2z"/><path fill="#d8cc54" d="M441 232.2l.5-2.2-1.2 1.1-.5 2z"/><path fill="#54a8f0" d="M455 240.8l1.1.7-2.2-1.8-1-.9z"/><path fill="#f6f615" d="M444.1 223.4l.7 2.9-1-3.2-.7 3.3z"/><path fill="#42c0de" d="M435.4 239.4l.6-1.4-2.3 1.4-.6 1.3z"/><path fill="#4ecfc0" d="M437.6 237.1l.5-1.7-2.2 1.8-.6 1.4z"/><path fill="#f3e14e" d="M443 228.4l.5-2.9-1.2 1.7-.4 2.5z"/><path fill="#6c63e4" d="M418.5 248.3l2.2-1.4-3.7-.3-2.2 1.4z"/><path fill="#48bde4" d="M452.4 238.5l1.1.9-2.1-2.1-1-1.2z"/><path fill="#edc95a" d="M441.8 231.2l.5-2.3-1.3 1.1-.4 2.2z"/><path fill="#9fd575" d="M440.1 234.1l.7-2.4-1.6 1.2-.6 2.3z"/><path fill="#eded2a" d="M443.7 226.9l.5-3.5-1.2 2.3-.3 2.7z"/><path fill="#63d5a8" d="M438.4 236.6l.7-2.2-1.6 1.1-.6 1.9z"/><path fill="#f9cc60" d="M442.5 230.1l.5-2.5-1.2 1.3-.5 2.3z"/><path fill="#39c9cf" d="M436.9 238.3l.6-1.5-2.3 1.5-.6 1.4z"/><path fill="#5a9cf9" d="M431.8 243l1-1.5-3.8 1.7-1 1.3z"/><path fill="#cccf57" d="M444.4 223.7l.6 3.1-1-3.4-.6 3.5z"/><path fill="#c9cf5d" d="M441.1 233l.7-2.6-1.5 1.4-.7 2.3z"/><path fill="#4bb7e7" d="M434.2 241.3l1.1-2.2-2.2 1-1 2z"/><path fill="#57a2f6" d="M457.3 242.6l2.9 1.3-1.5-.9-2.9-1.6z"/><path fill="#6c7efc" d="M426.6 246.4l2.2-2.4-3.8.8-2.1 2.1z"/><path fill="#f6de54" d="M443.2 228.8l.5-2.8-1.2 1.7-.4 2.4z"/><path fill="#7ed590" d="M439.4 235.6l.7-2.2-1.5 1.1-.7 2.1z"/><path fill="#edc95a" d="M442 231.5l.5-2.2-1.2 1.1-.5 2.1z"/><path fill="#54cfba" d="M437.7 237.8l.7-2-1.6 1-.6 1.8z"/><path fill="#edf024" d="M443.9 227.4l.5-3.7-1.3 2.6-.2 2.6z"/><path fill="#fccf60" d="M442.7 230.5l.5-2.5-1.2 1.3-.4 2.3z"/><path fill="#aed56c" d="M440.4 234.6l.7-2.4-1.5 1.2-.7 2.2z"/><path fill="#3cc3db" d="M435.7 240.3l1.1-2.3-2.2 1.1-1 2.1z"/><path fill="#6c69ed" d="M421.5 248.1l2.2-1.6-3.8.2-2.1 1.4z"/><path fill="#decc54" d="M441.5 232.9l.5-2.1-1.2 1-.5 2z"/><path fill="#54a8f0" d="M455.5 241.2l1.1.7-2.2-1.8-1.1-.8z"/><path fill="#f6f615" d="M444.6 224l.7 3.3-1-3.6-.7 3.6z"/><path fill="#66d5a5" d="M438.7 236.9l.7-2-1.5 1-.7 1.9z"/><path fill="#5d93fc" d="M430.8 244.1l1-1.3-3.9 1.5-1 1.1z"/><path fill="#fcd85a" d="M443.5 229.3l.5-2.8-1.2 1.6-.4 2.4z"/><path fill="#51abed" d="M433.2 242.6l1.1-2-2.2.9-1.1 1.8z"/><path fill="#93b7ff" d="M461.1 244.6l2.1.6-3.8-1.7-2.1-1.1z"/><path fill="#edc95a" d="M442.2 231.9l.5-2.2-1.2 1.1-.5 2.1z"/><path fill="#42ccc9" d="M437.7 238.3l.6-1.6-2.3 1.6-.5 1.4z"/><path fill="#b7d266" d="M441 234.1l.5-2-1.3.9-.5 1.9z"/><path fill="#84d58d" d="M439.7 236l.7-2.2-1.5 1.1-.7 2z"/><path fill="#eded30" d="M444.1 227.8l.6-3.8-1.3 3-.3 2.3z"/><path fill="#fccc60" d="M443 230.9l.5-2.5-1.2 1.3-.5 2.2z"/><path fill="#57a2f6" d="M457 242.3l1.1.6-2.3-1.6-1-.7z"/><path fill="#d2cf57" d="M441.7 233.2l.5-2.1-1.2 1-.5 2z"/><path fill="#f3f615" d="M444.8 224.8l.7 2.9-1-3.7-.7 3.8z"/><path fill="#4bb7e7" d="M434.7 241.7l1.1-2.1-2.2 1-1 1.9z"/><path fill="#93d581" d="M440.5 235.2l.5-1.9-1.3.9-.5 1.8z"/><path fill="#f6db54" d="M443.7 229.7l.5-2.7-1.2 1.5-.4 2.4z"/><path fill="#39c6d2" d="M437 239.4l.6-1.5-2.3 1.5-.5 1.3z"/><path fill="#60d2ab" d="M439.2 237l.6-1.7-2.3 1.8-.5 1.5z"/><path fill="#638aff" d="M429.8 245.1l1-1.2-3.9 1.3-1 1z"/><path fill="#f6c960" d="M442.5 232.3l.5-2.2-1.3 1.1-.4 2z"/><path fill="#848af9" d="M424.6 247.7l2.1-1.8-3.8.5-2.1 1.6z"/><path fill="#b7d263" d="M441.2 234.4l.5-1.9-1.2.9-.5 1.8z"/><path fill="#f3ed36" d="M444.4 228.3l.5-3.4-1.3 2.3-.2 2.5z"/><path fill="#54abf0" d="M433.8 242.6l1-1.5-3.9 2-.9 1.3z"/><path fill="#ffffff" d="M448.1 233.7l1.7 1.8-1.1-1.4-1.4-2.5z"/><path fill="#d2cf57" d="M442 233.6l.5-2.1-1.3 1-.5 1.9z"/><path fill="#e7f024" d="M445.1 225.5l.7 2.7-1.1-3.4-.7 3.5z"/><path fill="#3fc0de" d="M436.3 240.4l.6-1.3-2.3 1.4-.5 1.2z"/><path fill="#4ecfbd" d="M438.5 238.2l.6-1.6-2.3 1.7-.5 1.4z"/><path fill="#8ad587" d="M440.7 235.5l.5-1.8-2.2 2-.5 1.6z"/><path fill="#fcdb5a" d="M443.9 230.1l.5-2.7-1.2 1.5-.4 2.4z"/><path fill="#579cf9" d="M456.7 242.2l2.9 1.6-1.5-.9-2.8-1.9z"/><path fill="#ffffff" d="M449.1 235.2l1.8 1.5-1.2-1.2-1.4-2.3z"/><path fill="#f0c95a" d="M442.7 232.6l.5-2.2-1.2 1.1-.5 2.1z"/><path fill="#eaea36" d="M444.6 228.7l.6-3.2-1.3 2.1-.3 2.5z"/><path fill="#f9cc60" d="M443.4 231.6l.5-2.3-1.2 1.2-.4 2.1z"/><path fill="#39c9cc" d="M437.8 239.3l.6-1.4-2.3 1.5-.5 1.3z"/><path fill="#6cd59f" d="M440 236.9l.6-1.7-2.3 1.8-.5 1.5z"/><path fill="#c0d260" d="M442.2 233.9l.5-2-2.2 2.3-.5 1.7z"/><path fill="#ffffff" d="M450.2 236.5l1.7 1.4-1.2-1.1-1.4-2.1z"/><path fill="#579ff6" d="M432.8 243.8l.9-1.4-3.8 1.8-1 1.1z"/><path fill="#a8e166" d="M445.3 226.1l.7 2.5-1-3.1-.7 3.2z"/><path fill="#4bbae7" d="M435.2 242.2l1-2.1-2.2 1-1 1.9z"/><path fill="#5d96fc" d="M458.2 243.1l2.9 1.4-1.5-.7-2.8-1.7z"/><path fill="#8196fc" d="M427.6 247l2.1-2.1-3.8.9-2.1 1.8z"/><path fill="#fcd85a" d="M444.2 230.5l.5-2.6-1.2 1.4-.5 2.3z"/><path fill="#f0c95a" d="M443.4 232.4l.3-1.9-1.7 1.8-.3 1.6z"/><path fill="#edea3c" d="M444.9 229.2l.5-3.1-1.2 1.9-.4 2.5z"/><path fill="#5ad2b4" d="M439.4 238.1l.5-1.5-2.3 1.7-.5 1.4z"/><path fill="#99d57b" d="M441.5 235.4l.6-1.8-2.3 2-.5 1.6z"/><path fill="#3cc3d8" d="M436.7 241.2l1-2.2-2.1 1.1-1.1 2z"/><path fill="#fcd55d" d="M444.4 231l.3-2.2-1.7 2.1-.2 1.8z"/><path fill="#f0f31b" d="M445.6 226.6l.7 2.5-1.1-3-.7 3z"/><path fill="#d2cf57" d="M442.9 233.6l.3-1.7-1.7 1.6-.3 1.6z"/><path fill="#5a99fc" d="M431.7 244.8l1-1.2-3.8 1.6-1 1z"/><path fill="#51b1ed" d="M434.2 243.4l1-1.9-2.2.9-1 1.7z"/><path fill="#75d599" d="M440.9 236.8l.5-1.7-2.2 1.9-.6 1.5z"/><path fill="#f3e14e" d="M445.4 229.4l.2-2.8-1.5 2.9-.3 1.8z"/><path fill="#f3c95d" d="M443.9 232.4l.3-1.9-1.7 1.8-.3 1.6z"/><path fill="#42ccc6" d="M438.2 240.2l1-2.4-2.1 1.2-1 2.2z"/><path fill="#bad263" d="M442.4 234.8l.3-1.6-1.7 1.5-.3 1.5z"/><path fill="#ffffff" d="M449.4 234.9l.7.9-1.4-1.5-.5-1.3z"/><path fill="#edf01e" d="M445.8 227.1l.7 2.4-1.1-2.9-.7 3z"/><path fill="#48bde4" d="M435.7 242.5l1-1.9-2.2 1-1 1.8z"/><path fill="#fcd85a" d="M444.9 231l.3-2.2-1.7 2.2-.3 1.7z"/><path fill="#decc57" d="M443.4 233.7l.3-1.8-1.7 1.7-.3 1.5z"/><path fill="#99d57b" d="M441.9 235.9l.3-1.5-1.7 1.4-.4 1.4z"/><path fill="#7ea5ff" d="M430.7 245.7l1-1.1-3.9 1.4-1 .9z"/><path fill="#c6e1f9" d="M456.2 241.8l2.8 1.7-1.5-.9-2.8-2z"/><path fill="#60d2ae" d="M439.7 239l1-2.5-2.1 1.3-1 2.4z"/><path fill="#f3ea42" d="M445.4 230.1l.5-3-1.2 1.8-.4 2.4z"/><path fill="#f9cc60" d="M444.4 232.4l.3-1.9-1.7 1.9-.3 1.6z"/><path fill="#c9cf5a" d="M442.9 234.9l.3-1.7-1.7 1.5-.3 1.5z"/><path fill="#51aeed" d="M434.7 243.4l1-1.4-3.8 1.9-1 1.2z"/><path fill="#39c3d8" d="M437.1 241.6l1.1-2.1-2.2 1.1-1 1.9z"/><path fill="#a5e169" d="M446 227.6l.7 2.3-1-2.8-.8 2.9z"/><path fill="#8dd584" d="M441.7 236.7l.5-1.7-2.2 1.9-.6 1.5z"/><path fill="#fcd85a" d="M444.9 231.7l.5-2.5-1.2 1.3-.5 2.2z"/><path fill="#69cc75" d="M448.2 232.9l.5.9-1.2-2-.5-1z"/><path fill="#e7c957" d="M443.9 233.7l.3-1.8-1.7 1.7-.3 1.6z"/><path fill="#f3e748" d="M445.6 230.5l.5-2.8-1.2 1.6-.4 2.4z"/><path fill="#48ccc3" d="M438.6 240.6l1.1-2.3-2.2 1.2-1 2.1z"/><path fill="#f9cc60" d="M444.4 233.1l.5-2.2-1.2 1.1-.5 2z"/><path fill="#6cd59f" d="M441 238l.5-1.6-2.2 1.7-.6 1.4z"/><path fill="#bdd263" d="M443.2 235.2l.5-1.9-2.2 2.1-.5 1.7z"/><path fill="#7bbaf6" d="M433.7 244.4l1-1.2-3.9 1.7-.9 1z"/><path fill="#edf021" d="M446.3 228.1l.7 2.3-1.1-2.8-.7 2.8z"/><path fill="#45bde1" d="M436.1 242.9l1.1-1.9-2.2 1-1.1 1.7z"/><path fill="#51aeed" d="M455.9 241.5l1 .7-2.2-1.6-1-.9z"/><path fill="#fcd55d" d="M445.1 232.1l.5-2.4-1.2 1.2-.4 2.2z"/><path fill="#edc95a" d="M444.3 233.8l.4-1.8-1.7 1.7-.3 1.5z"/><path fill="#4bbae7" d="M453.3 239.3l1.1 1-2.2-2-1-1.2z"/><path fill="#f6e748" d="M445.8 230.9l.6-2.8-1.3 1.6-.4 2.4z"/><path fill="#5dd2ae" d="M440.3 239.1l.5-1.5-2.2 1.7-.6 1.3z"/><path fill="#99d57b" d="M442.5 236.6l.5-1.8-2.2 2-.6 1.5z"/><path fill="#39c6d2" d="M437.6 242l1.1-2-2.2 1-1 1.9z"/><path fill="#fcd25d" d="M445.3 232.5l.3-2-1.6 1.9-.3 1.7z"/><path fill="#c6e748" d="M446.5 228.6l.7 2.2-1.1-2.7-.7 2.7z"/><path fill="#d2cf57" d="M443.8 234.9l.3-1.6-1.7 1.5-.3 1.5z"/><path fill="#78c9ed" d="M435.1 244l1.1-1.7-2.3.9-1 1.5z"/><path fill="#ffffff" d="M449.6 235l.7 1-1.4-1.5-.5-1.4z"/><path fill="#4bb7e7" d="M454.8 240.7l1.1.8-2.2-1.8-1-1z"/><path fill="#7bd593" d="M441.8 237.9l.5-1.6-2.2 1.8-.6 1.4z"/><path fill="#f0e148" d="M446.3 231l.3-2.4-1.6 2.4-.3 1.8z"/><path fill="#f0c95d" d="M444.8 233.8l.3-1.8-1.6 1.7-.4 1.5z"/><path fill="#48ccc3" d="M439.1 241l1.1-2.2-2.2 1.2-1 2z"/><path fill="#bad263" d="M443.3 236l.3-1.5-1.7 1.4-.3 1.4z"/><path fill="#bae169" d="M446.8 229.1l.7 2.1-1.1-2.6-.8 2.6z"/><path fill="#6ccce7" d="M436.6 243.2l1-1.8-2.2 1-1 1.6z"/><path fill="#a5c64e" d="M448.9 234l.7 1-1.4-1.4-.5-1.7z"/><path fill="#fcd25d" d="M445.8 232.5l.3-2-1.6 2-.3 1.6z"/><path fill="#dbcc54" d="M444.3 235l.3-1.7-1.7 1.6-.3 1.4z"/><path fill="#a2d575" d="M442.8 237.1l.3-1.5-1.7 1.3-.3 1.3z"/><path fill="#63d2ab" d="M440.6 239.9l1-2.4-2.1 1.3-1 2.2z"/><path fill="#ffffff" d="M449.7 235.1l.7 1-1.5-1.5-.5-1.4z"/><path fill="#f6e14e" d="M446.3 231.7l.5-2.6-1.2 1.4-.4 2.3z"/><path fill="#ffffff" d="M453 239.4l1.8 1.3-1.1-.8-1.5-1.8z"/><path fill="#f6c960" d="M445.3 233.8l.3-1.8-1.7 1.7-.3 1.6z"/><path fill="#c6cf5a" d="M443.8 236.1l.3-1.6-1.7 1.5-.3 1.3z"/><path fill="#4bccd5" d="M438.1 242.3l1-1.9-2.2 1-1 1.8z"/><path fill="#eded30" d="M447 229.5l.7 2.1-1.1-2.5-.7 2.5z"/><path fill="#90d581" d="M442.6 237.8l.5-1.6-2.2 1.8-.5 1.4z"/><path fill="#84cc63" d="M449.1 234.3l.6.8-1.3-1.9-.5-.9z"/><path fill="#e4c957" d="M444.8 235l.3-1.6-1.7 1.5-.3 1.5z"/><path fill="#ffffff" d="M451 237.4l1.8 1.4-1.2-1-1.5-2.1z"/><path fill="#f3e14e" d="M446.6 232.1l.5-2.6-1.3 1.5-.4 2.2z"/><path fill="#81dbcf" d="M439.6 241.4l1-2.1-2.2 1.1-1 1.9z"/><path fill="#f9c960" d="M445.3 234.5l.5-2.1-1.2 1-.5 1.9z"/><path fill="#6fd59c" d="M441.9 238.9l.6-1.4-2.3 1.6-.5 1.3z"/><path fill="#c0d260" d="M444.1 236.4l.5-1.8-2.2 2-.5 1.5z"/><path fill="#bdede1" d="M452 238.4l1.8 1.4-1.2-.9-1.5-1.9z"/><path fill="#d5e451" d="M447.2 230l.7 2-1.1-2.5-.7 2.5z"/><path fill="#fcd25d" d="M446.1 233.5l.5-2.2-1.3 1.1-.4 2.1z"/><path fill="#63cf7b" d="M451 236.8l.7.8-1.6-1.8-.6-1z"/><path fill="#ccbd57" d="M448.1 232.4l.5 1-1.2-2.1-.5-1.3z"/><path fill="#e4c957" d="M444.9 235.7l.7-2.3-1.5 1.2-.7 2.2z"/><path fill="#fcd85a" d="M446.8 232.5l.5-2.5-1.2 1.3-.4 2.2z"/><path fill="#84dbbd" d="M441.2 240l.6-1.4-2.3 1.6-.6 1.2z"/><path fill="#9fd575" d="M443.4 237.7l.6-1.7-2.3 1.9-.5 1.4z"/><path fill="#81d8d5" d="M452 238l.7.7-1.6-1.7-.6-.9z"/><path fill="#f0ea3f" d="M447.5 230.4l.7 2-1.1-2.4-.8 2.4z"/><path fill="#f9cc60" d="M445.9 234.6l.7-2.5-1.5 1.3-.7 2.4z"/><path fill="#b4c348" d="M450.3 235.9l.7.9-1.6-2-.6-1.1z"/><path fill="#c6cf5a" d="M444.2 237.1l.7-2.1-1.5 1.1-.7 2z"/><path fill="#a5e4b1" d="M442.7 238.8l.6-1.4-2.3 1.6-.5 1.3z"/><path fill="#f9de54" d="M446.9 233.4l.7-3-1.5 1.7-.6 2.5z"/><path fill="#5dc3ae" d="M451.3 237.2l.7.8-1.6-1.9-.6-.9z"/><path fill="#e4c957" d="M445.2 236.1l.7-2.2-1.5 1.1-.7 2.1z"/><path fill="#a2d572" d="M443.6 238.4l.7-2-1.7 1-.6 1.8z"/><path fill="#d2e44e" d="M447.8 231l.9 2.2-1.4-2.8-.9 2.9z"/><path fill="#f9cc60" d="M446.2 235.1l.7-2.5-1.5 1.3-.7 2.3z"/><path fill="#39c6d5" d="M450.6 236.3l.7.9-1.5-2-.7-1.1z"/><path fill="#dbde90" d="M444.6 237.5l.6-2.1-1.5 1.1-.7 1.9z"/><path fill="#3cc3db" d="M448.9 233.8l.7 1.1-1.5-2.4-.6-1.5z"/><path fill="#f9de51" d="M447.2 233.8l.7-2.8-1.5 1.6-.6 2.5z"/><path fill="#e4d269" d="M445.5 236.5l.7-2.2-1.5 1.1-.7 2.1z"/><path fill="#3cc3db" d="M449.9 235.3l.7 1-1.5-2.1-.7-1.2z"/><path fill="#33c6d2" d="M448.1 231.5l.9 2.2-1.4-2.7-.9 2.8z"/><path fill="#f9d887" d="M446.5 235.5l.7-2.4-1.5 1.2-.7 2.2z"/><path fill="#4ec3c6" d="M449.2 234.2l.7 1.1-1.5-2.3-.6-1.4z"/><path fill="#f9db66" d="M447.5 234.3l.7-2.7-1.5 1.5-.6 2.4z"/><path fill="#f0de48" d="M448.4 232.1l.9 2-1.4-2.6-.9 2.7z"/></g><use href="#uc2" opacity="0.20"/><path d="M376.1 216.7L376.1 242.9L448.3 255.2L498 237.2" stroke="#555555" stroke-width=".6" fill="none"/><path d="M376.1 216.7L448.3 229L498 211M448.3 255.2L448.3 229" stroke="#8c8c8c" stroke-width=".6" fill="none"/><use href="#ud0" x="0" y="0"/><use href="#sd0" x="0" y="0"/><use href="#ud0" x="0" y="0" opacity="0.15"/><path d="M549.2 47L549.2 72.4L619 83.7L657.9 64" stroke="#555555" stroke-width=".6" fill="none"/><path d="M549.2 47L619 58.3L657.9 38.6M619 83.7L619 58.3" stroke="#8c8c8c" stroke-width=".6" fill="none"/><use href="#ud1" x="0" y="0"/><use href="#sd1" x="0" y="0"/><use href="#ud1" x="0" y="0" opacity="0.15"/><path d="M549.2 132.5L549.2 158.3L619 169.6L657.9 149.9" stroke="#555555" stroke-width=".6" fill="none"/><path d="M549.2 132.5L619 143.8L657.9 124.1M619 169.6L619 143.8" stroke="#8c8c8c" stroke-width=".6" fill="none"/><use href="#ud1" x="0" y="86.5"/><use href="#sd1" x="0" y="86.5"/><use href="#ud1" x="0" y="86.5" opacity="0.15"/><path d="M549.2 219L549.2 244.8L619 256.1L657.9 236.4" stroke="#555555" stroke-width=".6" fill="none"/><path d="M549.2 219L619 230.3L657.9 210.6M619 256.1L619 230.3" stroke="#8c8c8c" stroke-width=".6" fill="none"/>
</svg>
<svg id="tx" width="675" height="291" viewBox="0 0 675 291">
<text x="97.91" y="93.16" text-anchor="end">-0.5</text><text x="60.45" y="89.87" text-anchor="end">0</text><text x="22.99" y="86.58" text-anchor="end">0.5</text><text x="116.81" y="89.83">-0.5</text><text x="130.85" y="80.87">0</text><text x="144.89" y="71.91">0.5</text><text x="15.3" y="76.72" text-anchor="end">0</text><text x="15.3" y="64.57" text-anchor="end">0.5</text><text x="15.3" y="52.42" text-anchor="end">1</text><text x="274.91" y="93.96" text-anchor="end">-0.5</text><text x="237.45" y="90.67" text-anchor="end">0</text><text x="199.99" y="87.38" text-anchor="end">0.5</text><text x="293.81" y="90.63">-0.5</text><text x="307.85" y="81.67">0</text><text x="321.89" y="72.71">0.5</text><text x="192.3" y="77.52" text-anchor="end">0</text><text x="192.3" y="65.37" text-anchor="end">0.5</text><text x="192.3" y="53.22" text-anchor="end">1</text><text x="97.91" y="179.56" text-anchor="end">-0.5</text><text x="60.45" y="176.27" text-anchor="end">0</text><text x="22.99" y="172.98" text-anchor="end">0.5</text><text x="116.81" y="176.23">-0.5</text><text x="130.85" y="167.27">0</text><text x="144.89" y="158.31">0.5</text><text x="15.3" y="163.12" text-anchor="end">0</text><text x="15.3" y="150.97" text-anchor="end">0.5</text><text x="15.3" y="138.82" text-anchor="end">1</text><text x="274.91" y="180.36" text-anchor="end">-0.5</text><text x="237.45" y="177.07" text-anchor="end">0</text><text x="199.99" y="173.78" text-anchor="end">0.5</text><text x="293.81" y="177.03">-0.5</text><text x="307.85" y="168.07">0</text><text x="321.89" y="159.11">0.5</text><text x="192.3" y="163.92" text-anchor="end">0</text><text x="192.3" y="151.77" text-anchor="end">0.5</text><text x="192.3" y="139.62" text-anchor="end">1</text><text x="97.91" y="266.56" text-anchor="end">-0.5</text><text x="60.45" y="263.27" text-anchor="end">0</text><text x="22.99" y="259.98" text-anchor="end">0.5</text><text x="116.81" y="263.23">-0.5</text><text x="130.85" y="254.27">0</text><text x="144.89" y="245.31">0.5</text><text x="15.3" y="250.12" text-anchor="end">0</text><text x="15.3" y="237.97" text-anchor="end">0.5</text><text x="15.3" y="225.82" text-anchor="end">1</text><text x="274.91" y="267.36" text-anchor="end">-0.5</text><text x="237.45" y="264.07" text-anchor="end">0</text><text x="199.99" y="260.78" text-anchor="end">0.5</text><text x="293.81" y="264.03">-0.5</text><text x="307.85" y="255.07">0</text><text x="321.89" y="246.11">0.5</text><text x="192.3" y="250.92" text-anchor="end">0</text><text x="192.3" y="238.77" text-anchor="end">0.5</text><text x="192.3" y="226.62" text-anchor="end">1</text><text x="438.08" y="94.8" text-anchor="end">-0.5</text><text x="408" y="89.67" text-anchor="end">0</text><text x="377.92" y="84.55" text-anchor="end">0.5</text><text x="457.14" y="93.62">-0.5</text><text x="477.85" y="86.12">0</text><text x="498.56" y="78.62">0.5</text><text x="372.1" y="74.62" text-anchor="end">0</text><text x="372.1" y="62.61" text-anchor="end">1</text><text x="372.1" y="50.6" text-anchor="end">2</text><text x="438.08" y="179.8" text-anchor="end">-0.5</text><text x="408" y="174.67" text-anchor="end">0</text><text x="377.92" y="169.55" text-anchor="end">0.5</text><text x="457.14" y="178.62">-0.5</text><text x="477.85" y="171.12">0</text><text x="498.56" y="163.62">0.5</text><text x="372.1" y="149.1" text-anchor="end">0.1</text><text x="372.1" y="134.67" text-anchor="end">0.2</text><text x="438.08" y="265.7" text-anchor="end">-0.5</text><text x="408" y="260.57" text-anchor="end">0</text><text x="377.92" y="255.45" text-anchor="end">0.5</text><text x="457.14" y="264.52">-0.5</text><text x="477.85" y="257.02">0</text><text x="498.56" y="249.52">0.5</text><text x="372.1" y="246.12" text-anchor="end">0</text><text x="372.1" y="233.28" text-anchor="end">0.25</text><text x="372.1" y="220.44" text-anchor="end">0.5</text><text x="609.58" y="94.98" text-anchor="end">-0.5</text><text x="580.5" y="90.27" text-anchor="end">0</text><text x="551.42" y="85.56" text-anchor="end">0.5</text><text x="627.64" y="91.88">-0.5</text><text x="643.85" y="83.67">0</text><text x="660.06" y="75.46">0.5</text><text x="545.2" y="75.62" text-anchor="end">0</text><text x="545.2" y="67.53" text-anchor="end">50</text><text x="545.2" y="59.44" text-anchor="end">100</text><text x="545.2" y="51.35" text-anchor="end">150</text><text x="609.58" y="180.88" text-anchor="end">-0.5</text><text x="580.5" y="176.17" text-anchor="end">0</text><text x="551.42" y="171.46" text-anchor="end">0.5</text><text x="627.64" y="177.78">-0.5</text><text x="643.85" y="169.57">0</text><text x="660.06" y="161.36">0.5</text><text x="545.2" y="161.13" text-anchor="end">0</text><text x="545.2" y="148.77" text-anchor="end">2.5</text><text x="545.2" y="136.41" text-anchor="end">5</text><text x="609.58" y="267.38" text-anchor="end">-0.5</text><text x="580.5" y="262.67" text-anchor="end">0</text><text x="551.42" y="257.96" text-anchor="end">0.5</text><text x="627.64" y="264.28">-0.5</text><text x="643.85" y="256.07">0</text><text x="660.06" y="247.86">0.5</text><text x="545.2" y="247.63" text-anchor="end">0</text><text x="545.2" y="235.27" text-anchor="end">2.5</text><text x="545.2" y="222.91" text-anchor="end">5</text><text x="351" y="38.5">×10<tspan style="font-size:6.5px" dy="-5.3">-5</tspan></text>
<g class="t"><text x="47.6" y="13.3" style="font-size:13.5px">(</text><text x="52.2" y="13.3" style="font-size:13.5px" font-weight="bold">a</text><text x="60.4" y="13.3" style="font-size:13.5px">)</text><text x="73.0" y="13.3" style="font-size:13.5px" font-style="italic">p</text><text x="80.4" y="15.1" style="font-size:9.2px" font-weight="bold">H</text><text x="88.3" y="13.3" style="font-size:13.5px">(</text><text x="93.0" y="13.3" style="font-size:13.5px" font-weight="bold">q</text><text x="100.6" y="15.1" style="font-size:9.2px" font-weight="bold">1</text><text x="106.3" y="13.3" style="font-size:13.5px">)</text><text x="229.8" y="13.3" style="font-size:13.5px">(</text><text x="234.3" y="13.3" style="font-size:13.5px" font-weight="bold">b</text><text x="242.8" y="13.3" style="font-size:13.5px">)</text><text x="256.4" y="13.3" style="font-size:13.5px" font-style="italic">p</text><text x="262.8" y="15.1" style="font-size:9.2px" font-weight="bold">V</text><text x="270.0" y="13.3" style="font-size:13.5px">(</text><text x="274.0" y="13.3" style="font-size:13.5px" font-weight="bold">q</text><text x="281.6" y="15.1" style="font-size:9.2px" font-weight="bold">1</text><text x="289.2" y="13.3" style="font-size:13.5px">)</text><text x="387.1" y="13.3" style="font-size:13.5px">(</text><text x="391.6" y="13.3" style="font-size:13.5px" font-weight="bold">c</text><text x="398.8" y="13.3" style="font-size:13.5px">)</text><text x="418.6" y="13.3" style="font-size:13.5px" font-style="italic">ρ</text><text x="425.6" y="7.9" style="font-size:9.2px" font-style="italic">σ</text><text x="456.7" y="13.3" style="font-size:13.5px">(</text><text x="461.8" y="13.3" style="font-size:13.5px" font-weight="bold">q</text><text x="469.0" y="15.1" style="font-size:9.2px" font-weight="bold">1</text><text x="474.7" y="13.3" style="font-size:13.5px">)</text><text x="533.7" y="13.3" style="font-size:13.5px">(</text><text x="537.8" y="13.3" style="font-size:13.5px" font-weight="bold">d</text><text x="546.7" y="13.3" style="font-size:13.5px">)</text><text x="560.2" y="13.3" style="font-size:13.5px" font-style="italic">ϑ</text><text x="568.5" y="13.3" style="font-size:13.5px">(</text><text x="572.8" y="13.3" style="font-size:13.5px" font-style="italic">ω</text><text x="582.5" y="7.9" style="font-size:9.2px">0</text><text x="581.6" y="15.1" style="font-size:9.2px" font-weight="bold" font-style="italic">s</text><text x="587.8" y="13.3" style="font-size:13.5px">,</text><text x="592.6" y="13.3" style="font-size:13.5px" font-style="italic">ω</text><text x="601.8" y="7.9" style="font-size:9.2px">0</text><text x="601.6" y="15.1" style="font-size:9.2px" font-weight="bold" font-style="italic">i</text><text x="607.5" y="13.3" style="font-size:13.5px">,</text><text x="612.4" y="13.3" style="font-size:13.5px" font-weight="bold">q</text><text x="620.0" y="15.1" style="font-size:9.2px" font-weight="bold">1</text><text x="626.3" y="13.3" style="font-size:13.5px">,</text><text x="632.4" y="13.3" style="font-size:13.5px">−</text><text x="641.2" y="13.3" style="font-size:13.5px" font-weight="bold">q</text><text x="648.5" y="15.1" style="font-size:9.2px" font-weight="bold">1</text><text x="655.5" y="13.3" style="font-size:13.5px">)</text><text x="30.6" y="286.3" style="font-size:11.0px" font-style="italic">q</text><text x="35.9" y="287.7" style="font-size:7.5px" font-weight="bold">1</text><text x="39.5" y="287.7" style="font-size:7.5px" font-weight="bold" font-style="italic">y</text><text x="46.4" y="286.3" style="font-size:11.0px">[</text><text x="49.0" y="286.3" style="font-size:11.0px" font-style="italic">μ</text><text x="53.5" y="286.3" style="font-size:11.0px">m</text><text x="64.0" y="281.9" style="font-size:7.5px">−</text><text x="68.4" y="281.9" style="font-size:7.5px">1</text><text x="73.6" y="286.3" style="font-size:11.0px">]</text><text x="115.8" y="275.6" style="font-size:11.0px" font-style="italic">q</text><text x="121.1" y="277.0" style="font-size:7.5px" font-weight="bold">1</text><text x="124.7" y="277.0" style="font-size:7.5px" font-weight="bold" font-style="italic">x</text><text x="131.6" y="275.6" style="font-size:11.0px">[</text><text x="134.2" y="275.6" style="font-size:11.0px" font-style="italic">μ</text><text x="138.7" y="275.6" style="font-size:11.0px">m</text><text x="149.2" y="271.2" style="font-size:7.5px">−</text><text x="153.6" y="271.2" style="font-size:7.5px">1</text><text x="158.8" y="275.6" style="font-size:11.0px">]</text><text x="206.0" y="286.3" style="font-size:11.0px" font-style="italic">q</text><text x="211.3" y="287.7" style="font-size:7.5px" font-weight="bold">1</text><text x="214.9" y="287.7" style="font-size:7.5px" font-weight="bold" font-style="italic">y</text><text x="221.8" y="286.3" style="font-size:11.0px">[</text><text x="224.4" y="286.3" style="font-size:11.0px" font-style="italic">μ</text><text x="228.9" y="286.3" style="font-size:11.0px">m</text><text x="239.4" y="281.9" style="font-size:7.5px">−</text><text x="243.8" y="281.9" style="font-size:7.5px">1</text><text x="249.0" y="286.3" style="font-size:11.0px">]</text><text x="291.2" y="275.6" style="font-size:11.0px" font-style="italic">q</text><text x="296.5" y="277.0" style="font-size:7.5px" font-weight="bold">1</text><text x="300.1" y="277.0" style="font-size:7.5px" font-weight="bold" font-style="italic">x</text><text x="307.0" y="275.6" style="font-size:11.0px">[</text><text x="309.6" y="275.6" style="font-size:11.0px" font-style="italic">μ</text><text x="314.1" y="275.6" style="font-size:11.0px">m</text><text x="324.6" y="271.2" style="font-size:7.5px">−</text><text x="329.0" y="271.2" style="font-size:7.5px">1</text><text x="334.2" y="275.6" style="font-size:11.0px">]</text><text x="375.4" y="285.8" style="font-size:11.0px" font-style="italic">q</text><text x="380.7" y="287.2" style="font-size:7.5px" font-weight="bold">1</text><text x="384.3" y="287.2" style="font-size:7.5px" font-weight="bold" font-style="italic">y</text><text x="391.2" y="285.8" style="font-size:11.0px">[</text><text x="393.8" y="285.8" style="font-size:11.0px" font-style="italic">μ</text><text x="398.3" y="285.8" style="font-size:11.0px">m</text><text x="408.8" y="281.4" style="font-size:7.5px">−</text><text x="413.2" y="281.4" style="font-size:7.5px">1</text><text x="418.4" y="285.8" style="font-size:11.0px">]</text><text x="456.5" y="275.6" style="font-size:11.0px" font-style="italic">q</text><text x="461.8" y="277.0" style="font-size:7.5px" font-weight="bold">1</text><text x="465.4" y="277.0" style="font-size:7.5px" font-weight="bold" font-style="italic">x</text><text x="472.3" y="275.6" style="font-size:11.0px">[</text><text x="474.9" y="275.6" style="font-size:11.0px" font-style="italic">μ</text><text x="479.4" y="275.6" style="font-size:11.0px">m</text><text x="489.9" y="271.2" style="font-size:7.5px">−</text><text x="494.3" y="271.2" style="font-size:7.5px">1</text><text x="499.5" y="275.6" style="font-size:11.0px">]</text><text x="548.8" y="285.8" style="font-size:11.0px" font-style="italic">q</text><text x="554.1" y="287.2" style="font-size:7.5px" font-weight="bold">1</text><text x="557.7" y="287.2" style="font-size:7.5px" font-weight="bold" font-style="italic">y</text><text x="564.6" y="285.8" style="font-size:11.0px">[</text><text x="567.2" y="285.8" style="font-size:11.0px" font-style="italic">μ</text><text x="571.7" y="285.8" style="font-size:11.0px">m</text><text x="582.2" y="281.4" style="font-size:7.5px">−</text><text x="586.6" y="281.4" style="font-size:7.5px">1</text><text x="591.8" y="285.8" style="font-size:11.0px">]</text><text x="627.5" y="275.6" style="font-size:11.0px" font-style="italic">q</text><text x="632.8" y="277.0" style="font-size:7.5px" font-weight="bold">1</text><text x="636.4" y="277.0" style="font-size:7.5px" font-weight="bold" font-style="italic">x</text><text x="643.3" y="275.6" style="font-size:11.0px">[</text><text x="645.9" y="275.6" style="font-size:11.0px" font-style="italic">μ</text><text x="650.4" y="275.6" style="font-size:11.0px">m</text><text x="660.9" y="271.2" style="font-size:7.5px">−</text><text x="665.3" y="271.2" style="font-size:7.5px">1</text><text x="670.5" y="275.6" style="font-size:11.0px">]</text><text x="426.3" y="16.1" style="font-size:8.6px;fill:#2a2a2a" textLength="29.4" lengthAdjust="spacingAndGlyphs">HH,VV</text></g><path d="M421.3 6.6L423.2 4.3L425.1 6.6M416.4 2.2V17.8M482.1 2.2V17.8" fill="none" stroke="#1a1a1a" stroke-width=".65"/><g></g>
</svg>
</body></html>
